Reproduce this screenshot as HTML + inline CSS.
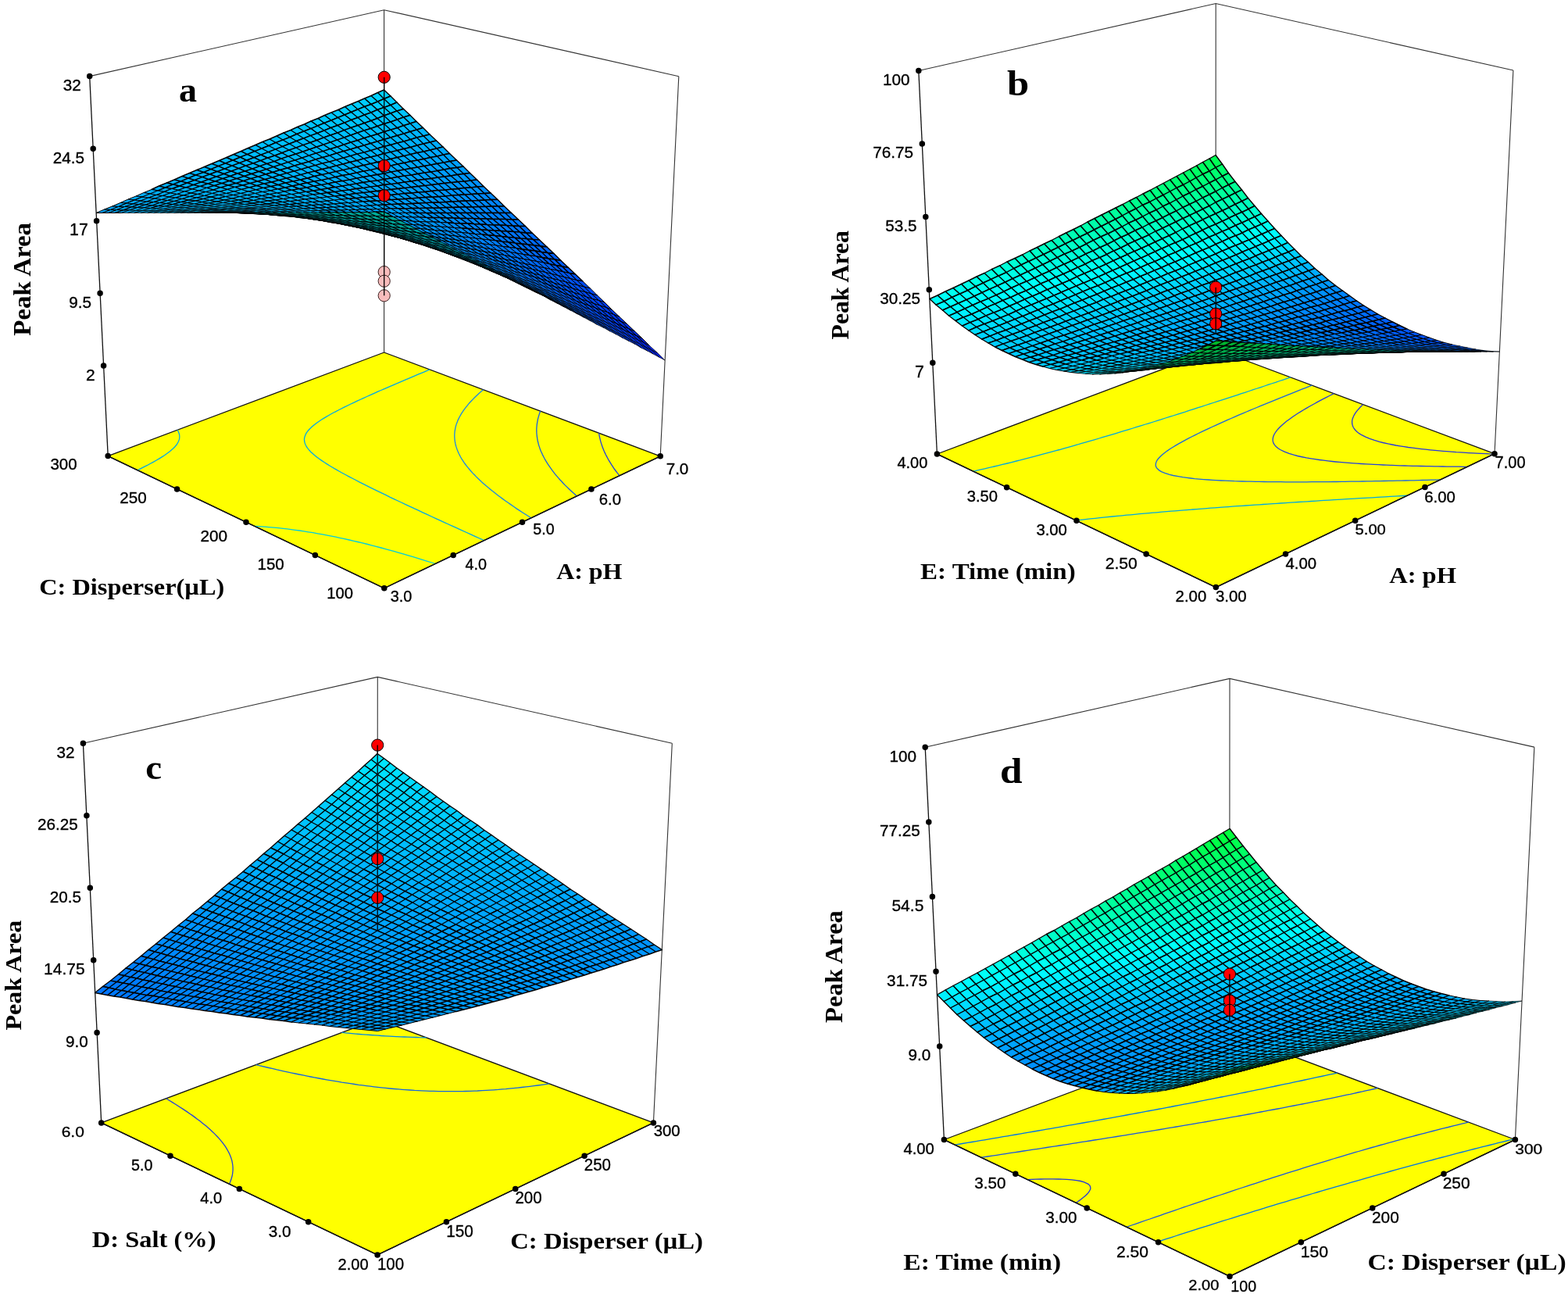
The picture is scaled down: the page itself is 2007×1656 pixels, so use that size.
<!DOCTYPE html><html><head><meta charset="utf-8"><style>
body{margin:0;background:#fff}
svg{display:block}
.bx{fill:none;stroke:#333;stroke-width:1.1}
.bx2{fill:none;stroke:#111;stroke-width:1.3}
.fl{fill:#ffff00;stroke:#111;stroke-width:1.3;stroke-linejoin:round}
.fe{fill:none;stroke:#111;stroke-width:1.4}
.ct{fill:none;stroke-width:1.3}
.sf path{stroke:#000;stroke-linejoin:round}.sf .a{stroke-width:2.8}.sf .b{stroke-width:2.0}.sf .c{stroke-width:1.3}
.dl{stroke:#000;stroke-width:1.3}
.dp{fill:#ff0000;stroke:#000;stroke-width:1}
.dq{fill:#f8bcbc;stroke:#3a2020;stroke-width:1}
.tk{stroke:#000;stroke-width:7.5;stroke-linecap:round}
.s{font-family:"Liberation Sans",Arial,sans-serif;fill:#000;stroke:#000;stroke-width:.35px}
.t{font-family:"Liberation Serif","Times New Roman",serif;font-weight:bold;fill:#000}
</style></head><body><svg xmlns="http://www.w3.org/2000/svg" width="2007" height="1656" viewBox="0 0 2007 1656"><path class="bx" d="M114.7 97.6L491.6 12.7L868.8 97.7M491.6 12.7L491.6 451M868.8 97.7L845.2 583.8"/>
<path class="bx2" d="M114.7 97.6L138.2 583.6"/>
<path class="fl" d="M491.8 752.8L845.2 583.8L491.6 451L138.2 583.6Z"/>
<path class="ct" stroke="#00a8e8" d="M227.1 550.2L228.3 552.4L229.1 554.5L229.6 556.2L229.8 558.3L229.7 561L229.4 562.4L228.4 565.1L227.3 567.2L226.1 569L224.3 571.2L222.2 573.5L219.8 575.6L217.3 577.7L213.9 580.3L210.5 582.7L207.5 584.6L203.9 586.9L199.8 589.3L196.6 591.1L191.6 593.8L188.1 595.7L183.1 598.2L177.9 600.9L176.1 601.7M619.7 691.6L613.8 689L607.9 686.3L602 683.7L596.2 681L590.3 678.4L584.5 675.7L578.8 673.1L573 670.5L568.8 668.6L563.5 666.2L557.9 663.6L552.3 661L546.7 658.4L541.1 655.8L535.5 653.2L530 650.7L524.6 648.1L519.1 645.6L513.7 643L508.3 640.5L504.8 638.8L499.4 636.3L494.2 633.7L488.9 631.2L483.7 628.7L478.5 626.1L473.4 623.6L470 621.9L465 619.4L460 616.9L455.1 614.3L450.7 612L447 610.1L442.2 607.5L437.5 605L434.4 603.2L429.8 600.6L425.3 598L422.4 596.3L418.1 593.6L415.3 591.8L411.3 589.1L408.7 587.3L404.9 584.4L402.5 582.5L400.3 580.6L397.7 578.2L395.4 575.6L393.5 573.3L392.1 571.2L391.1 569.3L390.3 567.4L389.7 565L389.5 562.6L389.6 560.9L390.2 558.4L391.1 556.2L392 554.4L393.4 552.4L395.1 550.3L397.1 548.2L399.4 546.1L402.5 543.5L405.1 541.5L407.6 539.7L411.2 537.3L414.3 535.4L417.2 533.6L421.3 531.3L424.8 529.3L428.5 527.3L433 525L435.9 523.5L440.5 521.2L445 519L448 517.5L452.6 515.3L457.2 513.1L461.9 511L465 509.6L469.6 507.5L474.3 505.4L478.9 503.3L483.6 501.2L487.6 499.5L491.4 497.8L496.1 495.8L500.7 493.8L505.4 491.8L510 489.8L514.7 487.8L519.3 485.9L522.4 484.6L527.1 482.6L531.7 480.7L536.3 478.7L540.9 476.8L545.5 474.9L550.1 473"/>
<path class="ct" stroke="#1a86e8" d="M679.8 662.9L676.6 660.8L672.2 658L668.6 655.7L665.4 653.6L660.8 650.6L657.8 648.5L653.3 645.4L650.3 643.3L647.3 641.2L643 638.1L640.2 636L637.4 633.9L633.7 631.1L630.5 628.6L627.9 626.4L625.3 624.3L622.3 621.8L619 618.9L616.5 616.7L614.2 614.5L611.8 612.3L609.6 610.1L607.4 607.8L605.2 605.6L603.1 603.3L601.1 601L599.2 598.7L597.3 596.3L595.5 594L593.8 591.6L592.2 589.2L590.7 586.8L589.5 584.7L588.5 582.8L587.3 580.5L586.2 578L585.3 575.8L584.7 574.1L583.8 571.4L583.2 569.3L582.8 567.4L582.3 564.7L582.1 563.2L581.9 560.4L581.8 558.9L581.8 556.2L581.9 554.4L582.1 552.2L582.5 549.8L582.8 548.2L583.3 545.9L584 543.4L584.6 541.7L585.3 539.9L586.2 537.6L587.3 535.4L588.4 533.2L589.6 531.1L590.7 529.2L591.9 527.3L593.2 525.4L594.7 523.4L596.2 521.4L597.9 519.3L599.6 517.2L601.5 515L603.4 513L605.2 511.1L607 509.3L608.8 507.5L610.7 505.7L613.3 503.3L615.6 501.3L617.6 499.6L618.6 498.7"/>
<path class="ct" stroke="#1a5ee0" d="M738.3 634.9L735.7 632.6L733.2 630.3L730.7 628L728.3 625.7L725.9 623.4L723.5 621.1L721.2 618.7L719 616.3L716.8 614L714.7 611.6L712.6 609.2L710.6 606.8L708.7 604.3L706.8 601.9L705.2 599.7L703.8 597.7L702.4 595.7L700.7 593.2L699.2 590.7L697.8 588.3L696.8 586.5L695.6 584.2L694.3 581.6L693.4 579.6L692.5 577.7L691.4 575L690.8 573.1L690 570.9L689.3 568.5L688.9 566.8L688.2 564L687.9 562.5L687.5 559.7L687.3 558.2L687 555.5L686.9 553.8L686.8 551.4L686.8 549.3L686.9 547.5L687.1 545L687.3 543.1L687.6 541.2L688 538.8L688.4 536.7L688.8 535.1L689.4 532.9L690.1 530.6L690.8 528.4L691.5 526.6L691.7 526.1"/>
<path class="ct" stroke="#2440dc" d="M792.9 608.8L791.3 606.7L789.7 604.7L788.1 602.5L786.2 600L784.5 597.4L783 595.2L781.9 593.4L780.4 590.9L778.8 588.3L777.7 586.3L776.7 584.4L775.3 581.7L774.3 579.6L773.4 577.7L772.3 575L771.6 573.2L770.7 570.8L770 568.6L769.3 566.6L768.6 564.1L768.2 562.4L767.6 559.8L767.2 558.1L766.8 555.6L766.6 554.2"/>
<path class="ct" stroke="#00cce0" d="M557.4 721.5L552.6 720L545.5 717.8L540.8 716.3L533.6 714.1L528.8 712.7L521.7 710.6L516.9 709.2L509.6 707.1L504.8 705.7L498 703.8L492.6 702.3L487.7 701L480.4 699.1L475.4 697.8L470.4 696.5L462.9 694.7L457.9 693.5L452.8 692.3L447.1 691L440 689.4L434.8 688.3L429.6 687.2L424.3 686.1L419 685.1L412.7 683.9L406.5 682.8L400.5 681.7L394.6 680.8L388.9 679.9L383.3 679L377.9 678.3L372.6 677.6L367.5 676.9L362.4 676.4L356.5 675.7L350.3 675.1L344 674.6L338.8 674.1L334.3 673.8L327.6 673.4L325.7 673.3"/>
<path class="fe" d="M138.2 583.6L491.8 752.8L845.2 583.8"/>
<g class="sf" transform="scale(.5)">
<path class="a" fill="#00d0ff" d="M983 253l17-7-17-16-16 7zM967 260l16-7-16-16-17 8zM950 267l17-7-17-15-17 7z"/>
<path class="a" fill="#00ccff" d="M1000 269l16-7-16-16-17 7zM983 275l17-6-17-16-16 7zM966 281l17-6-16-15-17 7zM933 273l17-6-17-15-16 7zM916 280l17-7-16-14-17 7zM899 287l17-7-16-14-17 7zM882 294l17-7-16-14-17 8z"/>
<path class="a" fill="#00c8ff" d="M1016 284l17-5-17-17-16 7zM1000 290l16-6-16-15-17 6zM983 296l17-6-17-15-17 6zM950 288l16-7-16-14-17 6zM933 294l17-6-17-15-17 7zM916 301l17-7-17-14-17 7zM899 307l17-6-17-14-17 7zM865 301l17-7-16-13-18 7zM848 308l17-7-17-13-17 7zM830 315l18-7-17-13-17 8zM813 322l17-7-16-12-18 7z"/>
<path class="a" fill="#00c4ff" d="M1033 300l17-5-17-16-17 5zM1017 306l16-6-17-16-16 6zM966 303l17-7-17-15-16 7zM950 309l16-6-16-15-17 6zM933 315l17-6-17-15-17 7zM916 321l17-6-17-14-17 6zM882 314l17-7-17-13-17 7zM898 327l18-6-17-14-17 7zM864 321l18-7-17-13-17 7zM847 327l17-6-16-13-18 7zM830 334l17-7-17-12-17 7zM796 329l17-7-17-12-17 8zM812 341l18-7-17-12-17 7zM778 336l18-7-17-11-18 7zM760 343l18-7-17-11-17 8zM742 351l18-8-16-10-18 7z"/>
<path class="a" fill="#00c0ff" d="M1050 316l16-5-16-16-17 5zM1000 312l17-6-17-16-17 6zM983 317l17-5-17-16-17 7zM966 323l17-6-17-14-16 6zM949 329l17-6-16-14-17 6zM932 334l17-5-16-14-17 6zM915 340l17-6-16-13-18 6zM881 333l17-6-16-13-18 7zM898 346l17-6-17-13-17 6zM864 340l17-7-17-12-17 6zM881 352l17-6-17-13-17 7zM846 346l18-6-17-13-17 7zM829 352l17-6-16-12-18 7zM795 347l17-6-16-12-18 7zM811 359l18-7-17-11-17 6zM777 354l18-7-17-11-18 7zM794 365l17-6-16-12-18 7zM759 361l18-7-17-11-18 8zM724 358l18-7-16-11-18 8zM741 368l18-7-17-10-18 7zM706 365l18-7-16-10-18 8zM723 375l18-7-17-10-18 7zM688 373l18-8-16-9-18 7zM670 380l18-7-16-10-18 8z"/>
<path class="a" fill="#00b8ff" d="M1067 332l16-5-17-16-16 5zM1050 337l17-5-17-16-17 5zM1034 342l16-5-17-16-16 6zM1017 347l17-5-17-15-17 5zM1000 352l17-5-17-15-17 5zM983 357l17-5-17-15-17 6zM966 362l17-5-17-14-17 5zM949 367l17-5-17-14-17 5zM932 372l17-5-17-14-17 6zM915 377l17-5-17-13-17 5zM897 382l18-5-17-13-18 6zM880 387l17-5-17-12-17 6zM862 392l18-5-17-11-18 5zM827 387l18-6-17-11-18 6zM844 398l18-6-17-11-18 6zM809 392l18-5-17-11-18 6zM826 403l18-5-17-11-18 5zM791 398l18-6-17-10-17 6zM808 408l18-5-17-11-18 6zM773 404l18-6-16-10-18 6zM790 414l18-6-17-10-18 6zM755 410l18-6-16-10-19 6zM720 406l18-6-16-9-19 7zM772 419l18-5-17-10-18 6zM737 415l18-5-17-10-18 6zM702 413l18-7-17-8-18 6zM667 411l18-7-17-8-18 7zM754 424l18-5-17-9-18 5zM719 421l18-6-17-9-18 7zM683 419l19-6-17-9-18 7zM577 418l19-8-16-7-19 8zM648 418l19-7-17-8-19 7zM613 417l18-7-16-8-19 8zM736 430l18-6-17-9-18 6zM700 427l19-6-17-8-19 6zM559 425l18-7-16-7-19 8zM665 425l18-6-16-8-19 7zM594 424l19-7-17-7-19 8zM629 424l19-6-17-8-18 7zM717 435l19-5-17-9-19 6zM540 433l19-8-17-6-19 8zM682 433l18-6-17-8-18 6zM575 432l19-8-17-6-18 7zM646 432l19-7-17-7-19 6zM611 431l18-7-16-7-19 7zM521 441l19-8-17-6-19 8zM698 441l19-6-17-8-18 6zM556 439l19-7-16-7-19 8zM663 439l19-6-17-8-19 7zM592 438l19-7-17-7-19 8zM627 438l19-6-17-8-18 7zM537 446l19-7-16-6-19 8zM680 446l18-5-16-8-19 6zM573 445l19-7-17-6-19 7zM644 445l19-6-17-7-19 6zM608 444l19-6-16-7-19 7zM589 451l19-7-16-6-19 7zM625 451l19-6-17-7-19 6z"/>
<path class="a" fill="#00bcff" d="M1033 321l17-5-17-16-16 6zM1017 327l16-6-16-15-17 6zM1000 332l17-5-17-15-17 5zM983 337l17-5-17-15-17 6zM966 343l17-6-17-14-17 6zM949 348l17-5-17-14-17 5zM932 353l17-5-17-14-17 6zM915 359l17-6-17-13-17 6zM898 364l17-5-17-13-17 6zM863 358l18-6-17-12-18 6zM880 370l18-6-17-12-18 6zM846 364l17-6-17-12-17 6zM863 376l17-6-17-12-17 6zM828 370l18-6-17-12-18 7zM845 381l18-5-17-12-18 6zM810 376l18-6-17-11-17 6zM776 371l18-6-17-11-18 7zM792 382l18-6-16-11-18 6zM758 378l18-7-17-10-18 7zM775 388l17-6-16-11-18 7zM740 384l18-6-17-10-18 7zM705 382l18-7-17-10-18 8zM757 394l18-6-17-10-18 6zM722 391l18-7-17-9-18 7zM687 389l18-7-17-9-18 7zM652 387l18-7-16-9-19 8zM738 400l19-6-17-10-18 7zM703 398l19-7-17-9-18 7zM668 396l19-7-17-9-18 7zM633 395l19-8-17-8-18 8zM685 404l18-6-16-9-19 7zM650 403l18-7-16-9-19 8zM615 402l18-7-16-8-19 8zM596 410l19-8-17-7-18 8zM631 410l19-7-17-8-18 7z"/>
<path class="a" fill="#00b4ff" d="M1084 348l16-4-17-17-16 5zM1067 352l17-4-17-16-17 5zM1051 357l16-5-17-15-16 5zM1034 362l17-5-17-15-17 5zM1017 366l17-4-17-15-17 5zM1000 371l17-5-17-14-17 5zM983 375l17-4-17-14-17 5zM966 380l17-5-17-13-17 5zM949 385l17-5-17-13-17 5zM966 398l17-5-17-13-17 5zM932 390l17-5-17-13-17 5zM949 402l17-4-17-13-17 5zM914 394l18-4-17-13-18 5zM931 406l18-4-17-12-18 4zM897 399l17-5-17-12-17 5zM914 411l17-5-17-12-17 5zM879 404l18-5-17-12-18 5zM896 415l18-4-17-12-18 5zM861 409l18-5-17-12-18 6zM878 420l18-5-17-11-18 5zM843 414l18-5-17-11-18 5zM861 424l17-4-17-11-18 5zM825 418l18-4-17-11-18 5zM843 429l18-5-18-10-18 4zM807 423l18-5-17-10-18 6zM825 433l18-4-18-11-18 5zM789 428l18-5-17-9-18 5zM806 438l19-5-18-10-18 5zM771 433l18-5-17-9-18 5zM788 442l18-4-17-10-18 5zM753 438l18-5-17-9-18 6zM805 451l19-4-18-9-18 4zM770 447l18-5-17-9-18 5zM734 443l19-5-17-8-19 5zM787 456l18-5-17-9-18 5zM751 452l19-5-17-9-19 5zM501 448l20-7-17-6-19 8zM716 448l18-5-17-8-19 6zM769 460l18-4-17-9-19 5zM482 456l19-8-16-5-19 8zM733 456l18-4-17-9-18 5zM518 453l19-7-16-5-20 7zM697 454l19-6-18-7-18 5zM554 452l19-7-17-6-19 7zM661 452l19-6-17-7-19 6zM463 464l19-8-16-5-20 9zM750 464l19-4-18-8-18 4zM498 461l20-8-17-5-19 8zM714 461l19-5-17-8-19 6zM534 459l20-7-17-6-19 7zM678 459l19-5-17-8-19 6zM570 457l19-6-16-6-19 7zM642 457l19-5-17-7-19 6zM606 457l19-6-17-7-19 7zM443 472l20-8-17-4-19 8zM767 472l19-4-17-8-19 4zM479 468l19-7-16-5-19 8zM731 468l19-4-17-8-19 5zM515 466l19-7-16-6-20 8zM695 466l19-5-17-7-19 5zM551 464l19-7-16-5-20 7zM659 464l19-5-17-7-19 5zM587 463l19-6-17-6-19 6zM623 463l19-6-17-6-19 6zM459 476l20-8-16-4-20 8zM748 476l19-4-17-8-19 4zM495 473l20-7-17-5-19 7zM712 473l19-5-17-7-19 5zM532 470l19-6-17-5-19 7zM676 470l19-4-17-7-19 5zM568 469l19-6-17-6-19 7zM640 469l19-5-17-7-19 6zM604 469l19-6-17-6-19 6zM476 480l19-7-16-5-20 8zM730 480l18-4-17-8-19 5zM512 477l20-7-17-4-20 7zM693 477l19-4-17-7-19 4zM548 475l20-6-17-5-19 6zM657 475l19-5-17-6-19 5zM584 474l20-5-17-6-19 6zM621 474l19-5-17-6-19 6zM456 487l20-7-17-4-19 7zM747 487l19-4-18-7-18 4zM492 484l20-7-17-4-19 7zM711 484l19-4-18-7-19 4zM529 481l19-6-16-5-20 7zM674 481l19-4-17-7-19 5zM565 480l19-6-16-5-20 6zM638 480l19-5-17-6-19 5zM601 479l20-5-17-5-20 5zM728 490l19-3-17-7-19 4zM692 488l19-4-18-7-19 4zM546 486l19-6-17-5-19 6zM655 486l19-5-17-6-19 5zM582 485l19-6-17-5-19 6zM618 485l20-5-17-6-20 5z"/>
<path class="a" fill="#00b0ff" d="M1101 364l16-4-17-16-16 4zM1084 368l17-4-17-16-17 4zM1068 372l16-4-17-16-16 5zM1051 377l17-5-17-15-17 5zM1034 381l17-4-17-15-17 4zM1017 385l17-4-17-15-17 5zM1000 389l17-4-17-14-17 4zM1017 403l17-4-17-14-17 4zM983 393l17-4-17-14-17 5zM1000 407l17-4-17-14-17 4zM983 411l17-4-17-14-17 5zM966 415l17-4-17-13-17 4zM949 419l17-4-17-13-18 4zM931 423l18-4-18-13-17 5zM913 427l18-4-17-12-18 4zM896 431l17-4-17-12-18 5zM913 442l18-4-18-11-17 4zM878 435l18-4-18-11-17 4zM895 446l18-4-17-11-18 4zM860 439l18-4-17-11-18 5zM877 449l18-3-17-11-18 4zM842 443l18-4-17-10-18 4zM859 453l18-4-17-10-18 4zM824 447l18-4-17-10-19 5zM841 457l18-4-17-10-18 4zM858 466l19-3-18-10-18 4zM823 461l18-4-17-10-19 4zM840 470l18-4-17-9-18 4zM804 464l19-3-18-10-18 5zM822 473l18-3-17-9-19 3zM786 468l18-4-17-8-18 4zM839 482l19-3-18-9-18 3zM803 476l19-3-18-9-18 4zM821 485l18-3-17-9-19 3zM423 480l20-8-16-4-20 8zM785 480l18-4-17-8-19 4zM838 493l19-2-18-9-18 3zM404 488l19-8-16-4-19 9zM802 488l19-3-18-9-18 4zM440 483l19-7-16-4-20 8zM766 483l19-3-18-8-19 4zM820 496l18-3-17-8-19 3zM420 491l20-8-17-3-19 8zM783 491l19-3-17-8-19 3zM838 504l18-2-18-9-18 3zM801 498l19-2-18-8-19 3zM765 494l18-3-17-8-19 4z"/>
<path class="a" fill="#00acff" d="M1118 380l16-4-17-16-16 4zM1101 384l17-4-17-16-17 4zM1085 388l16-4-17-16-16 4zM1068 391l17-3-17-16-17 5zM1051 395l17-4-17-14-17 4zM1034 399l17-4-17-14-17 4zM1052 413l17-3-18-15-17 4zM1035 417l17-4-18-14-17 4zM1018 420l17-3-18-14-17 4zM1001 424l17-4-18-13-17 4zM983 428l18-4-18-13-17 4zM966 431l17-3-17-13-17 4zM948 435l18-4-17-12-18 4zM966 447l17-3-17-13-18 4zM931 438l17-3-17-12-18 4zM948 450l18-3-18-12-17 3zM930 453l18-3-17-12-18 4zM913 456l17-3-17-11-18 4zM930 467l18-3-18-11-17 3zM895 460l18-4-18-10-18 3zM912 470l18-3-17-11-18 4zM877 463l18-3-18-11-18 4zM894 473l18-3-17-10-18 3zM912 483l18-2-18-11-18 3zM876 476l18-3-17-10-19 3zM894 486l18-3-18-10-18 3zM858 479l18-3-18-10-18 4zM875 488l19-2-18-10-18 3zM893 498l18-3-17-9-19 2zM857 491l18-3-17-9-19 3zM875 500l18-2-18-10-18 3zM893 509l18-2-18-9-18 2zM856 502l19-2-18-9-19 2zM874 510l19-1-18-9-19 2z"/>
<path class="a" fill="#00a8ff" d="M1135 396l16-3-17-17-16 4zM1119 400l16-4-17-16-17 4zM1102 403l17-3-18-16-16 4zM1085 407l17-4-17-15-17 3zM1069 410l16-3-17-16-17 4zM1069 428l17-3-17-15-17 3zM1052 431l17-3-17-15-17 4zM1035 434l17-3-17-14-17 3zM1018 437l17-3-17-14-17 4zM1001 440l17-3-17-13-18 4zM1018 453l17-3-17-13-17 3zM983 444l18-4-18-12-17 3zM1001 456l17-3-17-13-18 4zM983 459l18-3-18-12-17 3zM966 462l17-3-17-12-18 3zM983 473l18-2-18-12-17 3zM948 464l18-2-18-12-18 3zM966 476l17-3-17-11-18 2zM948 478l18-2-18-12-18 3zM965 489l18-2-17-11-18 2zM930 481l18-3-18-11-18 3zM948 491l17-2-17-11-18 3zM930 493l18-2-18-10-18 2zM947 504l18-2-17-11-18 2zM911 495l19-2-18-10-18 3zM929 505l18-1-17-11-19 2zM947 515l18-1-18-10-18 1zM911 507l18-2-18-10-18 3zM929 516l18-1-18-10-18 2zM947 526l18-1-18-10-18 1zM911 518l18-2-18-9-18 2z"/>
<path class="a" fill="#00a4ff" d="M1152 413l17-3-18-17-16 3zM1136 416l16-3-17-17-16 4zM1119 419l17-3-17-16-17 3zM1103 422l16-3-17-16-17 4zM1086 425l17-3-18-15-16 3zM1087 442l16-2-17-15-17 3zM1070 445l17-3-18-14-17 3zM1053 448l17-3-18-14-17 3zM1035 450l18-2-18-14-17 3zM1053 464l17-3-17-13-18 2zM1036 466l17-2-18-14-17 3zM1018 469l18-3-18-13-17 3zM1001 471l17-2-17-13-18 3zM1019 483l17-2-18-12-17 2zM1001 485l18-2-18-12-18 2zM983 487l18-2-18-12-17 3zM1001 499l18-2-18-12-18 2zM983 500l18-1-18-12-18 2zM965 502l18-2-18-11-17 2zM983 513l18-2-18-11-18 2zM965 514l18-1-18-11-18 2zM983 524l18-1-18-10-18 1zM965 525l18-1-18-10-18 1zM983 535l18-1-18-10-18 1z"/>
<path class="a" fill="#00a0ff" d="M1170 429l16-3-17-16-17 3zM1153 431l17-2-18-16-16 3zM1137 434l16-3-17-15-17 3zM1120 437l17-3-18-15-16 3zM1103 440l17-3-17-15-17 3zM1121 454l17-2-18-15-17 3zM1104 457l17-3-18-14-16 2zM1087 459l17-2-17-15-17 3zM1070 461l17-2-17-14-17 3zM1071 477l17-2-18-14-17 3zM1053 479l18-2-18-13-17 2zM1036 481l17-2-17-13-18 3zM1054 494l17-2-18-13-17 2zM1036 495l18-1-18-13-17 2zM1019 497l17-2-17-12-18 2zM1037 509l17-1-18-13-17 2zM1019 510l18-1-18-12-18 2zM1001 511l18-1-18-11-18 1zM1019 522l18 0-18-12-18 1zM1001 523l18-1-18-11-18 2zM1019 534l18 0-18-12-18 1zM1001 534l18 0-18-11-18 1z"/>
<path class="a" fill="#009cff" d="M1187 445l16-2-17-17-16 3zM1171 447l16-2-17-16-17 2zM1154 450l17-3-18-16-16 3zM1138 452l16-2-17-16-17 3zM1138 469l17-2-17-15-17 2zM1122 471l16-2-17-15-17 3zM1105 473l17-2-18-14-17 2zM1088 475l17-2-18-14-17 2zM1105 489l17-2-17-14-17 2zM1088 491l17-2-17-14-17 2zM1071 492l17-1-17-14-18 2zM1089 505l17-1-18-13-17 1zM1072 506l17-1-18-13-17 2zM1054 508l18-2-18-12-18 1zM1072 520l18-1-18-13-18 2zM1055 521l17-1-18-12-17 1zM1037 522l18-1-18-12-18 1zM1055 533l18 0-18-12-18 1zM1037 534l18-1-18-11-18 0zM1056 545l17 0-18-12-18 1zM1038 545l18 0-19-11-18 0z"/>
<path class="a" fill="#0094ff" d="M1205 462l16-2-18-17-16 2zM1206 480l16-2-17-16-17 2zM1189 481l17-1-18-16-16 1zM1173 483l16-2-17-16-17 2zM1174 499l16-1-17-15-17 1zM1157 500l17-1-18-15-17 2zM1140 502l17-2-18-14-17 1zM1158 516l17-1-18-15-17 2zM1141 517l17-1-18-14-17 1zM1124 518l17-1-18-14-17 1zM1142 531l17 0-18-14-17 1zM1125 532l17-1-18-13-17 0zM1126 545l17 0-18-13-17 0zM1108 545l18 0-18-13-18 0zM1127 557l17 1-18-13-18 0zM1109 557l18 0-19-12-17 0zM1127 569l18 1-18-13-18 0zM1110 568l17 1-18-12-17 0z"/>
<path class="a" fill="#0090ff" d="M1222 478l16-1-17-17-16 2zM1223 496l17-1-18-17-16 2zM1207 497l16-1-17-16-17 1zM1190 498l17-1-18-16-16 2zM1192 514l16 0-18-16-16 1zM1175 515l17-1-18-15-17 1zM1176 530l17 0-18-15-17 1zM1159 531l17-1-18-14-17 1zM1160 545l17 0-18-14-17 0zM1143 545l17 0-18-14-17 1zM1161 558l17 1-18-14-17 0zM1144 558l17 0-18-13-17 0zM1145 570l17 1-18-13-17-1z"/>
<path class="a" fill="#0098ff" d="M1188 464l17-2-18-17-16 2zM1172 465l16-1-17-17-17 3zM1155 467l17-2-18-15-16 2zM1156 484l17-1-18-16-17 2zM1139 486l17-2-18-15-16 2zM1122 487l17-1-17-15-17 2zM1123 503l17-1-18-15-17 2zM1106 504l17-1-18-14-17 2zM1107 518l17 0-18-14-17 1zM1090 519l17-1-18-13-17 1zM1108 532l17 0-18-14-17 1zM1090 532l18 0-18-13-18 1zM1073 533l17-1-18-12-17 1zM1091 545l17 0-18-13-17 1zM1073 545l18 0-18-12-18 0zM1092 557l17 0-18-12-18 0zM1074 556l18 1-19-12-17 0z"/>
<path class="a" fill="#008cff" d="M1240 495l16-1-18-17-16 1zM1225 513l16-1-18-16-16 1zM1208 514l17-1-18-16-17 1zM1209 530l17-1-18-15-16 0zM1193 530l16 0-17-16-17 1zM1194 545l17 0-18-15-17 0zM1177 545l17 0-18-15-17 1zM1178 559l17 0-18-14-17 0zM1179 572l18 0-19-13-17-1zM1162 571l17 1-18-14-17 0zM1181 584l17 1-19-13-17-1zM1163 583l18 1-19-13-17-1z"/>
<path class="a" fill="#0088ff" d="M1257 511l17 0-18-17-16 1zM1241 512l16-1-17-16-17 1zM1243 529l16-1-18-16-16 1zM1226 529l17 0-18-16-17 1zM1227 545l17 0-18-16-17 1zM1211 545l16 0-18-15-16 0zM1212 559l17 1-18-15-17 0zM1195 559l17 0-18-14-17 0zM1213 573l17 1-18-15-17 0zM1197 572l16 1-18-14-17 0zM1198 585l17 1-18-14-18 0zM1199 597l17 2-18-14-17-1z"/>
<path class="a" fill="#0084ff" d="M1275 528l16 0-17-17-17 0zM1259 528l16 0-18-17-16 1zM1260 545l17 0-18-17-16 1zM1244 545l16 0-17-16-17 0zM1246 560l16 1-18-16-17 0zM1229 560l17 0-19-15-16 0zM1230 574l17 1-18-15-17-1zM1232 588l17 1-19-15-17-1zM1215 586l17 2-19-15-16-1zM1233 600l17 2-18-14-17-2zM1216 599l17 1-18-14-17-1z"/>
<path class="a" fill="#0080ff" d="M1293 545l16 0-18-17-16 0zM1277 545l16 0-18-17-16 0zM1278 561l17 0-18-16-17 0zM1262 561l16 0-18-16-16 0zM1264 576l16 0-18-15-16-1zM1247 575l17 1-18-16-17 0zM1265 590l17 1-18-15-17-1zM1249 589l16 1-18-15-17-1zM1250 602l17 1-18-14-17-1zM1252 614l17 2-19-14-17-2z"/>
<path class="a" fill="#007cff" d="M1311 562l16 0-18-17-16 0zM1295 561l16 1-18-17-16 0zM1297 577l16 1-18-17-17 0zM1280 576l17 1-19-16-16 0zM1282 591l16 1-18-16-16 0zM1284 605l16 2-18-16-17-1zM1267 603l17 2-19-15-16-1zM1269 616l16 2-18-15-17-1z"/>
<path class="a" fill="#0078ff" d="M1329 579l16 0-18-17-16 0zM1313 578l16 1-18-17-16-1zM1315 593l16 1-18-16-16-1zM1298 592l17 1-18-16-17-1zM1300 607l17 1-19-16-16-1zM1302 620l17 2-19-15-16-2zM1285 618l17 2-18-15-17-2zM1304 633l17 2-19-15-17-2zM1287 631l17 2-19-15-16-2z"/>
<path class="a" fill="#0070ff" d="M1347 596l16 1-18-18-16 0zM1349 611l16 2-18-17-16-2zM1351 626l16 2-18-17-16-1zM1335 624l16 2-18-16-16-2zM1337 638l16 2-18-16-16-2zM1339 651l17 3-19-16-16-3z"/>
<path class="a" fill="#006cff" d="M1365 613l16 1-18-17-16-1zM1367 628l17 2-19-17-16-2zM1370 642l16 3-19-17-16-2zM1353 640l17 2-19-16-16-2zM1356 654l16 2-19-16-16-2z"/>
<path class="a" fill="#0074ff" d="M1331 594l16 2-18-17-16-1zM1333 610l16 1-18-17-16-1zM1317 608l16 2-18-17-17-1zM1319 622l16 2-18-16-17-1zM1321 635l16 3-18-16-17-2z"/>
<path class="a" fill="#0068ff" d="M1384 630l16 2-19-18-16-1zM1386 645l16 2-18-17-17-2zM1372 656l16 3-18-17-17-2z"/>
<path class="a" fill="#0064ff" d="M1402 647l16 2-18-17-16-2zM1404 662l16 2-18-17-16-2zM1388 659l16 3-18-17-16-3zM1391 672l16 4-19-17-16-3z"/>
<path class="a" fill="#0060ff" d="M1420 664l16 3-18-18-16-2zM1423 679l16 3-19-18-16-2zM1407 676l16 3-19-17-16-3z"/>
<path class="a" fill="#005cff" d="M1439 682l16 3-19-18-16-3zM1442 696l15 3-18-17-16-3zM1426 692l16 4-19-17-16-3z"/>
<path class="a" fill="#0058ff" d="M1457 699l16 3-18-17-16-3z"/>
<path class="a" fill="#0054ff" d="M1476 717l16 3-19-18-16-3z"/>
<path class="b" fill="#004cfc" d="M1495 734l16 4-19-18-16-3z"/>
<path class="b" fill="#0054ff" d="M1460 713l16 4-19-18-15-3z"/>
<path class="b" fill="#0048fc" d="M1514 752l15 4-18-18-16-4z"/>
<path class="b" fill="#0050fc" d="M1479 730l16 4-19-17-16-4z"/>
<path class="b" fill="#0044f8" d="M1533 769l15 5-19-18-15-4z"/>
<path class="b" fill="#0058fc" d="M1444 709l16 4-18-17-16-4z"/>
<path class="b" fill="#004cf8" d="M1498 747l16 5-19-18-16-4z"/>
<path class="b" fill="#0060ff" d="M1409 689l17 3-19-16-16-4z"/>
<path class="b" fill="#003cf4" d="M1552 787l15 6-19-19-15-5z"/>
<path class="b" fill="#0054fc" d="M1463 726l16 4-19-17-16-4z"/>
<path class="b" fill="#0068ff" d="M1374 669l17 3-19-16-16-2z"/>
<path class="b" fill="#0048f4" d="M1517 765l16 4-19-17-16-5zM1501 760l16 5-19-18-16-4z"/>
<path class="b" fill="#005cfc" d="M1428 705l16 4-18-17-17-3z"/>
<path class="b" fill="#0038f0" d="M1571 805l15 6-19-18-15-6z"/>
<path class="b" fill="#0050f8" d="M1482 743l16 4-19-17-16-4z"/>
<path class="b" fill="#0064fc" d="M1393 685l16 4-18-17-17-3z"/>
<path class="b" fill="#0040f4" d="M1536 782l16 5-19-18-16-4z"/>
<path class="b" fill="#0058f8" d="M1447 721l16 5-19-17-16-4z"/>
<path class="b" fill="#0034f0" d="M1590 823l15 6-19-18-15-6z"/>
<path class="b" fill="#006cff" d="M1358 666l16 3-18-15-17-3z"/>
<path class="b" fill="#0060f8" d="M1412 701l16 4-19-16-16-4zM1396 697l16 4-19-16-16-3z"/>
<path class="b" fill="#0074ff" d="M1323 648l16 3-18-16-17-2z"/>
<path class="b" fill="#003cf0" d="M1555 799l16 6-19-18-16-5z"/>
<path class="b" fill="#0054f4" d="M1466 738l16 5-19-17-16-5zM1450 733l16 5-19-17-16-4z"/>
<path class="b" fill="#0030ec" d="M1609 841l16 7-20-19-15-6z"/>
<path class="b" fill="#0068fc" d="M1377 682l16 3-19-16-16-3z"/>
<path class="b" fill="#0044f0" d="M1520 777l16 5-19-17-16-5z"/>
<path class="b" fill="#005cf8" d="M1431 717l16 4-19-16-16-4z"/>
<path class="b" fill="#0070fc" d="M1341 663l17 3-19-15-16-3zM1325 660l16 3-18-15-17-3z"/>
<path class="b" fill="#0038ec" d="M1574 817l16 6-19-18-16-6z"/>
<path class="b" fill="#002ce8" d="M1629 859l15 7-19-18-16-7z"/>
<path class="b" fill="#004cf4" d="M1485 754l16 6-19-17-16-5z"/>
<path class="b" fill="#0074fc" d="M1306 645l17 3-19-15-17-2z"/>
<path class="b" fill="#0040ec" d="M1539 794l16 5-19-17-16-5z"/>
<path class="b" fill="#007cff" d="M1270 628l17 3-18-15-17-2z"/>
<path class="b" fill="#0068f8" d="M1360 678l17 4-19-16-17-3z"/>
<path class="b" fill="#0034e8" d="M1594 835l15 6-19-18-16-6z"/>
<path class="b" fill="#0024e4" d="M1648 877l15 8-19-19-15-7z"/>
<path class="b" fill="#0048f0" d="M1504 771l16 6-19-17-16-6z"/>
<path class="b" fill="#0084ff" d="M1235 612l17 2-19-14-17-1zM1218 610l17 2-19-13-17-2z"/>
<path class="b" fill="#005cf4" d="M1415 713l16 4-19-16-16-4z"/>
<path class="b" fill="#003cec" d="M1559 811l15 6-19-18-16-5z"/>
<path class="b" fill="#0050f0" d="M1469 749l16 5-19-16-16-5z"/>
<path class="b" fill="#0078fc" d="M1289 642l17 3-19-14-17-3z"/>
<path class="b" fill="#0064f8" d="M1379 693l17 4-19-15-17-4z"/>
<path class="c" fill="#0020e0" d="M1668 896l15 7-20-18-15-8z"/>
<path class="b" fill="#0044ec" d="M1524 788l15 6-19-17-16-6z"/>
<path class="b" fill="#0080fc" d="M1254 626l16 2-18-14-17-2zM1236 624l18 2-19-14-17-2z"/>
<path class="b" fill="#0058f0" d="M1434 729l16 4-19-16-16-4z"/>
<path class="b" fill="#006cf8" d="M1344 675l16 3-19-15-16-3z"/>
<path class="b" fill="#0038e8" d="M1578 828l16 7-20-18-15-6z"/>
<path class="b" fill="#004cec" d="M1488 766l16 5-19-17-16-5z"/>
<path class="b" fill="#0028e4" d="M1633 870l15 7-19-18-16-7z"/>
<path class="b" fill="#0074f8" d="M1308 657l17 3-19-15-17-3zM1291 653l17 4-19-15-17-2z"/>
<path class="b" fill="#0060f4" d="M1398 709l17 4-19-16-17-4z"/>
<path class="c" fill="#001ce0" d="M1687 914l15 8-19-19-15-7z"/>
<path class="b" fill="#008cff" d="M1182 595l17 2-18-13-18-1z"/>
<path class="b" fill="#0040e8" d="M1543 805l16 6-20-17-15-6z"/>
<path class="b" fill="#0078f8" d="M1272 640l17 2-19-14-16-2z"/>
<path class="b" fill="#0054f0" d="M1453 744l16 5-19-16-16-4z"/>
<path class="b" fill="#0068f4" d="M1363 689l16 4-19-15-16-3zM1346 685l17 4-19-14-17-4z"/>
<path class="b" fill="#0090ff" d="M1146 581l17 2-18-13-18-1z"/>
<path class="c" fill="#0024e0" d="M1652 888l16 8-20-19-15-7z"/>
<path class="b" fill="#0048ec" d="M1508 782l16 6-20-17-16-5z"/>
<path class="b" fill="#005cf0" d="M1417 724l17 5-19-16-17-4z"/>
<path class="b" fill="#0070f4" d="M1327 671l17 4-19-15-17-3zM1310 667l17 4-19-14-17-4z"/>
<path class="b" fill="#003ce4" d="M1562 821l16 7-19-17-16-6z"/>
<path class="b" fill="#0088fc" d="M1201 608l17 2-19-13-17-2z"/>
<path class="b" fill="#0050ec" d="M1472 760l16 6-19-17-16-5z"/>
<path class="c" fill="#0030e0" d="M1617 863l16 7-20-18-15-7z"/>
<path class="b" fill="#0064f0" d="M1382 704l16 5-19-16-16-4zM1365 700l17 4-19-15-17-4z"/>
<path class="b" fill="#008cfc" d="M1164 594l18 1-19-12-17-2zM1147 592l17 2-18-13-18-1z"/>
<path class="c" fill="#0020dc" d="M1672 906l15 8-19-18-16-8z"/>
<path class="b" fill="#0044e8" d="M1527 798l16 7-19-17-16-6z"/>
<path class="b" fill="#007cf8" d="M1255 637l17 3-18-14-18-2z"/>
<path class="b" fill="#0058ec" d="M1437 739l16 5-19-15-17-5z"/>
<path class="b" fill="#0090fc" d="M1128 580l18 1-19-12-17-1z"/>
<path class="b" fill="#0038e4" d="M1582 838l16 7-20-17-16-7z"/>
<path class="b" fill="#0080f8" d="M1219 621l17 3-18-14-17-2z"/>
<path class="b" fill="#0098ff" d="M1092 568l18 0-18-11-18-1z"/>
<path class="b" fill="#0060ec" d="M1401 719l16 5-19-15-16-5zM1384 714l17 5-19-15-17-4z"/>
<path class="b" fill="#009cff" d="M1056 556l18 0-18-11-18 0z"/>
<path class="b" fill="#0088f8" d="M1183 606l18 2-19-13-18-1zM1166 604l17 2-19-12-17-2z"/>
<path class="b" fill="#0040e4" d="M1547 815l15 6-19-16-16-7z"/>
<path class="b" fill="#00b0ff" d="M384 496l20-8-16-3-20 8zM436 494l20-7-16-4-20 8zM819 506l19-2-18-8-19 2zM782 501l19-3-18-7-18 3z"/>
<path class="b" fill="#00a0ff" d="M1020 545l18 0-19-11-18 0z"/>
<path class="b" fill="#0078f4" d="M1274 650l17 3-19-13-17-3zM1257 647l17 3-19-13-17-3z"/>
<path class="b" fill="#0054e8" d="M1456 755l16 5-19-16-16-5z"/>
<path class="c" fill="#0034e0" d="M1602 855l15 8-19-18-16-7z"/>
<path class="b" fill="#007cf4" d="M1238 634l17 3-19-13-17-3z"/>
<path class="b" fill="#0048e4" d="M1511 792l16 6-19-16-16-6z"/>
<path class="c" fill="#0024dc" d="M1657 898l15 8-20-18-15-8z"/>
<path class="b" fill="#0094fc" d="M1111 579l17 1-18-12-18 0z"/>
<path class="b" fill="#006cf0" d="M1329 681l17 4-19-14-17-4z"/>
<path class="b" fill="#005cec" d="M1420 734l17 5-20-15-16-5z"/>
<path class="b" fill="#0098fc" d="M1074 567l18 1-18-12-18 0z"/>
<path class="c" fill="#003ce0" d="M1566 831l16 7-20-17-15-6z"/>
<path class="b" fill="#0084f8" d="M1202 619l17 2-18-13-18-2z"/>
<path class="b" fill="#00acfc" d="M364 504l20-8-16-3-20 9zM873 520l19-1-18-9-19 2zM837 514l18-2-17-8-19 2z"/>
<path class="b" fill="#0074f0" d="M1293 664l17 3-19-14-17-3zM1276 660l17 4-19-14-17-3z"/>
<path class="b" fill="#009cfc" d="M1038 555l18 1-18-11-18 0zM1020 555l18 0-18-10-18 0z"/>
<path class="b" fill="#00b0fc" d="M400 499l20-8-16-3-20 8zM416 501l20-7-16-3-20 8zM453 497l20-7-17-3-20 7zM800 508l19-2-18-8-19 3zM763 504l19-3-17-7-19 3zM726 500l20-3-18-7-19 4zM543 495l19-5-16-4-20 5z"/>
<path class="b" fill="#00a0fc" d="M1002 545l18 0-19-11-18 1z"/>
<path class="b" fill="#00b4ff" d="M473 490l19-6-16-4-20 7zM509 488l20-7-17-4-20 7zM746 497l19-3-18-7-19 3zM709 494l19-4-17-6-19 4zM672 491l20-3-18-7-19 5zM636 490l19-4-17-6-20 5zM599 490l19-5-17-6-19 6z"/>
<path class="b" fill="#0090f8" d="M1129 590l18 2-19-12-17-1z"/>
<path class="b" fill="#0068ec" d="M1348 695l17 5-19-15-17-4z"/>
<path class="b" fill="#00a4fc" d="M965 535l18 0-18-10-18 1zM947 536l18-1-18-9-18 1z"/>
<path class="b" fill="#00a8ff" d="M929 527l18-1-18-10-18 2z"/>
<path class="b" fill="#0080f4" d="M1221 631l17 3-19-13-17-2z"/>
<path class="b" fill="#0094f8" d="M1093 578l18 1-19-11-18-1zM1075 576l18 2-19-11-18-1z"/>
<path class="b" fill="#004ce4" d="M1495 786l16 6-19-16-17-6z"/>
<path class="b" fill="#00acff" d="M892 519l19-1-18-9-19 1zM855 512l19-2-18-8-18 2z"/>
<path class="b" fill="#0070ec" d="M1312 677l17 4-19-14-17-3zM1295 673l17 4-19-13-17-4z"/>
<path class="b" fill="#005ce8" d="M1404 729l16 5-19-15-17-5z"/>
<path class="b" fill="#00a8f8" d="M344 512l20-8-16-2-20 8zM360 514l20-8-16-2-20 8zM891 528l19 0-18-9-19 1zM855 522l18-2-18-8-18 2zM873 529l18-1-18-8-18 2zM836 523l19-1-18-8-19 2z"/>
<path class="b" fill="#0098f8" d="M1056 566l18 1-18-11-18-1zM1038 565l18 1-18-11-18 0z"/>
<path class="b" fill="#0084f4" d="M1184 616l18 3-19-13-17-2z"/>
<path class="b" fill="#00acf8" d="M380 506l20-7-16-3-20 8zM396 508l20-7-16-2-20 7zM433 504l20-7-17-3-20 7zM818 516l19-2-18-8-19 2zM781 510l19-2-18-7-19 3zM799 517l19-1-18-8-19 2zM762 513l19-3-18-6-19 2z"/>
<path class="c" fill="#0040e0" d="M1550 824l16 7-19-16-16-7z"/>
<path class="b" fill="#0050e4" d="M1459 764l16 6-19-15-16-6z"/>
<path class="b" fill="#0064e8" d="M1368 709l16 5-19-14-17-5z"/>
<path class="b" fill="#008cf4" d="M1148 602l18 2-19-12-18-2zM1130 600l18 2-19-12-17-1z"/>
<path class="b" fill="#00b4fc" d="M489 494l20-6-17-4-19 6zM526 491l20-5-17-5-20 7zM562 490l20-5-17-5-19 6zM690 497l19-3-17-6-20 3zM653 495l19-4-17-5-19 4zM579 495l20-5-17-5-20 5zM616 495l20-5-18-5-19 5z"/>
<path class="b" fill="#007cf0" d="M1240 644l17 3-19-13-17-3z"/>
<path class="b" fill="#0090f4" d="M1112 589l17 1-18-11-18-1zM1094 587l18 2-19-11-18-2z"/>
<path class="b" fill="#006cec" d="M1331 691l17 4-19-14-17-4z"/>
<path class="b" fill="#00a8fc" d="M910 528l19-1-18-9-19 1z"/>
<path class="b" fill="#00a4f4" d="M324 520l20-8-16-2-20 9zM340 522l20-8-16-2-20 8zM910 537l18-1-18-8-19 0zM891 537l19 0-19-9-18 1z"/>
<path class="b" fill="#0080f0" d="M1203 628l18 3-19-12-18-3z"/>
<path class="c" fill="#004ce0" d="M1479 779l16 7-20-16-16-6z"/>
<path class="b" fill="#0060e8" d="M1387 723l17 6-20-15-16-5z"/>
<path class="b" fill="#0088f0" d="M1167 614l17 2-18-12-18-2zM1149 611l18 3-19-12-18-2z"/>
<path class="b" fill="#00b0f8" d="M469 500l20-6-16-4-20 7zM506 497l20-6-17-3-20 6zM744 506l19-2-17-7-20 3zM486 503l20-6-17-3-20 6zM707 503l19-3-17-6-19 3zM523 501l20-6-17-4-20 6zM670 501l20-4-18-6-19 4zM560 499l19-4-17-5-19 5zM633 499l20-4-17-5-20 5zM597 499l19-4-17-5-20 5zM725 509l19-3-18-6-19 3zM688 506l19-3-17-6-20 4z"/>
<path class="c" fill="#0044dc" d="M1534 817l16 7-19-16-17-7z"/>
<path class="b" fill="#0078ec" d="M1259 656l17 4-19-13-17-3zM1241 653l18 3-19-12-18-4z"/>
<path class="c" fill="#0054e4" d="M1443 758l16 6-19-15-17-6z"/>
<path class="b" fill="#0068e8" d="M1351 704l17 5-20-14-17-4z"/>
<path class="b" fill="#00a4f8" d="M928 536l19 0-18-9-19 1z"/>
<path class="b" fill="#007cec" d="M1222 640l18 4-19-13-18-3z"/>
<path class="b" fill="#00a4f0" d="M303 529l21-9-16-1-21 9zM319 529l21-7-16-2-21 9zM356 523l20-7-16-2-20 8zM872 538l19-1-18-8-19 1zM835 531l19-1-18-7-19 1z"/>
<path class="c" fill="#0048dc" d="M1498 795l16 6-19-15-16-7z"/>
<path class="b" fill="#006ce8" d="M1314 686l17 5-19-14-17-4z"/>
<path class="b" fill="#005ce4" d="M1406 738l17 5-19-14-17-6z"/>
<path class="b" fill="#0094f4" d="M1057 575l18 1-19-10-18-1z"/>
<path class="b" fill="#0084f0" d="M1186 625l17 3-19-12-17-2z"/>
<path class="b" fill="#00a8f4" d="M376 516l20-8-16-2-20 8zM429 513l20-7-16-2-20 7zM854 530l19-1-18-7-19 1zM817 524l19-1-18-7-19 1z"/>
<path class="b" fill="#00acf4" d="M413 511l20-7-17-3-20 7zM449 506l20-6-16-3-20 7zM466 509l20-6-17-3-20 6zM503 506l20-5-17-4-20 6zM780 519l19-2-18-7-19 3zM742 515l20-2-18-7-19 3zM705 512l20-3-18-6-19 3zM668 509l20-3-18-5-19 3zM631 508l20-4-18-5-19 4zM594 508l20-5-17-4-20 4z"/>
<path class="b" fill="#0074e8" d="M1278 669l17 4-19-13-17-4zM1261 665l17 4-19-13-18-3z"/>
<path class="c" fill="#0050e0" d="M1462 773l17 6-20-15-16-6z"/>
<path class="b" fill="#0064e4" d="M1370 718l17 5-19-14-17-5z"/>
<path class="b" fill="#008cf0" d="M1112 598l18 2-18-11-18-2z"/>
<path class="b" fill="#0068e4" d="M1334 700l17 4-20-13-17-5z"/>
<path class="b" fill="#00a0f0" d="M283 537l20-8-16-1-20 8z"/>
<path class="b" fill="#0090f0" d="M1076 585l18 2-19-11-18-1z"/>
<path class="b" fill="#0080ec" d="M1205 637l17 3-19-12-17-3z"/>
<path class="b" fill="#0070e8" d="M1297 682l17 4-19-13-17-4z"/>
<path class="c" fill="#004cdc" d="M1482 788l16 7-19-16-17-6z"/>
<path class="b" fill="#00a8f0" d="M393 517l20-6-17-3-20 8zM409 519l20-6-16-2-20 6zM446 515l20-6-17-3-20 7zM798 525l19-1-18-7-19 2zM760 521l20-2-18-6-20 2z"/>
<path class="c" fill="#0060e0" d="M1390 732l16 6-19-15-17-5z"/>
<path class="b" fill="#0084ec" d="M1168 622l18 3-19-11-18-3z"/>
<path class="b" fill="#00b0f4" d="M540 504l20-5-17-4-20 6zM651 504l19-3-17-6-20 4zM577 503l20-4-18-4-19 4zM614 503l19-4-17-4-19 4z"/>
<path class="b" fill="#0088ec" d="M1131 609l18 2-19-11-18-2z"/>
<path class="b" fill="#009cec" d="M262 545l21-8-16-1-21 9z"/>
<path class="b" fill="#0090ec" d="M1094 596l18 2-18-11-18-2z"/>
<path class="b" fill="#007ce8" d="M1224 649l17 4-19-13-17-3z"/>
<path class="b" fill="#00a0ec" d="M299 537l20-8-16 0-20 8zM336 530l20-7-16-1-21 7zM352 531l20-7-16-1-20 7z"/>
<path class="b" fill="#006ce4" d="M1317 695l17 5-20-14-17-4z"/>
<path class="b" fill="#0080e8" d="M1187 634l18 3-19-12-18-3z"/>
<path class="b" fill="#00a4ec" d="M372 524l21-7-17-1-20 7zM389 526l20-7-16-2-21 7zM853 538l19 0-18-8-19 1zM816 532l19-1-18-7-19 1zM834 538l19 0-18-7-19 1zM796 533l20-1-18-7-20 2z"/>
<path class="b" fill="#0074e4" d="M1280 677l17 5-19-13-17-4z"/>
<path class="b" fill="#00acf0" d="M483 512l20-6-17-3-20 6zM520 509l20-5-17-3-20 5zM557 508l20-5-17-4-20 5zM723 517l19-2-17-6-20 3zM686 514l19-2-17-6-20 3zM537 513l20-5-17-4-20 5zM649 513l19-4-17-5-20 4zM574 512l20-4-17-5-20 5zM611 512l20-4-17-5-20 5z"/>
<path class="b" fill="#0088e8" d="M1150 619l18 3-19-11-18-2zM1132 616l18 3-19-10-18-3z"/>
<path class="c" fill="#0050d8" d="M1465 781l17 7-20-15-16-7z"/>
<path class="c" fill="#0064e0" d="M1373 726l17 6-20-14-17-5z"/>
<path class="b" fill="#0078e4" d="M1243 661l18 4-20-12-17-4z"/>
<path class="b" fill="#008cec" d="M1113 606l18 3-19-11-18-2z"/>
<path class="b" fill="#009ce8" d="M278 545l21-8-16 0-21 8z"/>
<path class="b" fill="#00a0e8" d="M315 538l21-8-17-1-20 8zM331 538l21-7-16-1-21 8zM368 532l21-6-17-2-20 7z"/>
<path class="b" fill="#007ce4" d="M1206 645l18 4-19-12-18-3z"/>
<path class="c" fill="#0070e0" d="M1299 690l18 5-20-13-17-5zM1282 684l17 6-19-13-18-4z"/>
<path class="c" fill="#004cd8" d="M1485 795l17 8-20-15-17-7z"/>
<path class="b" fill="#00a8ec" d="M426 521l20-6-17-2-20 6zM463 517l20-5-17-3-20 6zM500 514l20-5-17-3-20 6zM778 527l20-2-18-6-20 2zM741 523l19-2-18-6-19 2zM480 519l20-5-17-2-20 5zM704 519l19-2-18-5-19 2zM517 517l20-4-17-4-20 5zM554 516l20-4-17-4-20 5zM759 528l19-1-18-6-19 2z"/>
<path class="b" fill="#0084e8" d="M1169 630l18 4-19-12-18-3z"/>
<path class="c" fill="#0074e0" d="M1262 673l18 4-19-12-18-4z"/>
<path class="c" fill="#0044d4" d="M1542 833l16 8-20-16-16-7z"/>
<path class="c" fill="#0064dc" d="M1356 720l17 6-20-13-17-6z"/>
<path class="c" fill="#0078e4" d="M1226 656l17 5-19-12-18-4z"/>
<path class="b" fill="#009ce4" d="M294 545l21-7-16-1-21 8zM311 545l20-7-16 0-21 7z"/>
<path class="c" fill="#006cdc" d="M1319 702l17 5-19-12-18-5zM1301 697l18 5-20-12-17-6z"/>
<path class="b" fill="#0080e4" d="M1188 641l18 4-19-11-18-4z"/>
<path class="b" fill="#00a4e8" d="M405 527l21-6-17-2-20 7zM442 523l21-6-17-2-20 6zM459 525l21-6-17-2-21 6zM814 539l20-1-18-6-20 1zM777 534l19-1-18-6-19 1zM739 529l20-1-18-5-20 1z"/>
<path class="b" fill="#0084e4" d="M1151 627l18 3-19-11-18-3z"/>
<path class="b" fill="#00acec" d="M666 517l20-3-18-5-19 4zM629 516l20-3-18-5-20 4zM591 515l20-3-17-4-20 4z"/>
<path class="c" fill="#0060d8" d="M1375 733l17 7-19-14-17-6z"/>
<path class="c" fill="#0078e0" d="M1245 668l17 5-19-12-17-5z"/>
<path class="c" fill="#0068dc" d="M1338 715l18 5-20-13-17-5z"/>
<path class="c" fill="#007ce0" d="M1208 652l18 4-20-11-18-4z"/>
<path class="b" fill="#00a0e4" d="M348 539l20-7-16-1-21 7zM385 533l20-6-16-1-21 6zM401 534l21-6-17-1-20 6z"/>
<path class="b" fill="#00a4e4" d="M422 528l20-5-16-2-21 6zM439 530l20-5-17-2-20 5zM476 526l21-4-17-3-21 6zM514 524l20-4-17-3-20 5zM795 539l19 0-18-6-19 1zM757 535l20-1-18-6-20 1zM720 531l19-2-18-5-19 2zM682 528l20-2-18-4-20 2zM644 526l20-2-18-4-20 3zM606 525l20-2-17-4-20 3z"/>
<path class="c" fill="#005cd8" d="M1395 746l17 7-20-13-17-7z"/>
<path class="c" fill="#0080e0" d="M1171 637l17 4-19-11-18-3z"/>
<path class="b" fill="#00a8e8" d="M721 524l20-1-18-6-19 2zM497 522l20-5-17-3-20 5zM684 522l20-3-18-5-20 3zM534 520l20-4-17-3-20 4zM646 520l20-3-17-4-20 3zM571 519l20-4-17-3-20 4zM609 519l20-3-18-4-20 3zM702 526l19-2-17-5-20 3zM664 524l20-2-18-5-20 3zM626 523l20-3-17-4-20 3z"/>
<path class="c" fill="#0074dc" d="M1264 679l18 5-20-11-17-5z"/>
<path class="c" fill="#0064d8" d="M1358 727l17 6-19-13-18-5z"/>
<path class="c" fill="#0078dc" d="M1227 663l18 5-19-12-18-4z"/>
<path class="c" fill="#009ce0" d="M327 545l21-6-17-1-20 7z"/>
<path class="c" fill="#006cd8" d="M1321 709l17 6-19-13-18-5z"/>
<path class="c" fill="#00a0e0" d="M364 539l21-6-17-1-20 7zM381 540l20-6-16-1-21 6zM418 535l21-5-17-2-21 6zM775 540l20-1-18-5-20 1z"/>
<path class="c" fill="#007cdc" d="M1190 648l18 4-20-11-17-4zM1209 658l18 5-19-11-18-4z"/>
<path class="c" fill="#0070d8" d="M1284 691l17 6-19-13-18-5z"/>
<path class="b" fill="#00a8e4" d="M551 523l20-4-17-3-20 4zM589 522l20-3-18-4-20 4z"/>
<path class="c" fill="#0074d8" d="M1247 674l17 5-19-11-18-5zM1266 685l18 6-20-12-17-5z"/>
<path class="c" fill="#009cdc" d="M343 545l21-6-16 0-21 6zM360 545l21-5-17-1-21 6z"/>
<path class="c" fill="#006cd4" d="M1304 703l17 6-20-12-17-6z"/>
<path class="c" fill="#00a4e0" d="M456 531l20-5-17-1-20 5zM493 528l21-4-17-2-21 4zM531 526l20-3-17-3-20 4zM738 536l19-1-18-6-19 2zM700 532l20-1-18-5-20 2zM511 530l20-4-17-2-21 4zM662 530l20-2-18-4-20 2zM548 529l21-4-18-2-20 3zM624 529l20-3-18-3-20 2zM586 528l20-3-17-3-20 3z"/>
<path class="c" fill="#00a4e4" d="M569 525l20-3-18-3-20 4z"/>
<path class="c" fill="#0078d8" d="M1229 669l18 5-20-11-18-5z"/>
<path class="c" fill="#00a0dc" d="M397 540l21-5-17-1-20 6zM435 536l21-5-17-1-21 5zM473 532l20-4-17-2-20 5zM756 540l19 0-18-5-19 1zM452 537l21-5-17-1-21 5zM718 536l20 0-18-5-20 1zM490 534l21-4-18-2-20 4zM528 532l20-3-17-3-20 4zM736 541l20-1-18-4-20 0zM698 537l20-1-18-4-20 2z"/>
<path class="c" fill="#0060d0" d="M1381 745l17 7-20-12-17-7z"/>
<path class="c" fill="#0074d4" d="M1249 680l17 5-19-11-18-5z"/>
<path class="c" fill="#0068d0" d="M1343 726l18 7-20-12-17-7z"/>
<path class="c" fill="#009cd8" d="M377 545l20-5-16 0-21 5zM414 540l21-4-17-1-21 5zM393 545l21-5-17 0-20 5zM431 541l21-4-17-1-21 4z"/>
<path class="c" fill="#006cd0" d="M1306 708l18 6-20-11-18-6z"/>
<path class="c" fill="#00a4dc" d="M680 534l20-2-18-4-20 2zM642 532l20-2-18-4-20 3zM566 531l20-3-17-3-21 4zM604 531l20-2-18-4-20 3z"/>
<path class="c" fill="#0068cc" d="M1326 719l17 7-19-12-18-6z"/>
<path class="c" fill="#00a0d8" d="M469 538l21-4-17-2-21 5zM507 535l21-3-17-2-21 4zM660 535l20-1-18-4-20 2zM545 534l21-3-18-2-20 3zM622 534l20-2-18-3-20 2zM583 533l21-2-18-3-20 3zM716 541l20 0-18-5-20 1zM678 538l20-1-18-3-20 1zM639 536l21-1-18-3-20 2zM601 535l21-1-18-3-21 2z"/>
<path class="c" fill="#0070cc" d="M1288 701l18 7-20-11-18-6z"/>
<path class="c" fill="#009cd4" d="M410 545l21-4-17-1-21 5zM448 541l21-3-17-1-21 4z"/>
<path class="c" fill="#00a0d4" d="M525 537l20-3-17-2-21 3zM563 536l20-3-17-2-21 3zM657 539l21-1-18-3-21 1zM542 538l21-2-18-2-20 3zM619 538l20-2-17-2-21 1zM581 537l20-2-18-2-20 3z"/>
<path class="c" fill="#009cd0" d="M427 545l21-4-17 0-21 4zM466 542l21-4-18 0-21 3zM504 539l21-2-18-2-20 3zM675 542l21 0-18-4-21 1zM521 540l21-2-17-1-21 2zM637 540l20-1-18-3-20 2zM560 539l21-2-18-1-21 2zM598 539l21-1-18-3-20 2z"/>
<path class="c" fill="#009ccc" d="M445 545l21-3-18-1-21 4zM655 543l20-1-18-3-20 1zM539 541l21-2-18-1-21 2zM616 541l21-1-18-2-21 1zM578 541l20-2-17-2-21 2zM634 543l21 0-18-3-21 1z"/>
<path class="c" fill="#0098cc" d="M462 545l21-3-17 0-21 3z"/>
<path class="c" fill="#009cc8" d="M518 543l21-2-18-1-20 3zM557 542l21-1-18-2-21 2zM596 542l20-1-18-2-20 2zM575 543l21-1-18-1-21 1z"/>
<path class="b" fill="#0030e8" d="M1613 852l16 7-20-18-15-6z"/>
<path class="b" fill="#0034e4" d="M1598 845l15 7-19-17-16-7z"/>
<path class="b" fill="#004ce8" d="M1492 776l16 6-20-16-16-6z"/>
<path class="c" fill="#0028e0" d="M1637 880l15 8-19-18-16-7z"/>
<path class="b" fill="#0050e8" d="M1475 770l17 6-20-16-16-5z"/>
<path class="c" fill="#0030dc" d="M1621 873l16 7-20-17-15-8z"/>
<path class="c" fill="#0044e0" d="M1531 808l16 7-20-17-16-6z"/>
<path class="b" fill="#0054e8" d="M1440 749l16 6-19-16-17-5z"/>
<path class="c" fill="#0038dc" d="M1586 848l16 7-20-17-16-7z"/>
<path class="c" fill="#002cd8" d="M1641 890l16 8-20-18-16-7z"/>
<path class="b" fill="#00a0fc" d="M983 545l19 0-19-10-18 0z"/>
<path class="c" fill="#0034dc" d="M1606 865l15 8-19-18-16-7z"/>
<path class="c" fill="#0048e0" d="M1514 801l17 7-20-16-16-6z"/>
<path class="b" fill="#0058e4" d="M1423 743l17 6-20-15-16-5z"/>
<path class="c" fill="#003cdc" d="M1570 840l16 8-20-17-16-7z"/>
<path class="c" fill="#0030d8" d="M1626 881l15 9-20-17-15-8z"/>
<path class="b" fill="#009cf8" d="M1002 555l18 0-18-10-19 0z"/>
<path class="b" fill="#00a0f8" d="M965 545l18 0-18-10-18 1z"/>
<path class="c" fill="#0038d8" d="M1590 857l16 8-20-17-16-8z"/>
<path class="c" fill="#0040d8" d="M1554 833l16 7-20-16-16-7z"/>
<path class="b" fill="#0098f4" d="M1020 564l18 1-18-10-18 0z"/>
<path class="b" fill="#009cf4" d="M983 554l19 1-19-10-18 0z"/>
<path class="c" fill="#0034d4" d="M1610 873l16 8-20-16-16-8z"/>
<path class="b" fill="#00a0f4" d="M947 545l18 0-18-9-19 0z"/>
<path class="c" fill="#0044dc" d="M1518 810l16 7-20-16-16-6z"/>
<path class="c" fill="#0058e0" d="M1426 752l17 6-20-15-17-5z"/>
<path class="c" fill="#003cd8" d="M1574 849l16 8-20-17-16-7z"/>
<path class="b" fill="#0098f0" d="M1039 574l18 1-19-10-18-1z"/>
<path class="b" fill="#009cf0" d="M1002 563l18 1-18-9-19-1z"/>
<path class="c" fill="#0044d8" d="M1538 825l16 8-20-16-16-7z"/>
<path class="b" fill="#009cf4" d="M965 554l18 0-18-9-18 0z"/>
<path class="c" fill="#0064e4" d="M1353 713l17 5-19-14-17-4z"/>
<path class="c" fill="#0054dc" d="M1446 766l16 7-19-15-17-6z"/>
<path class="b" fill="#00a0f4" d="M928 545l19 0-19-9-18 1z"/>
<path class="c" fill="#0038d4" d="M1594 865l16 8-20-16-16-8z"/>
<path class="c" fill="#0048d8" d="M1502 803l16 7-20-15-16-7z"/>
<path class="c" fill="#005cdc" d="M1409 746l17 6-20-14-16-6z"/>
<path class="b" fill="#0094f0" d="M1057 584l19 1-19-10-18-1z"/>
<path class="b" fill="#0098f0" d="M1020 573l19 1-19-10-18-1z"/>
<path class="c" fill="#0040d4" d="M1558 841l16 8-20-16-16-8z"/>
<path class="b" fill="#009cf0" d="M983 562l19 1-19-9-18 0z"/>
<path class="b" fill="#00a0f0" d="M946 553l19 1-18-9-19 0z"/>
<path class="c" fill="#0044d4" d="M1522 818l16 7-20-15-16-7z"/>
<path class="b" fill="#00a0f0" d="M909 545l19 0-18-8-19 0z"/>
<path class="c" fill="#0068e0" d="M1336 707l17 6-19-13-17-5z"/>
<path class="c" fill="#0058dc" d="M1429 760l17 6-20-14-17-6z"/>
<path class="b" fill="#0090ec" d="M1076 594l18 2-18-11-19-1z"/>
<path class="c" fill="#003cd0" d="M1578 856l16 9-20-16-16-8z"/>
<path class="b" fill="#0094ec" d="M1039 582l18 2-18-10-19-1z"/>
<path class="c" fill="#0060dc" d="M1392 740l17 6-19-14-17-6z"/>
<path class="b" fill="#0098ec" d="M1002 571l18 2-18-10-19-1z"/>
<path class="b" fill="#009cec" d="M965 562l18 0-18-8-19-1z"/>
<path class="c" fill="#0054d8" d="M1449 774l16 7-19-15-17-6z"/>
<path class="b" fill="#00a0ec" d="M928 553l18 0-18-8-19 0z"/>
<path class="b" fill="#008ce8" d="M1095 603l18 3-19-10-18-2z"/>
<path class="b" fill="#00a0ec" d="M890 545l19 0-18-8-19 1z"/>
<path class="c" fill="#0048d4" d="M1505 810l17 8-20-15-17-8z"/>
<path class="b" fill="#0090e8" d="M1058 591l18 3-19-10-18-2z"/>
<path class="c" fill="#005cd8" d="M1412 753l17 7-20-14-17-6z"/>
<path class="b" fill="#0094e8" d="M1021 580l18 2-19-9-18-2z"/>
<path class="c" fill="#0040d0" d="M1562 848l16 8-20-15-16-8z"/>
<path class="c" fill="#0050d4" d="M1469 788l16 7-20-14-16-7z"/>
<path class="b" fill="#0098e8" d="M983 570l19 1-19-9-18 0z"/>
<path class="b" fill="#009ce8" d="M946 561l19 1-19-9-18 0z"/>
<path class="b" fill="#0088e4" d="M1114 613l18 3-19-10-18-3z"/>
<path class="b" fill="#00a0e8" d="M909 552l19 1-19-8-19 0z"/>
<path class="c" fill="#0048d0" d="M1525 824l17 9-20-15-17-8z"/>
<path class="c" fill="#0058d4" d="M1432 767l17 7-20-14-17-7z"/>
<path class="b" fill="#008ce4" d="M1077 601l18 2-19-9-18-3z"/>
<path class="b" fill="#00a0e8" d="M871 545l19 0-18-7-19 0z"/>
<path class="b" fill="#0090e4" d="M1040 589l18 2-19-9-18-2z"/>
<path class="c" fill="#004cd0" d="M1489 802l16 8-20-15-16-7z"/>
<path class="b" fill="#0094e4" d="M1002 579l19 1-19-9-19-1z"/>
<path class="b" fill="#0098e8" d="M965 569l18 1-18-8-19-1z"/>
<path class="c" fill="#0084e0" d="M1133 623l18 4-19-11-18-3z"/>
<path class="c" fill="#0044cc" d="M1546 839l16 9-20-15-17-9z"/>
<path class="c" fill="#0054d4" d="M1452 780l17 8-20-14-17-7z"/>
<path class="b" fill="#009ce8" d="M927 560l19 1-18-8-19-1z"/>
<path class="c" fill="#008ce0" d="M1096 610l18 3-19-10-18-2z"/>
<path class="b" fill="#00a0e8" d="M890 552l19 0-19-7-19 0zM852 545l19 0-18-7-19 0z"/>
<path class="c" fill="#0090e4" d="M1058 598l19 3-19-10-18-2z"/>
<path class="c" fill="#0048d0" d="M1509 816l16 8-20-14-16-8z"/>
<path class="c" fill="#005cd4" d="M1415 760l17 7-20-14-17-7z"/>
<path class="b" fill="#0094e4" d="M1021 587l19 2-19-9-19-1z"/>
<path class="c" fill="#0084e0" d="M1153 633l18 4-20-10-18-4z"/>
<path class="b" fill="#0094e4" d="M983 577l19 2-19-9-18-1z"/>
<path class="c" fill="#0060d4" d="M1378 740l17 6-20-13-17-6z"/>
<path class="c" fill="#0050d0" d="M1472 794l17 8-20-14-17-8z"/>
<path class="b" fill="#0098e4" d="M946 567l19 2-19-8-19-1z"/>
<path class="c" fill="#0088e0" d="M1115 620l18 3-19-10-18-3z"/>
<path class="b" fill="#009ce4" d="M908 559l19 1-18-8-19 0z"/>
<path class="c" fill="#0048cc" d="M1529 831l17 8-21-15-16-8z"/>
<path class="c" fill="#0068d4" d="M1341 721l17 6-20-12-17-6z"/>
<path class="c" fill="#0058d0" d="M1435 773l17 7-20-13-17-7z"/>
<path class="c" fill="#008ce0" d="M1078 607l18 3-19-9-19-3z"/>
<path class="b" fill="#00a0e4" d="M870 551l20 1-19-7-19 0zM833 545l19 0-18-7-20 1z"/>
<path class="c" fill="#0090e0" d="M1040 596l18 2-18-9-19-2z"/>
<path class="c" fill="#0080dc" d="M1172 643l18 5-19-11-18-4z"/>
<path class="c" fill="#004ccc" d="M1492 808l17 8-20-14-17-8z"/>
<path class="c" fill="#005cd0" d="M1398 752l17 8-20-14-17-6z"/>
<path class="c" fill="#0094e0" d="M1002 585l19 2-19-8-19-2z"/>
<path class="c" fill="#0098e0" d="M965 575l18 2-18-8-19-2z"/>
<path class="c" fill="#0084dc" d="M1134 629l19 4-20-10-18-3z"/>
<path class="c" fill="#0064d0" d="M1361 733l17 7-20-13-17-6z"/>
<path class="c" fill="#0098e0" d="M927 566l19 1-19-7-19-1z"/>
<path class="c" fill="#0054cc" d="M1455 786l17 8-20-14-17-7z"/>
<path class="c" fill="#0088dc" d="M1097 616l18 4-19-10-18-3z"/>
<path class="c" fill="#009ce0" d="M889 558l19 1-18-7-20-1zM851 551l19 0-18-6-19 0z"/>
<path class="c" fill="#008cdc" d="M1059 604l19 3-20-9-18-2z"/>
<path class="c" fill="#0068d4" d="M1324 714l17 7-20-12-17-6z"/>
<path class="c" fill="#004cc8" d="M1513 822l16 9-20-15-17-8z"/>
<path class="c" fill="#00a0e0" d="M813 545l20 0-19-6-19 0z"/>
<path class="c" fill="#005cd0" d="M1418 765l17 8-20-13-17-8z"/>
<path class="c" fill="#007cd8" d="M1191 654l18 4-19-10-18-5z"/>
<path class="c" fill="#0090dc" d="M1021 593l19 3-19-9-19-2z"/>
<path class="c" fill="#0070d4" d="M1286 697l18 6-20-12-18-6z"/>
<path class="c" fill="#0080d8" d="M1154 639l18 4-19-10-19-4z"/>
<path class="c" fill="#0094dc" d="M983 583l19 2-19-8-18-2z"/>
<path class="c" fill="#0050cc" d="M1475 800l17 8-20-14-17-8z"/>
<path class="c" fill="#0098dc" d="M946 573l19 2-19-8-19-1z"/>
<path class="c" fill="#0084d8" d="M1116 626l18 3-19-9-18-4z"/>
<path class="c" fill="#0098dc" d="M908 565l19 1-19-7-19-1z"/>
<path class="c" fill="#0088d8" d="M1078 613l19 3-19-9-19-3z"/>
<path class="c" fill="#009cdc" d="M870 557l19 1-19-7-19 0z"/>
<path class="c" fill="#0058cc" d="M1438 778l17 8-20-13-17-8z"/>
<path class="c" fill="#0078d4" d="M1211 664l18 5-20-11-18-4z"/>
<path class="c" fill="#009cdc" d="M832 551l19 0-18-6-20 0z"/>
<path class="c" fill="#008cd8" d="M1040 601l19 3-19-8-19-3z"/>
<path class="c" fill="#00a0dc" d="M794 545l19 0-18-6-20 1z"/>
<path class="c" fill="#0080d4" d="M1173 649l18 5-19-11-18-4z"/>
<path class="c" fill="#004cc8" d="M1496 813l17 9-21-14-17-8z"/>
<path class="c" fill="#005ccc" d="M1401 758l17 7-20-13-17-7z"/>
<path class="c" fill="#0090d8" d="M1002 590l19 3-19-8-19-2z"/>
<path class="c" fill="#0094dc" d="M964 580l19 3-18-8-19-2z"/>
<path class="c" fill="#0070d0" d="M1268 691l18 6-20-12-17-5z"/>
<path class="c" fill="#0084d4" d="M1135 635l19 4-20-10-18-3z"/>
<path class="c" fill="#0064cc" d="M1364 738l17 7-20-12-18-7z"/>
<path class="c" fill="#0098dc" d="M926 571l20 2-19-7-19-1z"/>
<path class="c" fill="#0054c8" d="M1459 791l16 9-20-14-17-8z"/>
<path class="c" fill="#0088d8" d="M1097 622l19 4-19-10-19-3z"/>
<path class="c" fill="#0098dc" d="M888 563l20 2-19-7-19-1z"/>
<path class="c" fill="#0078d0" d="M1231 674l18 6-20-11-18-5z"/>
<path class="c" fill="#009cdc" d="M850 556l20 1-19-6-19 0z"/>
<path class="c" fill="#008cd8" d="M1060 609l18 4-19-9-19-3z"/>
<path class="c" fill="#009cdc" d="M812 550l20 1-19-6-19 0z"/>
<path class="c" fill="#005cc8" d="M1421 770l17 8-20-13-17-7z"/>
<path class="c" fill="#007cd0" d="M1193 659l18 5-20-10-18-5z"/>
<path class="c" fill="#00a0dc" d="M774 545l20 0-19-5-19 0z"/>
<path class="c" fill="#0090d8" d="M1022 598l18 3-19-8-19-3z"/>
<path class="c" fill="#0080d4" d="M1155 644l18 5-19-10-19-4z"/>
<path class="c" fill="#0090d8" d="M983 588l19 2-19-7-19-3z"/>
<path class="c" fill="#0060c8" d="M1384 750l17 8-20-13-17-7z"/>
<path class="c" fill="#0050c4" d="M1479 804l17 9-21-13-16-9z"/>
<path class="c" fill="#0094d8" d="M945 578l19 2-18-7-20-2z"/>
<path class="c" fill="#0084d4" d="M1117 630l18 5-19-9-19-4z"/>
<path class="c" fill="#0074d0" d="M1250 684l18 7-19-11-18-6z"/>
<path class="c" fill="#0098d8" d="M907 570l19 1-18-6-20-2z"/>
<path class="c" fill="#0064cc" d="M1346 731l18 7-21-12-17-7z"/>
<path class="c" fill="#0098d8" d="M869 562l19 1-18-6-20-1z"/>
<path class="c" fill="#0088d4" d="M1079 618l18 4-19-9-18-4z"/>
<path class="c" fill="#0058c4" d="M1442 783l17 8-21-13-17-8z"/>
<path class="c" fill="#0078d0" d="M1213 668l18 6-20-10-18-5z"/>
<path class="c" fill="#009cd8" d="M831 555l19 1-18-5-20-1z"/>
<path class="c" fill="#008cd4" d="M1041 606l19 3-20-8-18-3z"/>
<path class="c" fill="#009cd8" d="M792 550l20 0-18-5-20 0z"/>
<path class="c" fill="#00a0d8" d="M754 545l20 0-18-5-20 1z"/>
<path class="c" fill="#006ccc" d="M1308 712l18 7-20-11-18-7z"/>
<path class="c" fill="#007cd0" d="M1175 653l18 6-20-10-18-5z"/>
<path class="c" fill="#00a0d4" d="M487 538l20-3-17-1-21 4z"/>
<path class="c" fill="#0090d4" d="M1003 595l19 3-20-8-19-2z"/>
<path class="c" fill="#005cc8" d="M1404 762l17 8-20-12-17-8z"/>
<path class="c" fill="#0094d4" d="M964 585l19 3-19-8-19-2z"/>
<path class="c" fill="#0080d0" d="M1136 639l19 5-20-9-18-5z"/>
<path class="c" fill="#0070cc" d="M1270 695l18 6-20-10-18-7z"/>
<path class="c" fill="#0094d4" d="M926 576l19 2-19-7-19-1z"/>
<path class="c" fill="#0064c8" d="M1366 742l18 8-20-12-18-7z"/>
<path class="c" fill="#0054c4" d="M1462 795l17 9-20-13-17-8z"/>
<path class="c" fill="#0084d0" d="M1098 626l19 4-20-8-18-4z"/>
<path class="c" fill="#0098d4" d="M888 568l19 2-19-7-19-1z"/>
<path class="c" fill="#0074cc" d="M1232 678l18 6-19-10-18-6z"/>
<path class="c" fill="#0098d4" d="M849 561l20 1-19-6-19-1z"/>
<path class="c" fill="#0088d0" d="M1060 613l19 5-19-9-19-3z"/>
<path class="c" fill="#0068c8" d="M1328 723l18 8-20-12-18-7z"/>
<path class="c" fill="#009cd4" d="M811 554l20 1-19-5-20 0z"/>
<path class="c" fill="#007ccc" d="M1194 663l19 5-20-9-18-6z"/>
<path class="c" fill="#005cc4" d="M1424 774l18 9-21-13-17-8z"/>
<path class="c" fill="#009cd4" d="M773 549l19 1-18-5-20 0z"/>
<path class="c" fill="#008cd0" d="M1022 602l19 4-19-8-19-3z"/>
<path class="c" fill="#009cd4" d="M734 545l20 0-18-4-20 0z"/>
<path class="c" fill="#00a0d4" d="M696 542l20-1-18-4-20 1z"/>
<path class="c" fill="#006cc8" d="M1290 705l18 7-20-11-18-6z"/>
<path class="c" fill="#0080cc" d="M1156 648l19 5-20-9-19-5z"/>
<path class="c" fill="#0090d0" d="M983 592l20 3-20-7-19-3z"/>
<path class="c" fill="#0060c4" d="M1387 754l17 8-20-12-18-8z"/>
<path class="c" fill="#0094d0" d="M945 582l19 3-19-7-19-2z"/>
<path class="c" fill="#0084cc" d="M1118 634l18 5-19-9-19-4z"/>
<path class="c" fill="#0074c8" d="M1252 688l18 7-20-11-18-6z"/>
<path class="c" fill="#0094d0" d="M907 574l19 2-19-6-19-2z"/>
<path class="c" fill="#0064c4" d="M1349 734l17 8-20-11-18-8z"/>
<path class="c" fill="#0098d0" d="M868 566l20 2-19-6-20-1z"/>
<path class="c" fill="#0088cc" d="M1080 621l18 5-19-8-19-5z"/>
<path class="c" fill="#0058c0" d="M1445 786l17 9-20-12-18-9z"/>
<path class="c" fill="#0078c8" d="M1214 672l18 6-19-10-19-5z"/>
<path class="c" fill="#0098d0" d="M830 559l19 2-18-6-20-1z"/>
<path class="c" fill="#009cd0" d="M791 553l20 1-19-4-19-1z"/>
<path class="c" fill="#008ccc" d="M1041 609l19 4-19-7-19-4z"/>
<path class="c" fill="#009cd0" d="M753 549l20 0-19-4-20 0z"/>
<path class="c" fill="#006cc4" d="M1311 716l17 7-20-11-18-7z"/>
<path class="c" fill="#009cd0" d="M714 545l20 0-18-4-20 1z"/>
<path class="c" fill="#007cc8" d="M1176 657l18 6-19-10-19-5z"/>
<path class="c" fill="#009cd0" d="M483 542l21-3-17-1-21 4z"/>
<path class="c" fill="#008cd0" d="M1003 598l19 4-19-7-20-3z"/>
<path class="c" fill="#005cc0" d="M1407 765l17 9-20-12-17-8z"/>
<path class="c" fill="#0090d0" d="M964 588l19 4-19-7-19-3z"/>
<path class="c" fill="#0080cc" d="M1138 643l18 5-20-9-18-5z"/>
<path class="c" fill="#0070c4" d="M1272 698l18 7-20-10-18-7z"/>
<path class="c" fill="#0094d0" d="M926 579l19 3-19-6-19-2z"/>
<path class="c" fill="#0064c0" d="M1369 745l18 9-21-12-17-8z"/>
<path class="c" fill="#0084cc" d="M1099 629l19 5-20-8-18-5z"/>
<path class="c" fill="#0094d0" d="M887 571l20 3-19-6-20-2z"/>
<path class="c" fill="#0074c8" d="M1234 682l18 6-20-10-18-6z"/>
<path class="c" fill="#0098d0" d="M848 564l20 2-19-5-19-2z"/>
<path class="c" fill="#0088cc" d="M1061 617l19 4-20-8-19-4z"/>
<path class="c" fill="#0098d0" d="M810 558l20 1-19-5-20-1z"/>
<path class="c" fill="#0068c4" d="M1331 726l18 8-21-11-17-7z"/>
<path class="c" fill="#0078c8" d="M1196 666l18 6-20-9-18-6z"/>
<path class="c" fill="#009cd0" d="M771 553l20 0-18-4-20 0z"/>
<path class="c" fill="#005cc0" d="M1428 777l17 9-21-12-17-9z"/>
<path class="c" fill="#008ccc" d="M1022 605l19 4-19-7-19-4z"/>
<path class="c" fill="#009cd0" d="M732 548l21 1-19-4-20 0z"/>
<path class="c" fill="#009ccc" d="M694 545l20 0-18-3-21 0zM501 543l20-3-17-1-21 3z"/>
<path class="c" fill="#006cc4" d="M1293 708l18 8-21-11-18-7z"/>
<path class="c" fill="#008ccc" d="M983 595l20 3-20-6-19-4z"/>
<path class="c" fill="#007cc8" d="M1157 651l19 6-20-9-18-5z"/>
<path class="c" fill="#0060c0" d="M1390 756l17 9-20-11-18-9z"/>
<path class="c" fill="#0090cc" d="M945 585l19 3-19-6-19-3z"/>
<path class="c" fill="#0080c8" d="M1119 637l19 6-20-9-19-5z"/>
<path class="c" fill="#0074c4" d="M1254 691l18 7-20-10-18-6z"/>
<path class="c" fill="#0094cc" d="M906 577l20 2-19-5-20-3zM867 569l20 2-19-5-20-2z"/>
<path class="c" fill="#0084c8" d="M1080 624l19 5-19-8-19-4z"/>
<path class="c" fill="#0064c0" d="M1351 737l18 8-20-11-18-8z"/>
<path class="c" fill="#0098cc" d="M829 562l19 2-18-5-20-1z"/>
<path class="c" fill="#0078c4" d="M1216 675l18 7-20-10-18-6z"/>
<path class="c" fill="#0098cc" d="M790 556l20 2-19-5-20 0z"/>
<path class="c" fill="#0088c8" d="M1042 612l19 5-20-8-19-4z"/>
<path class="c" fill="#0098cc" d="M751 552l20 1-18-4-21-1z"/>
<path class="c" fill="#006cc0" d="M1313 718l18 8-20-10-18-8z"/>
<path class="c" fill="#009ccc" d="M712 548l20 0-18-3-20 0z"/>
<path class="c" fill="#007cc4" d="M1177 660l19 6-20-9-19-6z"/>
<path class="c" fill="#0098c8" d="M479 545l22-2-18-1-21 3z"/>
<path class="c" fill="#009ccc" d="M673 545l21 0-19-3-20 1z"/>
<path class="c" fill="#008cc8" d="M1003 601l19 4-19-7-20-3z"/>
<path class="c" fill="#005cbc" d="M1410 768l18 9-21-12-17-9z"/>
<path class="c" fill="#0090c8" d="M964 591l19 4-19-7-19-3z"/>
<path class="c" fill="#0080c4" d="M1139 645l18 6-19-8-19-6z"/>
<path class="c" fill="#0070c0" d="M1275 701l18 7-21-10-18-7z"/>
<path class="c" fill="#0090c8" d="M925 582l20 3-19-6-20-2z"/>
<path class="c" fill="#0064bc" d="M1372 748l18 8-21-11-18-8z"/>
<path class="c" fill="#0084c4" d="M1100 632l19 5-20-8-19-5z"/>
<path class="c" fill="#0094c8" d="M886 574l20 3-19-6-20-2z"/>
<path class="c" fill="#0074c0" d="M1236 684l18 7-20-9-18-7z"/>
<path class="c" fill="#0094c8" d="M847 567l20 2-19-5-19-2z"/>
<path class="c" fill="#0088c4" d="M1061 619l19 5-19-7-19-5z"/>
<path class="c" fill="#0098c8" d="M809 560l20 2-19-4-20-2z"/>
<path class="c" fill="#0068bc" d="M1334 729l17 8-20-11-18-8z"/>
<path class="c" fill="#0098c8" d="M770 555l20 1-19-3-20-1z"/>
<path class="c" fill="#0078c0" d="M1197 668l19 7-20-9-19-6z"/>
<path class="c" fill="#0098c8" d="M731 551l20 1-19-4-20 0z"/>
<path class="c" fill="#0088c4" d="M1022 608l20 4-20-7-19-4z"/>
<path class="c" fill="#0098c8" d="M692 547l20 1-18-3-21 0z"/>
<path class="c" fill="#0098c4" d="M497 545l21-2-17 0-22 2z"/>
<path class="c" fill="#009cc8" d="M653 545l20 0-18-2-21 0z"/>
<path class="c" fill="#0098c8" d="M536 544l21-2-18-1-21 2z"/>
<path class="c" fill="#009cc8" d="M614 543l20 0-18-2-20 1z"/>
<path class="c" fill="#008cc4" d="M983 597l20 4-20-6-19-4z"/>
<path class="c" fill="#006cbc" d="M1295 710l18 8-20-10-18-7z"/>
<path class="c" fill="#007cc0" d="M1159 653l18 7-20-9-18-6z"/>
<path class="c" fill="#0060b8" d="M1393 758l17 10-20-12-18-8z"/>
<path class="c" fill="#0090c4" d="M945 587l19 4-19-6-20-3z"/>
<path class="c" fill="#0080c0" d="M1120 639l19 6-20-8-19-5z"/>
<path class="c" fill="#0070bc" d="M1256 693l19 8-21-10-18-7z"/>
<path class="c" fill="#0090c4" d="M906 579l19 3-19-5-20-3z"/>
<path class="c" fill="#0094c4" d="M866 571l20 3-19-5-20-2z"/>
<path class="c" fill="#0084c0" d="M1081 626l19 6-20-8-19-5z"/>
<path class="c" fill="#0064b8" d="M1354 739l18 9-21-11-17-8z"/>
<path class="c" fill="#0094c4" d="M827 564l20 3-18-5-20-2z"/>
<path class="c" fill="#0074bc" d="M1218 677l18 7-20-9-19-7z"/>
<path class="c" fill="#0098c4" d="M788 558l21 2-19-4-20-1z"/>
<path class="c" fill="#0088c0" d="M1042 614l19 5-19-7-20-4z"/>
<path class="c" fill="#0098c4" d="M749 554l21 1-19-3-20-1zM710 550l21 1-19-3-20-1z"/>
<path class="c" fill="#006cbc" d="M1316 720l18 9-21-11-18-8z"/>
<path class="c" fill="#007cc0" d="M1179 661l18 7-20-8-18-7z"/>
<path class="c" fill="#0098c4" d="M671 547l21 0-19-2-20 0z"/>
<path class="c" fill="#008cc4" d="M1003 603l19 5-19-7-20-4z"/>
<path class="c" fill="#0098c4" d="M515 545l21-1-18-1-21 2zM632 545l21 0-19-2-20 0zM554 544l21-1-18-1-21 2zM593 544l21-1-18-1-21 1z"/>
<path class="c" fill="#008cc4" d="M964 593l19 4-19-6-19-4z"/>
<path class="c" fill="#0080c0" d="M1140 647l19 6-20-8-19-6z"/>
<path class="c" fill="#0070bc" d="M1277 702l18 8-20-9-19-8z"/>
<path class="c" fill="#0090c4" d="M925 584l20 3-20-5-19-3z"/>
<path class="c" fill="#004c78" d="M1375 749l18 9-21-10-18-9z"/>
<path class="c" fill="#0080c0" d="M1101 633l19 6-20-7-19-6z"/>
<path class="c" fill="#0090c4" d="M886 575l20 4-20-5-20-3z"/>
<path class="c" fill="#0074bc" d="M1238 685l18 8-20-9-18-7z"/>
<path class="c" fill="#0094c4" d="M846 568l20 3-19-4-20-3z"/>
<path class="c" fill="#0084c0" d="M1062 621l19 5-20-7-19-5z"/>
<path class="c" fill="#0094c4" d="M807 562l20 2-18-4-21-2z"/>
<path class="c" fill="#005078" d="M1336 730l18 9-20-10-18-9z"/>
<path class="c" fill="#0098c0" d="M768 556l20 2-18-3-21-1z"/>
<path class="c" fill="#0078bc" d="M1199 669l19 8-21-9-18-7z"/>
<path class="c" fill="#0098c0" d="M729 552l20 2-18-3-21-1z"/>
<path class="c" fill="#0088c0" d="M1023 609l19 5-20-6-19-5z"/>
<path class="c" fill="#0098c0" d="M689 549l21 1-18-3-21 0zM650 546l21 1-18-2-21 0zM533 545l21-1-18 0-21 1zM611 545l21 0-18-2-21 1zM572 544l21 0-18-1-21 1z"/>
<path class="c" fill="#008cc0" d="M984 598l19 5-20-6-19-4z"/>
<path class="c" fill="#007cbc" d="M1160 654l19 7-20-8-19-6z"/>
<path class="c" fill="#006cb8" d="M1297 711l19 9-21-10-18-8z"/>
<path class="c" fill="#008cc0" d="M944 589l20 4-19-6-20-3z"/>
<path class="c" fill="#0080bc" d="M1121 640l19 7-20-8-19-6z"/>
<path class="c" fill="#0090c0" d="M905 580l20 4-19-5-20-4z"/>
<path class="c" fill="#0070b8" d="M1258 694l19 8-21-9-18-8z"/>
<path class="c" fill="#0090c0" d="M866 572l20 3-20-4-20-3z"/>
<path class="c" fill="#0084bc" d="M1082 627l19 6-20-7-19-5z"/>
<path class="c" fill="#005078" d="M1357 740l18 9-21-10-18-9z"/>
<path class="c" fill="#0094c0" d="M826 565l20 3-19-4-20-2z"/>
<path class="c" fill="#0074b8" d="M1219 677l19 8-20-8-19-8z"/>
<path class="c" fill="#0094c0" d="M787 559l20 3-19-4-20-2z"/>
<path class="c" fill="#0088bc" d="M1043 615l19 6-20-7-19-5z"/>
<path class="c" fill="#0094c0" d="M747 554l21 2-19-2-20-2z"/>
<path class="c" fill="#0098c0" d="M708 551l21 1-19-2-21-1z"/>
<path class="c" fill="#005478" d="M1318 721l18 9-20-10-19-9z"/>
<path class="c" fill="#0098c0" d="M669 548l20 1-18-2-21-1z"/>
<path class="c" fill="#0078b8" d="M1180 662l19 7-20-8-19-7z"/>
<path class="c" fill="#0088bc" d="M1003 604l20 5-20-6-19-5z"/>
<path class="c" fill="#0098bc" d="M629 546l21 0-18-1-21 0zM551 545l21-1-18 0-21 1zM590 545l21 0-18-1-21 0z"/>
<path class="c" fill="#008cbc" d="M964 594l20 4-20-5-20-4z"/>
<path class="c" fill="#007cb8" d="M1141 647l19 7-20-7-19-7z"/>
<path class="c" fill="#005478" d="M1279 703l18 8-20-9-19-8z"/>
<path class="c" fill="#008cbc" d="M924 584l20 5-19-5-20-4z"/>
<path class="c" fill="#0080b8" d="M1102 634l19 6-20-7-19-6z"/>
<path class="c" fill="#0090bc" d="M885 576l20 4-19-5-20-3z"/>
<path class="c" fill="#005878" d="M1240 686l18 8-20-9-19-8z"/>
<path class="c" fill="#0090bc" d="M845 569l21 3-20-4-20-3z"/>
<path class="c" fill="#0084b8" d="M1062 621l20 6-20-6-19-6z"/>
<path class="c" fill="#0094bc" d="M806 562l20 3-19-3-20-3zM766 557l21 2-19-3-21-2z"/>
<path class="c" fill="#005478" d="M1339 730l18 10-21-10-18-9z"/>
<path class="c" fill="#005c78" d="M1201 670l18 7-20-8-19-7z"/>
<path class="c" fill="#0094bc" d="M727 553l20 1-18-2-21-1z"/>
<path class="c" fill="#0088b8" d="M1023 609l20 6-20-6-20-5z"/>
<path class="c" fill="#0094bc" d="M687 549l21 2-19-2-20-1z"/>
<path class="c" fill="#0098bc" d="M648 547l21 1-19-2-21 0zM608 545l21 1-18-1-21 0zM569 545l21 0-18-1-21 1z"/>
<path class="c" fill="#0088b8" d="M984 599l19 5-19-6-20-4z"/>
<path class="c" fill="#006078" d="M1161 655l19 7-20-8-19-7z"/>
<path class="c" fill="#005878" d="M1300 712l18 9-21-10-18-8z"/>
<path class="c" fill="#008cb8" d="M944 589l20 5-20-5-20-5z"/>
<path class="c" fill="#006078" d="M1122 640l19 7-20-7-19-6z"/>
<path class="c" fill="#0090b8" d="M904 580l20 4-19-4-20-4z"/>
<path class="c" fill="#005c78" d="M1261 694l18 9-21-9-18-8z"/>
<path class="c" fill="#0090b8" d="M865 572l20 4-19-4-21-3z"/>
<path class="c" fill="#006478" d="M1083 627l19 7-20-7-20-6z"/>
<path class="c" fill="#0090b8" d="M825 565l20 4-19-4-20-3z"/>
<path class="c" fill="#005c78" d="M1221 677l19 9-21-9-18-7z"/>
<path class="c" fill="#0094b8" d="M785 559l21 3-19-3-21-2z"/>
<path class="c" fill="#006478" d="M1043 615l19 6-19-6-20-6z"/>
<path class="c" fill="#0094b8" d="M746 554l20 3-19-3-20-1zM706 551l21 2-19-2-21-2zM666 548l21 1-18-1-21-1z"/>
<path class="c" fill="#00587c" d="M1321 720l18 10-21-9-18-9z"/>
<path class="c" fill="#0094b8" d="M627 546l21 1-19-1-21-1z"/>
<path class="c" fill="#006078" d="M1182 662l19 8-21-8-19-7z"/>
<path class="c" fill="#006878" d="M1003 604l20 5-20-5-19-5z"/>
<path class="c" fill="#007078" d="M587 545l21 0-18 0-21 0z"/>
<path class="c" fill="#006878" d="M964 593l20 6-20-5-20-5z"/>
<path class="c" fill="#006478" d="M1142 647l19 8-20-8-19-7z"/>
<path class="c" fill="#005c7c" d="M1281 702l19 10-21-9-18-9z"/>
<path class="c" fill="#006c78" d="M924 584l20 5-20-5-20-4zM884 576l20 4-19-4-20-4z"/>
<path class="c" fill="#006478" d="M1103 633l19 7-20-6-19-7z"/>
<path class="c" fill="#00607c" d="M1242 685l19 9-21-8-19-9z"/>
<path class="c" fill="#007078" d="M844 568l21 4-20-3-20-4z"/>
<path class="c" fill="#006878" d="M1063 620l20 7-21-6-19-6z"/>
<path class="c" fill="#007078" d="M805 562l20 3-19-3-21-3zM765 556l20 3-19-2-20-3z"/>
<path class="c" fill="#00607c" d="M1202 669l19 8-20-7-19-8z"/>
<path class="c" fill="#007078" d="M725 552l21 2-19-1-21-2z"/>
<path class="c" fill="#006878" d="M1023 609l20 6-20-6-20-5z"/>
<path class="c" fill="#007478" d="M685 549l21 2-19-2-21-1zM645 546l21 2-18-1-21-1zM605 545l22 1-19-1-21 0z"/>
<path class="c" fill="#006c78" d="M984 598l19 6-19-5-20-6z"/>
<path class="c" fill="#00647c" d="M1163 654l19 8-21-7-19-8z"/>
<path class="c" fill="#005c7c" d="M1302 711l19 9-21-8-19-10z"/>
<path class="c" fill="#006c78" d="M944 588l20 5-20-4-20-5z"/>
<path class="c" fill="#00687c" d="M1123 639l19 8-20-7-19-7z"/>
<path class="c" fill="#007078" d="M904 579l20 5-20-4-20-4z"/>
<path class="c" fill="#00607c" d="M1263 693l18 9-20-8-19-9z"/>
<path class="c" fill="#007078" d="M864 571l20 5-19-4-21-4z"/>
<path class="c" fill="#00687c" d="M1083 626l20 7-20-6-20-7z"/>
<path class="c" fill="#007478" d="M824 564l20 4-19-3-20-3z"/>
<path class="c" fill="#00647c" d="M1223 676l19 9-21-8-19-8z"/>
<path class="c" fill="#007478" d="M784 558l21 4-20-3-20-3z"/>
<path class="c" fill="#006c7c" d="M1043 614l20 6-20-5-20-6z"/>
<path class="c" fill="#007478" d="M744 553l21 3-19-2-21-2zM704 550l21 2-19-1-21-2z"/>
<path class="c" fill="#007878" d="M664 547l21 2-19-1-21-2z"/>
<path class="c" fill="#00787c" d="M624 545l21 1-18 0-22-1z"/>
<path class="c" fill="#006c7c" d="M1004 602l19 7-20-5-19-6z"/>
<path class="c" fill="#00647c" d="M1183 660l19 9-20-7-19-8z"/>
<path class="c" fill="#00707c" d="M964 592l20 6-20-5-20-5z"/>
<path class="c" fill="#00687c" d="M1144 646l19 8-21-7-19-8z"/>
<path class="c" fill="#006080" d="M1284 701l18 10-21-9-18-9z"/>
<path class="c" fill="#00707c" d="M924 583l20 5-20-4-20-5z"/>
<path class="c" fill="#00747c" d="M883 574l21 5-20-3-20-5z"/>
<path class="c" fill="#006c7c" d="M1104 632l19 7-20-6-20-7z"/>
<path class="c" fill="#00747c" d="M843 567l21 4-20-3-20-4z"/>
<path class="c" fill="#006480" d="M1244 684l19 9-21-8-19-9z"/>
<path class="c" fill="#00747c" d="M803 560l21 4-19-2-21-4z"/>
<path class="c" fill="#006c7c" d="M1064 619l19 7-20-6-20-6z"/>
<path class="c" fill="#00787c" d="M763 555l21 3-19-2-21-3zM723 550l21 3-19-1-21-2z"/>
<path class="c" fill="#006880" d="M1204 667l19 9-21-7-19-9z"/>
<path class="c" fill="#00707c" d="M1024 607l19 7-20-5-19-7z"/>
<path class="c" fill="#00787c" d="M683 547l21 3-19-1-21-2zM643 545l21 2-19-1-21-1z"/>
<path class="c" fill="#00707c" d="M984 596l20 6-20-4-20-6z"/>
<path class="c" fill="#006880" d="M1164 652l19 8-20-6-19-8z"/>
<path class="c" fill="#00747c" d="M943 586l21 6-20-4-20-5z"/>
<path class="c" fill="#006c80" d="M1124 638l20 8-21-7-19-7z"/>
<path class="c" fill="#00747c" d="M903 577l21 6-20-4-21-5z"/>
<path class="c" fill="#006480" d="M1265 691l19 10-21-8-19-9z"/>
<path class="c" fill="#00787c" d="M863 569l20 5-19-3-21-4z"/>
<path class="c" fill="#007080" d="M1084 624l20 8-21-6-19-7z"/>
<path class="c" fill="#00787c" d="M823 562l20 5-19-3-21-4z"/>
<path class="c" fill="#006880" d="M1225 674l19 10-21-8-19-9z"/>
<path class="c" fill="#00787c" d="M782 556l21 4-19-2-21-3z"/>
<path class="c" fill="#007080" d="M1044 612l20 7-21-5-19-7z"/>
<path class="c" fill="#007c7c" d="M742 551l21 4-19-2-21-3zM702 547l21 3-19 0-21-3zM661 544l22 3-19 0-21-2z"/>
<path class="c" fill="#007480" d="M1004 600l20 7-20-5-20-6z"/>
<path class="c" fill="#006c80" d="M1185 658l19 9-21-7-19-8z"/>
<path class="c" fill="#007480" d="M963 590l21 6-20-4-21-6z"/>
<path class="c" fill="#007080" d="M1145 643l19 9-20-6-20-8z"/>
<path class="c" fill="#007880" d="M923 580l20 6-19-3-21-6zM883 572l20 5-20-3-20-5z"/>
<path class="c" fill="#007080" d="M1105 629l19 9-20-6-20-8z"/>
<path class="c" fill="#007c80" d="M842 564l21 5-20-2-20-5z"/>
<path class="c" fill="#006884" d="M1246 681l19 10-21-7-19-10z"/>
<path class="c" fill="#007c80" d="M802 558l21 4-20-2-21-4z"/>
<path class="c" fill="#007480" d="M1064 616l20 8-20-5-20-7z"/>
<path class="c" fill="#007c80" d="M761 552l21 4-19-1-21-4z"/>
<path class="c" fill="#008080" d="M721 548l21 3-19-1-21-3z"/>
<path class="c" fill="#006c84" d="M1206 665l19 9-21-7-19-9z"/>
<path class="c" fill="#007480" d="M1024 604l20 8-20-5-20-7z"/>
<path class="c" fill="#008080" d="M680 544l22 3-19 0-22-3z"/>
<path class="c" fill="#007880" d="M984 593l20 7-20-4-21-6z"/>
<path class="c" fill="#007084" d="M1166 649l19 9-21-6-19-9z"/>
<path class="c" fill="#007c80" d="M943 583l20 7-20-4-20-6z"/>
<path class="c" fill="#007484" d="M1125 635l20 8-21-5-19-9z"/>
<path class="c" fill="#007c80" d="M903 574l20 6-20-3-20-5zM862 566l21 6-20-3-21-5z"/>
<path class="c" fill="#007484" d="M1085 621l20 8-21-5-20-8z"/>
<path class="c" fill="#008080" d="M821 559l21 5-19-2-21-4zM781 553l21 5-20-2-21-4z"/>
<path class="c" fill="#007084" d="M1227 671l19 10-21-7-19-9z"/>
<path class="c" fill="#007884" d="M1044 608l20 8-20-4-20-8z"/>
<path class="c" fill="#008080" d="M740 548l21 4-19-1-21-3z"/>
<path class="c" fill="#008480" d="M699 544l22 4-19-1-22-3z"/>
<path class="c" fill="#007c84" d="M1004 597l20 7-20-4-20-7z"/>
<path class="c" fill="#007084" d="M1187 655l19 10-21-7-19-9z"/>
<path class="c" fill="#007c84" d="M963 586l21 7-21-3-20-7z"/>
<path class="c" fill="#007484" d="M1146 640l20 9-21-6-20-8z"/>
<path class="c" fill="#008084" d="M923 577l20 6-20-3-20-6zM882 568l21 6-20-2-21-6z"/>
<path class="c" fill="#007884" d="M1106 626l19 9-20-6-20-8z"/>
<path class="c" fill="#008084" d="M841 561l21 5-20-2-21-5z"/>
<path class="c" fill="#008484" d="M800 554l21 5-19-1-21-5z"/>
<path class="c" fill="#007c84" d="M1065 613l20 8-21-5-20-8z"/>
<path class="c" fill="#008484" d="M760 549l21 4-20-1-21-4zM719 544l21 4-19 0-22-4z"/>
<path class="c" fill="#007484" d="M1208 661l19 10-21-6-19-10z"/>
<path class="c" fill="#007c84" d="M1024 601l20 7-20-4-20-7z"/>
<path class="c" fill="#008084" d="M984 589l20 8-20-4-21-7z"/>
<path class="c" fill="#007884" d="M1167 645l20 10-21-6-20-9z"/>
<path class="c" fill="#008084" d="M943 579l20 7-20-3-20-6z"/>
<path class="c" fill="#007884" d="M1127 630l19 10-21-5-19-9z"/>
<path class="c" fill="#008484" d="M902 570l21 7-20-3-21-6zM861 562l21 6-20-2-21-5z"/>
<path class="c" fill="#007c84" d="M1086 617l20 9-21-5-20-8z"/>
<path class="c" fill="#008884" d="M820 555l21 6-20-2-21-5zM779 549l21 5-19-1-21-4z"/>
<path class="c" fill="#008084" d="M1045 604l20 9-21-5-20-7z"/>
<path class="c" fill="#008884" d="M738 544l22 5-20-1-21-4z"/>
<path class="c" fill="#008084" d="M1004 593l20 8-20-4-20-8z"/>
<path class="c" fill="#007888" d="M1188 650l20 11-21-6-20-10z"/>
<path class="c" fill="#008484" d="M963 582l21 7-21-3-20-7z"/>
<path class="c" fill="#007c88" d="M1148 635l19 10-21-5-19-10z"/>
<path class="c" fill="#008488" d="M922 572l21 7-20-2-21-7z"/>
<path class="c" fill="#008888" d="M881 564l21 6-20-2-21-6z"/>
<path class="c" fill="#008088" d="M1107 621l20 9-21-4-20-9z"/>
<path class="c" fill="#008888" d="M840 556l21 6-20-1-21-6z"/>
<path class="c" fill="#008c88" d="M799 550l21 5-20-1-21-5z"/>
<path class="c" fill="#008088" d="M1066 608l20 9-21-4-20-9z"/>
<path class="c" fill="#008c88" d="M758 544l21 5-19 0-22-5z"/>
<path class="c" fill="#008488" d="M1025 596l20 8-21-3-20-8zM984 585l20 8-20-4-21-7z"/>
<path class="c" fill="#007c88" d="M1169 640l19 10-21-5-19-10z"/>
<path class="c" fill="#008888" d="M942 574l21 8-20-3-21-7zM901 565l21 7-20-2-21-6z"/>
<path class="c" fill="#008088" d="M1128 625l20 10-21-5-20-9z"/>
<path class="c" fill="#008c88" d="M860 557l21 7-20-2-21-6z"/>
<path class="c" fill="#008488" d="M1087 612l20 9-21-4-20-9z"/>
<path class="c" fill="#008c88" d="M819 550l21 6-20-1-21-5z"/>
<path class="c" fill="#009088" d="M777 544l22 6-20-1-21-5z"/>
<path class="c" fill="#008488" d="M1045 599l21 9-21-4-20-8z"/>
<path class="c" fill="#008888" d="M1004 587l21 9-21-3-20-8z"/>
<path class="c" fill="#008c88" d="M963 576l21 9-21-3-21-8z"/>
<path class="c" fill="#00848c" d="M1149 630l20 10-21-5-20-10z"/>
<path class="c" fill="#008c88" d="M922 567l20 7-20-2-21-7z"/>
<path class="c" fill="#009088" d="M880 558l21 7-20-1-21-7z"/>
<path class="c" fill="#00848c" d="M1108 615l20 10-21-4-20-9z"/>
<path class="c" fill="#009088" d="M839 550l21 7-20-1-21-6z"/>
<path class="c" fill="#00908c" d="M797 544l22 6-20 0-22-6z"/>
<path class="c" fill="#00888c" d="M1066 602l21 10-21-4-21-9z"/>
<path class="c" fill="#008c8c" d="M1025 590l20 9-20-3-21-9zM984 578l20 9-20-2-21-9z"/>
<path class="c" fill="#00908c" d="M942 568l21 8-21-2-20-7zM901 559l21 8-21-2-21-7z"/>
<path class="c" fill="#00888c" d="M1129 619l20 11-21-5-20-10z"/>
<path class="c" fill="#00948c" d="M859 551l21 7-20-1-21-7z"/>
<path class="c" fill="#008c8c" d="M1088 605l20 10-21-3-21-10z"/>
<path class="c" fill="#00948c" d="M817 544l22 6-20 0-22-6z"/>
<path class="c" fill="#008c8c" d="M1046 592l20 10-21-3-20-9z"/>
<path class="b" fill="#00908c" d="M1004 581l21 9-21-3-20-9z"/>
<path class="b" fill="#00948c" d="M963 570l21 8-21-2-21-8zM921 560l21 8-20-1-21-8z"/>
<path class="b" fill="#00988c" d="M879 551l22 8-21-1-21-7z"/>
<path class="b" fill="#008c90" d="M1109 608l20 11-21-4-20-10z"/>
<path class="b" fill="#00988c" d="M838 543l21 8-20-1-22-6z"/>
<path class="b" fill="#009090" d="M1067 595l21 10-22-3-20-10z"/>
<path class="b" fill="#009490" d="M1025 583l21 9-21-2-21-9zM984 571l20 10-20-3-21-8z"/>
<path class="b" fill="#009890" d="M942 561l21 9-21-2-21-8zM900 552l21 8-20-1-22-8z"/>
<path class="b" fill="#009c90" d="M858 543l21 8-20 0-21-8z"/>
<path class="b" fill="#009490" d="M1088 598l21 10-21-3-21-10zM1047 585l20 10-21-3-21-9z"/>
<path class="b" fill="#009890" d="M1005 573l20 10-21-2-20-10z"/>
<path class="b" fill="#009c90" d="M963 562l21 9-21-1-21-9zM921 552l21 9-21-1-21-8z"/>
<path class="b" fill="#00a090" d="M878 543l22 9-21-1-21-8z"/>
<path class="b" fill="#009894" d="M1068 587l20 11-21-3-20-10z"/>
<path class="b" fill="#009c94" d="M1026 574l21 11-22-2-20-10zM984 563l21 10-21-2-21-9z"/>
<path class="b" fill="#00a094" d="M941 552l22 10-21-1-21-9zM899 543l22 9-21 0-22-9z"/>
<path class="b" fill="#009c94" d="M1047 576l21 11-21-2-21-11z"/>
<path class="b" fill="#00a094" d="M1005 564l21 10-21-1-21-10z"/>
<path class="b" fill="#00a494" d="M962 553l22 10-21-1-22-10zM920 543l21 9-20 0-22-9zM1026 565l21 11-21-2-21-10zM984 553l21 11-21-1-22-10z"/>
<path class="b" fill="#00a894" d="M941 543l21 10-21-1-21-9z"/>
<path class="b" fill="#00a898" d="M1005 554l21 11-21-1-21-11z"/>
<path class="b" fill="#00ac98" d="M962 542l22 11-22 0-21-10z"/>
<path class="a" fill="#00b098" d="M984 542l21 12-21-1-22-11z"/>
</g>
<circle class="dp" cx="491.7" cy="98.8" r="7.6"/>
<circle class="dp" cx="491.7" cy="212.2" r="7.6"/>
<circle class="dp" cx="491.7" cy="250.3" r="7.6"/>
<circle class="dq" cx="491.7" cy="348.1" r="7.6"/>
<circle class="dq" cx="491.7" cy="359.7" r="7.6"/>
<circle class="dq" cx="491.7" cy="378.3" r="7.6"/>
<path class="dl" d="M491.7 98.8V378.3"/>
<path class="tk" d="M491.8 752.8h0M491.8 752.8h0M580.2 710.6h0M403.4 710.5h0M668.5 668.3h0M315 668.2h0M756.9 626h0M226.6 625.9h0M845.2 583.8h0M138.2 583.6h0M132.6 467.9h0M128.1 375.3h0M123.6 282.7h0M119.2 190.2h0M114.7 97.6h0"/>
<path class="bx" d="M1175.8 90.5L1556.2 4.5L1936.9 90M1556.2 4.5L1556.1 447M1936.9 90L1913 580.7"/>
<path class="bx2" d="M1175.8 90.5L1199.4 581"/>
<path class="fl" d="M1556.3 751.6L1913 580.7L1556.1 447L1199.4 581Z"/>
<path class="ct" stroke="#00a8e0" d="M1801.4 634.2L1795.8 634.5L1789.2 634.9L1784.5 635.1L1779.4 635.4L1772.8 635.8L1767.6 636.1L1763 636.4L1756.5 636.8L1750.6 637.1L1746.3 637.3L1740.1 637.7L1733.6 638.1L1729.3 638.4L1723.8 638.7L1717.2 639.1L1712.1 639.4L1707.4 639.7L1700.9 640.1L1694.9 640.4L1690.6 640.7L1684.6 641.1L1678 641.5L1673.3 641.8L1668.2 642.1L1661.7 642.5L1656 642.9L1651.6 643.2L1645.4 643.6L1638.9 644L1634.1 644.3L1629.1 644.6L1622.6 645.1L1616.6 645.5L1612.2 645.8L1606.4 646.2L1599.9 646.6L1594.4 647L1590 647.3L1583.6 647.7L1577.2 648.2L1572.1 648.6L1567.5 648.9L1561 649.4L1554.5 649.9L1549.6 650.2L1544.8 650.6L1538.4 651.1L1532 651.6L1526.8 652L1522.2 652.3L1515.9 652.8L1509.5 653.3L1503.8 653.8L1499.1 654.2L1493.5 654.7L1487.1 655.2L1480.7 655.8L1475.7 656.2L1470.9 656.6L1464.8 657.1L1458.5 657.7L1452.1 658.3L1447 658.8L1442.1 659.2L1436.4 659.8L1430.1 660.4L1423.8 661L1417.5 661.7L1412.6 662.2L1407.5 662.7L1401.9 663.3L1395.7 663.9L1389.5 664.6L1383.4 665.3L1377.2 666M1651.9 482.9L1646.7 484.6L1643.2 485.8L1637.9 487.5L1632.7 489.3L1627.4 491L1623.8 492.2L1618.5 494L1613.1 495.8L1607.8 497.5L1604.2 498.7L1598.8 500.5L1593.4 502.3L1588.3 503.9L1584.3 505.3L1578.8 507.1L1573.3 508.9L1569.6 510.1L1564.1 511.9L1558.5 513.7L1552.9 515.5L1549.2 516.7L1543.5 518.5L1537.9 520.4L1533.6 521.7L1528.4 523.4L1522.7 525.2L1517 527.1L1513.1 528.3L1507.4 530.1L1501.6 532L1497.7 533.2L1491.8 535L1486 536.9L1482 538.1L1476.1 540L1470.2 541.8L1466.2 543L1460.2 544.9L1454.2 546.7L1450.1 548L1444 549.8L1437.9 551.7L1433.8 552.9L1427.7 554.8L1421.6 556.6L1417.3 557.9L1411.1 559.7L1406.9 561L1400.6 562.8L1394.2 564.7L1390 565.9L1383.6 567.7L1379.3 569L1372.8 570.8L1368.3 572.1L1361.9 573.8L1356.1 575.5L1350.9 576.9L1344.4 578.7L1339.8 579.9L1333.1 581.7L1328.6 582.9L1322 584.6L1317.2 585.9L1311.4 587.4L1305.7 588.9L1301 590L1294 591.8L1289.3 593L1282.1 594.7L1277.4 595.8L1272.4 597L1265.3 598.7L1260.4 599.8L1254.5 601.1L1248.1 602.6L1245.6 603.1"/>
<path class="ct" stroke="#1a66e0" d="M1843.6 613.9L1837.1 614.1L1832 614.2L1826.8 614.4L1820.5 614.5L1816.4 614.6L1809.4 614.8L1805.1 614.9L1799 615L1793.6 615.1L1788.5 615.2L1782.1 615.3L1778 615.4L1771 615.5L1766.8 615.6L1760.5 615.7L1755.4 615.8L1749.9 615.9L1744 616L1739.3 616.1L1732.6 616.2L1728.6 616.2L1721.5 616.3L1717.5 616.4L1710.8 616.5L1706.2 616.5L1700 616.6L1695 616.6L1689.2 616.7L1683.8 616.7L1678.4 616.7L1672.7 616.8L1667.4 616.8L1661.6 616.8L1656.4 616.8L1650.6 616.8L1645.4 616.8L1639.7 616.7L1634.2 616.7L1628.9 616.7L1622.9 616.6L1618.1 616.5L1611.5 616.4L1607.5 616.4L1600.5 616.2L1596.1 616.1L1590.1 616L1584.3 615.8L1579.8 615.7L1573.1 615.4L1568.2 615.2L1563.1 615L1556.5 614.6L1551.5 614.3L1546.9 614L1540.7 613.6L1534.5 613.1L1529.1 612.6L1524.2 612L1519.2 611.4L1513.8 610.7L1508 609.7L1501.6 608.5L1497 607.3L1490.8 605.4L1487.1 603.9L1484 602.1L1481.1 599.6L1479.7 597.4L1479.2 595.1L1479.5 592.6L1480.5 590.1L1481.8 588L1483.7 585.8L1486.2 583.3L1488.8 581L1491.3 579.1L1493.9 577.1L1498 574.3L1500.9 572.5L1505.2 569.9L1508.2 568.1L1512.7 565.6L1516.4 563.6L1520.5 561.4L1525.2 559L1530 556.6L1533.2 555L1538 552.7L1542.8 550.4L1547.7 548.1L1551.1 546.5L1555.9 544.3L1560.8 542.1L1565.8 539.9L1570.7 537.7L1575.7 535.5L1580.6 533.4L1585.6 531.2L1590.5 529.1L1595.5 527L1600.5 524.9L1603.8 523.5L1608.7 521.5L1613.7 519.4L1618.7 517.4L1623.6 515.4L1628.6 513.3L1633.5 511.3L1638.4 509.3L1643.4 507.3L1648.3 505.4L1651.6 504.1L1656.5 502.1L1661.4 500.2L1666.3 498.2L1671.1 496.3L1676 494.4L1679.3 493.1"/>
<path class="ct" stroke="#2440dc" d="M1878.3 597.3L1874 597.3L1867.7 597.2L1862.9 597.2L1857 597.1L1851.8 597.1L1846.5 597L1840.5 596.9L1836 596.8L1829.2 596.7L1825.4 596.6L1818.6 596.5L1813.9 596.4L1808.3 596.3L1802.3 596.1L1798.1 596L1791.3 595.8L1786.5 595.6L1781.3 595.4L1774.6 595.2L1770.5 595L1764.8 594.7L1758.2 594.4L1754 594.2L1748.6 593.9L1742.2 593.5L1737 593.2L1732.7 592.9L1726.6 592.4L1720.5 591.9L1714.6 591.4L1709.9 591L1705.1 590.5L1699.9 589.9L1694.2 589.2L1688.7 588.5L1683.2 587.7L1678 586.9L1672.2 585.9L1665.4 584.5L1660.8 583.5L1656 582.2L1650 580.4L1644.2 578.2L1639.2 575.8L1636.3 574L1633.3 571.5L1631.4 569.3L1630.2 567.4L1629.3 564.9L1629.1 562.7L1629.4 560.4L1629.8 558.7L1630.8 556.3L1632.1 554L1633.6 551.8L1635.3 549.7L1637.1 547.7L1639.1 545.7L1641.6 543.4L1644.5 541L1646.8 539.1L1649.1 537.4L1652.8 534.7L1655.2 533L1659 530.5L1661.6 528.8L1665.6 526.4L1668.2 524.7L1672.3 522.4L1675 520.8L1679.1 518.5L1683.2 516.2L1686 514.6L1690.2 512.4L1694.5 510.2L1697.5 508.6L1701.6 506.5L1705.9 504.3L1707.3 503.6"/>
<path class="ct" stroke="#2838dc" d="M1912 581.2L1906.6 580.9L1902.2 580.7L1895.7 580.4L1890.2 580.1L1886 579.9L1879.7 579.6L1873.4 579.2L1869.1 578.9L1864 578.6L1857.9 578.1L1851.7 577.7L1847 577.3L1842.4 576.9L1836.7 576.4L1830.8 575.8L1825 575.2L1819.3 574.6L1813.7 573.9L1808.1 573.2L1802.6 572.5L1797.3 571.7L1792.1 570.9L1786.9 570L1781.9 569L1776.4 567.9L1770.1 566.5L1765.6 565.3L1759.2 563.4L1753.2 561.4L1747.8 559.2L1742.9 556.7L1740 554.9L1737.1 552.7L1734.8 550.5L1733.2 548.5L1731.9 546.2L1731 543.6L1730.7 542.2L1730.6 539.5L1730.8 537.7L1731.3 535.8L1732.2 533.5L1733.2 531.3L1734.5 529.2L1735.9 527.1L1737.5 525.1L1739.2 523.2L1740.9 521.3L1742.9 519.3L1744.7 517.6"/>
<path class="fe" d="M1199.4 581L1556.3 751.6L1913 580.7"/>
<g class="sf" transform="scale(.5)">
<path class="a" fill="#00ff54" d="M3112 429l17-9-17-23-16 9z"/>
<path class="a" fill="#00ff6c" d="M3129 451l16-8-16-23-17 9zM3029 473l17-9-17-22-17 9z"/>
<path class="a" fill="#00ff5c" d="M3096 438l16-9-16-23-17 9z"/>
<path class="a" fill="#00ff80" d="M3145 473l17-8-17-22-16 8zM3045 494l17-9-16-21-17 9zM2960 508l18-9-17-21-17 9z"/>
<path class="a" fill="#00ff70" d="M3112 460l17-9-17-22-16 9zM3012 481l17-8-17-22-17 9z"/>
<path class="a" fill="#00ff94" d="M3162 494l17-8-17-21-17 8zM3062 515l17-9-17-21-17 9zM2977 528l17-8-16-21-18 9zM2873 552l17-9-16-20-18 9z"/>
<path class="a" fill="#00ff60" d="M3079 446l17-8-17-23-16 9z"/>
<path class="a" fill="#00ff84" d="M3129 481l16-8-16-22-17 9zM3028 502l17-8-16-21-17 8zM2943 517l17-9-16-21-18 9z"/>
<path class="a" fill="#00ff74" d="M3096 468l16-8-16-22-17 8z"/>
<path class="a" fill="#00ffa8" d="M3179 515l16-8-16-21-17 8zM3079 535l17-8-17-21-17 9zM2976 557l18-9-17-20-17 9zM2889 571l18-8-17-20-17 9zM2801 588l18-9-17-20-18 9z"/>
<path class="a" fill="#00ff64" d="M3062 455l17-9-16-22-17 9z"/>
<path class="a" fill="#00ff98" d="M3146 502l16-8-17-21-16 8zM3045 523l17-8-17-21-17 8zM2960 537l17-9-17-20-17 9z"/>
<path class="a" fill="#00ff88" d="M3112 490l17-9-17-21-16 8zM2925 525l18-8-17-21-17 9z"/>
<path class="a" fill="#00ffbc" d="M3196 535l16-8-17-20-16 8zM3096 554l16-7-16-20-17 8zM3079 562l17-8-17-19-17 8zM2993 576l17-8-16-20-18 9zM2976 584l17-8-17-19-17 8zM2888 599l18-9-17-19-17 9zM2799 615l19-9-17-18-18 9zM2709 633l18-9-16-19-19 10z"/>
<path class="a" fill="#00ff78" d="M3079 477l17-9-17-22-17 9zM2995 490l17-9-17-21-17 9z"/>
<path class="a" fill="#00ffac" d="M3162 523l17-8-17-21-16 8zM3062 543l17-8-17-20-17 8zM2959 565l17-8-16-20-18 8zM2872 580l17-9-16-19-18 9zM2783 597l18-9-17-20-18 10z"/>
<path class="a" fill="#00ff68" d="M3046 464l16-9-16-22-17 9z"/>
<path class="a" fill="#00ff9c" d="M3129 510l17-8-17-21-17 9zM3028 531l17-8-17-21-17 9zM2942 545l18-8-17-20-18 8zM2855 561l18-9-17-20-18 9z"/>
<path class="a" fill="#00ffd0" d="M3212 555l17-8-17-20-16 8zM3196 562l16-7-16-20-17 8zM3095 581l17-7-16-20-17 8zM3078 589l17-8-16-19-17 8zM2993 603l17-8-17-19-17 8zM2975 611l18-8-17-19-18 8zM2887 625l18-8-17-18-18 8zM2779 650l19-8-17-18-18 9zM2688 668l19-9-17-17-19 9zM2614 678l19-9-16-17-19 9z"/>
<path class="a" fill="#00ff8c" d="M3096 498l16-8-16-22-17 9zM3011 511l17-9-16-21-17 9zM2908 534l17-9-16-20-18 9z"/>
<path class="a" fill="#00ffc0" d="M3179 543l17-8-17-20-17 8zM3062 570l17-8-17-19-17 8zM2958 592l18-8-17-19-18 8zM2870 607l18-8-16-19-18 9zM2781 624l18-9-16-18-19 9zM2690 642l19-9-17-18-19 9z"/>
<path class="a" fill="#00ff7c" d="M3062 485l17-8-17-22-16 9zM2978 499l17-9-17-21-17 9z"/>
<path class="a" fill="#00ffb0" d="M3146 531l16-8-16-21-17 8zM3045 551l17-8-17-20-17 8zM2941 573l18-8-17-20-17 9zM2854 589l18-9-17-19-18 9zM2764 606l19-9-17-19-18 9z"/>
<path class="a" fill="#00ffe0" d="M3229 574l17-8-17-19-17 8zM3112 600l17-8-17-18-17 7zM3095 607l17-7-17-19-17 8zM2992 628l17-7-16-18-18 8zM2886 651l18-8-17-18-18 9zM2796 667l19-8-17-17-19 8zM2778 676l18-9-17-17-18 9zM2705 685l19-9-17-17-19 9zM2686 694l19-9-17-17-19 9zM2612 704l19-9-17-17-19 9zM2537 715l19-9-17-17-19 10zM2517 724l20-9-17-16-20 9z"/>
<path class="a" fill="#00ffa0" d="M3112 518l17-8-17-20-16 8zM3011 540l17-9-17-20-17 9zM2925 554l17-9-17-20-17 9zM2837 570l18-9-17-20-18 9z"/>
<path class="a" fill="#00ff90" d="M3079 506l17-8-17-21-17 8zM2994 520l17-9-16-21-17 9zM2890 543l18-9-17-20-17 9z"/>
<path class="a" fill="#00ffc4" d="M3163 550l16-7-17-20-16 8zM3146 558l17-8-17-19-17 8zM3044 578l18-8-17-19-17 8zM2941 601l17-9-17-19-17 9zM2852 616l18-9-16-18-18 9zM2763 633l18-9-17-18-18 9zM2671 651l19-9-17-18-18 9z"/>
<path class="a" fill="#00fff0" d="M3246 592l17-7-17-19-17 8zM3129 618l17-8-17-18-17 8zM3112 625l17-7-17-18-17 7zM3009 646l17-8-17-17-17 7zM2991 653l18-7-17-18-18 8zM2885 676l18-8-17-17-18 8zM2795 692l18-8-17-17-18 9zM2776 700l19-8-17-16-19 8zM2684 718l19-9-17-15-19 8zM2609 728l19-8-16-16-20 9zM2589 737l20-9-17-15-19 9zM2514 749l19-9-16-16-20 9zM2437 761l20-9-17-15-20 9z"/>
<path class="a" fill="#00ffb4" d="M3129 539l17-8-17-21-17 8zM3028 559l17-8-17-20-17 9zM2924 582l17-9-16-19-18 9zM2836 598l18-9-17-19-18 9zM2746 615l18-9-16-19-19 9z"/>
<path class="a" fill="#00ffe4" d="M3213 581l16-7-17-19-16 7zM3196 588l17-7-17-19-17 8zM3078 615l17-8-17-18-17 8zM2974 636l18-8-17-17-18 8zM2957 644l17-8-17-17-17 8zM2868 659l18-8-17-17-18 8zM2759 684l19-8-17-17-19 9zM2667 702l19-8-17-17-19 9zM2592 713l20-9-17-17-19 10zM2497 733l20-9-17-16-20 10z"/>
<path class="a" fill="#00ffa4" d="M3096 527l16-9-16-20-17 8zM2994 548l17-8-17-20-17 8zM2907 563l18-9-17-20-18 9zM2819 579l18-9-17-20-18 9z"/>
<path class="a" fill="#00ffd4" d="M3179 570l17-8-17-19-16 7zM3061 597l17-8-16-19-18 8zM2957 619l18-8-17-19-17 9zM2869 634l18-9-17-18-18 9zM2851 642l18-8-17-18-18 9zM2761 659l18-9-16-17-19 9zM2669 677l19-9-17-17-19 9zM2595 687l19-9-16-17-20 9z"/>
<path class="a" fill="#00fcff" d="M3263 610l17-7-17-18-17 7zM3247 617l16-7-17-18-16 7zM3112 650l17-8-17-17-17 8zM3095 657l17-7-17-17-17 7zM2991 677l17-7-17-17-17 8zM2973 685l18-8-17-16-18 8zM2865 707l19-8-17-15-19 8zM2847 715l18-8-17-15-18 8zM2755 732l19-8-17-16-19 9zM2736 740l19-8-17-15-19 8zM2662 750l19-9-17-15-19 9zM2643 758l19-8-17-15-19 9zM2567 769l20-8-17-15-20 9zM2490 781l20-9-16-14-20 9zM2470 790l20-9-16-14-21 9zM2413 794l20-9-16-14-21 9z"/>
<path class="a" fill="#00fff4" d="M3230 599l16-7-17-18-16 7zM3213 607l17-8-17-18-17 7zM3095 633l17-8-17-18-17 8zM3078 640l17-7-17-18-17 8zM2974 661l17-8-17-17-17 8zM2867 684l18-8-17-17-18 8zM2848 692l19-8-17-17-19 9zM2757 708l19-8-17-16-19 9zM2664 726l20-8-17-16-19 9zM2570 746l19-9-16-15-20 9zM2494 758l20-9-17-16-20 10zM2417 771l20-10-17-15-20 10z"/>
<path class="a" fill="#00ffb8" d="M3112 547l17-8-17-21-16 9zM3010 568l18-9-17-19-17 8zM2906 590l18-8-17-19-18 8zM2818 606l18-8-17-19-18 9zM2727 624l19-9-17-19-18 9z"/>
<path class="a" fill="#00ecff" d="M3281 628l16-7-17-18-17 7zM3264 635l17-7-18-18-16 7zM3248 641l16-6-17-18-16 7zM3112 673l18-7-18-16-17 7zM3095 680l17-7-17-16-17 7zM2972 708l18-8-17-15-18 7zM2954 715l18-7-17-16-18 8zM2936 722l18-7-17-15-18 7zM2846 737l18-7-17-15-18 8zM2827 745l19-8-17-14-19 8zM2808 753l19-8-17-14-19 7zM2715 770l19-8-17-14-19 8zM2696 778l19-8-17-14-19 8zM2620 788l20-8-17-14-20 9zM2601 796l19-8-17-13-19 8zM2524 808l20-8-17-14-20 9zM2504 817l20-9-17-13-20 9zM2446 821l20-9-16-13-21 9z"/>
<path class="a" fill="#00ffd8" d="M3163 577l16-7-16-20-17 8zM3146 585l17-8-17-19-17 8zM3044 605l17-8-17-19-17 8zM2940 627l17-8-16-18-18 8zM2833 651l18-9-17-17-18 8zM2742 668l19-9-17-17-19 8zM2650 686l19-9-17-17-19 9zM2576 697l19-10-17-17-19 10z"/>
<path class="a" fill="#00ffc8" d="M3129 566l17-8-17-19-17 8zM3027 586l17-8-16-19-18 9zM2923 609l18-8-17-19-18 8zM2834 625l18-9-16-18-18 8zM2744 642l19-9-17-18-19 9zM2652 660l19-9-16-18-19 9z"/>
<path class="a" fill="#00e0ff" d="M3298 645l16-7-17-17-16 7zM3147 682l17-7-17-16-17 7zM3130 689l17-7-17-16-18 7zM3112 696l18-7-18-16-17 7zM2971 729l18-7-17-14-18 7zM2953 736l18-7-17-14-18 7zM2935 744l18-8-17-14-18 7zM2825 766l19-7-17-14-19 8zM2807 774l18-8-17-13-19 7zM2788 781l19-7-18-14-19 8zM2694 798l19-7-17-13-20 7zM2674 806l20-8-18-13-19 8zM2598 817l20-8-17-13-20 9zM2578 825l20-8-17-12-20 8zM2558 833l20-8-17-12-20 8zM2500 837l20-8-16-12-21 8zM2480 846l20-9-17-12-20 9z"/>
<path class="a" fill="#00ffe8" d="M3180 596l16-8-17-18-16 7zM3061 623l17-8-17-18-17 8zM3044 630l17-7-17-18-17 8zM2939 652l18-8-17-17-18 8zM2850 667l18-8-17-17-18 9zM2831 676l19-9-17-16-18 8zM2740 693l19-9-17-16-18 8zM2648 711l19-9-17-16-19 9zM2573 722l19-9-16-16-20 9zM2553 731l20-9-17-16-19 9zM2477 743l20-10-17-15-19 9z"/>
<path class="a" fill="#00f8ff" d="M3231 624l16-7-17-18-17 8zM3214 631l17-7-18-17-16 7zM3078 664l17-7-17-17-17 7zM3061 671l17-7-17-17-18 8zM2955 692l18-7-17-16-18 7zM2937 700l18-8-17-16-18 8zM2829 723l18-8-17-15-18 8zM2810 731l19-8-17-15-19 8zM2717 748l19-8-17-15-19 8zM2623 766l20-8-17-14-20 8zM2547 778l20-9-17-14-20 9zM2527 786l20-8-17-14-20 8zM2450 799l20-9-17-14-20 9z"/>
<path class="a" fill="#00ffcc" d="M3112 574l17-8-17-19-16 7zM3010 595l17-9-17-18-17 8zM2905 617l18-8-17-19-18 9zM2816 633l18-8-16-19-19 9zM2798 642l18-9-17-18-18 9zM2725 650l19-8-17-18-18 9zM2707 659l18-9-16-17-19 9zM2633 669l19-9-16-18-19 10z"/>
<path class="a" fill="#00fff8" d="M3197 614l16-7-17-19-16 8zM3180 621l17-7-17-18-17 7zM3061 647l17-7-17-17-17 7zM2956 669l18-8-17-17-18 8zM2938 676l18-7-17-17-18 8zM2830 700l18-8-17-16-18 8zM2738 717l19-9-17-15-18 8zM2719 725l19-8-16-16-19 8zM2645 735l19-9-16-15-20 9zM2626 744l19-9-17-15-19 8zM2550 755l20-9-17-15-20 9zM2474 767l20-9-17-15-20 9zM2453 776l21-9-17-15-20 9zM2396 780l21-9-17-15-20 9z"/>
<path class="a" fill="#00d0ff" d="M3315 661l16-6-17-17-16 7zM3299 668l16-7-17-16-17 6zM3282 674l17-6-18-17-16 7zM3266 680l16-6-17-16-17 7zM3095 724l17-7-17-15-17 7zM3077 730l18-6-17-15-18 7zM3060 737l17-7-17-14-18 7zM3042 744l18-7-18-14-17 7zM3024 750l18-6-17-14-18 7zM3006 757l18-7-17-13-18 6zM2860 792l19-7-18-13-18 7zM2841 799l19-7-17-13-19 7zM2822 806l19-7-17-13-19 8zM2803 813l19-7-17-12-19 7zM2784 819l19-6-17-12-19 7zM2765 826l19-7-17-11-20 7zM2689 837l19-7-17-12-20 7zM2669 844l20-7-18-12-19 8zM2649 851l20-7-17-11-20 7zM2629 859l20-8-17-11-20 8zM2609 866l20-7-17-11-20 7zM2588 873l21-7-17-11-21 8zM2551 871l20-8-17-11-20 8zM2530 878l21-7-17-11-21 8z"/>
<path class="a" fill="#00dcff" d="M3281 651l17-6-17-17-17 7zM3265 658l16-7-17-16-16 6zM3248 665l17-7-17-17-17 7zM3095 702l17-6-17-16-17 7zM3078 709l17-7-17-15-18 7zM3060 716l18-7-18-15-17 7zM3042 723l18-7-17-15-18 7zM2917 751l18-7-17-15-18 8zM2899 758l18-7-17-14-19 7zM2880 765l19-7-18-14-18 7zM2769 788l19-7-18-13-19 7zM2749 796l20-8-18-13-19 8zM2730 803l19-7-17-13-19 8zM2654 814l20-8-17-13-20 8zM2635 821l19-7-17-13-19 8zM2615 829l20-8-17-12-20 8zM2537 841l21-8-17-12-21 8zM2517 849l20-8-17-12-20 8zM2496 857l21-8-17-12-20 9z"/>
<path class="a" fill="#00ffec" d="M3163 603l17-7-17-19-17 8zM3146 610l17-7-17-18-17 7zM3026 638l18-8-17-17-18 8zM2921 660l18-8-17-17-18 8zM2903 668l18-8-17-17-18 8zM2813 684l18-8-16-17-19 8zM2722 701l18-8-16-17-19 9zM2703 709l19-8-17-16-19 9zM2628 720l20-9-17-16-19 9zM2533 740l20-9-16-16-20 9zM2457 752l20-9-16-16-21 10z"/>
<path class="a" fill="#00ffdc" d="M3129 592l17-7-17-19-17 8zM3027 613l17-8-17-19-17 9zM3009 621l18-8-17-18-17 8zM2922 635l18-8-17-18-18 8zM2904 643l18-8-17-18-18 8zM2815 659l18-8-17-18-18 9zM2724 676l18-8-17-18-18 9zM2631 695l19-9-17-17-19 9zM2556 706l20-9-17-17-20 9z"/>
<path class="a" fill="#00c4ff" d="M3332 677l17-6-18-16-16 6zM3316 684l16-7-17-16-16 7zM3300 690l16-6-17-16-17 6zM3024 770l18-7-18-13-18 7zM3006 776l18-6-18-13-18 7zM2987 783l19-7-18-12-18 6zM2969 789l18-6-17-13-18 7zM2951 796l18-7-17-12-19 7zM2932 802l19-6-18-12-18 6zM2914 808l18-6-17-12-19 7zM2895 815l19-7-18-11-19 7zM2876 821l19-6-18-11-18 6zM2857 828l19-7-17-11-19 7zM2838 834l19-6-17-11-20 7zM2819 841l19-7-18-10-19 6zM2799 847l20-6-18-11-19 7zM2780 854l19-7-17-10-19 7zM2760 860l20-6-17-10-20 7zM2741 867l19-7-17-9-20 7zM2758 876l20-6-18-10-19 7zM2721 874l20-7-18-9-20 6zM2738 882l20-6-17-9-20 7zM2701 880l20-6-18-10-20 7zM2718 889l20-7-17-8-20 6zM2681 887l20-7-18-9-20 7zM2698 895l20-6-17-9-20 7zM2716 902l20-6-18-7-20 6zM2678 901l20-6-17-8-20 6zM2734 909l20-5-18-8-20 6zM2696 909l20-7-18-7-20 6zM2658 908l20-7-17-8-21 7zM2751 916l20-6-17-6-20 5zM2713 915l21-6-18-7-20 7zM2675 915l21-6-18-8-20 7zM2807 922l20-5-18-6-20 5zM2769 922l20-6-18-6-20 6zM2731 921l20-5-17-7-21 6zM2693 921l20-6-17-6-21 6zM2655 921l20-6-17-7-21 6zM2749 927l20-5-18-6-20 5z"/>
<path class="a" fill="#00e8ff" d="M3231 648l17-7-17-17-17 7zM3214 655l17-7-17-17-17 7zM3078 687l17-7-17-16-17 7zM3060 694l18-7-17-16-18 7zM3043 701l17-7-17-16-17 8zM2918 729l18-7-17-15-18 8zM2900 737l18-8-17-14-18 7zM2789 760l19-7-17-15-19 8zM2770 768l19-8-17-14-19 8zM2676 785l20-7-17-14-20 8zM2657 793l19-8-17-13-19 8zM2581 805l20-9-17-13-20 9zM2561 813l20-8-17-13-20 8zM2483 825l21-8-17-13-21 8zM2463 834l20-9-17-13-20 9z"/>
<path class="a" fill="#00b8ff" d="M3350 693l16-6-17-16-17 6zM3334 699l16-6-18-16-16 7zM3317 705l17-6-18-15-16 6zM3301 711l16-6-17-15-17 6zM3284 717l17-6-18-15-16 6zM3130 770l18-6-18-13-18 6zM3112 776l18-6-18-13-17 7zM3095 782l17-6-17-12-18 6zM3077 788l18-6-18-12-18 6zM3059 794l18-6-18-12-18 6zM3041 800l18-6-18-12-18 6zM3023 806l18-6-18-12-18 7zM3004 812l19-6-18-11-18 6zM2986 818l18-6-17-11-19 6zM2967 824l19-6-18-11-18 6zM2949 830l18-6-17-11-19 6zM2948 846l19-6-18-10-19 6zM2929 851l19-5-18-10-19 6zM2910 857l19-6-18-9-19 6zM2891 863l19-6-18-9-19 6zM2909 871l19-5-18-9-19 6zM2890 877l19-6-18-8-19 6zM2908 884l19-5-18-8-19 6zM2870 882l20-5-18-8-20 6zM2926 891l19-5-18-7-19 5zM2888 890l20-6-18-7-20 5zM2944 898l19-5-18-7-19 5zM2906 896l20-5-18-7-20 6zM2962 903l19-4-18-6-19 5zM2924 902l20-4-18-7-20 5z"/>
<path class="a" fill="#00f4ff" d="M3197 638l17-7-17-17-17 7zM3180 645l17-7-17-17-17 7zM3043 678l18-7-18-16-17 7zM3026 686l17-8-17-16-18 8zM2919 707l18-7-17-16-18 8zM2901 715l18-8-17-15-18 7zM2791 738l19-7-17-15-19 8zM2772 746l19-8-17-14-19 8zM2698 756l19-8-17-15-19 8zM2679 764l19-8-17-15-19 9zM2603 775l20-9-17-14-19 9zM2584 783l19-8-16-14-20 8zM2507 795l20-9-17-14-20 9zM2487 804l20-9-17-14-20 9zM2429 808l21-9-17-14-20 9z"/>
<path class="a" fill="#00fffc" d="M3163 628l17-7-17-18-17 7zM3146 635l17-7-17-18-17 8zM3043 655l18-8-17-17-18 8zM3026 662l17-7-17-17-17 8zM2920 684l18-8-17-16-18 8zM2902 692l18-8-17-16-18 8zM2812 708l18-8-17-16-18 8zM2793 716l19-8-17-16-19 8zM2700 733l19-8-16-16-19 9zM2606 752l20-8-17-16-20 9zM2530 764l20-9-17-15-19 9zM2510 772l20-8-16-15-20 9zM2433 785l20-9-16-15-20 10z"/>
<path class="a" fill="#00acff" d="M3367 708l17-6-18-15-16 6zM3351 714l16-6-17-15-16 6zM3335 719l16-5-17-15-17 6zM3318 725l17-6-18-14-16 6zM3302 731l16-6-17-14-17 6zM3285 736l17-5-18-14-17 5zM3268 742l17-6-18-14-16 6zM3251 748l17-6-17-14-17 6zM3234 754l17-6-17-14-17 6zM3217 759l17-5-17-14-17 6zM3200 765l17-6-17-13-18 6zM3183 771l17-6-18-13-17 6zM3112 810l18-5-18-11-17 5zM3095 816l17-6-17-11-18 6zM3076 821l19-5-18-11-18 6zM3058 827l18-6-17-10-19 6zM3058 842l18-5-18-10-18 5zM3040 847l18-5-18-10-18 6zM3021 852l19-5-18-9-19 6zM3039 861l19-5-18-9-19 5zM3021 866l18-5-18-9-19 6zM3039 873l18-4-18-8-18 5zM3057 880l19-4-19-7-18 4zM3020 878l19-5-18-7-19 5zM3075 887l19-5-18-6-19 4zM3038 885l19-5-18-7-19 5zM3057 891l18-4-18-7-19 5z"/>
<path class="a" fill="#00a0ff" d="M3385 722l16-5-17-15-17 6zM3369 728l16-6-18-14-16 6zM3352 733l17-5-18-14-16 5zM3336 739l16-6-17-14-17 6zM3319 744l17-5-18-14-16 6zM3236 789l17-5-18-12-17 5zM3218 794l18-5-18-12-18 6zM3201 800l17-6-18-11-17 5zM3184 805l17-5-18-12-17 6zM3166 825l18-5-18-10-18 5zM3148 830l18-5-18-10-18 6zM3149 844l18-4-19-10-17 6zM3131 849l18-5-18-8-19 5zM3149 857l18-4-18-9-18 5zM3131 862l18-5-18-8-19 5zM3149 869l18-4-18-8-18 5zM3168 876l18-4-19-7-18 4z"/>
<path class="a" fill="#00d8ff" d="M3232 671l16-6-17-17-17 7zM3215 678l17-7-18-16-16 7zM3198 684l17-6-17-16-17 6zM3181 691l17-7-17-16-17 7zM3025 730l17-7-17-15-18 7zM3007 737l18-7-18-15-18 7zM2989 743l18-6-18-15-18 7zM2971 750l18-7-18-14-18 7zM2861 772l19-7-17-14-19 8zM2843 779l18-7-17-13-19 7zM2824 786l19-7-18-13-18 8zM2805 794l19-8-17-12-19 7zM2711 811l19-8-17-12-19 7zM2691 818l20-7-17-13-20 8zM2671 825l20-7-17-12-20 8zM2652 833l19-8-17-11-19 7zM2595 837l20-8-17-12-20 8zM2575 845l20-8-17-12-20 8zM2554 852l21-7-17-12-21 8zM2534 860l20-8-17-11-20 8z"/>
<path class="a" fill="#00e4ff" d="M3198 662l16-7-17-17-17 7zM3181 668l17-6-18-17-16 7zM3164 675l17-7-17-16-17 7zM3025 708l18-7-17-15-18 7zM3007 715l18-7-17-15-18 7zM2989 722l18-7-17-15-18 8zM2881 744l19-7-17-15-19 8zM2863 751l18-7-17-14-18 7zM2844 759l19-8-17-14-19 8zM2751 775l19-7-17-14-19 8zM2732 783l19-8-17-13-19 8zM2713 791l19-8-17-13-19 8zM2637 801l20-8-17-13-20 8zM2618 809l19-8-17-13-19 8zM2541 821l20-8-17-13-20 8zM2520 829l21-8-17-13-20 9z"/>
<path class="a" fill="#00f0ff" d="M3164 652l16-7-17-17-17 7zM3147 659l17-7-18-17-17 7zM3130 666l17-7-18-17-17 8zM3008 693l18-7-18-16-17 7zM2990 700l18-7-17-16-18 8zM2883 722l18-7-17-16-19 8zM2864 730l19-8-18-15-18 8zM2753 754l19-8-17-14-19 8zM2734 762l19-8-17-14-19 8zM2659 772l20-8-17-14-19 8zM2640 780l19-8-16-14-20 8zM2564 792l20-9-17-14-20 9zM2544 800l20-8-17-14-20 8zM2466 812l21-8-17-14-20 9z"/>
<path class="a" fill="#00c0ff" d="M3283 696l17-6-18-16-16 6zM3267 702l16-6-17-16-17 7zM3250 708l17-6-18-15-17 6zM3233 714l17-6-18-15-17 6zM3216 720l17-6-18-15-16 7zM3199 727l17-7-17-14-17 6zM3182 733l17-6-17-15-18 7zM3165 739l17-6-18-14-17 6zM3147 745l18-6-18-14-17 6zM3130 751l17-6-17-14-18 7zM3112 757l18-6-18-13-17 6zM3095 764l17-7-17-13-18 7zM3077 770l18-6-18-13-18 6zM3059 776l18-6-18-13-17 6zM3023 788l18-6-17-12-18 6zM3005 795l18-7-17-12-19 7zM2987 801l18-6-18-12-18 6zM2968 807l19-6-18-12-18 7zM2950 813l18-6-17-11-19 6zM2931 819l19-6-18-11-18 6zM2912 826l19-7-17-11-19 7zM2894 832l18-6-17-11-19 6zM2875 838l19-6-18-11-19 7zM2856 845l19-7-18-10-19 6zM2836 851l20-6-18-11-19 7zM2817 857l19-6-17-10-20 6zM2798 863l19-6-18-10-19 7zM2815 872l20-6-18-9-19 6zM2778 870l20-7-18-9-20 6zM2796 878l19-6-17-9-20 7zM2776 884l20-6-18-8-20 6zM2794 892l19-6-17-8-20 6zM2756 890l20-6-18-8-20 6zM2811 899l20-5-18-8-19 6zM2774 898l20-6-18-8-20 6zM2736 896l20-6-18-8-20 7zM2829 906l20-6-18-6-20 5zM2791 905l20-6-17-7-20 6zM2754 904l20-6-18-8-20 6zM2847 911l20-5-18-6-20 6zM2809 911l20-5-18-7-20 6zM2771 910l20-5-17-7-20 6zM2827 917l20-6-18-5-20 5zM2789 916l20-5-18-6-20 5z"/>
<path class="a" fill="#00ffff" d="M3129 642l17-7-17-17-17 7zM3008 670l18-8-17-16-18 7zM2884 699l18-7-17-16-18 8zM2774 724l19-8-17-16-19 8zM2681 741l19-8-16-15-20 8zM2587 761l19-9-17-15-19 9z"/>
<path class="a" fill="#0098ff" d="M3403 736l16-5-18-14-16 5zM3387 741l16-5-18-14-16 6zM3370 747l17-6-18-13-17 5zM3354 752l16-5-18-14-16 6zM3337 757l17-5-18-13-17 5zM3321 763l16-6-18-13-16 6zM3271 795l17-5-18-12-17 6zM3254 800l17-5-18-11-17 5zM3236 805l18-5-18-11-18 5zM3237 820l17-4-18-11-17 5zM3220 825l17-5-18-10-17 5zM3202 830l18-5-18-10-18 5zM3220 839l18-4-18-10-18 5zM3203 844l17-5-18-9-18 5zM3203 856l18-4-18-8-18 4zM3222 864l17-4-18-8-18 4zM3240 871l18-4-19-7-17 4zM3204 868l18-4-19-8-18 5zM3222 875l18-4-18-7-18 4z"/>
<path class="a" fill="#00ccff" d="M3249 687l17-7-18-15-16 6zM3232 693l17-6-17-16-17 7zM3215 699l17-6-17-15-17 6zM3199 706l16-7-17-15-17 7zM3182 712l17-6-18-15-17 6zM2988 764l18-7-17-14-18 7zM2970 770l18-6-17-14-18 7zM2952 777l18-7-17-13-19 7zM2933 784l19-7-18-13-18 7zM2915 790l18-6-17-13-19 7zM2896 797l19-7-18-12-18 7zM2877 804l19-7-17-12-19 7zM2859 810l18-6-17-12-19 7zM2745 833l20-7-18-11-19 7zM2726 840l19-7-17-11-20 8zM2706 847l20-7-18-10-19 7zM2686 854l20-7-17-10-20 7zM2666 861l20-7-17-10-20 7zM2646 869l20-8-17-10-20 8zM2626 876l20-7-17-10-20 7zM2606 883l20-7-17-10-21 7zM2568 880l20-7-17-10-20 8zM2585 890l21-7-18-10-20 7zM2547 888l21-8-17-9-21 7zM2565 897l20-7-17-10-21 8z"/>
<path class="a" fill="#008cff" d="M3421 749l16-5-18-13-16 5zM3404 754l17-5-18-13-16 5zM3356 786l17-4-18-12-17 5zM3340 791l16-5-18-11-16 5zM3323 796l17-5-18-11-17 5zM3307 816l17-5-18-10-17 5zM3290 821l17-5-18-10-17 5zM3291 835l17-5-18-9-17 4zM3292 847l17-4-18-8-17 4zM3293 859l18-4-19-8-17 4zM3312 866l17-4-18-7-18 4z"/>
<path class="a" fill="#0084ff" d="M3439 762l16-5-18-13-16 5zM3422 767l17-5-18-13-17 5zM3391 793l17-5-18-11-17 5zM3375 798l16-5-18-11-17 4zM3359 817l17-4-18-11-17 5zM3342 821l17-4-18-10-17 4zM3344 835l17-4-19-10-17 5zM3345 847l17-4-18-8-17 4zM3347 859l17-4-19-8-17 4z"/>
<path class="a" fill="#007cff" d="M3457 774l16-4-18-13-16 5zM3440 779l17-5-18-12-17 5zM3426 799l16-4-18-11-16 4zM3409 804l17-5-18-11-17 5zM3394 822l17-4-18-10-17 5zM3396 836l17-4-19-10-16 5zM3379 840l17-4-18-9-17 4zM3398 848l17-4-19-8-17 4zM3400 859l17-4-19-7-17 3z"/>
<path class="a" fill="#00b4ff" d="M3267 722l17-5-17-15-17 6zM3251 728l16-6-17-14-17 6zM3234 734l17-6-18-14-17 6zM3217 740l17-6-18-14-17 7zM3200 746l17-6-18-13-17 6zM3182 752l18-6-18-13-17 6zM3165 758l17-6-17-13-18 6zM3148 764l17-6-18-13-17 6zM3040 817l19-6-18-11-18 6zM3022 822l18-5-17-11-19 6zM3004 828l18-6-18-10-18 6zM2985 834l19-6-18-10-19 6zM2967 840l18-6-18-10-18 6zM2966 855l18-6-17-9-19 6zM2947 860l19-5-18-9-19 5zM2965 868l19-5-18-8-19 5zM2928 866l19-6-18-9-19 6zM2946 874l19-6-18-8-19 6zM2964 881l19-5-18-8-19 6zM2927 879l19-5-18-8-19 5zM2982 888l19-5-18-7-19 5zM2945 886l19-5-18-7-19 5zM3000 894l19-4-18-7-19 5zM2963 893l19-5-18-7-19 5zM2981 899l19-5-18-6-19 5z"/>
<path class="a" fill="#0090ff" d="M3388 760l16-6-17-13-17 6zM3372 765l16-5-18-13-16 5zM3355 770l17-5-18-13-17 5zM3338 775l17-5-18-13-16 6zM3306 801l17-5-18-11-17 5zM3289 806l17-5-18-11-17 5zM3273 825l17-4-18-10-18 5zM3255 830l18-5-19-9-17 4zM3274 839l17-4-18-10-18 5zM3256 843l18-4-19-9-17 5zM3275 851l17-4-18-8-18 4zM3257 856l18-5-19-8-17 5zM3276 863l17-4-18-8-18 5zM3294 870l18-4-19-7-17 4z"/>
<path class="a" fill="#00d4ff" d="M3164 697l17-6-17-16-17 7zM3147 704l17-7-17-15-17 7zM3130 711l17-7-17-15-18 7zM3112 717l18-6-18-15-17 6zM2953 757l18-7-18-14-18 8zM2934 764l19-7-18-13-18 7zM2916 771l18-7-17-13-18 7zM2897 778l19-7-17-13-19 7zM2879 785l18-7-17-13-19 7zM2786 801l19-7-17-13-19 7zM2767 808l19-7-17-13-20 8zM2747 815l20-7-18-12-19 7zM2728 822l19-7-17-12-19 8zM2708 830l20-8-17-11-20 7zM2632 840l20-7-17-12-20 8zM2612 848l20-8-17-11-20 8zM2592 855l20-7-17-11-20 8zM2571 863l21-8-17-10-21 7zM2513 868l21-8-17-11-21 8z"/>
<path class="a" fill="#0074ff" d="M3475 786l16-4-18-12-16 4zM3461 806l16-4-18-11-17 4zM3444 810l17-4-19-11-16 4zM3446 824l17-4-19-10-16 4zM3430 828l16-4-18-10-17 4zM3432 840l16-3-18-9-17 4zM3450 848l17-3-19-8-16 3zM3434 852l16-4-18-8-17 4zM3452 859l17-3-19-8-16 4z"/>
<path class="a" fill="#0088ff" d="M3406 772l16-5-18-13-16 6zM3390 777l16-5-18-12-16 5zM3373 782l17-5-18-12-17 5zM3358 802l17-4-19-12-16 5zM3341 807l17-5-18-11-17 5zM3324 811l17-4-18-11-17 5zM3325 826l17-5-18-10-17 5zM3308 830l17-4-18-10-17 5zM3327 839l17-4-19-9-17 4zM3309 843l18-4-19-9-17 5zM3328 851l17-4-18-8-18 4zM3311 855l17-4-19-8-17 4zM3329 862l18-3-19-8-17 4z"/>
<path class="a" fill="#00a4ff" d="M3303 750l16-6-17-13-17 5zM3286 755l17-5-18-14-17 6zM3269 761l17-6-18-13-17 6zM3252 766l17-5-18-13-17 6zM3235 772l17-6-18-12-17 5zM3218 777l17-5-18-13-17 6zM3166 810l18-5-18-11-18 5zM3148 815l18-5-18-11-18 6zM3130 821l18-6-18-10-18 5zM3131 836l17-6-18-9-18 5zM3112 841l19-5-19-10-18 5zM3094 846l18-5-18-10-18 6zM3112 854l19-5-19-8-18 5zM3094 859l18-5-18-8-18 5zM3112 867l19-5-19-8-18 5zM3131 874l18-5-18-7-19 5z"/>
<path class="a" fill="#006cff" d="M3493 797l16-4-18-11-16 4zM3495 812l16-4-18-11-16 5zM3479 816l16-4-18-10-16 4zM3481 829l17-3-19-10-16 4zM3483 842l17-4-19-9-16 4zM3486 853l16-3-19-8-16 3z"/>
<path class="a" fill="#0078ff" d="M3459 791l16-5-18-12-17 5zM3442 795l17-4-19-12-16 5zM3428 814l16-4-18-11-17 5zM3411 818l17-4-19-10-16 4zM3413 832l17-4-19-10-17 4zM3415 844l17-4-19-8-17 4zM3417 855l17-3-19-8-17 4z"/>
<path class="a" fill="#0080ff" d="M3424 784l16-5-18-12-16 5zM3408 788l16-4-18-12-16 5zM3393 808l16-4-18-11-16 5zM3376 813l17-5-18-10-17 4zM3378 827l16-5-18-9-17 4zM3361 831l17-4-19-10-17 4zM3362 843l17-3-18-9-17 4zM3381 851l17-3-19-8-17 3zM3364 855l17-4-19-8-17 4zM3383 862l17-3-19-8-17 4z"/>
<path class="a" fill="#00c8ff" d="M3164 719l18-7-18-15-17 7zM3147 725l17-6-17-15-17 7zM3130 731l17-6-17-14-18 6zM3112 738l18-7-18-14-17 7zM3095 744l17-6-17-14-18 6zM3077 751l18-7-18-14-17 7zM3059 757l18-6-17-14-18 7zM3042 763l17-6-17-13-18 6zM2840 817l19-7-18-11-19 7zM2820 824l20-7-18-11-19 7zM2801 830l19-6-17-11-19 6zM2782 837l19-7-17-11-19 7zM2763 844l19-7-17-11-20 7zM2743 851l20-7-18-11-19 7zM2723 858l20-7-17-11-20 7zM2703 864l20-6-17-11-20 7zM2683 871l20-7-17-10-20 7zM2663 878l20-7-17-10-20 8zM2643 885l20-7-17-9-20 7zM2661 893l20-6-18-9-20 7zM2623 892l20-7-17-9-20 7zM2640 900l21-7-18-8-20 7zM2602 898l21-6-17-9-21 7zM2620 906l20-6-17-8-21 6zM2582 905l20-7-17-8-20 7zM2637 914l21-6-18-8-20 6zM2599 913l21-7-18-8-20 7zM2617 920l20-6-17-8-21 7zM2711 927l20-6-18-6-20 6zM2672 927l21-6-18-6-20 6zM2634 927l21-6-18-7-20 6zM2690 933l21-6-18-6-21 6zM2652 933l20-6-17-6-21 6zM2728 932l21-5-18-6-20 6zM2669 938l21-5-18-6-20 6z"/>
<path class="a" fill="#0068ff" d="M3511 808l16-4-18-11-16 4zM3498 826l16-4-19-10-16 4zM3500 838l16-3-18-9-17 3zM3502 850l17-4-19-8-17 4z"/>
<path class="a" fill="#0070ff" d="M3477 802l16-5-18-11-16 5zM3463 820l16-4-18-10-17 4zM3465 833l16-4-18-9-17 4zM3448 837l17-4-19-9-16 4zM3467 845l16-3-18-9-17 4zM3469 856l17-3-19-8-17 3z"/>
<path class="a" fill="#0064ff" d="M3530 818l16-4-19-10-16 4zM3514 822l16-4-19-10-16 4zM3516 835l16-4-18-9-16 4zM3519 846l16-3-19-8-16 3zM3538 854l16-3-19-8-16 3z"/>
<path class="a" fill="#009cff" d="M3304 768l17-5-18-13-17 5zM3287 773l17-5-18-13-17 6zM3270 778l17-5-18-12-17 5zM3253 784l17-6-18-12-17 6zM3219 810l17-5-18-11-17 6zM3202 815l17-5-18-10-17 5zM3184 820l18-5-18-10-18 5zM3184 835l18-5-18-10-18 5zM3167 840l17-5-18-10-18 5zM3185 848l18-4-19-9-17 5zM3167 853l18-5-18-8-18 4zM3185 861l18-5-18-8-18 5zM3167 865l18-4-18-8-18 4zM3186 872l18-4-19-7-18 4zM3204 878l18-3-18-7-18 4z"/>
<path class="a" fill="#0094ff" d="M3322 780l16-5-17-12-17 5zM3305 785l17-5-18-12-17 5zM3288 790l17-5-18-12-17 5zM3272 811l17-5-18-11-17 5zM3254 816l18-5-18-11-18 5zM3238 835l17-5-18-10-17 5zM3239 848l17-5-18-8-18 4zM3221 852l18-4-19-9-17 5zM3239 860l18-4-18-8-18 4zM3258 867l18-4-19-7-18 4z"/>
<path class="a" fill="#0060ff" d="M3548 828l17-4-19-10-16 4zM3532 831l16-3-18-10-16 4zM3551 840l16-3-19-9-16 3zM3535 843l16-3-19-9-16 4zM3554 851l16-3-19-8-16 3z"/>
<path class="a" fill="#005cff" d="M3567 837l16-4-18-9-17 4zM3570 848l16-3-19-8-16 3z"/>
<path class="a" fill="#0058ff" d="M3586 845l16-3-19-9-16 4z"/>
<path class="b" fill="#0054ff" d="M3605 853l16-3-19-8-16 3z"/>
<path class="a" fill="#00a8ff" d="M3200 783l18-6-18-12-17 6zM3183 788l17-5-17-12-18 5zM3166 794l17-6-18-12-17 6zM3148 799l18-5-18-12-18 6zM3130 805l18-6-18-11-18 6zM3112 826l18-5-18-11-17 6zM3094 831l18-5-17-10-19 5zM3076 837l18-6-18-10-18 6zM3076 851l18-5-18-9-18 5zM3058 856l18-5-18-9-18 5zM3076 864l18-5-18-8-18 5zM3094 871l18-4-18-8-18 5zM3057 869l19-5-18-8-19 5zM3076 876l18-5-18-7-19 5z"/>
<path class="a" fill="#00b0ff" d="M3165 776l18-5-18-13-17 6zM3148 782l17-6-17-12-18 6zM3130 788l18-6-18-12-18 6zM3112 794l18-6-18-12-17 6zM3095 799l17-5-17-12-18 6zM3077 805l18-6-18-11-18 6zM3059 811l18-6-18-11-18 6zM3040 832l18-5-18-10-18 5zM3022 838l18-6-18-10-18 6zM3003 844l19-6-18-10-19 6zM2984 849l19-5-18-10-18 6zM3002 858l19-6-18-8-19 5zM2984 863l18-5-18-9-18 6zM3002 871l19-5-19-8-18 5zM2983 876l19-5-18-8-19 5zM3001 883l19-5-18-7-19 5zM3019 890l19-5-18-7-19 5zM3038 895l19-4-19-6-19 5z"/>
<path class="b" fill="#0054fc" d="M3624 860l16-3-19-7-16 3z"/>
<path class="b" fill="#0058ff" d="M3589 856l16-3-19-8-16 3z"/>
<path class="b" fill="#0050f8" d="M3643 867l16-3-19-7-16 3z"/>
<path class="b" fill="#0058fc" d="M3608 863l16-3-19-7-16 3z"/>
<path class="b" fill="#005cff" d="M3573 858l16-2-19-8-16 3z"/>
<path class="b" fill="#0050f0" d="M3663 873l16-2-20-7-16 3z"/>
<path class="b" fill="#0054f4" d="M3627 869l16-2-19-7-16 3z"/>
<path class="b" fill="#005cf8" d="M3592 865l16-2-19-7-16 2z"/>
<path class="b" fill="#0060fc" d="M3557 861l16-3-19-7-16 3z"/>
<path class="b" fill="#0068ff" d="M3521 857l17-3-19-8-17 4z"/>
<path class="a" fill="#00bcff" d="M3041 782l18-6-17-13-18 7zM2930 836l19-6-18-11-19 7zM2911 842l19-6-18-10-18 6zM2892 848l19-6-17-10-19 6zM2873 854l19-6-17-10-19 7zM2854 860l19-6-17-9-20 6zM2872 869l19-6-18-9-19 6zM2835 866l19-6-18-9-19 6zM2852 875l20-6-18-9-19 6zM2833 880l19-5-17-9-20 6zM2851 888l19-6-18-7-19 5zM2813 886l20-6-18-8-19 6zM2869 895l19-5-18-8-19 6zM2831 894l20-6-18-8-20 6zM2887 901l19-5-18-6-19 5zM2849 900l20-5-18-7-20 6zM2905 907l19-5-18-6-19 5zM2867 906l20-5-18-6-20 5zM2885 912l20-5-18-6-20 5z"/>
<path class="b" fill="#004cec" d="M3682 878l16-1-19-6-16 2z"/>
<path class="b" fill="#0054f0" d="M3647 875l16-2-20-6-16 2z"/>
<path class="b" fill="#0058f4" d="M3611 871l16-2-19-6-16 2z"/>
<path class="b" fill="#0060f8" d="M3576 868l16-3-19-7-16 3z"/>
<path class="b" fill="#0064fc" d="M3540 864l17-3-19-7-17 3z"/>
<path class="b" fill="#006cff" d="M3505 860l16-3-19-7-16 3z"/>
<path class="b" fill="#004ce4" d="M3702 883l16-1-20-5-16 1z"/>
<path class="b" fill="#0050e8" d="M3666 880l16-2-19-5-16 2z"/>
<path class="b" fill="#0058ec" d="M3631 877l16-2-20-6-16 2z"/>
<path class="b" fill="#005cf0" d="M3595 874l16-3-19-6-16 3z"/>
<path class="b" fill="#0064f4" d="M3559 870l17-2-19-7-17 3z"/>
<path class="b" fill="#0068f8" d="M3524 867l16-3-19-7-16 3z"/>
<path class="b" fill="#0070fc" d="M3488 863l17-3-19-7-17 3z"/>
<path class="c" fill="#004ce0" d="M3722 888l16-2-20-4-16 1z"/>
<path class="c" fill="#0050e4" d="M3686 885l16-2-20-5-16 2z"/>
<path class="b" fill="#0054e8" d="M3650 882l16-2-19-5-16 2z"/>
<path class="b" fill="#005cec" d="M3614 879l17-2-20-6-16 3z"/>
<path class="b" fill="#0060f0" d="M3579 876l16-2-19-6-17 2z"/>
<path class="b" fill="#0068f4" d="M3543 873l16-3-19-6-16 3z"/>
<path class="b" fill="#006cf8" d="M3507 869l17-2-19-7-17 3z"/>
<path class="b" fill="#0074fc" d="M3471 866l17-3-19-7-17 3z"/>
<path class="b" fill="#0078ff" d="M3436 862l16-3-18-7-17 3z"/>
<path class="c" fill="#004cd8" d="M3742 891l15-1-19-4-16 2z"/>
<path class="c" fill="#0050dc" d="M3706 889l16-1-20-5-16 2z"/>
<path class="c" fill="#0054e0" d="M3670 886l16-1-20-5-16 2z"/>
<path class="b" fill="#005ce4" d="M3634 884l16-2-19-5-17 2z"/>
<path class="b" fill="#0060e8" d="M3598 881l16-2-19-5-16 2z"/>
<path class="b" fill="#0064ec" d="M3562 878l17-2-20-6-16 3z"/>
<path class="b" fill="#0068f0" d="M3526 875l17-2-19-6-17 2z"/>
<path class="b" fill="#0070f4" d="M3490 872l17-3-19-6-17 3z"/>
<path class="b" fill="#0074f8" d="M3455 869l16-3-19-7-16 3z"/>
<path class="b" fill="#007cff" d="M3419 866l17-4-19-7-17 4z"/>
<path class="c" fill="#004cd4" d="M3762 895l16-1-21-4-15 1z"/>
<path class="c" fill="#0050d8" d="M3726 893l16-2-20-3-16 1z"/>
<path class="c" fill="#0054dc" d="M3690 890l16-1-20-4-16 1z"/>
<path class="c" fill="#005ce0" d="M3654 888l16-2-20-4-16 2z"/>
<path class="c" fill="#0060e4" d="M3618 886l16-2-20-5-16 2z"/>
<path class="b" fill="#0064e8" d="M3582 883l16-2-19-5-17 2z"/>
<path class="b" fill="#0068ec" d="M3546 880l16-2-19-5-17 2z"/>
<path class="b" fill="#006cf0" d="M3510 878l16-3-19-6-17 3z"/>
<path class="b" fill="#0074f4" d="M3474 875l16-3-19-6-16 3z"/>
<path class="b" fill="#0078f8" d="M3438 872l17-3-19-7-17 4z"/>
<path class="b" fill="#0080fc" d="M3402 869l17-3-19-7-17 3zM3384 872l18-3-19-7-18 4z"/>
<path class="b" fill="#0084ff" d="M3365 866l18-4-19-7-17 4z"/>
<path class="c" fill="#0050cc" d="M3782 897l16 0-20-3-16 1z"/>
<path class="c" fill="#0054d0" d="M3746 895l16 0-20-4-16 2z"/>
<path class="c" fill="#0058d4" d="M3710 894l16-1-20-4-16 1z"/>
<path class="c" fill="#005cd8" d="M3674 892l16-2-20-4-16 2z"/>
<path class="c" fill="#0060dc" d="M3638 890l16-2-20-4-16 2z"/>
<path class="c" fill="#0064e0" d="M3601 887l17-1-20-5-16 2z"/>
<path class="b" fill="#0068e4" d="M3565 885l17-2-20-5-16 2z"/>
<path class="b" fill="#006ce8" d="M3529 883l17-3-20-5-16 3z"/>
<path class="b" fill="#0070ec" d="M3493 880l17-2-20-6-16 3z"/>
<path class="b" fill="#0078f0" d="M3457 878l17-3-19-6-17 3zM3440 880l17-2-19-6-17 3z"/>
<path class="b" fill="#007cf8" d="M3421 875l17-3-19-6-17 3z"/>
<path class="b" fill="#0088ff" d="M3348 869l17-3-18-7-18 3z"/>
<path class="c" fill="#0050c8" d="M3803 899l15 0-20-2-16 0z"/>
<path class="c" fill="#0058d0" d="M3730 896l16-1-20-2-16 1z"/>
<path class="c" fill="#005cd4" d="M3694 895l16-1-20-4-16 2z"/>
<path class="c" fill="#0060d8" d="M3657 893l17-1-20-4-16 2z"/>
<path class="c" fill="#0064dc" d="M3621 891l17-1-20-4-17 1z"/>
<path class="c" fill="#0068e0" d="M3585 889l16-2-19-4-17 2z"/>
<path class="c" fill="#006ce4" d="M3549 887l16-2-19-5-17 3z"/>
<path class="b" fill="#0070e8" d="M3512 885l17-2-19-5-17 2z"/>
<path class="b" fill="#0074ec" d="M3476 883l17-3-19-5-17 3z"/>
<path class="b" fill="#0080f4" d="M3403 878l18-3-19-6-18 3z"/>
<path class="b" fill="#0084f8" d="M3367 875l17-3-19-6-17 3z"/>
<path class="b" fill="#008cfc" d="M3331 872l17-3-19-7-17 4zM3313 876l18-4-19-6-18 4z"/>
<path class="c" fill="#0054c0" d="M3823 900l16 0-21-1-15 0z"/>
<path class="c" fill="#0058c8" d="M3750 898l16 0-20-3-16 1z"/>
<path class="c" fill="#005ccc" d="M3714 897l16-1-20-2-16 1z"/>
<path class="c" fill="#0064d4" d="M3641 894l16-1-19-3-17 1z"/>
<path class="c" fill="#0068d8" d="M3605 892l16-1-20-4-16 2z"/>
<path class="c" fill="#006cdc" d="M3568 891l17-2-20-4-16 2z"/>
<path class="c" fill="#0070e0" d="M3532 889l17-2-20-4-17 2z"/>
<path class="b" fill="#0074e4" d="M3495 887l17-2-19-5-17 3z"/>
<path class="b" fill="#0078e8" d="M3459 885l17-2-19-5-17 2z"/>
<path class="b" fill="#007cf0" d="M3423 883l17-3-19-5-18 3z"/>
<path class="b" fill="#0084f4" d="M3386 881l17-3-19-6-17 3z"/>
<path class="b" fill="#0088f8" d="M3350 878l17-3-19-6-17 3z"/>
<path class="b" fill="#0094ff" d="M3277 873l17-3-18-7-18 4z"/>
<path class="c" fill="#0060cc" d="M3698 898l16-1-20-2-16 1z"/>
<path class="c" fill="#0064d0" d="M3661 897l17-1-21-3-16 1z"/>
<path class="c" fill="#0068d4" d="M3625 895l16-1-20-3-16 1z"/>
<path class="c" fill="#006cd8" d="M3588 894l17-2-20-3-17 2z"/>
<path class="c" fill="#0070dc" d="M3552 892l16-1-19-4-17 2z"/>
<path class="c" fill="#0074e0" d="M3515 891l17-2-20-4-17 2z"/>
<path class="b" fill="#0078e4" d="M3478 889l17-2-19-4-17 2z"/>
<path class="b" fill="#007ce8" d="M3442 887l17-2-19-5-17 3z"/>
<path class="b" fill="#0080ec" d="M3405 886l18-3-20-5-17 3z"/>
<path class="b" fill="#0084f0" d="M3369 884l17-3-19-6-17 3z"/>
<path class="b" fill="#008cf4" d="M3332 881l18-3-19-6-18 4zM3315 885l17-4-19-5-17 3z"/>
<path class="b" fill="#0090f8" d="M3296 879l17-3-19-6-17 3z"/>
<path class="b" fill="#0094fc" d="M3259 877l18-4-19-6-18 4z"/>
<path class="c" fill="#0064c4" d="M3718 899l16 0-20-2-16 1z"/>
<path class="c" fill="#0068cc" d="M3645 897l16 0-20-3-16 1z"/>
<path class="c" fill="#006cd0" d="M3608 896l17-1-20-3-17 2z"/>
<path class="c" fill="#0070d4" d="M3571 895l17-1-20-3-16 1z"/>
<path class="c" fill="#0074d8" d="M3535 894l17-2-20-3-17 2z"/>
<path class="c" fill="#0078dc" d="M3498 893l17-2-20-4-17 2z"/>
<path class="c" fill="#007ce0" d="M3461 891l17-2-19-4-17 2z"/>
<path class="b" fill="#0080e4" d="M3425 890l17-3-19-4-18 3z"/>
<path class="b" fill="#0084ec" d="M3388 888l17-2-19-5-17 3z"/>
<path class="b" fill="#0088f0" d="M3351 886l18-2-19-6-18 3z"/>
<path class="b" fill="#0094f8" d="M3278 883l18-4-19-6-18 4z"/>
<path class="b" fill="#0098fc" d="M3241 881l18-4-19-6-18 4z"/>
<path class="c" fill="#006cc8" d="M3665 899l16-1-20-1-16 0z"/>
<path class="c" fill="#0074d4" d="M3555 897l16-2-19-3-17 2z"/>
<path class="b" fill="#00b0fc" d="M3019 900l19-5-19-5-19 4z"/>
<path class="b" fill="#00b0f4" d="M3037 905l19-4-18-6-19 5zM3018 909l19-4-18-5-19 4z"/>
<path class="b" fill="#00b4fc" d="M3000 904l19-4-19-6-19 5z"/>
<path class="b" fill="#00b4f8" d="M2980 908l20-4-19-5-19 4z"/>
<path class="b" fill="#00b8fc" d="M2943 908l19-5-18-5-20 4z"/>
<path class="b" fill="#00b4f0" d="M2999 913l19-4-18-5-20 4zM2979 917l20-4-19-5-19 5z"/>
<path class="b" fill="#00b8f8" d="M2961 913l19-5-18-5-19 5z"/>
<path class="b" fill="#00bcfc" d="M2923 912l20-4-19-6-19 5z"/>
<path class="b" fill="#00b8f4" d="M2941 917l20-4-18-5-20 4z"/>
<path class="b" fill="#00bcf8" d="M2903 917l20-5-18-5-20 5zM2884 921l19-4-18-5-20 5z"/>
<path class="b" fill="#00c0fc" d="M2865 917l20-5-18-6-20 5zM2846 922l19-5-18-6-20 6z"/>
<path class="b" fill="#00b8f0" d="M2922 921l19-4-18-5-20 5z"/>
<path class="b" fill="#00b4ec" d="M2960 921l19-4-18-4-20 4z"/>
<path class="b" fill="#00b4e8" d="M2998 920l20-4-19-3-20 4zM2979 924l19-4-19-3-19 4z"/>
<path class="a" fill="#00c4fc" d="M2787 927l20-5-18-6-20 6z"/>
<path class="b" fill="#00c0f8" d="M2825 926l21-4-19-5-20 5zM2805 931l20-5-18-4-20 5z"/>
<path class="b" fill="#00bcf4" d="M2864 926l20-5-19-4-19 5z"/>
<path class="b" fill="#00bcf0" d="M2902 925l20-4-19-4-19 4z"/>
<path class="b" fill="#00b8ec" d="M2940 925l20-4-19-4-19 4z"/>
<path class="b" fill="#00c4fc" d="M2767 932l20-5-18-5-20 5z"/>
<path class="b" fill="#00c0f4" d="M2844 930l20-4-18-4-21 4z"/>
<path class="b" fill="#00bcec" d="M2882 930l20-5-18-4-20 5zM2862 934l20-4-18-4-20 4z"/>
<path class="b" fill="#00b8e8" d="M2920 929l20-4-18-4-20 4z"/>
<path class="b" fill="#00b8e4" d="M2959 928l20-4-19-3-20 4zM2939 932l20-4-19-3-20 4z"/>
<path class="a" fill="#00c8fc" d="M2708 938l20-6-17-5-21 6z"/>
<path class="b" fill="#00c4f8" d="M2746 937l21-5-18-5-21 5zM2726 942l20-5-18-5-20 6z"/>
<path class="b" fill="#00c4f4" d="M2785 936l20-5-18-4-20 5zM2765 941l20-5-18-4-21 5z"/>
<path class="b" fill="#00c0f0" d="M2823 935l21-5-19-4-20 5z"/>
<path class="b" fill="#00bce8" d="M2901 933l19-4-18-4-20 5z"/>
<path class="c" fill="#00b4e0" d="M2978 930l19-3-18-3-20 4z"/>
<path class="b" fill="#00c8fc" d="M2687 943l21-5-18-5-21 5z"/>
<path class="b" fill="#00c0ec" d="M2803 940l20-5-18-4-20 5zM2783 944l20-4-18-4-20 5z"/>
<path class="b" fill="#00c0e8" d="M2842 938l20-4-18-4-21 5zM2821 943l21-5-19-3-20 5z"/>
<path class="b" fill="#00bce4" d="M2880 937l21-4-19-3-20 4zM2860 941l20-4-18-3-20 4z"/>
<path class="b" fill="#00b8e0" d="M2919 935l20-3-19-3-19 4z"/>
<path class="c" fill="#00b8dc" d="M2958 934l20-4-19-2-20 4zM2938 937l20-3-19-2-20 3z"/>
<path class="b" fill="#00c8f4" d="M2705 947l21-5-18-4-21 5z"/>
<path class="b" fill="#00c4f0" d="M2744 946l21-5-19-4-20 5z"/>
<path class="c" fill="#00bce0" d="M2899 939l20-4-18-2-21 4z"/>
<path class="b" fill="#00c4ec" d="M2723 950l21-4-18-4-21 5z"/>
<path class="b" fill="#00c4e8" d="M2762 949l21-5-18-3-21 5zM2741 953l21-4-18-3-21 4z"/>
<path class="b" fill="#00c0e4" d="M2801 947l20-4-18-3-20 4zM2780 951l21-4-18-3-21 5z"/>
<path class="b" fill="#00c0e0" d="M2840 945l20-4-18-3-21 5z"/>
<path class="c" fill="#00bcdc" d="M2879 943l20-4-19-2-20 4z"/>
<path class="c" fill="#00c0e0" d="M2819 949l21-4-19-2-20 4z"/>
<path class="c" fill="#00c0dc" d="M2858 946l21-3-19-2-20 4zM2799 953l20-4-18-2-21 4z"/>
<path class="c" fill="#00bcd8" d="M2898 944l20-3-19-2-20 4z"/>
<path class="c" fill="#00bcd4" d="M2937 941l20-3-19-1-20 4z"/>
<path class="b" fill="#00c4e0" d="M2760 955l20-4-18-2-21 4z"/>
<path class="c" fill="#00c0d8" d="M2838 950l20-4-18-1-21 4zM2817 954l21-4-19-1-20 4z"/>
<path class="c" fill="#00c0d4" d="M2877 947l21-3-19-1-21 3z"/>
<path class="c" fill="#00c4dc" d="M2778 957l21-4-19-2-20 4z"/>
<path class="c" fill="#00c0d0" d="M2857 951l20-4-19-1-20 4zM2836 954l21-3-19-1-21 4z"/>
<path class="c" fill="#00c4d4" d="M2796 958l21-4-18-1-21 4z"/>
<path class="c" fill="#00c4cc" d="M2815 958l21-4-19 0-21 4z"/>
<path class="c" fill="#00c0c8" d="M2855 954l20-3-18 0-21 3z"/>
<path class="c" fill="#00c4c8" d="M2834 957l21-3-19 0-21 4z"/>
<path class="c" fill="#0054cc" d="M3766 898l16-1-20-2-16 0z"/>
<path class="c" fill="#0054c4" d="M3787 899l16 0-21-2-16 1z"/>
<path class="c" fill="#0060d0" d="M3678 896l16-1-20-3-17 1z"/>
<path class="c" fill="#0058c0" d="M3807 900l16 0-20-1-16 0z"/>
<path class="c" fill="#005cc4" d="M3771 900l16-1-21-1-16 0z"/>
<path class="c" fill="#005cc8" d="M3734 899l16-1-20-2-16 1z"/>
<path class="c" fill="#005cbc" d="M3792 900l15 0-20-1-16 1z"/>
<path class="c" fill="#0060c0" d="M3755 900l16 0-21-2-16 1z"/>
<path class="c" fill="#0064c8" d="M3681 898l17 0-20-2-17 1z"/>
<path class="c" fill="#0064bc" d="M3776 900l16 0-21 0-16 0z"/>
<path class="c" fill="#0064c0" d="M3739 900l16 0-21-1-16 0z"/>
<path class="c" fill="#0068c4" d="M3702 900l16-1-20-1-17 0z"/>
<path class="c" fill="#006ccc" d="M3628 898l17-1-20-2-17 1z"/>
<path class="c" fill="#0070d0" d="M3591 898l17-2-20-2-17 1z"/>
<path class="c" fill="#0078d8" d="M3518 896l17-2-20-3-17 2z"/>
<path class="c" fill="#007cdc" d="M3481 895l17-2-20-4-17 2z"/>
<path class="c" fill="#0080e0" d="M3444 893l17-2-19-4-17 3z"/>
<path class="b" fill="#0084e4" d="M3407 892l18-2-20-4-17 2z"/>
<path class="b" fill="#0088e8" d="M3371 891l17-3-19-4-18 2z"/>
<path class="b" fill="#008cec" d="M3334 889l17-3-19-5-17 4z"/>
<path class="b" fill="#0090f0" d="M3297 888l18-3-19-6-18 4z"/>
<path class="b" fill="#0094f4" d="M3260 886l18-3-19-6-18 4z"/>
<path class="b" fill="#009cf8" d="M3223 884l18-3-19-6-18 3z"/>
<path class="b" fill="#00a0fc" d="M3186 882l18-4-18-6-18 4z"/>
<path class="a" fill="#00a4ff" d="M3149 880l19-4-19-7-18 5zM3112 878l19-4-19-7-18 4z"/>
<path class="c" fill="#0068b8" d="M3759 900l17 0-21 0-16 0z"/>
<path class="c" fill="#0068bc" d="M3723 900l16 0-21-1-16 1z"/>
<path class="c" fill="#006cc0" d="M3686 900l16 0-21-2-16 1z"/>
<path class="c" fill="#0070c4" d="M3649 900l16-1-20-2-17 1z"/>
<path class="c" fill="#0070c8" d="M3612 899l16-1-20-2-17 2z"/>
<path class="c" fill="#0074cc" d="M3575 899l16-1-20-3-16 2z"/>
<path class="c" fill="#0078d0" d="M3538 898l17-1-20-3-17 2z"/>
<path class="c" fill="#007cd4" d="M3501 897l17-1-20-3-17 2z"/>
<path class="c" fill="#0080d8" d="M3464 897l17-2-20-4-17 2z"/>
<path class="c" fill="#0084dc" d="M3427 896l17-3-19-3-18 2z"/>
<path class="c" fill="#0088e4" d="M3390 895l17-3-19-4-17 3z"/>
<path class="b" fill="#008ce8" d="M3353 893l18-2-20-5-17 3z"/>
<path class="b" fill="#0090ec" d="M3316 892l18-3-19-4-18 3z"/>
<path class="b" fill="#0094f0" d="M3279 891l18-3-19-5-18 3z"/>
<path class="b" fill="#0098f4" d="M3242 889l18-3-19-5-18 3z"/>
<path class="b" fill="#009cf8" d="M3205 888l18-4-19-6-18 4z"/>
<path class="b" fill="#00a0fc" d="M3168 886l18-4-18-6-19 4z"/>
<path class="a" fill="#00a4ff" d="M3131 884l18-4-18-6-19 4z"/>
<path class="a" fill="#00a8ff" d="M3094 882l18-4-18-7-18 5z"/>
<path class="c" fill="#006cb8" d="M3743 900l16 0-20 0-16 0z"/>
<path class="c" fill="#0070bc" d="M3706 900l17 0-21 0-16 0z"/>
<path class="c" fill="#0070c0" d="M3669 900l17 0-21-1-16 1z"/>
<path class="c" fill="#0074c4" d="M3632 900l17 0-21-2-16 1z"/>
<path class="c" fill="#0074c8" d="M3595 900l17-1-21-1-16 1z"/>
<path class="c" fill="#0078cc" d="M3558 900l17-1-20-2-17 1z"/>
<path class="c" fill="#007cd0" d="M3521 899l17-1-20-2-17 1z"/>
<path class="c" fill="#0080d4" d="M3484 899l17-2-20-2-17 2z"/>
<path class="c" fill="#0084d8" d="M3446 898l18-1-20-4-17 3z"/>
<path class="c" fill="#0084dc" d="M3409 898l18-2-20-4-17 3z"/>
<path class="c" fill="#0088e0" d="M3372 897l18-2-19-4-18 2z"/>
<path class="b" fill="#008ce4" d="M3335 896l18-3-19-4-18 3z"/>
<path class="b" fill="#0090e8" d="M3298 895l18-3-19-4-18 3z"/>
<path class="b" fill="#0094ec" d="M3261 894l18-3-19-5-18 3z"/>
<path class="b" fill="#009cf0" d="M3224 893l18-4-19-5-18 4z"/>
<path class="b" fill="#00a0f4" d="M3187 891l18-3-19-6-18 4z"/>
<path class="b" fill="#00a4f8" d="M3150 890l18-4-19-6-18 4z"/>
<path class="b" fill="#00a8ff" d="M3113 888l18-4-19-6-18 4z"/>
<path class="c" fill="#0074bc" d="M3652 901l17-1-20 0-17 0z"/>
<path class="c" fill="#0074b8" d="M3690 900l16 0-20 0-17 0z"/>
<path class="c" fill="#0078c0" d="M3615 901l17-1-20-1-17 1z"/>
<path class="c" fill="#005878" d="M3727 900l16 0-20 0-17 0z"/>
<path class="c" fill="#007cc4" d="M3578 901l17-1-20-1-17 1z"/>
<path class="c" fill="#007cc8" d="M3541 901l17-1-20-2-17 1z"/>
<path class="c" fill="#0080cc" d="M3503 901l18-2-20-2-17 2z"/>
<path class="c" fill="#0084d0" d="M3466 901l18-2-20-2-18 1z"/>
<path class="c" fill="#0088d4" d="M3429 900l17-2-19-2-18 2z"/>
<path class="c" fill="#0088d8" d="M3392 900l17-2-19-3-18 2z"/>
<path class="c" fill="#008ce0" d="M3355 899l17-2-19-4-18 3z"/>
<path class="c" fill="#0090e4" d="M3317 899l18-3-19-4-18 3z"/>
<path class="b" fill="#0094e8" d="M3280 898l18-3-19-4-18 3z"/>
<path class="b" fill="#0098ec" d="M3243 897l18-3-19-5-18 4z"/>
<path class="b" fill="#009cf0" d="M3206 896l18-3-19-5-18 3z"/>
<path class="b" fill="#00a0f4" d="M3168 895l19-4-19-5-18 4z"/>
<path class="b" fill="#00a4f8" d="M3131 894l19-4-19-6-18 4z"/>
<path class="b" fill="#00acfc" d="M3094 892l19-4-19-6-19 5z"/>
<path class="c" fill="#0080c4" d="M3561 902l17-1-20-1-17 1z"/>
<path class="c" fill="#0080c8" d="M3524 902l17-1-20-2-18 2z"/>
<path class="c" fill="#007cc0" d="M3598 901l17 0-20-1-17 1z"/>
<path class="c" fill="#0084cc" d="M3486 902l17-1-19-2-18 2z"/>
<path class="c" fill="#0078bc" d="M3636 901l16 0-20-1-17 1z"/>
<path class="c" fill="#0088d0" d="M3449 902l17-1-20-3-17 2z"/>
<path class="c" fill="#0078b8" d="M3673 900l17 0-21 0-17 1z"/>
<path class="c" fill="#0088d4" d="M3411 902l18-2-20-2-17 2z"/>
<path class="c" fill="#005c78" d="M3711 900l16 0-21 0-16 0z"/>
<path class="c" fill="#008cd8" d="M3374 902l18-2-20-3-17 2z"/>
<path class="c" fill="#0090dc" d="M3337 902l18-3-20-3-18 3z"/>
<path class="c" fill="#0094e0" d="M3299 901l18-2-19-4-18 3z"/>
<path class="b" fill="#0098e4" d="M3262 901l18-3-19-4-18 3z"/>
<path class="b" fill="#009ce8" d="M3225 900l18-3-19-4-18 3z"/>
<path class="b" fill="#00a0ec" d="M3187 899l19-3-19-5-19 4z"/>
<path class="b" fill="#00a4f0" d="M3150 898l18-3-18-5-19 4z"/>
<path class="b" fill="#00a8f4" d="M3113 898l18-4-18-6-19 4z"/>
<path class="b" fill="#00acfc" d="M3075 896l19-4-19-5-18 4z"/>
<path class="c" fill="#008ccc" d="M3431 904l18-2-20-2-18 2z"/>
<path class="c" fill="#0088c8" d="M3469 903l17-1-20-1-17 1z"/>
<path class="c" fill="#008cd0" d="M3394 904l17-2-19-2-18 2z"/>
<path class="c" fill="#0084c4" d="M3506 903l18-1-21-1-17 1z"/>
<path class="c" fill="#0090d8" d="M3356 904l18-2-19-3-18 3z"/>
<path class="c" fill="#0084c0" d="M3544 902l17 0-20-1-17 1z"/>
<path class="c" fill="#0094dc" d="M3319 904l18-2-20-3-18 2z"/>
<path class="c" fill="#0080bc" d="M3581 902l17-1-20 0-17 1z"/>
<path class="c" fill="#0098e0" d="M3281 904l18-3-19-3-18 3z"/>
<path class="c" fill="#007cb8" d="M3619 901l17 0-21 0-17 0z"/>
<path class="b" fill="#0098e4" d="M3244 903l18-2-19-4-18 3z"/>
<path class="c" fill="#006078" d="M3656 900l17 0-21 1-16 0z"/>
<path class="b" fill="#009ce8" d="M3206 903l19-3-19-4-19 3z"/>
<path class="c" fill="#006078" d="M3694 899l17 1-21 0-17 0z"/>
<path class="b" fill="#00a0ec" d="M3169 903l18-4-19-4-18 3z"/>
<path class="b" fill="#00a4f0" d="M3131 902l19-4-19-4-18 4z"/>
<path class="b" fill="#00a8f4" d="M3094 901l19-3-19-6-19 4z"/>
<path class="b" fill="#00acf8" d="M3056 901l19-5-18-5-19 4z"/>
<path class="c" fill="#0094d4" d="M3338 906l18-2-19-2-18 2z"/>
<path class="c" fill="#0098d8" d="M3301 906l18-2-20-3-18 3z"/>
<path class="c" fill="#0090d0" d="M3376 906l18-2-20-2-18 2z"/>
<path class="c" fill="#0098dc" d="M3263 906l18-2-19-3-18 2z"/>
<path class="c" fill="#008ccc" d="M3414 905l17-1-20-2-17 2z"/>
<path class="c" fill="#009ce0" d="M3225 906l19-3-19-3-19 3z"/>
<path class="c" fill="#008cc8" d="M3451 905l18-2-20-1-18 2z"/>
<path class="b" fill="#00a0e4" d="M3188 906l18-3-19-4-18 4z"/>
<path class="c" fill="#0088c4" d="M3489 904l17-1-20-1-17 1z"/>
<path class="b" fill="#00a4e8" d="M3150 906l19-3-19-5-19 4z"/>
<path class="c" fill="#0088c0" d="M3527 903l17-1-20 0-18 1z"/>
<path class="b" fill="#00a8ec" d="M3113 906l18-4-18-4-19 3z"/>
<path class="c" fill="#0084bc" d="M3564 902l17 0-20 0-17 0z"/>
<path class="b" fill="#00acf0" d="M3075 905l19-4-19-5-19 5z"/>
<path class="c" fill="#0080b8" d="M3602 901l17 0-21 0-17 1z"/>
<path class="c" fill="#006478" d="M3640 900l16 0-20 1-17 0z"/>
<path class="c" fill="#00687c" d="M3677 899l17 0-21 1-17 0z"/>
<path class="c" fill="#009cdc" d="M3245 909l18-3-19-3-19 3z"/>
<path class="c" fill="#00a0e0" d="M3207 909l18-3-19-3-18 3z"/>
<path class="c" fill="#0098d8" d="M3282 908l19-2-20-2-18 2z"/>
<path class="b" fill="#00a4e4" d="M3169 909l19-3-19-3-19 3z"/>
<path class="c" fill="#0098d4" d="M3320 908l18-2-19-2-18 2z"/>
<path class="b" fill="#00a8e8" d="M3131 909l19-3-19-4-18 4z"/>
<path class="c" fill="#0094cc" d="M3358 907l18-1-20-2-18 2z"/>
<path class="b" fill="#00a8ec" d="M3094 909l19-3-19-5-19 4z"/>
<path class="c" fill="#0090c8" d="M3396 907l18-2-20-1-18 2z"/>
<path class="b" fill="#00acf0" d="M3056 909l19-4-19-4-19 4z"/>
<path class="c" fill="#0090c4" d="M3434 906l17-1-20-1-17 1z"/>
<path class="c" fill="#008cc0" d="M3471 905l18-1-20-1-18 2z"/>
<path class="c" fill="#008cbc" d="M3509 904l18-1-21 0-17 1z"/>
<path class="c" fill="#0088bc" d="M3547 903l17-1-20 0-17 1z"/>
<path class="c" fill="#006878" d="M3585 902l17-1-21 1-17 0zM3623 900l17 0-21 1-17 0z"/>
<path class="c" fill="#006c7c" d="M3660 899l17 0-21 1-16 0z"/>
<path class="b" fill="#00a8e4" d="M3113 912l18-3-18-3-19 3z"/>
<path class="c" fill="#00a4e0" d="M3150 912l19-3-19-3-19 3z"/>
<path class="b" fill="#00ace8" d="M3075 913l19-4-19-4-19 4z"/>
<path class="c" fill="#00a4dc" d="M3188 912l19-3-19-3-19 3z"/>
<path class="b" fill="#00b0ec" d="M3037 913l19-4-19-4-19 4z"/>
<path class="c" fill="#00a0d8" d="M3226 911l19-2-20-3-18 3z"/>
<path class="c" fill="#009cd4" d="M3264 911l18-3-19-2-18 3z"/>
<path class="c" fill="#0098d0" d="M3302 910l18-2-19-2-19 2z"/>
<path class="c" fill="#0098cc" d="M3340 909l18-2-20-1-18 2z"/>
<path class="c" fill="#0094c8" d="M3378 908l18-1-20-1-18 1z"/>
<path class="c" fill="#0094c4" d="M3416 907l18-1-20-1-18 2z"/>
<path class="c" fill="#0090c0" d="M3454 906l17-1-20 0-17 1z"/>
<path class="c" fill="#008cbc" d="M3492 905l17-1-20 0-18 1z"/>
<path class="c" fill="#008cb8" d="M3530 903l17 0-20 0-18 1z"/>
<path class="c" fill="#006c78" d="M3568 902l17 0-21 0-17 1z"/>
<path class="c" fill="#00707c" d="M3606 900l17 0-21 1-17 1zM3644 898l16 1-20 1-17 0z"/>
<path class="b" fill="#00b0ec" d="M3018 916l19-3-19-4-19 4z"/>
<path class="b" fill="#00ace8" d="M3056 916l19-3-19-4-19 4z"/>
<path class="b" fill="#00ace4" d="M3094 916l19-4-19-3-19 4z"/>
<path class="c" fill="#00a8e0" d="M3132 915l18-3-19-3-18 3z"/>
<path class="c" fill="#00a4dc" d="M3170 914l18-2-19-3-19 3z"/>
<path class="c" fill="#00a0d8" d="M3208 914l18-3-19-2-19 3z"/>
<path class="c" fill="#00a0d4" d="M3246 913l18-2-19-2-19 2z"/>
<path class="c" fill="#009cd0" d="M3284 912l18-2-20-2-18 3z"/>
<path class="c" fill="#009cc8" d="M3322 911l18-2-20-1-18 2z"/>
<path class="c" fill="#0098c4" d="M3360 910l18-2-20-1-18 2z"/>
<path class="c" fill="#0094c0" d="M3398 908l18-1-20 0-18 1zM3436 907l18-1-20 0-18 1z"/>
<path class="c" fill="#0090bc" d="M3474 905l18 0-21 0-17 1z"/>
<path class="c" fill="#006c78" d="M3512 904l18-1-21 1-17 1z"/>
<path class="c" fill="#007078" d="M3550 902l18 0-21 1-17 0z"/>
<path class="c" fill="#00747c" d="M3588 900l18 0-21 2-17 0z"/>
<path class="c" fill="#007880" d="M3627 898l17 0-21 2-17 0z"/>
<path class="b" fill="#00b0e4" d="M3036 920l20-4-19-3-19 3z"/>
<path class="c" fill="#00ace0" d="M3074 919l20-3-19-3-19 3z"/>
<path class="c" fill="#00a8dc" d="M3113 918l19-3-19-3-19 4z"/>
<path class="c" fill="#00a8d8" d="M3151 917l19-3-20-2-18 3z"/>
<path class="c" fill="#00a4d4" d="M3189 916l19-2-20-2-18 2z"/>
<path class="c" fill="#00a4d0" d="M3227 915l19-2-20-2-18 3z"/>
<path class="c" fill="#00a0cc" d="M3265 914l19-2-20-1-18 2z"/>
<path class="c" fill="#009cc8" d="M3303 912l19-1-20-1-18 2z"/>
<path class="c" fill="#009cc4" d="M3342 911l18-1-20-1-18 2z"/>
<path class="c" fill="#0098c0" d="M3380 909l18-1-20 0-18 2z"/>
<path class="c" fill="#0098bc" d="M3418 908l18-1-20 0-18 1z"/>
<path class="c" fill="#0094b8" d="M3456 906l18-1-20 1-18 1z"/>
<path class="c" fill="#007478" d="M3495 904l17 0-20 1-18 0z"/>
<path class="c" fill="#00787c" d="M3533 902l17 0-20 1-18 1z"/>
<path class="c" fill="#007c7c" d="M3571 900l17 0-20 2-18 0z"/>
<path class="c" fill="#007c80" d="M3609 898l18 0-21 2-18 0z"/>
<path class="b" fill="#00b0e4" d="M3017 923l19-3-18-4-20 4z"/>
<path class="c" fill="#00b0e0" d="M3055 922l19-3-18-3-20 4z"/>
<path class="c" fill="#00acdc" d="M3093 921l20-3-19-2-20 3z"/>
<path class="c" fill="#00a8d8" d="M3132 920l19-3-19-2-19 3z"/>
<path class="c" fill="#00a8d4" d="M3170 919l19-3-19-2-19 3z"/>
<path class="c" fill="#00a4d0" d="M3208 917l19-2-19-1-19 2z"/>
<path class="c" fill="#00a4cc" d="M3247 916l18-2-19-1-19 2z"/>
<path class="c" fill="#00a0c4" d="M3285 914l18-2-19 0-19 2z"/>
<path class="c" fill="#00a0c0" d="M3323 912l19-1-20 0-19 1z"/>
<path class="c" fill="#009cc0" d="M3362 910l18-1-20 1-18 1z"/>
<path class="c" fill="#009cbc" d="M3400 909l18-1-20 0-18 1z"/>
<path class="c" fill="#007478" d="M3438 906l18 0-20 1-18 1z"/>
<path class="c" fill="#007878" d="M3477 904l18 0-21 1-18 1z"/>
<path class="c" fill="#007c7c" d="M3515 902l18 0-21 2-17 0z"/>
<path class="c" fill="#008080" d="M3554 900l17 0-21 2-17 0z"/>
<path class="c" fill="#008480" d="M3592 897l17 1-21 2-17 0z"/>
<path class="c" fill="#00b4e0" d="M2997 927l20-4-19-3-19 4z"/>
<path class="c" fill="#00b0dc" d="M3036 925l19-3-19-2-19 3z"/>
<path class="c" fill="#00b0d8" d="M3074 924l19-3-19-2-19 3z"/>
<path class="c" fill="#00acd4" d="M3113 923l19-3-19-2-20 3z"/>
<path class="c" fill="#00a8d0" d="M3151 921l19-2-19-2-19 3z"/>
<path class="c" fill="#00a8cc" d="M3189 919l19-2-19-1-19 3z"/>
<path class="c" fill="#00a4c8" d="M3228 918l19-2-20-1-19 2z"/>
<path class="c" fill="#00a4c4" d="M3266 916l19-2-20 0-18 2z"/>
<path class="c" fill="#00a0c0" d="M3305 914l18-2-20 0-18 2z"/>
<path class="c" fill="#00a0bc" d="M3343 912l19-2-20 1-19 1z"/>
<path class="c" fill="#00a0b8" d="M3382 909l18 0-20 0-18 1z"/>
<path class="c" fill="#007c78" d="M3420 907l18-1-20 2-18 1z"/>
<path class="c" fill="#007c7c" d="M3459 905l18-1-21 2-18 0z"/>
<path class="c" fill="#00807c" d="M3497 902l18 0-20 2-18 0z"/>
<path class="c" fill="#008480" d="M3536 899l18 1-21 2-18 0z"/>
<path class="c" fill="#008880" d="M3575 897l17 0-21 3-17 0z"/>
<path class="c" fill="#00b4dc" d="M3016 929l20-4-19-2-20 4z"/>
<path class="c" fill="#00b0d8" d="M3055 927l19-3-19-2-19 3z"/>
<path class="c" fill="#00b0d4" d="M3093 925l20-2-20-2-19 3z"/>
<path class="c" fill="#00acd0" d="M3132 923l19-2-19-1-19 3z"/>
<path class="c" fill="#00accc" d="M3170 922l19-3-19 0-19 2z"/>
<path class="c" fill="#00a8c4" d="M3209 919l19-1-20-1-19 2z"/>
<path class="c" fill="#00a8c0" d="M3248 917l18-1-19 0-19 2z"/>
<path class="c" fill="#00a4c0" d="M3286 915l19-1-20 0-19 2z"/>
<path class="c" fill="#00a4bc" d="M3325 913l18-1-20 0-18 2z"/>
<path class="c" fill="#007c78" d="M3364 910l18-1-20 1-19 2z"/>
<path class="c" fill="#008078" d="M3402 908l18-1-20 2-18 0z"/>
<path class="c" fill="#00847c" d="M3441 905l18 0-21 1-18 1z"/>
<path class="c" fill="#008880" d="M3480 902l17 0-20 2-18 1z"/>
<path class="c" fill="#008c80" d="M3518 899l18 0-21 3-18 0z"/>
<path class="c" fill="#009084" d="M3557 896l18 1-21 3-18-1z"/>
<path class="c" fill="#00b4d8" d="M2996 932l20-3-19-2-19 3z"/>
<path class="c" fill="#00b4d4" d="M3035 930l20-3-19-2-20 4z"/>
<path class="c" fill="#00b0d0" d="M3074 928l19-3-19-1-19 3z"/>
<path class="c" fill="#00b0cc" d="M3113 926l19-3-19 0-20 2z"/>
<path class="c" fill="#00acc8" d="M3151 924l19-2-19-1-19 2z"/>
<path class="c" fill="#00acc4" d="M3190 921l19-2-20 0-19 3z"/>
<path class="c" fill="#00a8c0" d="M3229 919l19-2-20 1-19 1z"/>
<path class="c" fill="#00a8bc" d="M3268 916l18-1-20 1-18 1z"/>
<path class="c" fill="#00a8b8" d="M3306 914l19-1-20 1-19 1z"/>
<path class="c" fill="#008078" d="M3345 911l19-1-21 2-18 1z"/>
<path class="c" fill="#00847c" d="M3384 908l18 0-20 1-18 1z"/>
<path class="c" fill="#00887c" d="M3423 905l18 0-21 2-18 1z"/>
<path class="c" fill="#008c80" d="M3462 902l18 0-21 3-18 0z"/>
<path class="c" fill="#009080" d="M3500 899l18 0-21 3-17 0z"/>
<path class="c" fill="#009884" d="M3539 895l18 1-21 3-18 0z"/>
<path class="c" fill="#00b8d8" d="M2977 935l19-3-18-2-20 4z"/>
<path class="c" fill="#00b4d4" d="M3015 933l20-3-19-1-20 3z"/>
<path class="c" fill="#00b4d0" d="M3054 931l20-3-19-1-20 3z"/>
<path class="c" fill="#00b0c8" d="M3093 928l20-2-20-1-19 3z"/>
<path class="c" fill="#00b0c4" d="M3132 926l19-2-19-1-19 3z"/>
<path class="c" fill="#00acc0" d="M3171 923l19-2-20 1-19 2z"/>
<path class="c" fill="#00acbc" d="M3210 920l19-1-20 0-19 2zM3249 918l19-2-20 1-19 2z"/>
<path class="c" fill="#008078" d="M3288 915l18-1-20 1-18 1z"/>
<path class="c" fill="#008478" d="M3327 912l18-1-20 2-19 1z"/>
<path class="c" fill="#008c7c" d="M3366 909l18-1-20 2-19 1z"/>
<path class="c" fill="#009080" d="M3404 905l19 0-21 3-18 0z"/>
<path class="c" fill="#009480" d="M3443 902l19 0-21 3-18 0z"/>
<path class="c" fill="#009884" d="M3483 898l17 1-20 3-18 0z"/>
<path class="c" fill="#009c84" d="M3522 895l17 0-21 4-18 0z"/>
<path class="c" fill="#00bcd8" d="M2918 941l20-4-19-2-20 4z"/>
<path class="c" fill="#00b8d4" d="M2957 938l20-3-19-1-20 3z"/>
<path class="c" fill="#00b8d0" d="M2996 936l19-3-19-1-19 3z"/>
<path class="c" fill="#00b4cc" d="M3035 933l19-2-19-1-20 3z"/>
<path class="c" fill="#00b4c8" d="M3074 931l19-3-19 0-20 3z"/>
<path class="c" fill="#00b4c4" d="M3113 928l19-2-19 0-20 2z"/>
<path class="c" fill="#00b0c0" d="M3152 925l19-2-20 1-19 2z"/>
<path class="c" fill="#00b0bc" d="M3191 922l19-2-20 1-19 2z"/>
<path class="c" fill="#00acb8" d="M3230 919l19-1-20 1-19 1z"/>
<path class="c" fill="#008878" d="M3269 916l19-1-20 1-19 2z"/>
<path class="c" fill="#008c7c" d="M3308 912l19 0-21 2-18 1z"/>
<path class="c" fill="#00907c" d="M3347 909l19 0-21 2-18 1z"/>
<path class="c" fill="#009480" d="M3386 905l18 0-20 3-18 1z"/>
<path class="c" fill="#009880" d="M3425 902l18 0-20 3-19 0z"/>
<path class="c" fill="#009c80" d="M3464 898l19 0-21 4-19 0zM3504 894l18 1-22 4-17-1z"/>
<path class="c" fill="#00b8cc" d="M2976 939l20-3-19-1-20 3z"/>
<path class="c" fill="#00b8c8" d="M3015 936l20-3-20 0-19 3z"/>
<path class="c" fill="#00b8c4" d="M3054 933l20-2-20 0-19 2z"/>
<path class="c" fill="#00b4c0" d="M3093 930l20-2-20 0-19 3z"/>
<path class="c" fill="#00b4bc" d="M3132 927l20-2-20 1-19 2z"/>
<path class="c" fill="#00b0b8" d="M3171 924l20-2-20 1-19 2z"/>
<path class="c" fill="#008878" d="M3211 920l19-1-20 1-19 2z"/>
<path class="c" fill="#008c78" d="M3250 917l19-1-20 2-19 1z"/>
<path class="c" fill="#00907c" d="M3289 913l19-1-20 3-19 1z"/>
<path class="c" fill="#00947c" d="M3328 909l19 0-20 3-19 0z"/>
<path class="c" fill="#00987c" d="M3368 906l18-1-20 4-19 0zM3407 902l18 0-21 3-18 0z"/>
<path class="c" fill="#009c7c" d="M3446 898l18 0-21 4-18 0z"/>
<path class="c" fill="#00a07c" d="M3485 893l19 1-21 4-19 0z"/>
<path class="c" fill="#00bcd0" d="M2916 945l21-4-19 0-20 3z"/>
<path class="c" fill="#00bccc" d="M2956 942l20-3-19-1-20 3z"/>
<path class="c" fill="#00b8c8" d="M2995 939l20-3-19 0-20 3z"/>
<path class="c" fill="#00b8c4" d="M3034 935l20-2-19 0-20 3z"/>
<path class="c" fill="#00b8c0" d="M3073 932l20-2-19 1-20 2z"/>
<path class="c" fill="#00b4bc" d="M3113 929l19-2-19 1-20 2z"/>
<path class="c" fill="#00b4b8" d="M3152 925l19-1-19 1-20 2z"/>
<path class="c" fill="#008c78" d="M3191 921l20-1-20 2-20 2z"/>
<path class="c" fill="#009078" d="M3231 918l19-1-20 2-19 1z"/>
<path class="c" fill="#00947c" d="M3270 914l19-1-20 3-19 1zM3309 910l19-1-20 3-19 1z"/>
<path class="c" fill="#00987c" d="M3349 906l19 0-21 3-19 0z"/>
<path class="c" fill="#009c7c" d="M3388 901l19 1-21 3-18 1zM3428 897l18 1-21 4-18 0z"/>
<path class="c" fill="#00a07c" d="M3467 893l18 0-21 5-18 0z"/>
<path class="c" fill="#00c0cc" d="M2896 948l20-3-18-1-21 3z"/>
<path class="c" fill="#00bcc8" d="M2935 944l21-2-19-1-21 4z"/>
<path class="c" fill="#00bcc4" d="M2975 941l20-2-19 0-20 3z"/>
<path class="c" fill="#00bcc0" d="M3014 938l20-3-19 1-20 3z"/>
<path class="c" fill="#00b8bc" d="M3053 934l20-2-19 1-20 2z"/>
<path class="c" fill="#00b8b8" d="M3093 930l20-1-20 1-20 2z"/>
<path class="c" fill="#008c78" d="M3132 927l20-2-20 2-19 2z"/>
<path class="c" fill="#009078" d="M3172 923l19-2-20 3-19 1zM3211 919l20-1-20 2-20 1z"/>
<path class="c" fill="#009478" d="M3251 914l19 0-20 3-19 1z"/>
<path class="c" fill="#009878" d="M3290 910l19 0-20 3-19 1zM3330 906l19 0-21 3-19 1z"/>
<path class="c" fill="#009c78" d="M3370 901l18 0-20 5-19 0z"/>
<path class="c" fill="#00a078" d="M3409 897l19 0-21 5-19-1zM3449 892l18 1-21 5-18-1z"/>
<path class="c" fill="#00c0cc" d="M2875 951l21-3-19-1-20 4z"/>
<path class="c" fill="#00c0c8" d="M2915 947l20-3-19 1-20 3z"/>
<path class="c" fill="#00bcc4" d="M2954 944l21-3-19 1-21 2z"/>
<path class="c" fill="#00bcc0" d="M2994 940l20-2-19 1-20 2z"/>
<path class="c" fill="#00bcbc" d="M3033 936l20-2-19 1-20 3z"/>
<path class="c" fill="#00b8b4" d="M3073 932l20-2-20 2-20 2z"/>
<path class="c" fill="#008c74" d="M3113 928l19-1-19 2-20 1z"/>
<path class="c" fill="#009074" d="M3152 924l20-1-20 2-20 2z"/>
<path class="c" fill="#009474" d="M3192 919l19 0-20 2-19 2zM3232 915l19-1-20 4-20 1z"/>
<path class="c" fill="#009874" d="M3271 910l19 0-20 4-19 0z"/>
<path class="c" fill="#009c74" d="M3311 906l19 0-21 4-19 0zM3351 901l19 0-21 5-19 0z"/>
<path class="c" fill="#00a074" d="M3391 896l18 1-21 4-18 0z"/>
<path class="c" fill="#00a474" d="M3430 891l19 1-21 5-19 0z"/>
<path class="c" fill="#00c0c4" d="M2894 950l21-3-19 1-21 3z"/>
<path class="c" fill="#00c0c0" d="M2934 946l20-2-19 0-20 3z"/>
<path class="c" fill="#00bcbc" d="M2974 942l20-2-19 1-21 3z"/>
<path class="c" fill="#00b8b4" d="M3013 938l20-2-19 2-20 2z"/>
<path class="c" fill="#008c74" d="M3053 934l20-2-20 2-20 2z"/>
<path class="c" fill="#009074" d="M3093 929l20-1-20 2-20 2zM3133 925l19-1-20 3-19 1z"/>
<path class="c" fill="#009474" d="M3172 920l20-1-20 4-20 1z"/>
<path class="c" fill="#009874" d="M3212 916l20-1-21 4-19 0zM3252 911l19-1-20 4-19 1z"/>
<path class="c" fill="#009c70" d="M3292 906l19 0-21 4-19 0z"/>
<path class="c" fill="#00a070" d="M3332 901l19 0-21 5-19 0zM3372 895l19 1-21 5-19 0z"/>
<path class="c" fill="#00c4c4" d="M2874 953l20-3-19 1-20 3z"/>
<path class="c" fill="#00a470" d="M3412 890l18 1-21 6-18-1z"/>
<path class="c" fill="#00c0bc" d="M2913 949l21-3-19 1-21 3z"/>
<path class="c" fill="#00bcb8" d="M2953 944l21-2-20 2-20 2z"/>
<path class="c" fill="#00b8b0" d="M2993 940l20-2-19 2-20 2z"/>
<path class="c" fill="#008c70" d="M3033 935l20-1-20 2-20 2z"/>
<path class="c" fill="#009070" d="M3073 931l20-2-20 3-20 2z"/>
<path class="c" fill="#009470" d="M3113 926l20-1-20 3-20 1zM3153 921l19-1-20 4-19 1z"/>
<path class="c" fill="#009870" d="M3193 916l19 0-20 3-20 1z"/>
<path class="c" fill="#009c70" d="M3233 911l19 0-20 4-20 1zM3273 906l19 0-21 4-19 1z"/>
<path class="c" fill="#00a06c" d="M3313 900l19 1-21 5-19 0z"/>
<path class="c" fill="#00a46c" d="M3353 895l19 0-21 6-19 0z"/>
<path class="c" fill="#00c0c0" d="M2853 956l21-3-19 1-21 3z"/>
<path class="c" fill="#00bcb8" d="M2893 951l20-2-19 1-20 3z"/>
<path class="b" fill="#00a46c" d="M3393 889l19 1-21 6-19-1z"/>
<path class="c" fill="#00b8b0" d="M2933 947l20-3-19 2-21 3z"/>
<path class="c" fill="#008c70" d="M2973 942l20-2-19 2-21 2z"/>
<path class="c" fill="#009070" d="M3013 937l20-2-20 3-20 2zM3053 932l20-1-20 3-20 1z"/>
<path class="c" fill="#009470" d="M3093 927l20-1-20 3-20 2z"/>
<path class="c" fill="#009870" d="M3133 922l20-1-20 4-20 1z"/>
<path class="c" fill="#00986c" d="M3173 917l20-1-21 4-19 1z"/>
<path class="c" fill="#009c6c" d="M3213 911l20 0-21 5-19 0z"/>
<path class="c" fill="#00a06c" d="M3253 906l20 0-21 5-19 0zM3293 900l20 0-21 6-19 0z"/>
<path class="c" fill="#00a468" d="M3334 894l19 1-21 6-19-1z"/>
<path class="c" fill="#00bcb0" d="M2872 954l21-3-19 2-21 3z"/>
<path class="b" fill="#00a868" d="M3374 888l19 1-21 6-19 0z"/>
<path class="c" fill="#008c6c" d="M2912 949l21-2-20 2-20 2zM2952 944l21-2-20 2-20 3z"/>
<path class="c" fill="#00906c" d="M2992 939l21-2-20 3-20 2z"/>
<path class="c" fill="#00946c" d="M3032 934l21-2-20 3-20 2zM3072 928l21-1-20 4-20 1z"/>
<path class="c" fill="#00986c" d="M3113 923l20-1-20 4-20 1z"/>
<path class="c" fill="#009c6c" d="M3153 917l20 0-20 4-20 1z"/>
<path class="c" fill="#00a068" d="M3193 911l20 0-20 5-20 1zM3234 905l19 1-20 5-20 0z"/>
<path class="c" fill="#00a468" d="M3274 899l19 1-20 6-20 0z"/>
<path class="b" fill="#00a464" d="M3314 893l20 1-21 6-20 0z"/>
<path class="c" fill="#008c6c" d="M2891 951l21-2-19 2-21 3z"/>
<path class="b" fill="#00a864" d="M3355 887l19 1-21 7-19-1z"/>
<path class="c" fill="#00906c" d="M2931 946l21-2-19 3-21 2zM2971 940l21-1-19 3-21 2z"/>
<path class="c" fill="#00946c" d="M3012 935l20-1-19 3-21 2z"/>
<path class="c" fill="#00986c" d="M3052 929l20-1-19 4-21 2z"/>
<path class="c" fill="#009c68" d="M3092 923l21 0-20 4-21 1zM3133 917l20 0-20 5-20 1z"/>
<path class="c" fill="#00a068" d="M3173 911l20 0-20 6-20 0z"/>
<path class="c" fill="#00a064" d="M3214 905l20 0-21 6-20 0z"/>
<path class="c" fill="#00a464" d="M3254 899l20 0-21 7-19-1z"/>
<path class="b" fill="#00a860" d="M3295 893l19 0-21 7-19-1zM3335 886l20 1-21 7-20-1z"/>
<path class="c" fill="#00906c" d="M2910 948l21-2-19 3-21 2z"/>
<path class="c" fill="#009468" d="M2951 942l20-2-19 4-21 2z"/>
<path class="c" fill="#009868" d="M2991 936l21-1-20 4-21 1zM3032 930l20-1-20 5-20 1z"/>
<path class="c" fill="#009c68" d="M3072 924l20-1-20 5-20 1z"/>
<path class="c" fill="#00a064" d="M3113 918l20-1-20 6-21 0zM3153 912l20-1-20 6-20 0z"/>
<path class="c" fill="#00a460" d="M3194 905l20 0-21 6-20 0z"/>
<path class="b" fill="#00a460" d="M3235 899l19 0-20 6-20 0z"/>
<path class="b" fill="#00a85c" d="M3275 892l20 1-21 6-20 0z"/>
<path class="b" fill="#00ac5c" d="M3316 885l19 1-21 7-19 0z"/>
<path class="c" fill="#009468" d="M2930 944l21-2-20 4-21 2z"/>
<path class="c" fill="#009868" d="M2970 937l21-1-20 4-20 2z"/>
<path class="c" fill="#009c64" d="M3011 931l21-1-20 5-21 1zM3052 925l20-1-20 5-20 1z"/>
<path class="c" fill="#00a060" d="M3092 918l21 0-21 5-20 1z"/>
<path class="c" fill="#00a460" d="M3133 912l20 0-20 5-20 1z"/>
<path class="c" fill="#00a45c" d="M3174 905l20 0-21 6-20 1z"/>
<path class="b" fill="#00a85c" d="M3215 898l20 1-21 6-20 0z"/>
<path class="b" fill="#00a858" d="M3256 891l19 1-21 7-19 0z"/>
<path class="b" fill="#00ac54" d="M3296 884l20 1-21 8-20-1z"/>
<path class="c" fill="#009864" d="M2949 939l21-2-19 5-21 2z"/>
<path class="c" fill="#009c64" d="M2990 932l21-1-20 5-21 1z"/>
<path class="c" fill="#00a060" d="M3031 925l21 0-20 5-21 1zM3072 919l20-1-20 6-20 1z"/>
<path class="c" fill="#00a45c" d="M3113 912l20 0-20 6-21 0z"/>
<path class="b" fill="#00a858" d="M3154 905l20 0-21 7-20 0zM3195 897l20 1-21 7-20 0z"/>
<path class="b" fill="#00ac54" d="M3236 890l20 1-21 8-20-1z"/>
<path class="b" fill="#00ac50" d="M3277 883l19 1-21 8-19-1z"/>
<path class="c" fill="#009c60" d="M2969 933l21-1-20 5-21 2z"/>
<path class="c" fill="#00a05c" d="M3010 926l21-1-20 6-21 1z"/>
<path class="c" fill="#00a45c" d="M3051 919l21 0-20 6-21 0z"/>
<path class="b" fill="#00a458" d="M3092 912l21 0-21 6-20 1z"/>
<path class="b" fill="#00a858" d="M3133 904l21 1-21 7-20 0z"/>
<path class="b" fill="#00a854" d="M3174 897l21 0-21 8-20 0z"/>
<path class="b" fill="#00ac50" d="M3216 889l20 1-21 8-20-1z"/>
<path class="b" fill="#00b04c" d="M3257 881l20 2-21 8-20-1z"/>
<path class="c" fill="#00a05c" d="M2989 927l21-1-20 6-21 1z"/>
<path class="c" fill="#00a458" d="M3030 919l21 0-20 6-21 1z"/>
<path class="b" fill="#00a854" d="M3071 912l21 0-20 7-21 0zM3113 904l20 0-20 8-21 0z"/>
<path class="b" fill="#00ac50" d="M3154 896l20 1-20 8-21-1z"/>
<path class="b" fill="#00ac4c" d="M3195 888l21 1-21 8-21 0z"/>
<path class="b" fill="#00b048" d="M3237 880l20 1-21 9-20-1z"/>
<path class="b" fill="#00a454" d="M3009 919l21 0-20 7-21 1z"/>
<path class="b" fill="#00a850" d="M3051 912l20 0-20 7-21 0z"/>
<path class="b" fill="#00ac50" d="M3092 904l21 0-21 8-21 0z"/>
<path class="b" fill="#00ac4c" d="M3133 895l21 1-21 8-20 0z"/>
<path class="b" fill="#00b048" d="M3175 887l20 1-21 9-20-1z"/>
<path class="b" fill="#00b044" d="M3217 879l20 1-21 9-21-1z"/>
<path class="b" fill="#00a84c" d="M3030 911l21 1-21 7-21 0z"/>
<path class="b" fill="#00ac48" d="M3071 903l21 1-21 8-20 0zM3113 895l20 0-20 9-21 0z"/>
<path class="b" fill="#00b044" d="M3154 886l21 1-21 9-21-1z"/>
<path class="b" fill="#00b440" d="M3196 878l21 1-22 9-20-1z"/>
<path class="b" fill="#00ac44" d="M3050 903l21 0-20 9-21-1z"/>
<path class="b" fill="#00b040" d="M3092 894l21 1-21 9-21-1z"/>
<path class="b" fill="#00b03c" d="M3134 885l20 1-21 9-20 0z"/>
<path class="a" fill="#00b438" d="M3176 876l20 2-21 9-21-1z"/>
<path class="b" fill="#00b03c" d="M3071 893l21 1-21 9-21 0z"/>
<path class="a" fill="#00b438" d="M3113 884l21 1-21 10-21-1z"/>
<path class="a" fill="#00b434" d="M3155 875l21 1-22 10-20-1zM3092 883l21 1-21 10-21-1z"/>
<path class="a" fill="#00b830" d="M3134 873l21 2-21 10-21-1z"/>
<path class="a" fill="#00b828" d="M3113 872l21 1-21 11-21-1z"/>
</g>
<circle class="dp" cx="1556.2" cy="367.7" r="7.6"/>
<circle class="dp" cx="1556.2" cy="401.6" r="7.6"/>
<circle class="dp" cx="1556.2" cy="414.3" r="7.6"/>
<path class="dl" d="M1556.2 367.7V427.7"/>
<path class="tk" d="M1556.3 751.6h0M1556.3 751.6h0M1645.5 708.9h0M1467.1 709h0M1734.7 666.2h0M1377.9 666.3h0M1823.9 623.4h0M1288.6 623.7h0M1913 580.7h0M1199.4 581h0M1193.8 464.3h0M1189.3 370.8h0M1184.8 277.4h0M1180.3 183.9h0M1175.8 90.5h0"/>
<path class="bx" d="M106.4 951.3L483.3 866.4L860.3 951.2M483.3 866.4L483 1304.4M860.3 951.2L836.4 1436.9"/>
<path class="bx2" d="M106.4 951.3L129.7 1436.9"/>
<path class="fl" d="M483.1 1606L836.4 1436.9L483 1304.4L129.7 1436.9Z"/>
<path class="ct" stroke="#2440dc" d="M212.6 1405.8L216.6 1408.2L220.5 1410.6L223.1 1412.2L227.1 1414.7L230.9 1417.2L233.5 1418.9L237.3 1421.4L239.9 1423.1L243.6 1425.7L246.1 1427.4L249.8 1430.1L252.2 1431.9L255.8 1434.6L258.1 1436.4L261.2 1438.9L263.9 1441.1L266.1 1443L269.2 1445.8L271.5 1447.9L273.6 1449.9L275.8 1452.1L278.6 1455L280.5 1457.1L282.4 1459.3L284.1 1461.4L285.8 1463.7L287.5 1465.9L289 1468.2L290.5 1470.6L291.8 1473L293.1 1475.4L294.3 1477.9L295.3 1480.5L296.2 1483.1L296.8 1485.2L297.2 1487.2L297.7 1490L298 1492.7L298.1 1494.5L298.1 1497.5L297.9 1499.6L297.6 1502.4L297.2 1504.6L296.4 1507.5L295.9 1509.3L294.8 1512.3L293.7 1515L293.5 1515.3"/>
<path class="ct" stroke="#1466e0" d="M703.2 1386.9L698.3 1387.6L693.4 1388.3L688.4 1389L683.3 1389.7L678.2 1390.3L673.1 1390.9L667.8 1391.5L662.5 1392.1L657.1 1392.7L651.7 1393.2L647.4 1393.6L643.1 1393.9L637.7 1394.4L632 1394.8L626.7 1395.1L622.7 1395.4L617.2 1395.7L611.1 1396L607.3 1396.1L601.7 1396.3L596.2 1396.5L592.1 1396.6L585.5 1396.7L582 1396.7L575.4 1396.7L571.8 1396.7L565.1 1396.6L561.4 1396.6L555.3 1396.4L550.4 1396.3L545.8 1396.1L539.6 1395.8L535.1 1395.6L530.5 1395.4L524.6 1395L518.9 1394.6L514.7 1394.3L510.1 1393.9L504.5 1393.5L498.9 1393L493.5 1392.4L488.2 1391.9L483.5 1391.4L478.8 1390.8L473.9 1390.2L469 1389.6L464 1388.9L458.9 1388.3L453.7 1387.5L448.4 1386.7L443 1385.9L437.5 1385.1L432.4 1384.2L427.6 1383.4L422.9 1382.6L418.3 1381.8L413.6 1381L408.3 1380L402.2 1378.9L397.7 1378L393.2 1377.1L388.8 1376.2L382.7 1375L377.9 1374L373.5 1373.1L369 1372.1L362.9 1370.8L358.6 1369.8L354.4 1368.9L348.2 1367.4L344 1366.5L339.7 1365.5L333.8 1364.1L329.8 1363.1L327.7 1362.6"/>
<path class="ct" stroke="#0088e6" d="M545.8 1327.9L542.3 1327.8L536.7 1327.7L531.9 1327.5L527.7 1327.4L521.9 1327.2L517.7 1327L513.1 1326.8L507.4 1326.6L503 1326.3L498.9 1326.1L493.3 1325.8L487.8 1325.5L484 1325.2L479.5 1324.9L474.1 1324.5L468.7 1324.1L464.2 1323.8L460.1 1323.5L455.5 1323.1L450.3 1322.6L445.1 1322.2L440 1321.7L437.4 1321.4"/>
<path class="fe" d="M129.7 1436.9L483.1 1606L836.4 1436.9"/>
<g class="sf" transform="scale(.5)">
<path class="a" fill="#00e4ff" d="M966 1956l17-15-17-12-16 15zM950 1971l16-15-16-12-17 15zM983 1968l16-15-16-12-17 15z"/>
<path class="a" fill="#00e0ff" d="M933 1985l17-14-17-12-16 15zM966 1982l17-14-17-12-16 15zM1000 1980l16-14-17-13-16 15zM983 1994l17-14-17-12-17 14zM1016 1992l17-14-17-12-16 14z"/>
<path class="a" fill="#00dcff" d="M916 2000l17-15-16-11-17 15zM950 1997l16-15-16-11-17 14zM933 2011l17-14-17-12-17 15zM966 2008l17-14-17-12-16 15zM1000 2006l16-14-16-12-17 14zM1033 2004l17-14-17-12-17 14zM1050 2015l17-13-17-12-17 14z"/>
<path class="a" fill="#00d8ff" d="M900 2015l16-15-16-11-17 15zM916 2026l17-15-17-11-16 15zM950 2022l16-14-16-11-17 14zM983 2020l17-14-17-12-17 14zM1017 2017l16-13-17-12-16 14zM966 2034l17-14-17-12-16 14zM1000 2031l17-14-17-11-17 14zM1034 2029l16-14-17-11-16 13zM1067 2027l17-13-17-12-17 13z"/>
<path class="a" fill="#00d4ff" d="M883 2030l17-15-17-11-17 15zM866 2044l17-14-17-11-17 15zM899 2040l17-14-16-11-17 15zM933 2037l17-15-17-11-17 15zM916 2051l17-14-17-11-17 14zM950 2048l16-14-16-12-17 15zM983 2045l17-14-17-11-17 14zM1017 2043l17-14-17-12-17 14zM1051 2041l16-14-17-12-16 14zM1084 2039l17-13-17-12-17 13zM1000 2056l17-13-17-12-17 14zM1034 2054l17-13-17-12-17 14zM1068 2052l16-13-17-12-16 14zM1101 2051l17-12-17-13-17 13z"/>
<path class="a" fill="#00d0ff" d="M849 2059l17-15-17-10-17 15zM882 2055l17-15-16-10-17 14zM865 2069l17-14-16-11-17 15zM899 2065l17-14-17-11-17 15zM933 2062l17-14-17-11-17 14zM966 2059l17-14-17-11-16 14zM949 2073l17-14-16-11-17 14zM983 2070l17-14-17-11-17 14zM1017 2067l17-13-17-11-17 13zM1051 2066l17-14-17-11-17 13zM1085 2064l16-13-17-12-16 13zM1119 2063l16-12-17-12-17 12zM1034 2079l17-13-17-12-17 13zM1068 2077l17-13-17-12-17 14zM1102 2076l17-13-18-12-16 13zM1136 2075l16-12-17-12-16 12z"/>
<path class="a" fill="#00ccff" d="M832 2074l17-15-17-10-17 15zM848 2084l17-15-16-10-17 15zM882 2080l17-15-17-10-17 14zM916 2076l17-14-17-11-17 14zM899 2090l17-14-17-11-17 15zM932 2086l17-13-16-11-17 14zM966 2083l17-13-17-11-17 14zM1000 2081l17-14-17-11-17 14zM949 2097l17-14-17-10-17 13zM983 2094l17-13-17-11-17 13zM1017 2092l17-13-17-12-17 14zM1051 2090l17-13-17-11-17 13zM1085 2089l17-13-17-12-17 13zM1119 2088l17-13-17-12-17 13zM1153 2087l17-12-18-12-16 12zM1069 2101l16-12-17-12-17 13zM1103 2100l16-12-17-12-17 13zM1137 2100l16-13-17-12-17 13zM1171 2100l16-12-17-13-17 12z"/>
<path class="a" fill="#00c8ff" d="M814 2089l18-15-17-10-17 15zM797 2104l17-15-16-10-17 15zM831 2099l17-15-16-10-18 15zM865 2094l17-14-17-11-17 15zM848 2108l17-14-17-10-17 15zM881 2104l18-14-17-10-17 14zM915 2100l17-14-16-10-17 14zM898 2114l17-14-16-10-18 14zM932 2111l17-14-17-11-17 14zM966 2108l17-14-17-11-17 14zM1000 2105l17-13-17-11-17 13zM1034 2103l17-13-17-11-17 13zM983 2118l17-13-17-11-17 14zM1018 2116l16-13-17-11-17 13zM1052 2114l17-13-18-11-17 13zM1086 2113l17-13-18-11-16 12zM1120 2112l17-12-18-12-16 12zM1188 2112l17-12-18-12-16 12zM1154 2112l17-12-18-13-16 13zM1103 2124l17-12-17-12-17 13zM1206 2124l17-12-18-12-17 12zM1138 2123l16-11-17-12-17 12zM1172 2123l16-11-17-12-17 12z"/>
<path class="a" fill="#00c4ff" d="M780 2118l17-14-16-10-18 15zM814 2113l17-14-17-10-17 15zM796 2128l18-15-17-9-17 14zM830 2123l18-15-17-9-17 14zM864 2118l17-14-16-10-17 14zM847 2132l17-14-16-10-18 15zM881 2128l17-14-17-10-17 14zM915 2124l17-13-17-11-17 14zM949 2121l17-13-17-11-17 14zM898 2138l17-14-17-10-17 14zM932 2134l17-13-17-10-17 13zM966 2131l17-13-17-10-17 13zM1001 2129l17-13-18-11-17 13zM1035 2127l17-13-18-11-16 13zM1069 2125l17-12-17-12-17 13zM984 2142l17-13-18-11-17 13zM1018 2139l17-12-17-11-17 13zM1052 2138l17-13-17-11-17 13zM1087 2136l16-12-17-11-17 12zM1224 2136l16-11-17-13-17 12zM1121 2135l17-12-18-11-17 12zM1190 2135l16-11-18-12-16 11zM1155 2135l17-12-18-11-16 11zM1242 2148l16-11-18-12-16 11zM1104 2147l17-12-18-11-16 12zM1207 2147l17-11-18-12-16 11zM1138 2147l17-12-17-12-17 12zM1173 2147l17-12-18-12-17 12z"/>
<path class="a" fill="#00c0ff" d="M762 2133l18-15-17-9-17 15zM779 2142l17-14-16-10-18 15zM813 2137l17-14-16-10-18 15zM795 2152l18-15-17-9-17 14zM830 2147l17-15-17-9-17 14zM864 2142l17-14-17-10-17 14zM846 2156l18-14-17-10-17 15zM881 2152l17-14-17-10-17 14zM915 2148l17-14-17-10-17 14zM949 2144l17-13-17-10-17 13zM898 2161l17-13-17-10-17 14zM932 2158l17-14-17-10-17 14zM966 2155l18-13-18-11-17 13zM1001 2152l17-13-17-10-17 13zM1035 2150l17-12-17-11-17 12zM1070 2148l17-12-18-11-17 13zM984 2165l17-13-17-10-18 13zM1018 2163l17-13-17-11-17 13zM1053 2161l17-13-18-10-17 12zM1260 2160l16-10-18-13-16 11zM1087 2159l17-12-17-11-17 12zM1225 2159l17-11-18-12-17 11zM1122 2159l16-12-17-12-17 12zM1191 2158l16-11-17-12-17 12zM1156 2158l17-11-18-12-17 12zM1070 2171l17-12-17-11-17 13zM1243 2171l17-11-18-12-17 11zM1105 2170l17-11-18-12-17 12zM1209 2170l16-11-18-12-16 11zM1139 2170l17-12-18-11-16 12zM1174 2170l17-12-18-11-17 11z"/>
<path class="a" fill="#00bcff" d="M745 2148l17-15-16-9-18 15zM727 2163l18-15-17-9-17 15zM761 2157l18-15-17-9-17 15zM778 2166l17-14-16-10-18 15zM812 2161l18-14-17-10-18 15zM795 2175l17-14-17-9-17 14zM829 2170l17-14-16-9-18 14zM863 2165l18-13-17-10-18 14zM846 2179l17-14-17-9-17 14zM880 2175l18-14-17-9-18 13zM915 2171l17-13-17-10-17 13zM949 2168l17-13-17-11-17 14zM897 2184l18-13-17-10-18 14zM932 2181l17-13-17-10-17 13zM966 2178l18-13-18-10-17 13zM1001 2175l17-12-17-11-17 13zM1036 2173l17-12-18-11-17 13zM1278 2173l16-11-18-12-16 10zM949 2190l17-12-17-10-17 13zM984 2188l17-13-17-10-18 13zM1018 2185l18-12-18-10-17 12zM1296 2185l16-10-18-13-16 11zM1053 2183l17-12-17-10-17 12zM1261 2183l17-10-18-13-17 11zM1088 2182l17-12-18-11-17 12zM1226 2182l17-11-18-12-16 11zM1122 2181l17-11-17-11-17 11zM1192 2181l17-11-18-12-17 12zM1157 2181l17-11-18-12-17 12zM1036 2195l17-12-17-10-18 12zM1279 2195l17-10-18-12-17 10zM1071 2194l17-12-18-11-17 12zM1245 2194l16-11-18-12-17 11zM1105 2193l17-12-17-11-17 12zM1210 2193l16-11-17-12-17 11zM1140 2192l17-11-18-11-17 11zM1175 2192l17-11-18-11-17 11z"/>
<path class="a" fill="#00b8ff" d="M710 2178l17-15-16-9-18 16zM744 2172l17-15-16-9-18 15zM726 2186l18-14-17-9-17 15zM760 2180l18-14-17-9-17 15zM777 2189l18-14-17-9-18 14zM811 2184l18-14-17-9-17 14zM794 2198l17-14-16-9-18 14zM828 2193l18-14-17-9-18 14zM863 2188l17-13-17-10-17 14zM845 2202l18-14-17-9-18 14zM880 2197l17-13-17-9-17 13zM914 2194l18-13-17-10-18 13zM897 2207l17-13-17-10-17 13zM932 2203l17-13-17-9-18 13zM966 2200l18-12-18-10-17 12zM1001 2197l17-12-17-10-17 13zM1314 2197l16-10-18-12-16 10zM949 2213l17-13-17-10-17 13zM984 2210l17-13-17-9-18 12zM1332 2209l17-9-19-13-16 10zM1019 2207l17-12-18-10-17 12zM1298 2207l16-10-18-12-17 10zM1053 2206l18-12-18-11-17 12zM1263 2206l16-11-18-12-16 11zM1088 2204l17-11-17-11-17 12zM1228 2204l17-10-19-12-16 11zM1123 2204l17-12-18-11-17 12zM1193 2204l17-11-18-12-17 11zM1158 2203l17-11-18-11-17 11zM1316 2219l16-10-18-12-16 10zM1036 2217l17-11-17-11-17 12zM1281 2217l17-10-19-12-16 11zM1071 2216l17-12-17-10-18 12zM1246 2216l17-10-18-12-17 10zM1106 2215l17-11-18-11-17 11zM1211 2215l17-11-18-11-17 11zM1141 2214l17-11-18-11-17 12zM1176 2214l17-10-18-12-17 11z"/>
<path class="a" fill="#00b4ff" d="M692 2193l18-15-17-8-18 15zM708 2201l18-15-16-8-18 15zM743 2195l17-15-16-8-18 14zM725 2209l18-14-17-9-18 15zM759 2203l18-14-17-9-17 15zM776 2212l18-14-17-9-18 14zM810 2207l18-14-17-9-17 14zM793 2220l17-13-16-9-18 14zM827 2215l18-13-17-9-18 14zM862 2211l18-14-17-9-18 14zM844 2224l18-13-17-9-18 13zM879 2220l18-13-17-10-18 14zM914 2216l18-13-18-9-17 13zM862 2233l17-13-17-9-18 13zM896 2229l18-13-17-9-18 13zM931 2225l18-12-17-10-18 13zM966 2222l18-12-18-10-17 13zM1351 2222l16-10-18-12-17 9zM1001 2220l18-13-18-10-17 13zM914 2238l17-13-17-9-18 13zM949 2234l17-12-17-9-18 12zM1369 2234l17-9-19-13-16 10zM984 2232l17-12-17-10-18 12zM1334 2231l17-9-19-13-16 10zM1019 2229l17-12-17-10-18 13zM1299 2229l17-10-18-12-17 10zM1054 2228l17-12-18-10-17 11zM1264 2227l17-10-18-11-17 10zM1089 2226l17-11-18-11-17 12zM1229 2226l17-10-18-12-17 11zM1124 2225l17-11-18-10-17 11zM1194 2225l17-10-18-11-17 10zM1159 2225l17-11-18-11-17 11zM966 2244l18-12-18-10-17 12zM1353 2244l16-10-18-12-17 9zM1001 2241l18-12-18-9-17 12zM1318 2241l16-10-18-12-17 10zM1037 2239l17-11-18-11-17 12zM1283 2239l16-10-18-12-17 10zM1072 2238l17-12-18-10-17 12zM1247 2238l17-11-18-11-17 10zM1107 2237l17-12-18-10-17 11zM1212 2237l17-11-18-11-17 10zM1142 2236l17-11-18-11-17 11zM1177 2236l17-11-18-11-17 11zM1054 2249l18-11-18-10-17 11zM1266 2249l17-10-19-12-17 11zM1090 2248l17-11-18-11-17 12zM1231 2248l16-10-18-12-17 11zM1125 2247l17-11-18-11-17 12zM1195 2247l17-10-18-12-17 11zM1160 2247l17-11-18-11-17 11z"/>
<path class="a" fill="#00b0ff" d="M674 2208l18-15-17-8-17 15zM656 2223l18-15-16-8-18 15zM690 2216l18-15-16-8-18 15zM672 2231l18-15-16-8-18 15zM707 2224l18-15-17-8-18 15zM741 2218l18-15-16-8-18 14zM724 2232l17-14-16-9-18 15zM758 2226l18-14-17-9-18 15zM740 2240l18-14-17-8-17 14zM775 2234l18-14-17-8-18 14zM810 2229l17-14-17-8-17 13zM792 2242l18-13-17-9-18 14zM827 2237l17-13-17-9-17 14zM809 2251l18-14-17-8-18 13zM844 2246l18-13-18-9-17 13zM879 2242l17-13-17-9-17 13zM861 2254l18-12-17-9-18 13zM896 2250l18-12-18-9-17 13zM931 2247l18-13-18-9-17 13zM1388 2247l16-10-18-12-17 9zM914 2259l17-12-17-9-18 12zM1406 2259l17-9-19-13-16 10zM949 2256l17-12-17-10-18 13zM1371 2256l17-9-19-13-16 10zM984 2253l17-12-17-9-18 12zM1336 2253l17-9-19-13-16 10zM1019 2251l18-12-18-10-18 12zM1301 2251l17-10-19-12-16 10zM931 2268l18-12-18-9-17 12zM1390 2268l16-9-18-12-17 9zM966 2265l18-12-18-9-17 12zM1355 2265l16-9-18-12-17 9zM1002 2262l17-11-18-10-17 12zM1320 2262l16-9-18-12-17 10zM1037 2260l17-11-17-10-18 12zM1284 2260l17-9-18-12-17 10zM1072 2259l18-11-18-10-18 11zM1249 2259l17-10-19-11-16 10zM1108 2258l17-11-18-10-17 11zM1214 2258l17-10-19-11-17 10zM1143 2257l17-10-18-11-17 11zM1178 2257l17-10-18-11-17 11zM1019 2272l18-12-18-9-17 11zM1303 2272l17-10-19-11-17 9zM1055 2270l17-11-18-10-17 11zM1267 2270l17-10-18-11-17 10zM1090 2269l18-11-18-10-18 11zM1232 2269l17-10-18-11-17 10zM1126 2268l17-11-18-10-17 11zM1197 2268l17-10-19-11-17 10zM1161 2268l17-11-18-10-17 10zM1108 2278l18-10-18-10-18 11zM1215 2278l17-9-18-11-17 10zM1144 2278l17-10-18-11-17 11zM1179 2278l18-10-19-11-17 11z"/>
<path class="a" fill="#00acff" d="M638 2238l18-15-16-8-18 16zM654 2246l18-15-16-8-18 15zM689 2239l18-15-17-8-18 15zM671 2253l18-14-17-8-18 15zM706 2246l18-14-17-8-18 15zM722 2254l18-14-16-8-18 14zM757 2248l18-14-17-8-18 14zM739 2262l18-14-17-8-18 14zM774 2256l18-14-17-8-18 14zM756 2270l18-14-17-8-18 14zM791 2264l18-13-17-9-18 14zM826 2259l18-13-17-9-18 14zM808 2272l18-13-17-8-18 13zM843 2267l18-13-17-8-18 13zM878 2263l18-13-17-8-18 12zM825 2280l18-13-17-8-18 13zM860 2276l18-13-17-9-18 13zM896 2271l18-12-18-9-18 13zM1425 2271l17-8-19-13-17 9zM878 2284l18-13-18-8-18 13zM1444 2284l16-8-18-13-17 8zM913 2280l18-12-17-9-18 12zM1409 2280l16-9-19-12-16 9zM949 2277l17-12-17-9-18 12zM1374 2277l16-9-19-12-16 9zM984 2274l18-12-18-9-18 12zM1338 2274l17-9-19-12-16 9zM895 2292l18-12-17-9-18 13zM1428 2292l16-8-19-13-16 9zM931 2289l18-12-18-9-18 12zM1392 2289l17-9-19-12-16 9zM966 2286l18-12-18-9-17 12zM1357 2286l17-9-19-12-17 9zM1002 2283l17-11-17-10-18 12zM1321 2283l17-9-18-12-17 10zM1037 2281l18-11-18-10-18 12zM1286 2281l17-9-19-12-17 10zM1073 2279l17-10-18-10-17 11zM1251 2280l16-10-18-11-17 10zM949 2297l17-11-17-9-18 12zM1376 2297l16-8-18-12-17 9zM984 2294l18-11-18-9-18 12zM1340 2295l17-9-19-12-17 9zM1020 2292l17-11-18-9-17 11zM1305 2292l16-9-18-11-17 9zM1055 2290l18-11-18-9-18 11zM1269 2290l17-9-19-11-16 10zM1091 2289l17-11-18-9-17 10zM1234 2289l17-9-19-11-17 9zM1127 2288l17-10-18-10-18 10zM1198 2288l17-10-18-10-18 10zM1162 2288l17-10-18-10-17 10zM1002 2303l18-11-18-9-18 11zM1323 2304l17-9-19-12-16 9zM1038 2301l17-11-18-9-17 11zM1288 2301l17-9-19-11-17 9zM1073 2300l18-11-18-10-18 11zM1252 2300l17-10-18-10-17 9zM1109 2299l18-11-19-10-17 11zM1216 2299l18-10-19-11-17 10zM1145 2298l17-10-18-10-17 10zM1181 2298l17-10-19-10-17 10zM1092 2309l17-10-18-10-18 11zM1235 2309l17-9-18-11-18 10zM1128 2308l17-10-18-10-18 11zM1199 2308l17-9-18-11-17 10zM1163 2308l18-10-19-10-17 10z"/>
<path class="a" fill="#00a8ff" d="M620 2253l18-15-16-7-18 15zM602 2268l18-15-16-7-19 15zM636 2260l18-14-16-8-18 15zM653 2268l18-15-17-7-18 14zM687 2261l19-15-17-7-18 14zM669 2275l18-14-16-8-18 15zM704 2268l18-14-16-8-19 15zM686 2282l18-14-17-7-18 14zM721 2276l18-14-17-8-18 14zM703 2290l18-14-17-8-18 14zM738 2283l18-13-17-8-18 14zM773 2277l18-13-17-8-18 14zM755 2291l18-14-17-7-18 13zM790 2285l18-13-17-8-18 13zM772 2298l18-13-17-8-18 14zM807 2293l18-13-17-8-18 13zM842 2288l18-12-17-9-18 13zM789 2306l18-13-17-8-18 13zM824 2301l18-13-17-8-18 13zM860 2296l18-12-18-8-18 12zM1463 2296l16-8-19-12-16 8zM842 2309l18-13-18-8-18 13zM1482 2309l16-8-19-13-16 8zM877 2304l18-12-17-8-18 12zM1447 2305l16-9-19-12-16 8zM913 2301l18-12-18-9-18 12zM1411 2301l17-9-19-12-17 9zM859 2317l18-13-17-8-18 13zM1466 2317l16-8-19-13-16 9zM895 2312l18-11-18-9-18 12zM1430 2313l17-8-19-13-17 9zM931 2309l18-12-18-8-18 12zM1395 2309l16-8-19-12-16 8zM966 2306l18-12-18-8-17 11zM1359 2306l17-9-19-11-17 9zM913 2321l18-12-18-8-18 11zM1414 2321l16-8-19-12-16 8zM948 2317l18-11-17-9-18 12zM1378 2318l17-9-19-12-17 9zM984 2314l18-11-18-9-18 12zM1342 2315l17-9-19-11-17 9zM1020 2312l18-11-18-9-18 11zM1307 2312l16-8-18-12-17 9zM1056 2310l17-10-18-10-17 11zM1271 2311l17-10-19-11-17 10zM930 2329l18-12-17-8-18 12zM1397 2329l17-8-19-12-17 9zM966 2326l18-12-18-8-18 11zM1361 2326l17-8-19-12-17 9zM1002 2323l18-11-18-9-18 11zM1325 2323l17-8-19-11-16 8zM1038 2321l18-11-18-9-18 11zM1290 2321l17-9-19-11-17 10zM1074 2320l18-11-19-9-17 10zM1254 2320l17-9-19-11-17 9zM1110 2319l18-11-19-9-17 10zM1218 2319l17-10-19-10-17 9zM1146 2318l17-10-18-10-17 10zM1182 2318l17-10-18-10-18 10zM984 2334l18-11-18-9-18 12zM1344 2334l17-8-19-11-17 8zM1020 2332l18-11-18-9-18 11zM1308 2332l17-9-18-11-17 9zM1056 2330l18-10-18-10-18 11zM1273 2330l17-9-19-10-17 9zM1092 2329l18-10-18-10-18 11zM1237 2329l17-9-19-11-17 10zM1128 2328l18-10-18-10-18 11zM1200 2328l18-9-19-11-17 10zM1164 2328l18-10-19-10-17 10zM1039 2340l17-10-18-9-18 11zM1291 2341l17-9-18-11-17 9zM1075 2339l17-10-18-9-18 10zM1255 2339l18-9-19-10-17 9zM1111 2338l17-10-18-9-18 10zM1219 2338l18-9-19-10-18 9zM1147 2337l17-9-18-10-18 10zM1183 2337l17-9-18-10-18 10z"/>
<path class="a" fill="#00a4ff" d="M584 2283l18-15-17-7-18 15zM618 2275l18-15-16-7-18 15zM600 2290l18-15-16-7-18 15zM635 2282l18-14-17-8-18 15zM616 2297l19-15-17-7-18 15zM651 2289l18-14-16-7-18 14zM633 2304l18-15-16-7-19 15zM668 2296l18-14-17-7-18 14zM685 2304l18-14-17-8-18 14zM720 2297l18-14-17-7-18 14zM701 2311l19-14-17-7-18 14zM737 2304l18-13-17-8-18 14zM718 2318l19-14-17-7-19 14zM754 2312l18-14-17-7-18 13zM735 2325l19-13-17-8-19 14zM771 2319l18-13-17-8-18 14zM806 2314l18-13-17-8-18 13zM752 2332l19-13-17-7-19 13zM788 2326l18-12-17-8-18 13zM824 2321l18-12-18-8-18 13zM1501 2322l17-8-20-13-16 8zM805 2334l19-13-18-7-18 12zM1521 2334l16-7-19-13-17 8zM841 2329l18-12-17-8-18 12zM1485 2329l16-7-19-13-16 8zM877 2324l18-12-18-8-18 13zM1449 2325l17-8-19-12-17 8zM823 2341l18-12-17-8-19 13zM1504 2342l17-8-20-12-16 7zM859 2336l18-12-18-7-18 12zM1469 2337l16-8-19-12-17 8zM895 2332l18-11-18-9-18 12zM1433 2333l16-8-19-12-16 8zM840 2348l19-12-18-7-18 12zM1488 2349l16-7-19-13-16 8zM876 2344l19-12-18-8-18 12zM1452 2345l17-8-20-12-16 8zM912 2340l18-11-17-8-18 11zM1416 2341l17-8-19-12-17 8zM948 2337l18-11-18-9-18 12zM1380 2337l17-8-19-11-17 8zM894 2352l18-12-17-8-19 12zM1436 2352l16-7-19-12-17 8zM930 2348l18-11-18-8-18 11zM1400 2349l16-8-19-12-17 8zM966 2345l18-11-18-8-18 11zM1364 2346l16-9-19-11-17 8zM1002 2342l18-10-18-9-18 11zM1327 2343l17-9-19-11-17 9zM912 2359l18-11-18-8-18 12zM1419 2360l17-8-20-11-16 8zM948 2356l18-11-18-8-18 11zM1383 2357l17-8-20-12-16 9zM984 2353l18-11-18-8-18 11zM1347 2354l17-8-20-12-17 9zM1021 2351l18-11-19-8-18 10zM1310 2351l17-8-19-11-17 9zM1057 2349l18-10-19-9-17 10zM1274 2349l17-8-18-11-18 9zM1093 2348l18-10-19-9-17 10zM1238 2348l17-9-18-10-18 9zM1129 2347l18-10-19-9-17 10zM1202 2347l17-9-19-10-17 9zM1166 2347l17-10-19-9-17 9zM966 2364l18-11-18-8-18 11zM1366 2365l17-8-19-11-17 8zM1003 2361l18-10-19-9-18 11zM1330 2362l17-8-20-11-17 8zM1039 2359l18-10-18-9-18 11zM1293 2360l17-9-19-10-17 8zM1075 2358l18-10-18-9-18 10zM1257 2358l17-9-19-10-17 9zM1112 2357l17-10-18-9-18 10zM1221 2357l17-9-19-10-17 9zM1148 2356l18-9-19-10-18 10zM1184 2356l18-9-19-10-17 10zM1349 2372l17-7-19-11-17 8zM985 2372l18-11-19-8-18 11zM1312 2370l18-8-20-11-17 9zM1021 2369l18-10-18-8-18 10zM1276 2368l17-8-19-11-17 9zM1057 2368l18-10-18-9-18 10zM1240 2367l17-9-19-10-17 9zM1094 2366l18-9-19-9-18 10zM1203 2366l18-9-19-10-18 9zM1130 2366l18-10-19-9-17 10zM1167 2366l17-10-18-9-18 9zM1295 2378l17-8-19-10-17 8zM1039 2378l18-10-18-9-18 10zM1259 2377l17-9-19-10-17 9zM1076 2376l18-10-19-8-18 10zM1222 2375l18-8-19-10-18 9zM1113 2375l17-9-18-9-18 9zM1186 2375l17-9-19-10-17 10zM1149 2375l18-9-19-10-18 10zM1205 2384l17-9-19-9-17 9zM1131 2384l18-9-19-9-17 9zM1168 2384l18-9-19-9-18 9z"/>
<path class="a" fill="#00a0ff" d="M565 2298l19-15-17-7-18 16zM581 2305l19-15-16-7-19 15zM598 2312l18-15-16-7-19 15zM614 2318l19-14-17-7-18 15zM649 2311l19-15-17-7-18 15zM631 2325l18-14-16-7-19 14zM666 2317l19-13-17-8-19 15zM648 2331l18-14-17-6-18 14zM683 2324l18-13-16-7-19 13zM665 2338l18-14-17-7-18 14zM700 2331l18-13-17-7-18 13zM681 2345l19-14-17-7-18 14zM717 2338l18-13-17-7-18 13zM698 2351l19-13-17-7-19 14zM734 2345l18-13-17-7-18 13zM770 2339l18-13-17-7-19 13zM751 2352l19-13-18-7-18 13zM787 2346l18-12-17-8-18 13zM1540 2347l16-7-19-13-16 7zM769 2359l18-13-17-7-19 13zM1560 2359l16-6-20-13-16 7zM804 2353l19-12-18-7-18 12zM1524 2354l16-7-19-13-17 8zM786 2365l18-12-17-7-18 13zM1543 2366l17-7-20-12-16 7zM822 2360l18-12-17-7-19 12zM1507 2361l17-7-20-12-16 7zM858 2356l18-12-17-8-19 12zM1471 2357l17-8-19-12-17 8zM804 2372l18-12-18-7-18 12zM1527 2373l16-7-19-12-17 7zM840 2367l18-11-18-8-18 12zM1491 2368l16-7-19-12-17 8zM876 2363l18-11-18-8-18 12zM1455 2364l16-7-19-12-16 7zM821 2379l19-12-18-7-18 12zM1511 2380l16-7-20-12-16 7zM857 2375l19-12-18-7-18 11zM1474 2376l17-8-20-11-16 7zM894 2370l18-11-18-7-18 11zM1438 2371l17-7-19-12-17 8zM930 2367l18-11-18-8-18 11zM1402 2368l17-8-19-11-17 8zM839 2386l18-11-17-8-19 12zM1458 2383l16-7-19-12-17 7zM875 2382l19-12-18-7-19 12zM1421 2379l17-8-19-11-17 8zM912 2378l18-11-18-8-18 11zM1385 2375l17-7-19-11-17 8zM948 2375l18-11-18-8-18 11zM1441 2390l17-7-20-12-17 8zM893 2389l19-11-18-8-19 12zM1405 2386l16-7-19-11-17 7zM930 2385l18-10-18-8-18 11zM1368 2383l17-8-19-10-17 7zM966 2382l19-10-19-8-18 11zM1332 2380l17-8-19-10-18 8zM1003 2380l18-11-18-8-18 11zM1424 2397l17-7-20-11-16 7zM911 2396l19-11-18-7-19 11zM1388 2394l17-8-20-11-17 8zM948 2393l18-11-18-7-18 10zM1351 2391l17-8-19-11-17 8zM985 2390l18-10-18-8-19 10zM1314 2388l18-8-20-10-17 8zM1021 2388l18-10-18-9-18 11zM1278 2386l17-8-19-10-17 9zM1058 2386l18-10-19-8-18 10zM1241 2385l18-8-19-10-18 8zM1095 2385l18-10-19-9-18 10zM1407 2404l17-7-19-11-17 8zM930 2403l18-10-18-8-19 11zM1371 2401l17-7-20-11-17 8zM966 2400l19-10-19-8-18 11zM1334 2398l17-7-19-11-18 8zM1003 2398l18-10-18-8-18 10zM1297 2396l17-8-19-10-17 8zM1040 2396l18-10-19-8-18 10zM1260 2395l18-9-19-9-18 8zM1077 2394l18-9-19-9-18 10zM1224 2393l17-8-19-10-17 9zM1113 2393l18-9-18-9-18 10zM1187 2393l18-9-19-9-18 9zM1150 2393l18-9-19-9-18 9zM948 2410l18-10-18-7-18 10zM1353 2409l18-8-20-10-17 7zM985 2408l18-10-18-8-19 10zM1317 2406l17-8-20-10-17 8zM1022 2405l18-9-19-8-18 10zM1280 2404l17-8-19-10-18 9zM1059 2404l18-10-19-8-18 10zM1243 2403l17-8-19-10-17 8zM1095 2402l18-9-18-8-18 9zM1206 2402l18-9-19-9-18 9zM1132 2402l18-9-19-9-18 9zM1169 2401l18-8-19-9-18 9zM1336 2416l17-7-19-11-17 8zM1003 2415l19-10-19-7-18 10zM1299 2414l18-8-20-10-17 8zM1040 2413l19-9-19-8-18 9zM1262 2412l18-8-20-9-17 8zM1077 2412l18-10-18-8-18 10zM1225 2411l18-8-19-10-18 9zM1114 2411l18-9-19-9-18 9zM1188 2410l18-8-19-9-18 8zM1151 2410l18-9-19-8-18 9zM1022 2422l18-9-18-8-19 10zM1282 2421l17-7-19-10-18 8zM1059 2421l18-9-18-8-19 9zM1245 2420l17-8-19-9-18 8zM1096 2420l18-9-19-9-18 10zM1207 2419l18-8-19-9-18 8zM1133 2419l18-9-19-8-18 9zM1170 2419l18-9-19-9-18 9zM1264 2429l18-8-20-9-17 8zM1078 2428l18-8-19-8-18 9zM1227 2428l18-8-20-9-18 8zM1115 2428l18-9-19-8-18 9zM1190 2427l17-8-19-9-18 9zM1152 2427l18-8-19-9-18 9zM1134 2436l18-9-19-8-18 9zM1172 2435l18-8-20-8-18 8z"/>
<path class="a" fill="#009cff" d="M547 2314l18-16-16-6-18 15zM528 2329l19-15-16-7-19 16zM563 2320l18-15-16-7-18 16zM544 2335l19-15-16-6-19 15zM579 2326l19-14-17-7-18 15zM561 2341l18-15-16-6-19 15zM596 2333l18-15-16-6-19 14zM577 2347l19-14-17-7-18 15zM612 2339l19-14-17-7-18 15zM594 2353l18-14-16-6-19 14zM629 2345l19-14-17-6-19 14zM611 2359l18-14-17-6-18 14zM646 2352l19-14-17-7-19 14zM663 2358l18-13-16-7-19 14zM680 2364l18-13-17-6-18 13zM716 2358l18-13-17-7-19 13zM697 2371l19-13-18-7-18 13zM733 2364l18-12-17-7-18 13zM714 2377l19-13-17-6-19 13zM750 2371l19-12-18-7-18 12zM1579 2372l16-7-19-12-16 6zM731 2384l19-13-17-7-19 13zM1599 2385l16-7-20-13-16 7zM767 2378l19-13-17-6-19 12zM1563 2379l16-7-19-13-17 7zM749 2390l18-12-17-7-19 13zM1583 2391l16-6-20-13-16 7zM785 2384l19-12-18-7-19 13zM1547 2386l16-7-20-13-16 7zM1566 2398l17-7-20-12-16 7zM766 2396l19-12-18-6-18 12zM1530 2392l17-6-20-13-16 7zM803 2391l18-12-17-7-19 12zM1494 2387l17-7-20-12-17 8zM1550 2404l16-6-19-12-17 6zM784 2403l19-12-18-7-19 12zM1514 2399l16-7-19-12-17 7zM820 2398l19-12-18-7-18 12zM1477 2394l17-7-20-11-16 7zM857 2393l18-11-18-7-18 11zM1533 2411l17-7-20-12-16 7zM802 2409l18-11-17-7-19 12zM1497 2406l17-7-20-12-17 7zM838 2404l19-11-18-7-19 12zM1461 2401l16-7-19-11-17 7zM875 2400l18-11-18-7-18 11zM1517 2417l16-6-19-12-17 7zM820 2416l18-12-18-6-18 11zM1480 2412l17-6-20-12-16 7zM856 2411l19-11-18-7-19 11zM1444 2408l17-7-20-11-17 7zM893 2407l18-11-18-7-18 11zM1500 2424l17-7-20-11-17 6zM837 2422l19-11-18-7-18 12zM1464 2419l16-7-19-11-17 7zM874 2418l19-11-18-7-19 11zM1427 2415l17-7-20-11-17 7zM911 2414l19-11-19-7-18 11zM1390 2412l17-8-19-10-17 7zM1483 2430l17-6-20-12-16 7zM856 2428l18-10-18-7-19 11zM1447 2426l17-7-20-11-17 7zM892 2424l19-10-18-7-19 11zM1410 2422l17-7-20-11-17 8zM929 2421l19-11-18-7-19 11zM1373 2419l17-7-19-11-18 8zM966 2418l19-10-19-8-18 10zM1467 2436l16-6-19-11-17 7zM874 2435l18-11-18-6-18 10zM1430 2432l17-6-20-11-17 7zM911 2431l18-10-18-7-19 10zM1393 2429l17-7-20-10-17 7zM948 2428l18-10-18-8-19 11zM1356 2426l17-7-20-10-17 7zM985 2425l18-10-18-7-19 10zM1319 2423l17-7-19-10-18 8zM1450 2443l17-7-20-10-17 6zM892 2441l19-10-19-7-18 11zM1413 2439l17-7-20-10-17 7zM929 2438l19-10-19-7-18 10zM1375 2436l18-7-20-10-17 7zM966 2435l19-10-19-7-18 10zM1338 2433l18-7-20-10-17 7zM1004 2432l18-10-19-7-18 10zM1301 2431l18-8-20-9-17 7zM1041 2430l18-9-19-8-18 9zM1432 2449l18-6-20-11-17 7zM910 2448l19-10-18-7-19 10zM1395 2446l18-7-20-10-18 7zM948 2444l18-9-18-7-19 10zM1358 2443l17-7-19-10-18 7zM985 2441l19-9-19-7-19 10zM1321 2440l17-7-19-10-18 8zM1022 2439l19-9-19-8-18 10zM1284 2438l17-7-19-10-18 8zM1060 2437l18-9-19-7-18 9zM1246 2437l18-8-19-9-18 8zM1097 2436l18-8-19-8-18 8zM1209 2436l18-8-20-9-17 8zM1415 2456l17-7-19-10-18 7zM929 2454l19-10-19-6-19 10zM1378 2452l17-6-20-10-17 7zM966 2451l19-10-19-6-18 9zM1341 2450l17-7-20-10-17 7zM1004 2448l18-9-18-7-19 9zM1303 2447l18-7-20-9-17 7zM1041 2446l19-9-19-7-19 9zM1266 2446l18-8-20-9-18 8zM1079 2445l18-9-19-8-18 9zM1228 2444l18-7-19-9-18 8zM1116 2444l18-8-19-8-18 8zM1191 2444l18-8-19-9-18 8zM1154 2444l18-9-20-8-18 9zM1398 2462l17-6-20-10-17 6zM948 2460l18-9-18-7-19 10zM1361 2459l17-7-20-9-17 7zM985 2458l19-10-19-7-19 10zM1323 2456l18-6-20-10-18 7zM1023 2455l18-9-19-7-18 9zM1286 2454l17-7-19-9-18 8zM1060 2454l19-9-19-8-19 9zM1248 2453l18-7-20-9-18 7zM1098 2452l18-8-19-8-18 9zM1210 2452l18-8-19-8-18 8zM1135 2452l19-8-20-8-18 8zM1173 2452l18-8-19-9-18 9zM1381 2468l17-6-20-10-17 7zM966 2467l19-9-19-7-18 9zM1343 2466l18-7-20-9-18 6zM1004 2464l19-9-19-7-19 10zM1305 2463l18-7-20-9-17 7zM1042 2462l18-8-19-8-18 9zM1268 2462l18-8-20-8-18 7zM1079 2461l19-9-19-7-19 9zM1230 2460l18-7-20-9-18 8zM1117 2460l18-8-19-8-18 8zM1192 2460l18-8-19-8-18 8zM1155 2460l18-8-19-8-19 8zM1363 2475l18-7-20-9-18 7zM985 2473l19-9-19-6-19 9zM1325 2472l18-6-20-10-18 7zM1023 2471l19-9-19-7-19 9zM1288 2470l17-7-19-9-18 8zM1061 2469l18-8-19-7-18 8zM1250 2469l18-7-20-9-18 7zM1099 2468l18-8-19-8-19 9zM1212 2468l18-8-20-8-18 8zM1136 2467l19-7-20-8-18 8zM1174 2467l18-7-19-8-18 8zM1345 2481l18-6-20-9-18 6zM1004 2480l19-9-19-7-19 9zM1308 2479l17-7-20-9-17 7zM1042 2478l19-9-19-7-19 9zM1270 2477l18-7-20-8-18 7zM1080 2476l19-8-20-7-18 8zM1232 2476l18-7-20-9-18 8zM1118 2475l18-8-19-7-18 8zM1194 2475l18-7-20-8-18 7zM1156 2475l18-8-19-7-19 7zM985 2488l19-8-19-7-19 9zM1328 2487l17-6-20-9-17 7zM1023 2486l19-8-19-7-19 9zM1290 2485l18-6-20-9-18 7zM1061 2484l19-8-19-7-19 9zM1252 2484l18-7-20-8-18 7zM1099 2483l19-8-19-7-19 8zM1214 2483l18-7-20-8-18 7zM1138 2483l18-8-20-8-18 8zM1176 2482l18-7-20-8-18 8zM1005 2495l18-9-19-6-19 8zM1310 2494l18-7-20-8-18 6zM1043 2493l18-9-19-6-19 8zM1272 2492l18-7-20-8-18 7zM1081 2491l18-8-19-7-19 8zM1233 2491l19-7-20-8-18 7zM1119 2490l19-7-20-8-19 8zM1195 2490l19-7-20-8-18 7zM1157 2490l19-8-20-7-18 8zM1024 2501l19-8-20-7-18 9zM1292 2500l18-6-20-9-18 7zM1062 2499l19-8-20-7-18 9zM1253 2499l19-7-20-8-19 7zM1100 2498l19-8-20-7-18 8zM1215 2498l18-7-19-8-19 7zM1139 2497l18-7-19-7-19 7zM1177 2497l18-7-19-8-19 8zM1312 2508l18-6-20-8-18 6zM1043 2507l19-8-19-6-19 8zM1274 2506l18-6-20-8-19 7zM1082 2506l18-8-19-7-19 8zM1235 2505l18-6-20-8-18 7zM1120 2505l19-8-20-7-19 8zM1197 2504l18-6-20-8-18 7zM1158 2504l19-7-20-7-18 7zM1024 2515l19-8-19-6-19 8zM1294 2514l18-6-20-8-18 6zM1063 2513l19-7-20-7-19 8zM1255 2513l19-7-21-7-18 6zM1101 2512l19-7-20-7-18 8zM1217 2512l18-7-20-7-18 6zM1140 2511l18-7-19-7-19 8zM1178 2511l19-7-20-7-19 7zM1044 2521l19-8-20-6-19 8zM1276 2520l18-6-20-8-19 7zM1082 2519l19-7-19-6-19 7zM1237 2519l18-6-20-8-18 7zM1121 2518l19-7-20-6-19 7zM1198 2518l19-6-20-8-19 7zM1160 2518l18-7-20-7-18 7zM1025 2528l19-7-20-6-19 8zM1296 2528l18-6-20-8-18 6zM1063 2527l19-8-19-6-19 8zM1257 2526l19-6-21-7-18 6zM1102 2526l19-8-20-6-19 7zM1219 2525l18-6-20-7-19 6zM1141 2525l19-7-20-7-19 7zM1180 2525l18-7-20-7-18 7zM1317 2536l18-6-21-8-18 6zM1044 2534l19-7-19-6-19 7zM1278 2534l18-6-20-8-19 6zM1083 2533l19-7-20-7-19 8zM1239 2532l18-6-20-7-18 6zM1122 2532l19-7-20-7-19 8zM1200 2532l19-7-21-7-18 7zM1161 2531l19-6-20-7-19 7zM1025 2541l19-7-19-6-20 8zM1298 2541l19-5-21-8-18 6zM1064 2540l19-7-20-6-19 7zM1259 2539l19-5-21-8-18 6zM1103 2539l19-7-20-6-19 7zM1220 2538l19-6-20-7-19 7zM1142 2538l19-7-20-6-19 7zM1181 2538l19-6-20-7-19 6zM1006 2549l19-8-20-5-19 8zM1319 2548l18-5-20-7-19 5zM1045 2547l19-7-20-6-19 7zM1280 2546l18-5-20-7-19 5zM1084 2545l19-6-20-6-19 7zM1241 2545l18-6-20-7-19 6zM1123 2544l19-6-20-6-19 7zM1202 2544l18-6-20-6-19 6zM1162 2544l19-6-20-7-19 7zM986 2556l20-7-20-5-20 7zM1025 2554l20-7-20-6-19 8zM1301 2554l18-6-21-7-18 5zM1065 2552l19-7-20-5-19 7zM1261 2552l19-6-21-7-18 6zM1104 2551l19-7-20-5-19 6zM1222 2551l19-6-21-7-18 6zM1143 2550l19-6-20-6-19 6zM1183 2550l19-6-21-6-19 6zM1006 2561l19-7-19-5-20 7zM1045 2559l20-7-20-5-20 7zM1282 2559l19-5-21-8-19 6zM1085 2558l19-7-20-6-19 7zM1243 2557l18-5-20-7-19 6zM1124 2557l19-7-20-6-19 7zM1203 2557l19-6-20-7-19 6zM1164 2556l19-6-21-6-19 6zM986 2568l20-7-20-5-20 8zM1026 2566l19-7-20-5-19 7zM1065 2564l20-6-20-6-20 7zM1263 2564l19-5-21-7-18 5zM1105 2563l19-6-20-6-19 7zM1224 2563l19-6-21-6-19 6zM1145 2562l19-6-21-6-19 7zM1184 2562l19-5-20-7-19 6zM966 2575l20-7-20-4-19 7zM1006 2573l20-7-20-5-20 7zM1046 2571l19-7-20-5-19 7zM1086 2569l19-6-20-5-20 6zM1245 2569l18-5-20-7-19 6zM1125 2568l20-6-21-5-19 6zM1205 2568l19-5-21-6-19 5zM1165 2568l19-6-20-6-19 6zM946 2582l20-7-19-4-20 7zM986 2579l20-6-20-5-20 7zM1026 2577l20-6-20-5-20 7zM1066 2575l20-6-21-5-19 7zM1106 2574l19-6-20-5-19 6zM1226 2574l19-5-21-6-19 5zM1146 2574l19-6-20-6-20 6zM1186 2574l19-6-21-6-19 6z"/>
<path class="a" fill="#0098ff" d="M510 2344l18-15-16-6-19 15zM526 2350l18-15-16-6-18 15zM542 2356l19-15-17-6-18 15zM559 2362l18-15-16-6-19 15zM575 2368l19-15-17-6-18 15zM592 2373l19-14-17-6-19 15zM627 2365l19-13-17-7-18 14zM609 2379l18-14-16-6-19 14zM644 2372l19-14-17-6-19 13zM625 2385l19-13-17-7-18 14zM661 2378l19-14-17-6-19 14zM642 2391l19-13-17-6-19 13zM678 2384l19-13-17-7-19 14zM659 2397l19-13-17-6-19 13zM695 2390l19-13-17-6-19 13zM677 2403l18-13-17-6-19 13zM713 2396l18-12-17-7-19 13zM1619 2398l16-7-20-13-16 7zM1639 2410l16-6-20-13-16 7zM694 2409l19-13-18-6-18 13zM1602 2404l17-6-20-13-16 6zM730 2402l19-12-18-6-18 12zM1622 2416l17-6-20-12-17 6zM711 2415l19-13-17-6-19 13zM1586 2410l16-6-19-13-17 7zM748 2408l18-12-17-6-19 12zM1606 2422l16-6-20-12-16 6zM729 2421l19-13-18-6-19 13zM1570 2416l16-6-20-12-16 6zM765 2415l19-12-18-7-18 12zM710 2433l19-12-18-6-19 12zM1590 2428l16-6-20-12-16 6zM746 2426l19-11-17-7-19 13zM1553 2423l17-7-20-12-17 7zM783 2421l19-12-18-6-19 12zM727 2438l19-12-17-5-19 12zM1573 2434l17-6-20-12-17 7zM764 2432l19-11-18-6-19 11zM1537 2429l16-6-20-12-16 6zM801 2427l19-11-18-7-19 12zM745 2444l19-12-18-6-19 12zM1557 2440l16-6-20-11-16 6zM782 2438l19-11-18-6-19 11zM1520 2435l17-6-20-12-17 7zM819 2433l18-11-17-6-19 11zM763 2450l19-12-18-6-19 12zM1540 2446l17-6-20-11-17 6zM800 2444l19-11-18-6-19 11zM1503 2441l17-6-20-11-17 6zM837 2439l19-11-19-6-18 11zM1561 2457l16-5-20-12-17 6zM781 2455l19-11-18-6-19 12zM1524 2452l16-6-20-11-17 6zM818 2450l19-11-18-6-19 11zM1487 2447l16-6-20-11-16 6zM855 2445l19-10-18-7-19 11zM1544 2463l17-6-21-11-16 6zM799 2461l19-11-18-6-19 11zM1507 2458l17-6-21-11-16 6zM836 2456l19-11-18-6-19 11zM1470 2453l17-6-20-11-17 7zM873 2451l19-10-18-6-19 10zM1527 2469l17-6-20-11-17 6zM817 2466l19-10-18-6-19 11zM1490 2464l17-6-20-11-17 6zM854 2462l19-11-18-6-19 11zM1453 2459l17-6-20-10-18 6zM892 2458l18-10-18-7-19 10zM798 2477l19-11-18-5-20 11zM1510 2474l17-5-20-11-17 6zM835 2472l19-10-18-6-19 10zM1473 2470l17-6-20-11-17 6zM873 2468l19-10-19-7-19 11zM1435 2466l18-7-21-10-17 7zM910 2464l19-10-19-6-18 10zM816 2482l19-10-18-6-19 11zM1493 2480l17-6-20-10-17 6zM853 2478l20-10-19-6-19 10zM1456 2476l17-6-20-11-18 7zM891 2474l19-10-18-6-19 10zM1418 2472l17-6-20-10-17 6zM929 2470l19-10-19-6-19 10zM834 2488l19-10-18-6-19 10zM1476 2486l17-6-20-10-17 6zM872 2483l19-9-18-6-20 10zM1438 2481l18-5-21-10-17 6zM910 2479l19-9-19-6-19 10zM1401 2478l17-6-20-10-17 6zM947 2476l19-9-18-7-19 10zM1496 2496l18-6-21-10-17 6zM853 2493l19-10-19-5-19 10zM1459 2491l17-5-20-10-18 5zM891 2489l19-10-19-5-19 9zM1421 2487l17-6-20-9-17 6zM928 2485l19-9-18-6-19 9zM1383 2484l18-6-20-10-18 7zM966 2482l19-9-19-6-19 9zM833 2503l20-10-19-5-19 10zM1479 2501l17-5-20-10-17 5zM871 2499l20-10-19-6-19 10zM1441 2497l18-6-21-10-17 6zM909 2495l19-10-18-6-19 10zM1403 2493l18-6-20-9-18 6zM947 2491l19-9-19-6-19 9zM1366 2490l17-6-20-9-18 6zM852 2508l19-9-18-6-20 10zM1462 2506l17-5-20-10-18 6zM890 2504l19-9-18-6-20 10zM1424 2502l17-5-20-10-18 6zM928 2500l19-9-19-6-19 10zM1386 2499l17-6-20-9-17 6zM966 2497l19-9-19-6-19 9zM1348 2496l18-6-21-9-17 6zM871 2513l19-9-19-5-19 9zM1444 2512l18-6-21-9-17 5zM909 2509l19-9-19-5-19 9zM1406 2508l18-6-21-9-17 6zM947 2506l19-9-19-6-19 9zM1368 2505l18-6-20-9-18 6zM986 2503l19-8-20-7-19 9zM1330 2502l18-6-20-9-18 7zM851 2522l20-9-19-5-19 10zM890 2518l19-9-19-5-19 9zM1427 2517l17-5-20-10-18 6zM928 2515l19-9-19-6-19 9zM1389 2513l17-5-20-9-18 6zM966 2512l20-9-20-6-19 9zM1350 2511l18-6-20-9-18 6zM1005 2509l19-8-19-6-19 8zM870 2527l20-9-19-5-20 9zM909 2523l19-8-19-6-19 9zM1409 2522l18-5-21-9-17 5zM947 2520l19-8-19-6-19 9zM1371 2519l18-6-21-8-18 6zM986 2517l19-8-19-6-20 9zM1332 2516l18-5-20-9-18 6zM851 2536l19-9-19-5-19 10zM889 2532l20-9-19-5-20 9zM928 2528l19-8-19-5-19 8zM1391 2527l18-5-20-9-18 6zM966 2525l20-8-20-5-19 8zM1353 2525l18-6-21-8-18 5zM1005 2523l19-8-19-6-19 8zM1314 2522l18-6-20-8-18 6zM870 2541l19-9-19-5-19 9zM908 2537l20-9-19-5-20 9zM947 2534l19-9-19-5-19 8zM1373 2533l18-6-20-8-18 6zM986 2531l19-8-19-6-20 8zM1335 2530l18-5-21-9-18 6zM850 2550l20-9-19-5-20 9zM889 2545l19-8-19-5-19 9zM927 2542l20-8-19-6-20 9zM966 2539l20-8-20-6-19 9zM1355 2538l18-5-20-8-18 5zM1005 2536l20-8-20-5-19 8zM869 2554l20-9-19-4-20 9zM908 2550l19-8-19-5-19 8zM947 2547l19-8-19-5-20 8zM986 2544l19-8-19-5-20 8zM1337 2543l18-5-20-8-18 6zM849 2562l20-8-19-4-20 8zM888 2558l20-8-19-5-20 9zM927 2554l20-7-20-5-19 8zM966 2551l20-7-20-5-19 8zM829 2571l20-9-19-4-20 9zM868 2566l20-8-19-4-20 8zM907 2562l20-8-19-4-20 8zM947 2559l19-8-19-4-20 7zM848 2575l20-9-19-4-20 9zM888 2570l19-8-19-4-20 8zM927 2567l20-8-20-5-20 8zM966 2564l20-8-20-5-19 8zM828 2583l20-8-19-4-20 8zM868 2578l20-8-20-4-20 9zM907 2574l20-7-20-5-19 8zM947 2571l19-7-19-5-20 8zM808 2591l20-8-19-4-20 9zM847 2586l21-8-20-3-20 8zM887 2582l20-8-19-4-20 8zM927 2578l20-7-20-4-20 7zM827 2594l20-8-19-3-20 8zM867 2590l20-8-19-4-21 8zM907 2586l20-8-20-4-20 8z"/>
<path class="a" fill="#0094ff" d="M491 2359l19-15-17-6-18 16zM472 2374l19-15-16-5-19 15zM507 2365l19-15-16-6-19 15zM488 2380l19-15-16-6-19 15zM523 2370l19-14-16-6-19 15zM505 2385l18-15-16-5-19 15zM540 2376l19-14-17-6-19 14zM521 2391l19-15-17-6-18 15zM556 2382l19-14-16-6-19 14zM537 2396l19-14-16-6-19 15zM573 2387l19-14-17-5-19 14zM554 2402l19-15-17-5-19 14zM590 2393l19-14-17-6-19 14zM571 2407l19-14-17-6-19 15zM607 2399l18-14-16-6-19 14zM588 2412l19-13-17-6-19 14zM623 2404l19-13-17-6-18 14zM604 2418l19-14-16-5-19 13zM640 2410l19-13-17-6-19 13zM621 2423l19-13-17-6-19 14zM658 2416l19-13-18-6-19 13zM639 2429l19-13-18-6-19 13zM1659 2423l16-5-20-14-16 6zM675 2421l19-12-17-6-19 13zM1679 2436l16-5-20-13-16 5zM656 2434l19-13-17-5-19 13zM1642 2429l17-6-20-13-17 6zM692 2427l19-12-17-6-19 12zM637 2447l19-13-17-5-20 12zM1663 2442l16-6-20-13-17 6zM673 2439l19-12-17-6-19 13zM1626 2435l16-6-20-13-16 6zM654 2452l19-13-17-5-19 13zM1646 2447l17-5-21-13-16 6zM691 2445l19-12-18-6-19 12zM1610 2440l16-5-20-13-16 6zM671 2457l20-12-18-6-19 13zM1630 2453l16-6-20-12-16 5zM708 2450l19-12-17-5-19 12zM1594 2446l16-6-20-12-17 6zM689 2462l19-12-17-5-20 12zM1614 2458l16-5-20-13-16 6zM726 2455l19-11-18-6-19 12zM1577 2452l17-6-21-12-16 6zM707 2467l19-12-18-5-19 12zM1597 2463l17-5-20-12-17 6zM744 2461l19-11-18-6-19 11zM724 2472l20-11-18-6-19 12zM1581 2469l16-6-20-11-16 5zM761 2466l20-11-18-5-19 11zM705 2484l19-12-17-5-20 12zM742 2477l19-11-17-5-20 11zM1564 2474l17-5-20-12-17 6zM779 2472l20-11-18-6-20 11zM723 2488l19-11-18-5-19 12zM760 2482l19-10-18-6-19 11zM1547 2480l17-6-20-11-17 6zM741 2493l19-11-18-5-19 11zM778 2488l20-11-19-5-19 10zM1531 2485l16-5-20-11-17 5zM721 2504l20-11-18-5-20 12zM759 2498l19-10-18-6-19 11zM797 2493l19-11-18-5-20 11zM1514 2490l17-5-21-11-17 6zM739 2509l20-11-18-5-20 11zM777 2503l20-10-19-5-19 10zM815 2498l19-10-18-6-19 11zM758 2513l19-10-18-5-20 11zM795 2508l20-10-18-5-20 10zM738 2524l20-11-19-4-19 10zM776 2518l19-10-18-5-19 10zM814 2513l19-10-18-5-20 10zM756 2528l20-10-18-5-20 11zM794 2523l20-10-19-5-19 10zM833 2518l19-10-19-5-19 10zM775 2532l19-9-18-5-20 10zM813 2527l20-9-19-5-20 10zM755 2542l20-10-19-4-20 10zM793 2537l20-10-19-4-19 9zM832 2532l19-10-18-4-20 9zM773 2546l20-9-18-5-20 10zM812 2541l20-9-19-5-20 10zM753 2556l20-10-18-4-20 10zM792 2550l20-9-19-4-20 9zM831 2545l20-9-19-4-20 9zM772 2560l20-10-19-4-20 10zM811 2554l20-9-19-4-20 9zM752 2569l20-9-19-4-20 9zM791 2563l20-9-19-4-20 10zM830 2558l20-8-19-5-20 9zM732 2578l20-9-19-4-20 10zM771 2572l20-9-19-3-20 9zM810 2567l20-9-19-4-20 9zM751 2581l20-9-19-3-20 9zM790 2576l20-9-19-4-20 9zM730 2590l21-9-19-3-21 10zM769 2585l21-9-19-4-20 9zM809 2579l20-8-19-4-20 9zM710 2600l20-10-19-2-20 9zM749 2593l20-8-18-4-21 9zM789 2588l20-9-19-3-21 9zM729 2602l20-9-19-3-20 10zM768 2596l21-8-20-3-20 8zM787 2599l21-8-19-3-21 8z"/>
<path class="a" fill="#0090ff" d="M453 2390l19-16-16-5-19 16zM469 2395l19-15-16-6-19 16zM486 2400l19-15-17-5-19 15zM502 2405l19-14-16-6-19 15zM518 2410l19-14-16-5-19 14zM535 2416l19-14-17-6-19 14zM516 2430l19-14-17-6-19 15zM552 2421l19-14-17-5-19 14zM533 2435l19-14-17-5-19 14zM568 2426l20-14-17-5-19 14zM549 2440l19-14-16-5-19 14zM585 2431l19-13-16-6-20 14zM566 2444l19-13-17-5-19 14zM602 2436l19-13-17-5-19 13zM583 2449l19-13-17-5-19 13zM619 2441l20-12-18-6-19 13zM600 2454l19-13-17-5-19 13zM581 2467l19-13-17-5-19 14zM617 2459l20-12-18-6-19 13zM598 2472l19-13-17-5-19 13zM635 2464l19-12-17-5-20 12zM615 2476l20-12-18-5-19 13zM652 2469l19-12-17-5-19 12zM633 2481l19-12-17-5-20 12zM670 2474l19-12-18-5-19 12zM650 2486l20-12-18-5-19 12zM687 2479l20-12-18-5-19 12zM631 2498l19-12-17-5-20 12zM668 2490l19-11-17-5-20 12zM648 2502l20-12-18-4-19 12zM685 2495l20-11-18-5-19 11zM666 2506l19-11-17-5-20 12zM703 2500l20-12-18-4-20 11zM646 2518l20-12-18-4-19 12zM684 2511l19-11-18-5-19 11zM664 2522l20-11-18-5-20 12zM702 2515l19-11-18-4-19 11zM682 2526l20-11-18-4-20 11zM720 2519l19-10-18-5-19 11zM662 2537l20-11-18-4-20 11zM700 2530l20-11-18-4-20 11zM680 2541l20-11-18-4-20 11zM718 2534l20-10-18-5-20 11zM660 2551l20-10-18-4-20 11zM698 2545l20-11-18-4-20 11zM736 2538l20-10-18-4-20 10zM678 2555l20-10-18-4-20 10zM717 2548l19-10-18-4-20 11zM658 2565l20-10-18-4-20 11zM696 2558l21-10-19-3-20 10zM735 2552l20-10-19-4-19 10zM676 2569l20-11-18-3-20 10zM715 2562l20-10-18-4-21 10zM656 2579l20-10-18-4-20 11zM695 2572l20-10-19-4-20 11zM733 2565l20-9-18-4-20 10zM674 2582l21-10-19-3-20 10zM713 2575l20-10-18-3-20 10zM654 2592l20-10-18-3-20 10zM693 2585l20-10-18-3-21 10zM672 2594l21-9-19-3-20 10zM711 2588l21-10-19-3-20 10zM652 2604l20-10-18-2-21 10zM691 2597l20-9-18-3-21 9zM670 2606l21-9-19-3-20 10zM689 2609l21-9-19-3-21 9z"/>
<path class="a" fill="#008cff" d="M434 2405l19-15-16-5-19 15zM415 2420l19-15-16-5-19 16zM450 2410l19-15-16-5-19 15zM431 2425l19-15-16-5-19 15zM467 2415l19-15-17-5-19 15zM447 2430l20-15-17-5-19 15zM483 2420l19-15-16-5-19 15zM464 2434l19-14-16-5-20 15zM499 2425l19-15-16-5-19 15zM480 2439l19-14-16-5-19 14zM497 2444l19-14-17-5-19 14zM513 2449l20-14-17-5-19 14zM494 2462l19-13-16-5-20 14zM530 2453l19-13-16-5-20 14zM511 2467l19-14-17-4-19 13zM547 2458l19-14-17-4-19 13zM527 2471l20-13-17-5-19 14zM564 2463l19-14-17-5-19 14zM544 2476l20-13-17-5-20 13zM561 2480l20-13-17-4-20 13zM542 2493l19-13-17-4-19 13zM579 2485l19-13-17-5-20 13zM559 2497l20-12-18-5-19 13zM596 2489l19-13-17-4-19 13zM576 2501l20-12-17-4-20 12zM613 2493l20-12-18-5-19 13zM593 2506l20-13-17-4-20 12zM574 2518l19-12-17-5-20 13zM611 2510l20-12-18-5-20 13zM591 2522l20-12-18-4-19 12zM629 2514l19-12-17-4-20 12zM609 2525l20-11-18-4-20 12zM589 2537l20-12-18-3-20 12zM626 2529l20-11-17-4-20 11zM606 2541l20-12-17-4-20 12zM644 2533l20-11-18-4-20 11zM586 2552l20-11-17-4-20 12zM624 2544l20-11-18-4-20 12zM604 2556l20-12-18-3-20 11zM642 2548l20-11-18-4-20 11zM584 2567l20-11-18-4-20 12zM622 2559l20-11-18-4-20 12zM602 2570l20-11-18-3-20 11zM640 2562l20-11-18-3-20 11zM581 2581l21-11-18-3-20 11zM620 2573l20-11-18-3-20 11zM599 2584l21-11-18-3-21 11zM638 2576l20-11-18-3-20 11zM579 2594l20-10-18-3-20 11zM617 2586l21-10-18-3-21 11zM597 2597l20-11-18-2-20 10zM636 2589l20-10-18-3-21 10zM615 2599l21-10-19-3-20 11zM633 2602l21-10-18-3-21 10z"/>
<path class="a" fill="#0088ff" d="M396 2436l19-16-16-4-19 15zM412 2440l19-15-16-5-19 16zM428 2445l19-15-16-5-19 15zM445 2449l19-15-17-4-19 15zM425 2464l20-15-17-4-19 15zM461 2454l19-15-16-5-19 15zM442 2468l19-14-16-5-20 15zM477 2458l20-14-17-5-19 15zM458 2472l19-14-16-4-19 14zM475 2476l19-14-17-4-19 14zM491 2481l20-14-17-5-19 14zM472 2494l19-13-16-5-20 14zM508 2485l19-14-16-4-20 14zM488 2498l20-13-17-4-19 13zM525 2489l19-13-17-5-19 14zM505 2502l20-13-17-4-20 13zM522 2506l20-13-17-4-20 13zM502 2519l20-13-17-4-20 13zM539 2510l20-13-17-4-20 13zM519 2523l20-13-17-4-20 13zM556 2514l20-13-17-4-20 13zM537 2526l19-12-17-4-20 13zM517 2539l20-13-18-3-19 12zM554 2530l20-12-18-4-19 12zM534 2542l20-12-17-4-20 13zM571 2534l20-12-17-4-20 12zM514 2554l20-12-17-3-20 12zM551 2546l20-12-17-4-20 12zM531 2558l20-12-17-4-20 12zM569 2549l20-12-18-3-20 12zM549 2561l20-12-18-3-20 12zM528 2572l21-11-18-3-20 12zM566 2564l20-12-17-3-20 12zM546 2575l20-11-17-3-21 11zM525 2587l21-12-18-3-20 12zM564 2578l20-11-18-3-20 11zM543 2589l21-11-18-3-21 12zM561 2592l20-11-17-3-21 11z"/>
<path class="a" fill="#0084ff" d="M377 2451l19-15-16-5-19 16zM393 2455l19-15-16-4-19 15zM373 2471l20-16-16-4-20 16zM409 2460l19-15-16-5-19 15zM389 2475l20-15-16-5-20 16zM406 2478l19-14-16-4-20 15zM422 2482l20-14-17-4-19 14zM402 2497l20-15-16-4-20 15zM438 2486l20-14-16-4-20 14zM419 2501l19-15-16-4-20 15zM455 2490l20-14-17-4-20 14zM435 2504l20-14-17-4-19 15zM452 2508l20-14-17-4-20 14zM432 2522l20-14-17-4-19 14zM469 2512l19-14-16-4-20 14zM449 2525l20-13-17-4-20 14zM485 2515l20-13-17-4-19 14zM466 2529l19-14-16-3-20 13zM446 2542l20-13-17-4-20 14zM482 2532l20-13-17-4-19 14zM462 2545l20-13-16-3-20 13zM500 2535l19-12-17-4-20 13zM479 2548l21-13-18-3-20 13zM459 2561l20-13-17-3-20 13zM497 2551l20-12-17-4-21 13zM476 2564l21-13-18-3-20 13zM494 2567l20-13-17-3-21 13zM473 2579l21-12-18-3-20 13zM511 2570l20-12-17-4-20 13zM491 2582l20-12-17-3-21 12zM508 2584l20-12-17-2-20 12z"/>
<path class="a" fill="#0080ff" d="M357 2467l20-16-16-4-20 16zM338 2482l19-15-16-4-19 15zM354 2486l19-15-16-4-19 15zM370 2489l19-14-16-4-19 15zM350 2504l20-15-16-3-20 15zM386 2493l20-15-17-3-19 14zM366 2508l20-15-16-4-20 15zM383 2511l19-14-16-4-20 15zM399 2515l20-14-17-4-19 14zM379 2529l20-14-16-4-20 15zM416 2518l19-14-16-3-20 14zM396 2532l20-14-17-3-20 14zM412 2536l20-14-16-4-20 14zM392 2549l20-13-16-4-20 15zM429 2539l20-14-17-3-20 14zM409 2552l20-13-17-3-20 13zM426 2555l20-13-17-3-20 13zM405 2569l21-14-17-3-20 14zM442 2558l20-13-16-3-20 13zM422 2571l20-13-16-3-21 14zM439 2574l20-13-17-3-20 13zM456 2577l20-13-17-3-20 13z"/>
<path class="a" fill="#007cff" d="M318 2497l20-15-16-4-19 16zM334 2501l20-15-16-4-20 15zM315 2516l19-15-16-4-19 16zM331 2519l19-15-16-3-19 15zM347 2523l19-15-16-4-19 15zM327 2538l20-15-16-4-20 16zM363 2526l20-15-17-3-19 15zM343 2541l20-15-16-3-20 15zM359 2544l20-15-16-3-20 15zM376 2547l20-15-17-3-20 15zM356 2561l20-14-17-3-20 14zM372 2563l20-14-16-2-20 14zM389 2566l20-14-17-3-20 14z"/>
<path class="a" fill="#0078ff" d="M299 2513l19-16-15-3-20 16zM279 2528l20-15-16-3-20 15zM295 2532l20-16-16-3-20 15zM311 2535l20-16-16-3-20 16zM291 2550l20-15-16-3-20 15zM307 2552l20-14-16-3-20 15zM323 2555l20-14-16-3-20 14zM339 2558l20-14-16-3-20 14z"/>
<path class="a" fill="#0074ff" d="M259 2544l20-16-16-3-20 16zM275 2547l20-15-16-4-20 16z"/>
<path class="a" fill="#0094fc" d="M708 2611l21-9-19-2-21 9zM748 2605l20-9-19-3-20 9zM727 2613l21-8-19-3-21 9zM767 2607l20-8-19-3-20 9zM807 2602l20-8-19-3-21 8zM826 2605l21-8-20-3-20 8z"/>
<path class="a" fill="#0098fc" d="M847 2597l20-7-20-4-20 8zM886 2593l21-7-20-4-20 8zM926 2589l20-7-19-4-20 8zM866 2600l20-7-19-3-20 7zM906 2596l20-7-19-3-21 7zM946 2593l20-7-20-4-20 7z"/>
<path class="a" fill="#009cfc" d="M966 2586l20-7-20-4-20 7zM1006 2584l20-7-20-4-20 6zM1046 2582l20-7-20-4-20 6zM1086 2580l20-6-20-5-20 6zM1126 2579l20-5-21-6-19 6zM1207 2579l19-5-21-6-19 6zM1167 2579l19-5-21-6-19 6zM987 2590l19-6-20-5-20 7zM1027 2588l19-6-20-5-20 7zM1067 2586l19-6-20-5-20 7zM1107 2585l19-6-20-5-20 6zM1147 2584l20-5-21-5-20 5zM1187 2584l20-5-21-5-19 5z"/>
<path class="a" fill="#0094f8" d="M746 2616l21-9-19-2-21 8zM786 2610l21-8-20-3-20 8z"/>
<path class="b" fill="#0094f8" d="M765 2618l21-8-19-3-21 9zM805 2612l21-7-19-3-21 8zM846 2608l20-8-19-3-21 8zM865 2610l21-7-20-3-20 8z"/>
<path class="b" fill="#0098f8" d="M886 2603l20-7-20-3-20 7zM926 2600l20-7-20-4-20 7zM966 2596l21-6-21-4-20 7zM1007 2594l20-6-21-4-19 6zM906 2606l20-6-20-4-20 7zM946 2603l20-7-20-3-20 7zM987 2600l20-6-20-4-21 6zM1027 2598l20-6-20-4-20 6zM1068 2596l19-6-20-4-20 6zM1108 2595l20-5-21-5-20 5z"/>
<path class="a" fill="#009cf8" d="M1047 2592l20-6-21-4-19 6zM1087 2590l20-5-21-5-19 6zM1128 2590l19-6-21-5-19 6zM1168 2589l19-5-20-5-20 5z"/>
<path class="b" fill="#0094f4" d="M785 2620l20-8-19-2-21 8zM825 2615l21-7-20-3-21 7zM804 2622l21-7-20-3-20 8zM845 2617l20-7-19-2-21 7zM885 2613l21-7-20-3-21 7zM905 2616l21-7-20-3-21 7z"/>
<path class="b" fill="#009cf8" d="M1148 2594l20-5-21-5-19 6z"/>
<path class="b" fill="#0098f4" d="M926 2609l20-6-20-3-20 6zM966 2606l21-6-21-4-20 7zM1007 2604l20-6-20-4-20 6zM1048 2602l20-6-21-4-20 6zM1088 2600l20-5-21-5-19 6zM1129 2599l19-5-20-4-20 5zM946 2612l20-6-20-3-20 6zM987 2610l20-6-20-4-21 6zM1028 2607l20-5-21-4-20 6zM1068 2606l20-6-20-4-20 6zM1109 2604l20-5-21-4-20 5z"/>
<path class="b" fill="#0094f0" d="M824 2624l21-7-20-2-21 7zM865 2620l20-7-20-3-20 7zM844 2627l21-7-20-3-21 7zM885 2622l20-6-20-3-20 7zM926 2619l20-7-20-3-21 7z"/>
<path class="b" fill="#0098f0" d="M966 2615l21-5-21-4-20 6zM1007 2613l21-6-21-3-20 6zM1048 2611l20-5-20-4-20 5zM1089 2609l20-5-21-4-20 6zM1028 2616l20-5-20-4-21 6zM1069 2614l20-5-21-3-20 5z"/>
<path class="b" fill="#0094ec" d="M864 2629l21-7-20-2-21 7zM905 2625l21-6-21-3-20 6zM946 2621l20-6-20-3-20 7zM987 2618l20-5-20-3-21 5zM884 2631l21-6-20-3-21 7zM925 2627l21-6-20-2-21 6zM966 2624l21-6-21-3-20 6zM1008 2621l20-5-21-3-20 5z"/>
<path class="b" fill="#0098ec" d="M1049 2619l20-5-21-3-20 5z"/>
<path class="b" fill="#0094e8" d="M904 2633l21-6-20-2-21 6zM946 2629l20-5-20-3-21 6zM987 2627l21-6-21-3-21 6zM1029 2624l20-5-21-3-20 5zM925 2635l21-6-21-2-21 6zM966 2632l21-5-21-3-20 5zM1008 2629l21-5-21-3-21 6z"/>
<path class="b" fill="#0094e4" d="M946 2637l20-5-20-3-21 6zM987 2634l21-5-21-2-21 5zM967 2639l20-5-21-2-20 5z"/>
</g>
<circle class="dp" cx="483.2" cy="953.6" r="7.6"/>
<circle class="dp" cx="483.2" cy="1099.1" r="7.6"/>
<circle class="dp" cx="483.2" cy="1148.9" r="7.6"/>
<path class="dl" d="M483.2 953.6V1191.3"/>
<path class="tk" d="M483.1 1606h0M483.1 1606h0M571.4 1563.7h0M394.7 1563.7h0M659.7 1521.4h0M306.4 1521.4h0M748.1 1479.2h0M218 1479.2h0M836.4 1436.9h0M129.7 1436.9h0M124.1 1321.4h0M119.7 1228.8h0M115.3 1136.3h0M110.9 1043.8h0M106.4 951.3h0"/>
<path class="bx" d="M1184.2 956.2L1574 868.4L1963.9 956.1M1574 868.4L1573.8 1321.4M1963.9 956.1L1939.4 1458.5"/>
<path class="bx2" d="M1184.2 956.2L1208.4 1458.5"/>
<path class="fl" d="M1574 1633.4L1939.4 1458.5L1573.8 1321.4L1208.4 1458.5Z"/>
<path class="ct" stroke="#0074e6" d="M1937.4 1457.8L1933 1458.9L1928.6 1460L1922 1461.6L1917.5 1462.7L1913.1 1463.8L1906.5 1465.5L1902 1466.6L1897.6 1467.7L1891 1469.4L1886.5 1470.5L1882.1 1471.7L1875.4 1473.4L1871 1474.5L1866.4 1475.7L1859.9 1477.4L1855.4 1478.6L1849.8 1480.1L1844.3 1481.5L1839.9 1482.7L1833.2 1484.5L1828.7 1485.6L1824 1486.9L1817.6 1488.6L1813.1 1489.8L1806.4 1491.7L1802 1492.9L1797.3 1494.2L1790.8 1495.9L1786.3 1497.2L1779.6 1499L1775.1 1500.3L1769.5 1501.9L1763.9 1503.4L1759.4 1504.7L1752.6 1506.6L1748.1 1507.8L1741.4 1509.8L1736.9 1511.1L1730.5 1512.9L1725.6 1514.3L1720.5 1515.8L1714.3 1517.6L1709.7 1518.9L1702.9 1520.8L1698.4 1522.2L1691.6 1524.2L1687 1525.5L1680.2 1527.5L1675.6 1528.9L1668.8 1530.9L1664.2 1532.3L1657.3 1534.3L1652.7 1535.7L1645.8 1537.8L1641.2 1539.1L1634.3 1541.2L1629.7 1542.6L1622.8 1544.7L1618.2 1546.2L1611.2 1548.3L1606.6 1549.7L1599.7 1551.8L1595 1553.3L1588 1555.4L1583.4 1556.9L1576.4 1559.1L1571.7 1560.5L1564.6 1562.7L1560 1564.2L1552.9 1566.4L1547.7 1568.1L1541.1 1570.1L1534.5 1572.2L1529.3 1573.9L1522.2 1576.1L1517.4 1577.7L1510.3 1579.9L1505.5 1581.5L1498.4 1583.8L1493.3 1585.4L1486.4 1587.6L1481.6 1589.2M1711.5 1373.1L1705.9 1374.3L1700.7 1375.4L1696.4 1376.4L1691.3 1377.5L1685.5 1378.7L1681.1 1379.7L1676.7 1380.6L1670.1 1382L1665.7 1383L1661.3 1383.9L1655.2 1385.2L1650.2 1386.3L1645.7 1387.2L1640.9 1388.2L1634.5 1389.5L1630 1390.5L1625.4 1391.4L1619.7 1392.6L1614.1 1393.8L1609.5 1394.7L1604.9 1395.6L1598.7 1396.9L1593.4 1398L1588.8 1398.9L1584.1 1399.8L1577.8 1401.1L1572.5 1402.1L1567.8 1403.1L1563.1 1404L1557.2 1405.2L1551.3 1406.3L1546.6 1407.2L1541.8 1408.2L1536.6 1409.2L1529.9 1410.5L1525.1 1411.4L1520.3 1412.3L1515.5 1413.2L1509.4 1414.4L1503.4 1415.5L1498.6 1416.5L1493.7 1417.4L1488.8 1418.3L1482.4 1419.5L1476.6 1420.6L1471.6 1421.5L1466.7 1422.4L1461.8 1423.3L1455.6 1424.5L1449.4 1425.6L1444.4 1426.5L1439.4 1427.5L1434.4 1428.4L1428.9 1429.4L1422.3 1430.6L1416.7 1431.6L1411.7 1432.5L1406.6 1433.4L1401.5 1434.3L1395.8 1435.3L1389.2 1436.5L1383.7 1437.5L1378.5 1438.4L1373.4 1439.3L1368.2 1440.2L1362.8 1441.2L1356.2 1442.3L1350.1 1443.4L1344.9 1444.3L1339.7 1445.2L1334.4 1446.1L1329.2 1447L1323.3 1448L1316.8 1449.1L1310.8 1450.2L1305.5 1451.1L1300.2 1452L1294.9 1452.9L1289.6 1453.8L1284 1454.7L1277.5 1455.8L1271 1456.9L1265.5 1457.9L1260.1 1458.8L1254.7 1459.7L1249.3 1460.6L1243.9 1461.5L1238.3 1462.4L1231.8 1463.5L1225.2 1464.6L1222.2 1465.1"/>
<path class="ct" stroke="#1a56e0" d="M1879.8 1436.2L1875.4 1437.2L1869.3 1438.7L1864.4 1439.9L1860 1440.9L1853.8 1442.5L1849.1 1443.6L1844.8 1444.7L1838.2 1446.4L1833.9 1447.5L1829.5 1448.6L1823 1450.3L1818.7 1451.4L1812.6 1453L1807.8 1454.3L1803.5 1455.4L1797 1457.2L1792.7 1458.3L1786.2 1460.1L1781.9 1461.3L1776.3 1462.8L1771.1 1464.3L1766.7 1465.5L1760.4 1467.3L1756.1 1468.5L1749.6 1470.4L1745.3 1471.6L1738.9 1473.5L1734.6 1474.7L1728.1 1476.6L1723.8 1477.9L1717.4 1479.8L1713.1 1481.1L1706.6 1483L1702.3 1484.3L1695.9 1486.3L1691.6 1487.6L1685.1 1489.6L1680 1491.2L1674.4 1492.9L1667.9 1494.9L1663.6 1496.3L1657.1 1498.3L1652.8 1499.6L1646.3 1501.7L1641.9 1503.1L1635.5 1505.2L1629 1507.2L1624.7 1508.6L1618.1 1510.7L1613.8 1512.2L1607.3 1514.3L1600.7 1516.4L1596.4 1517.8L1589.8 1520L1585.2 1521.5L1578.8 1523.6L1572.3 1525.8L1567.9 1527.3L1561.3 1529.5L1554.6 1531.7L1550.2 1533.2L1543.6 1535.4L1537.8 1537.3L1532.5 1539.2L1525.8 1541.4L1521 1543L1514.6 1545.2L1507.9 1547.5L1503.4 1549.1L1496.6 1551.4L1489.9 1553.7L1485.4 1555.3L1478.6 1557.6L1471.8 1560L1467.2 1561.5L1460.4 1563.9L1453.5 1566.3L1448.5 1568L1442 1570.3M1763.4 1392.5L1759 1393.5L1753.1 1394.8L1748.1 1395.9L1743.8 1396.9L1738.5 1398L1732.7 1399.3L1728.3 1400.3L1723.8 1401.2L1717.2 1402.6L1712.5 1403.6L1708 1404.6L1703.3 1405.6L1696.6 1406.9L1692 1407.9L1687.4 1408.8L1682.8 1409.7L1676.1 1411.1L1671.1 1412.1L1666.5 1413L1661.8 1413.9L1656.1 1415L1649.9 1416.2L1645.2 1417.1L1640.4 1418.1L1635.6 1419L1629.9 1420L1623.5 1421.2L1618.7 1422.1L1613.8 1423L1608.9 1423.9L1604 1424.8L1597.8 1426L1591.7 1427.1L1586.8 1428L1581.8 1428.9L1576.9 1429.7L1571.9 1430.6L1566.3 1431.6L1560 1432.7L1554.3 1433.7L1549.2 1434.6L1544.2 1435.5L1539.1 1436.3L1534 1437.2L1528.9 1438.1L1522.8 1439.1L1516.6 1440.2L1510.9 1441.1L1505.7 1442L1500.6 1442.9L1495.4 1443.7L1490.2 1444.6L1484.9 1445.5L1479.7 1446.3L1473.7 1447.3L1467.6 1448.3L1461.5 1449.3L1456 1450.2L1450.7 1451.1L1445.4 1451.9L1440.1 1452.8L1434.8 1453.6L1429.5 1454.5L1424.1 1455.3L1418.7 1456.2L1412.9 1457.1L1406.9 1458.1L1400.8 1459L1394.8 1460L1389.1 1460.9L1383.6 1461.7L1378.2 1462.6L1372.7 1463.4L1367.3 1464.3L1361.8 1465.1L1356.3 1466L1350.8 1466.8L1345.3 1467.7L1339.8 1468.5L1334.3 1469.4L1328.3 1470.3L1322.2 1471.2L1316.2 1472.1L1310.1 1473L1304.1 1474L1298.1 1474.9L1292.5 1475.7L1286.9 1476.6L1281.3 1477.4L1275.7 1478.3L1270 1479.1L1264.4 1480L1258.7 1480.8L1255.9 1481.2"/>
<path class="ct" stroke="#2438dc" d="M1315.2 1509.6L1319.8 1509.4L1325.8 1509.2L1332.2 1509L1336.6 1508.9L1344 1508.9L1347.8 1508.9L1355.1 1509L1359.8 1509.1L1365.5 1509.4L1371.9 1509.9L1377.8 1510.6L1383.1 1511.5L1387.7 1512.8L1393 1515.3L1395.2 1517.6L1395.9 1520.5L1395.5 1522.3L1393.9 1525.2L1391.8 1527.8L1389.3 1530.3L1386.5 1532.6L1382.2 1535.9L1378.8 1538.2L1377.2 1539.2"/>
<path class="fe" d="M1208.4 1458.5L1574 1633.4L1939.4 1458.5"/>
<g class="sf" transform="scale(.5)">
<path class="a" fill="#00ff3c" d="M3148 2153l17-10-17-22-17 10z"/>
<path class="a" fill="#00ff50" d="M3165 2175l17-10-17-22-17 10z"/>
<path class="a" fill="#00ff40" d="M3131 2163l17-10-17-22-17 10z"/>
<path class="a" fill="#00ff64" d="M3182 2196l17-10-17-21-17 10zM3027 2224l18-10-17-22-18 10z"/>
<path class="a" fill="#00ff54" d="M3148 2185l17-10-17-22-17 10zM3079 2193l18-10-17-22-18 11z"/>
<path class="a" fill="#00ff48" d="M3114 2173l17-10-17-22-17 10z"/>
<path class="a" fill="#00ff74" d="M3199 2217l17-10-17-21-17 10zM3131 2225l17-9-17-21-17 10zM2974 2254l18-10-17-21-18 10z"/>
<path class="a" fill="#00ff68" d="M3165 2206l17-10-17-21-17 10zM3096 2215l18-10-17-22-18 10z"/>
<path class="a" fill="#00ff5c" d="M3131 2195l17-10-17-22-17 10z"/>
<path class="a" fill="#00ff88" d="M3216 2237l17-10-17-20-17 10zM3061 2265l18-10-17-20-18 10zM2991 2275l18-10-17-21-18 10zM2920 2285l18-10-17-21-18 10z"/>
<path class="a" fill="#00ff4c" d="M3097 2183l17-10-17-22-17 10z"/>
<path class="a" fill="#00ff7c" d="M3182 2226l17-9-17-21-17 10zM3027 2255l17-10-17-21-17 10zM2956 2264l18-10-17-21-18 11z"/>
<path class="a" fill="#00ff6c" d="M3148 2216l17-10-17-21-17 10zM3079 2225l17-10-17-22-17 10zM3010 2234l17-10-17-22-17 11z"/>
<path class="a" fill="#00ff98" d="M3233 2256l17-9-17-20-17 10zM3165 2265l17-9-17-20-17 10zM3008 2295l18-10-17-20-18 10zM2937 2305l18-10-17-20-18 10zM2866 2316l18-10-17-21-18 11z"/>
<path class="a" fill="#00ff60" d="M3114 2205l17-10-17-22-17 10zM3045 2214l17-11-17-21-17 10z"/>
<path class="a" fill="#00ff8c" d="M3199 2246l17-9-17-20-17 9zM3131 2255l17-9-17-21-18 10zM2973 2285l18-10-17-21-18 10zM2902 2295l18-10-17-21-18 11z"/>
<path class="a" fill="#00ff80" d="M3165 2236l17-10-17-20-17 10zM3096 2245l17-10-17-20-17 10zM2938 2275l18-11-17-20-18 10z"/>
<path class="a" fill="#00ffa8" d="M3250 2275l17-9-17-19-17 9zM3182 2284l17-9-17-19-17 9zM3026 2314l17-10-17-19-18 10zM2955 2325l18-10-18-20-18 10zM2883 2336l18-10-17-20-18 10zM2810 2347l19-10-17-20-19 10z"/>
<path class="a" fill="#00ff9c" d="M3216 2266l17-10-17-19-17 9zM3148 2275l17-10-17-19-17 9zM3078 2285l18-10-17-20-18 10zM2919 2315l18-10-17-20-18 10zM2847 2326l19-10-17-20-19 10z"/>
<path class="a" fill="#00ff90" d="M3182 2256l17-10-17-20-17 10zM3113 2265l18-10-18-20-17 10zM3044 2275l17-10-17-20-17 10z"/>
<path class="a" fill="#00ff58" d="M3062 2203l17-10-17-21-17 10z"/>
<path class="a" fill="#00ff84" d="M3148 2246l17-10-17-20-17 9zM3079 2255l17-10-17-20-17 10zM3009 2265l18-10-17-21-18 10z"/>
<path class="a" fill="#00ffb8" d="M3268 2293l17-9-18-18-17 9zM3200 2303l17-9-18-19-17 9zM3043 2333l18-10-18-19-17 10zM2972 2344l18-10-17-19-18 10zM2900 2355l18-10-17-19-18 10zM2827 2367l19-11-17-19-19 10zM2754 2379l19-11-17-19-19 10z"/>
<path class="a" fill="#00ffac" d="M3234 2284l16-9-17-19-17 10zM3165 2294l17-10-17-19-17 10zM3096 2304l17-10-17-19-18 10zM2864 2346l19-10-17-20-19 10zM2791 2358l19-11-17-20-19 11z"/>
<path class="a" fill="#00ff78" d="M3113 2235l18-10-17-20-18 10zM3044 2245l18-10-17-21-18 10z"/>
<path class="a" fill="#00ffa4" d="M3199 2275l17-9-17-20-17 10zM3113 2294l18-10-18-19-17 10zM3043 2304l18-10-17-19-18 10zM2973 2315l18-10-18-20-18 10zM2901 2326l18-11-17-20-18 11zM2829 2337l18-11-17-20-18 11z"/>
<path class="a" fill="#00ffc8" d="M3285 2311l17-9-17-18-17 9zM3217 2321l17-9-17-18-17 9zM3130 2340l18-9-18-18-17 9zM3060 2351l18-9-17-19-18 10zM2989 2362l18-10-17-18-18 10zM2917 2374l18-10-17-19-18 10zM2844 2386l19-11-17-19-19 11zM2771 2398l19-10-17-20-19 11zM2696 2411l20-11-17-19-20 10z"/>
<path class="a" fill="#00ffbc" d="M3251 2302l17-9-18-18-16 9zM3182 2312l18-9-18-19-17 10zM3113 2322l17-9-17-19-17 10zM2954 2354l18-10-17-19-19 10zM2882 2365l18-10-17-19-19 10zM2809 2377l18-10-17-20-19 11zM2735 2390l19-11-17-20-19 11z"/>
<path class="a" fill="#00ffb4" d="M3217 2294l17-10-18-18-17 9zM3130 2313l18-10-17-19-18 10zM3061 2323l17-10-17-19-18 10zM2990 2334l18-10-17-19-18 10zM2918 2345l18-10-17-20-18 11zM2846 2356l18-10-17-20-18 11zM2773 2368l18-10-17-20-18 11z"/>
<path class="a" fill="#00ff70" d="M3062 2235l17-10-17-22-17 11zM2992 2244l18-10-17-21-18 10z"/>
<path class="a" fill="#00ffd4" d="M3303 2328l17-9-18-17-17 9zM3234 2338l17-9-17-17-17 9zM3165 2349l18-10-18-17-17 9zM3095 2359l18-9-18-18-17 10zM2733 2419l19-11-17-18-19 10zM2658 2432l19-11-17-19-19 11z"/>
<path class="a" fill="#00ffcc" d="M3268 2320l17-9-17-18-17 9zM3200 2330l17-9-17-18-18 9zM3113 2350l17-10-17-18-18 10zM3042 2361l18-10-17-18-18 10zM2971 2372l18-10-17-18-18 10zM2899 2384l18-10-17-19-18 10zM2826 2396l18-10-17-19-18 10zM2752 2408l19-10-17-19-19 11zM2677 2421l19-10-17-20-19 11z"/>
<path class="a" fill="#00ffc0" d="M3234 2312l17-10-17-18-17 10zM3165 2322l17-10-17-18-17 9zM3095 2332l18-10-17-18-18 9zM3025 2343l18-10-17-19-18 10z"/>
<path class="a" fill="#00ffe4" d="M3320 2345l17-9-17-17-17 9zM3235 2364l17-9-18-17-17 9zM3165 2375l18-9-18-17-17 9zM3095 2386l18-9-18-18-17 10zM3024 2397l18-9-18-18-18 10zM2952 2409l18-9-17-18-19 10zM2879 2422l19-10-18-18-18 10zM2805 2434l19-10-17-18-19 11zM2731 2448l19-11-17-18-19 11zM2599 2464l19-10-17-19-19 11z"/>
<path class="a" fill="#00ffd8" d="M3286 2337l17-9-18-17-17 9zM3217 2347l17-9-17-17-17 9zM3148 2358l17-9-17-18-18 9zM3078 2369l17-10-17-17-18 9zM3006 2380l18-10-17-18-18 10zM2934 2392l19-10-18-18-18 10zM2862 2404l18-10-17-19-19 11zM2788 2417l19-11-17-18-19 10zM2714 2430l19-11-17-19-20 11zM2638 2443l20-11-17-19-20 11z"/>
<path class="a" fill="#00ffa0" d="M3131 2284l17-9-17-20-18 10zM3061 2294l17-9-17-20-17 10zM2991 2305l17-10-17-20-18 10z"/>
<path class="a" fill="#00ffd0" d="M3251 2329l17-9-17-18-17 10zM3183 2339l17-9-18-18-17 10zM3024 2370l18-9-17-18-18 9zM2953 2382l18-10-17-18-19 10zM2880 2394l19-10-17-19-19 10zM2807 2406l19-10-17-19-19 11z"/>
<path class="a" fill="#00ff94" d="M3096 2275l17-10-17-20-17 10zM3026 2285l18-10-17-20-18 10zM2955 2295l18-10-17-21-18 11zM2884 2306l18-11-17-20-18 10z"/>
<path class="a" fill="#00fff0" d="M3338 2361l17-9-18-16-17 9zM3270 2371l17-9-18-16-17 9zM3183 2391l17-9-17-16-18 9zM3112 2402l18-9-17-16-18 9zM3041 2414l18-9-17-17-18 9zM2969 2426l19-9-18-17-18 9zM2896 2439l19-10-17-17-19 10zM2823 2452l18-10-17-18-19 10zM2692 2469l19-11-17-18-19 11zM2616 2483l20-11-18-18-19 10zM2539 2497l20-11-17-18-20 11z"/>
<path class="a" fill="#00ffe8" d="M3304 2354l16-9-17-17-17 9zM3218 2373l17-9-18-17-17 9zM3148 2384l17-9-17-17-18 9zM3077 2395l18-9-17-17-18 9zM3006 2407l18-10-18-17-18 10zM2933 2419l19-10-18-17-18 10zM2860 2432l19-10-17-18-19 10zM2786 2445l19-11-17-17-19 10zM2655 2461l20-10-17-19-20 11zM2579 2475l20-11-17-18-20 11z"/>
<path class="a" fill="#00ffb0" d="M3148 2303l17-9-17-19-17 9zM3078 2313l18-9-18-19-17 9zM3008 2324l18-10-18-19-17 10zM2936 2335l19-10-18-20-18 10z"/>
<path class="a" fill="#00ffe0" d="M3269 2346l17-9-18-17-17 9zM3252 2355l17-9-18-17-17 9zM3183 2366l17-10-17-17-18 10zM3113 2377l17-10-17-17-18 9zM3042 2388l18-10-18-17-18 9zM2970 2400l18-10-17-18-18 10zM2898 2412l18-10-17-18-19 10zM2824 2424l19-10-17-18-19 10zM2750 2437l19-10-17-19-19 11zM2675 2451l19-11-17-19-19 11z"/>
<path class="a" fill="#00fffc" d="M3356 2376l17-8-18-16-17 9zM3287 2387l17-9-17-16-17 9zM3201 2407l17-9-18-16-17 9zM3130 2418l18-9-18-16-18 9zM3059 2430l18-9-18-16-18 9zM2987 2443l18-10-17-16-19 9zM2914 2455l18-9-17-17-19 10zM2840 2469l19-10-18-17-18 10zM2784 2472l20-10-18-17-19 10zM2709 2486l20-10-18-18-19 11zM2633 2500l20-10-17-18-20 11zM2576 2504l20-11-17-18-20 11zM2498 2519l21-11-17-18-21 11z"/>
<path class="a" fill="#00fff4" d="M3321 2370l17-9-18-16-16 9zM3252 2380l18-9-18-16-17 9zM3165 2400l18-9-18-16-17 9zM3095 2412l17-10-17-16-18 9zM3023 2424l18-10-17-17-18 10zM2951 2436l18-10-17-17-19 10zM2878 2449l18-10-17-17-19 10zM2748 2465l19-10-17-18-19 11zM2672 2479l20-10-17-18-20 10zM2596 2493l20-10-17-19-20 11z"/>
<path class="a" fill="#00ffec" d="M3287 2362l17-8-18-17-17 9zM3200 2382l18-9-18-17-17 10zM3130 2393l18-9-18-17-17 10zM3059 2405l18-10-17-17-18 10zM2988 2417l18-10-18-17-18 10zM2915 2429l18-10-17-17-18 10zM2841 2442l19-10-17-18-19 10zM2767 2455l19-10-17-18-19 10zM2711 2458l20-10-17-18-20 10zM2636 2472l19-11-17-18-20 11zM2559 2486l20-11-17-18-20 11z"/>
<path class="a" fill="#00f8ff" d="M3374 2391l16-8-17-15-17 8zM3305 2402l17-9-18-15-17 9zM3236 2413l17-9-18-15-17 9zM3165 2425l18-9-18-16-17 9zM3094 2437l18-10-17-15-18 9zM3023 2449l18-9-18-16-18 9zM2950 2462l18-10-17-16-19 10zM2876 2475l19-10-17-16-19 10zM2802 2489l19-10-17-17-20 10zM2726 2503l20-11-17-16-20 10zM2670 2507l20-11-18-17-19 11zM2593 2521l20-10-17-18-20 11zM2457 2541l21-11-17-18-21 11z"/>
<path class="a" fill="#00ffff" d="M3339 2385l17-9-18-15-17 9zM3270 2396l17-9-17-16-18 9zM2765 2482l19-10-17-17-19 10zM2556 2515l20-11-17-18-20 11z"/>
<path class="a" fill="#00ffc4" d="M3148 2331l17-9-17-19-18 10zM3078 2342l17-10-17-19-17 10zM3007 2352l18-9-17-19-18 10zM2935 2364l19-10-18-19-18 10zM2863 2375l19-10-18-19-18 10zM2790 2388l19-11-18-19-18 10zM2716 2400l19-10-17-20-19 11z"/>
<path class="a" fill="#00fff8" d="M3304 2378l17-8-17-16-17 8zM3235 2389l17-9-17-16-17 9zM3218 2398l17-9-17-16-18 9zM3148 2409l17-9-17-16-18 9zM3077 2421l18-9-18-17-18 10zM3005 2433l18-9-17-17-18 10zM2932 2446l19-10-18-17-18 10zM2859 2459l19-10-18-17-19 10zM2804 2462l19-10-18-18-19 11zM2729 2476l19-11-17-17-20 10zM2653 2490l19-11-17-18-19 11zM2519 2508l20-11-17-18-20 11z"/>
<path class="a" fill="#00ffdc" d="M3200 2356l17-9-17-17-17 9zM3130 2367l18-9-18-18-17 10zM3060 2378l18-9-18-18-18 10zM2988 2390l18-10-17-18-18 10zM2916 2402l18-10-17-18-18 10zM2843 2414l19-10-18-18-18 10zM2769 2427l19-10-17-19-19 10zM2694 2440l20-10-18-19-19 10zM2618 2454l20-11-17-19-20 11z"/>
<path class="a" fill="#00ecff" d="M3392 2406l16-9-18-14-16 8zM3323 2417l17-9-18-15-17 9zM3306 2425l17-8-18-15-17 9zM3236 2437l18-9-18-15-18 9zM3166 2448l17-8-18-15-17 9zM3094 2461l18-9-18-15-18 9zM3022 2474l18-10-17-15-19 9zM2949 2487l18-10-17-15-19 9zM2894 2491l19-10-18-16-19 10zM2819 2504l19-9-17-16-19 10zM2744 2519l19-10-17-17-20 11zM2687 2523l20-10-17-17-20 11zM2610 2538l20-11-17-16-20 10zM2474 2558l21-11-17-17-21 11z"/>
<path class="a" fill="#00f4ff" d="M3357 2400l17-9-18-15-17 9zM3288 2411l17-9-18-15-17 9zM3218 2422l18-9-18-15-17 9zM3148 2434l17-9-17-16-18 9zM3130 2443l18-9-18-16-18 9zM3076 2446l18-9-17-16-18 9zM3058 2455l18-9-17-16-18 10zM3004 2458l19-9-18-16-18 10zM2931 2471l19-9-18-16-18 9zM2857 2485l19-10-17-16-19 10zM2783 2499l19-10-18-17-19 10zM2650 2517l20-10-17-17-20 10zM2573 2532l20-11-17-17-20 11zM2515 2536l21-10-17-18-21 11zM2437 2552l20-11-17-18-20 11z"/>
<path class="a" fill="#00fcff" d="M3322 2393l17-8-18-15-17 8zM3253 2404l17-8-18-16-17 9zM3183 2416l18-9-18-16-18 9zM3112 2427l18-9-18-16-17 10zM3041 2440l18-10-18-16-18 10zM2968 2452l19-9-18-17-18 10zM2895 2465l19-10-18-16-18 10zM2821 2479l19-10-17-17-19 10zM2746 2492l19-10-17-17-19 11zM2690 2496l19-10-17-17-20 10zM2613 2511l20-11-17-17-20 10zM2536 2526l20-11-17-18-20 11zM2478 2530l20-11-17-18-20 11z"/>
<path class="a" fill="#00e4ff" d="M3410 2419l16-8-18-14-16 9zM3341 2430l17-8-18-14-17 9zM3271 2442l18-9-18-14-17 9zM3201 2454l18-9-18-14-18 9zM3130 2466l18-9-18-14-18 9zM3058 2479l18-9-18-15-18 9zM2985 2492l19-9-18-15-19 9zM2911 2506l19-10-17-15-19 10zM2856 2510l19-10-18-15-19 10zM2781 2524l19-10-17-15-20 10zM2705 2539l19-10-17-16-20 10zM2648 2544l19-11-17-16-20 10zM2570 2559l20-11-17-16-20 11zM2512 2564l20-11-17-17-20 11zM2433 2580l21-11-17-17-21 11z"/>
<path class="a" fill="#00e8ff" d="M3375 2414l17-8-18-15-17 9zM3358 2422l17-8-18-14-17 8zM3289 2433l17-8-18-14-17 8zM3219 2445l17-8-18-15-17 9zM3148 2457l18-9-18-14-18 9zM3076 2470l18-9-18-15-18 9zM3004 2483l18-9-18-16-18 10zM2930 2496l19-9-18-16-18 10zM2875 2500l19-9-18-16-19 10zM2800 2514l19-10-17-15-19 10zM2724 2529l20-10-18-16-19 10zM2667 2533l20-10-17-16-20 10zM2590 2548l20-10-17-17-20 11zM2532 2553l21-10-17-17-21 10zM2454 2569l20-11-17-17-20 11z"/>
<path class="a" fill="#00f0ff" d="M3340 2408l17-8-18-15-17 8zM3271 2419l17-8-18-15-17 8zM3254 2428l17-9-18-15-17 9zM3201 2431l17-9-17-15-18 9zM3183 2440l18-9-18-15-18 9zM3112 2452l18-9-18-16-18 10zM3040 2464l18-9-17-15-18 9zM2986 2468l18-10-17-15-19 9zM2967 2477l19-9-18-16-18 10zM2913 2481l18-10-17-16-19 10zM2838 2495l19-10-17-16-19 10zM2763 2509l20-10-18-17-19 10zM2707 2513l19-10-17-17-19 10zM2630 2527l20-10-17-17-20 11zM2553 2543l20-11-17-17-20 11zM2495 2547l20-11-17-17-20 11zM2416 2563l21-11-17-18-21 12z"/>
<path class="a" fill="#00d8ff" d="M3428 2432l16-8-18-13-16 8zM3411 2440l17-8-18-13-17 8zM3342 2452l17-8-18-14-17 9zM3272 2464l17-8-18-14-17 9zM3201 2476l18-8-18-14-18 9zM3130 2489l18-9-18-14-18 9zM3057 2502l19-9-18-14-18 9zM2984 2516l19-10-18-14-19 9zM2929 2520l19-9-18-15-19 10zM2910 2530l19-10-18-14-19 9zM2854 2534l19-9-17-15-19 10zM2779 2549l19-10-17-15-20 10zM2722 2554l20-10-18-15-19 10zM2645 2570l20-11-17-15-20 10zM2587 2575l20-11-17-16-20 11zM2509 2591l20-11-17-16-21 11zM2450 2597l21-11-17-17-21 11z"/>
<path class="a" fill="#00e0ff" d="M3393 2427l17-8-18-13-17 8zM3324 2439l17-9-18-13-17 8zM3254 2451l17-9-17-14-18 9zM3237 2459l17-8-18-14-17 8zM3183 2463l18-9-18-14-17 8zM3166 2471l17-8-17-15-18 9zM3112 2475l18-9-18-14-18 9zM3094 2484l18-9-18-14-18 9zM3040 2488l18-9-18-15-18 10zM2966 2501l19-9-18-15-18 10zM2892 2515l19-9-17-15-19 9zM2837 2520l19-10-18-15-19 9zM2817 2529l20-9-18-16-19 10zM2761 2534l20-10-18-15-19 10zM2685 2549l20-10-18-16-20 10zM2628 2554l20-10-18-17-20 11zM2550 2570l20-11-17-16-21 10zM2491 2575l21-11-17-17-21 11z"/>
<path class="a" fill="#00d0ff" d="M3446 2445l17-8-19-13-16 8zM3429 2453l17-8-18-13-17 8zM3360 2465l17-8-18-13-17 8zM3290 2477l18-9-19-12-17 8zM3219 2489l18-8-18-13-18 8zM3148 2502l18-9-18-13-18 9zM3075 2515l19-8-18-14-19 9zM3021 2520l18-9-18-14-18 9zM3002 2529l19-9-18-14-19 10zM2947 2534l18-9-17-14-19 9zM2872 2549l19-10-18-14-19 9zM2816 2554l19-10-18-15-19 10zM2739 2569l20-10-17-15-20 10zM2682 2574l20-10-17-15-20 10zM2605 2590l20-10-18-16-20 11zM2546 2596l21-11-17-15-21 10zM2488 2602l21-11-18-16-20 11z"/>
<path class="a" fill="#00dcff" d="M3376 2436l17-9-18-13-17 8zM3359 2444l17-8-18-14-17 8zM3307 2447l17-8-18-14-17 8zM3289 2456l18-9-18-14-18 9zM3219 2468l18-9-18-14-18 9zM3148 2480l18-9-18-14-18 9zM3076 2493l18-9-18-14-18 9zM3021 2497l19-9-18-14-18 9zM3003 2506l18-9-17-14-19 9zM2948 2511l18-10-17-14-19 9zM2873 2525l19-10-17-15-19 10zM2798 2539l19-10-17-15-19 10zM2742 2544l19-10-17-15-20 10zM2665 2559l20-10-18-16-19 11zM2607 2564l21-10-18-16-20 10zM2529 2580l21-10-18-17-20 11zM2471 2586l20-11-17-17-20 11z"/>
<path class="a" fill="#00c8ff" d="M3464 2457l17-8-18-12-17 8zM3448 2465l16-8-18-12-17 8zM3378 2477l17-8-18-12-17 8zM3361 2485l17-8-18-12-17 8zM3308 2489l18-8-18-13-18 9zM3291 2497l17-8-18-12-17 8zM3238 2502l17-9-18-12-18 8zM3220 2510l18-8-19-13-17 9zM3166 2515l18-9-18-13-18 9zM3093 2528l19-8-18-13-19 8zM3038 2533l19-9-18-13-18 9zM3020 2542l18-9-17-13-19 9zM2964 2547l19-9-18-13-18 9zM2890 2562l19-9-18-14-19 10zM2833 2568l20-10-18-14-19 10zM2757 2583l20-10-18-14-20 10zM2700 2589l20-10-18-15-20 10zM2642 2595l20-11-17-14-20 10zM2564 2611l20-11-17-15-21 11zM2505 2617l21-11-17-15-21 11z"/>
<path class="a" fill="#00d4ff" d="M3394 2449l17-9-18-13-17 9zM3377 2457l17-8-18-13-17 8zM3325 2460l17-8-18-13-17 8zM3308 2468l17-8-18-13-18 9zM3255 2472l17-8-18-13-17 8zM3237 2481l18-9-18-13-18 9zM3184 2485l17-9-18-13-17 8zM3166 2493l18-8-18-14-18 9zM3112 2498l18-9-18-14-18 9zM3094 2507l18-9-18-14-18 9zM3039 2511l18-9-17-14-19 9zM2965 2525l19-9-18-15-18 10zM2891 2539l19-9-18-15-19 10zM2835 2544l19-10-17-14-20 9zM2759 2559l20-10-18-15-19 10zM2702 2564l20-10-17-15-20 10zM2625 2580l20-10-17-16-21 10zM2567 2585l20-10-17-16-20 11z"/>
<path class="a" fill="#00c4ff" d="M3483 2468l16-7-18-12-17 8zM3431 2473l17-8-19-12-17 8zM3414 2480l17-7-19-12-17 8zM3344 2493l17-8-18-12-17 8zM3327 2501l17-8-18-12-18 8zM3273 2505l18-8-18-12-18 8zM3256 2513l17-8-18-12-17 9zM3202 2518l18-8-18-12-18 8zM3148 2523l18-8-18-13-18 9zM3130 2532l18-9-18-12-18 9zM3075 2537l18-9-18-13-18 9zM3056 2546l19-9-18-13-19 9zM3001 2551l19-9-18-13-19 9zM2946 2557l18-10-17-13-19 9zM2927 2566l19-9-18-14-19 10zM2870 2571l20-9-18-13-19 9zM2814 2577l19-9-17-14-20 9zM2794 2587l20-10-18-14-19 10zM2737 2593l20-10-18-14-19 10zM2680 2599l20-10-18-15-20 10zM2622 2605l20-10-17-15-20 10zM2602 2615l20-10-17-15-21 10zM2543 2621l21-10-18-15-20 10zM2484 2627l21-10-17-15-21 10z"/>
<path class="a" fill="#00ccff" d="M3412 2461l17-8-18-13-17 9zM3395 2469l17-8-18-12-17 8zM3343 2473l17-8-18-13-17 8zM3326 2481l17-8-18-13-17 8zM3273 2485l17-8-18-13-17 8zM3255 2493l18-8-18-13-18 9zM3202 2498l17-9-18-13-17 9zM3184 2506l18-8-18-13-18 8zM3130 2511l18-9-18-13-18 9zM3112 2520l18-9-18-13-18 9zM3057 2524l18-9-18-13-18 9zM2983 2538l19-9-18-13-19 9zM2928 2543l19-9-18-14-19 10zM2909 2553l19-10-18-13-19 9zM2853 2558l19-9-18-15-19 10zM2796 2563l20-9-18-15-19 10zM2777 2573l19-10-17-14-20 10zM2720 2579l19-10-17-15-20 10zM2662 2584l20-10-17-15-20 11zM2584 2600l21-10-18-15-20 10zM2526 2606l20-10-17-16-20 11zM2467 2612l21-10-17-16-21 11z"/>
<path class="a" fill="#00bcff" d="M3501 2479l17-7-19-11-16 7zM3485 2487l16-8-18-11-17 8zM3468 2494l17-7-19-11-17 8zM3432 2491l17-7-18-11-17 7zM3415 2499l17-8-18-11-17 8zM3398 2507l17-8-18-11-17 8zM3345 2512l17-8-18-11-17 8zM3328 2519l17-7-18-11-18 8zM3274 2525l18-8-19-12-17 8zM3256 2533l18-8-18-12-18 9zM3220 2530l18-8-18-12-18 8zM3202 2538l18-8-18-12-18 9zM3148 2544l18-9-18-12-18 9zM3130 2552l18-8-18-12-19 8zM3075 2558l18-9-18-12-19 9zM3019 2563l19-8-18-13-19 9zM3000 2572l19-9-18-12-19 9zM2944 2578l19-9-17-12-19 9zM2888 2584l19-9-17-13-20 9zM2832 2590l19-9-18-13-19 9zM2812 2600l20-10-18-13-20 10zM2755 2606l20-10-18-13-20 10zM2697 2612l20-10-17-13-20 10zM2639 2619l21-10-18-14-20 10zM2619 2629l20-10-17-14-20 10zM2560 2635l21-10-17-14-21 10zM2502 2642l20-10-17-15-21 10z"/>
<path class="a" fill="#00c0ff" d="M3466 2476l17-8-19-11-16 8zM3449 2484l17-8-18-11-17 8zM3397 2488l17-8-19-11-17 8zM3380 2496l17-8-19-11-17 8zM3362 2504l18-8-19-11-17 8zM3309 2509l18-8-19-12-17 8zM3292 2517l17-8-18-12-18 8zM3238 2522l18-9-18-11-18 8zM3184 2527l18-9-18-12-18 9zM3166 2535l18-8-18-12-18 8zM3111 2540l19-8-18-12-19 8zM3093 2549l18-9-18-12-18 9zM3038 2555l18-9-18-13-18 9zM2982 2560l19-9-18-13-19 9zM2963 2569l19-9-18-13-18 10zM2907 2575l20-9-18-13-19 9zM2851 2581l19-10-17-13-20 10zM2775 2596l19-9-17-14-20 10zM2717 2602l20-9-17-14-20 10zM2660 2609l20-10-18-15-20 11zM2581 2625l21-10-18-15-20 11zM2522 2632l21-11-17-15-21 11z"/>
<path class="a" fill="#00b8ff" d="M3520 2489l17-7-19-10-17 7zM3503 2497l17-8-19-10-16 8zM3451 2502l17-8-19-10-17 7zM3434 2509l17-7-19-11-17 8zM3381 2514l17-7-18-11-18 8zM3364 2522l17-8-19-10-17 8zM3310 2527l18-8-19-10-17 8zM3293 2535l17-8-18-10-18 8zM3239 2541l17-8-18-11-18 8zM3221 2549l18-8-19-11-18 8zM3184 2546l18-8-18-11-18 8zM3166 2555l18-9-18-11-18 9zM3111 2560l19-8-19-12-18 9zM3093 2569l18-9-18-11-18 9zM3056 2566l19-8-19-12-18 9zM3037 2575l19-9-18-11-19 8zM2981 2581l19-9-18-12-19 9zM2925 2587l19-9-17-12-20 9zM2906 2596l19-9-18-12-19 9zM2869 2593l19-9-18-13-19 10zM2849 2603l20-10-18-12-19 9zM2792 2609l20-9-18-13-19 9zM2735 2616l20-10-18-13-20 9zM2677 2622l20-10-17-13-20 10zM2657 2632l20-10-17-13-21 10zM2598 2639l21-10-17-14-21 10zM2540 2646l20-11-17-14-21 11z"/>
<path class="a" fill="#00b4ff" d="M3539 2499l16-7-18-10-17 7zM3522 2506l17-7-19-10-17 8zM3487 2504l16-7-18-10-17 7zM3470 2511l17-7-19-10-17 8zM3453 2519l17-8-19-9-17 7zM3417 2517l17-8-19-10-17 8zM3400 2524l17-7-19-10-17 7zM3382 2532l18-8-19-10-17 8zM3346 2530l18-8-19-10-17 7zM3329 2537l17-7-18-11-18 8zM3311 2545l18-8-19-10-17 8zM3275 2543l18-8-19-10-18 8zM3257 2551l18-8-19-10-17 8zM3203 2557l18-8-19-11-18 8zM3184 2565l19-8-19-11-18 9zM3148 2563l18-8-18-11-18 8zM3129 2571l19-8-18-11-19 8zM3074 2577l19-8-18-11-19 8zM3018 2584l19-9-18-12-19 9zM3000 2592l18-8-18-12-19 9zM2962 2590l19-9-18-12-19 9zM2943 2599l19-9-18-12-19 9zM2887 2605l19-9-18-12-19 9zM2830 2612l19-9-17-13-20 10zM2772 2619l20-10-17-13-20 10zM2753 2628l19-9-17-13-20 10zM2715 2625l20-9-18-14-20 10zM2695 2635l20-10-18-13-20 10zM2636 2642l21-10-18-13-20 10zM2578 2649l20-10-17-14-21 10zM2519 2656l21-10-18-14-20 10z"/>
<path class="a" fill="#00b0ff" d="M3558 2508l16-7-19-9-16 7zM3541 2515l17-7-19-9-17 7zM3505 2513l17-7-19-9-16 7zM3524 2522l17-7-19-9-17 7zM3488 2521l17-8-18-9-17 7zM3472 2528l16-7-18-10-17 8zM3436 2526l17-7-19-10-17 8zM3454 2535l18-7-19-9-17 7zM3418 2534l18-8-19-9-17 7zM3401 2541l17-7-18-10-18 8zM3365 2539l17-7-18-10-18 8zM3347 2547l18-8-19-9-17 7zM3330 2555l17-8-18-10-18 8zM3293 2553l18-8-18-10-18 8zM3276 2561l17-8-18-10-18 8zM3239 2559l18-8-18-10-18 8zM3221 2567l18-8-18-10-18 8zM3203 2575l18-8-18-10-19 8zM3166 2573l18-8-18-10-18 8zM3148 2581l18-8-18-10-19 8zM3111 2580l18-9-18-11-18 9zM3092 2588l19-8-18-11-19 8zM3055 2586l19-9-18-11-19 9zM3037 2595l18-9-18-11-19 9zM3538 2598l18-6-20-4-17 6zM2981 2601l19-9-19-11-19 9zM2961 2610l20-9-19-11-19 9zM2924 2608l19-9-18-12-19 9zM2905 2617l19-9-18-12-19 9zM2867 2615l20-10-18-12-20 10zM2848 2624l19-9-18-12-19 9zM2810 2621l20-9-18-12-20 9zM2790 2631l20-10-18-12-20 10zM2733 2638l20-10-18-12-20 9zM2674 2645l21-10-18-13-20 10zM2616 2652l20-10-17-13-21 10zM2557 2659l21-10-18-14-20 11z"/>
<path class="a" fill="#00acff" d="M3577 2516l16-6-19-9-16 7zM3596 2524l17-6-20-8-16 6zM3560 2523l17-7-19-8-17 7zM3579 2531l17-7-19-8-17 7zM3543 2530l17-7-19-8-17 7zM3507 2529l17-7-19-9-17 8zM3563 2538l16-7-19-8-17 7zM3527 2537l16-7-19-8-17 7zM3490 2536l17-7-19-8-16 7zM3510 2544l17-7-20-8-17 7zM3473 2543l17-7-18-8-18 7zM3437 2542l17-7-18-9-18 8zM3674 2549l16-6-19-5-17 6zM3456 2550l17-7-19-8-17 7zM3420 2550l17-8-19-8-17 7zM3384 2548l17-7-19-9-17 7zM3439 2558l17-8-19-8-17 8zM3657 2555l17-6-20-5-16 6zM3403 2557l17-7-19-9-17 7zM3694 2554l16-6-20-5-16 6zM3366 2556l18-8-19-9-18 8zM3385 2564l18-7-19-9-18 8zM3641 2561l16-6-19-5-17 6zM3349 2563l17-7-19-9-17 8zM3677 2560l17-6-20-5-17 6zM3312 2562l18-7-19-10-18 8zM3587 2569l17-6-19-6-17 7zM3331 2571l18-8-19-8-18 7zM3624 2568l17-7-20-5-17 7zM3294 2570l18-8-19-9-17 8zM3661 2566l16-6-20-5-16 6zM3258 2569l18-8-19-10-18 8zM3276 2578l18-8-18-9-18 8zM3570 2575l17-6-19-5-17 6zM3240 2576l18-7-19-10-18 8zM3607 2574l17-6-20-5-17 6zM3644 2572l17-6-20-5-17 7zM3222 2584l18-8-19-9-18 8zM3553 2582l17-7-19-5-18 7zM3185 2583l18-8-19-10-18 8zM3590 2580l17-6-20-5-17 6zM3166 2591l19-8-19-10-18 8zM3536 2588l17-6-20-5-17 6zM3129 2590l19-9-19-10-18 9zM3573 2586l17-6-20-5-17 7zM3111 2598l18-8-18-10-19 8zM3519 2594l17-6-20-5-17 7zM3074 2596l18-8-18-11-19 9zM3556 2592l17-6-20-4-17 6zM3055 2605l19-9-19-10-18 9zM3501 2601l18-7-20-4-18 6zM3018 2603l19-8-19-11-18 8zM3446 2609l18-6-20-5-17 6zM2999 2612l19-9-18-11-19 9zM3484 2607l17-6-20-5-17 7zM3428 2616l18-7-19-5-18 7zM2942 2619l19-9-18-11-19 9zM3466 2613l18-6-20-4-18 6zM3411 2622l17-6-19-5-18 7zM2885 2626l20-9-18-12-20 10zM3448 2620l18-7-20-4-18 7zM3393 2629l18-7-20-4-18 7zM2828 2633l20-9-18-12-20 9zM3430 2626l18-6-20-4-17 6zM2770 2640l20-9-18-12-19 9zM3374 2636l19-7-20-4-18 6zM2712 2647l21-9-18-13-20 10zM3356 2642l18-6-19-5-18 7zM2654 2655l20-10-17-13-21 10zM3338 2649l18-7-19-4-19 7zM2595 2662l21-10-18-13-20 10zM2536 2669l21-10-17-13-21 10zM3244 2672l19-7-20-3-19 7z"/>
<path class="a" fill="#00a8ff" d="M3615 2531l17-6-19-7-17 6zM3635 2538l16-6-19-7-17 6zM3599 2538l16-7-19-7-17 7zM3618 2544l17-6-20-7-16 7zM3582 2545l17-7-20-7-16 7zM3654 2544l17-6-20-6-16 6zM3546 2544l17-6-20-8-16 7zM3565 2551l17-6-19-7-17 6zM3601 2551l17-7-19-6-17 7zM3529 2551l17-7-19-7-17 7zM3638 2550l16-6-19-6-17 6zM3493 2551l17-7-20-8-17 7zM3548 2558l17-7-19-7-17 7zM3512 2558l17-7-19-7-17 7zM3585 2557l16-6-19-6-17 6zM3475 2558l18-7-20-8-17 7zM3621 2556l17-6-20-6-17 7zM3495 2565l17-7-19-7-18 7zM3531 2564l17-6-19-7-17 7zM3458 2565l17-7-19-8-17 8zM3568 2564l17-7-20-6-17 7zM3422 2565l17-7-19-8-17 7zM3604 2563l17-7-20-5-16 6zM3477 2572l18-7-20-7-17 7zM3441 2572l17-7-19-7-17 7zM3514 2571l17-7-19-6-17 7zM3404 2572l18-7-19-8-18 7zM3551 2570l17-6-20-6-17 6zM3367 2571l18-7-19-8-17 7zM3423 2579l18-7-19-7-18 7zM3387 2579l17-7-19-8-18 7zM3460 2578l17-6-19-7-17 7zM3350 2579l17-8-18-8-18 8zM3497 2578l17-7-19-6-18 7zM3313 2578l18-7-19-9-18 8zM3533 2577l18-7-20-6-17 7zM3369 2586l18-7-20-8-17 8zM3406 2586l17-7-19-7-17 7zM3332 2586l18-7-19-8-18 7zM3442 2585l18-7-19-6-18 7zM3295 2586l18-8-19-8-18 8zM3479 2584l18-6-20-6-17 6zM3258 2585l18-7-18-9-18 7zM3516 2583l17-6-19-6-17 7zM3351 2593l18-7-19-7-18 7zM3314 2594l18-8-19-8-18 8zM3388 2593l18-7-19-7-18 7zM3277 2593l18-7-19-8-18 7zM3425 2592l17-7-19-6-17 7zM3240 2593l18-8-18-9-18 8zM3462 2591l17-7-19-6-18 7zM3203 2592l19-8-19-9-18 8zM3499 2590l17-7-19-5-18 6zM3296 2601l18-7-19-8-18 7zM3333 2601l18-8-19-7-18 8zM3259 2601l18-8-19-8-18 8zM3370 2600l18-7-19-7-18 7zM3222 2601l18-8-18-9-19 8zM3407 2599l18-7-19-6-18 7zM3185 2600l18-8-18-9-19 8zM3444 2598l18-7-20-6-17 7zM3148 2599l18-8-18-10-19 9zM3481 2596l18-6-20-6-17 7zM3204 2608l18-7-19-9-18 8zM3352 2607l18-7-19-7-18 8zM3166 2608l19-8-19-9-18 8zM3389 2606l18-7-19-6-18 7zM3129 2607l19-8-19-9-18 8zM3427 2604l17-6-19-6-18 7zM3092 2606l19-8-19-10-18 8zM3464 2603l17-7-19-5-18 7zM3111 2615l18-8-18-9-19 8zM3372 2613l17-7-19-6-18 7zM3073 2614l19-8-18-10-19 9zM3409 2611l18-7-20-5-18 7zM3036 2613l19-8-18-10-19 8zM3054 2623l19-9-18-9-19 8zM3354 2620l18-7-20-6-18 7zM3017 2622l19-9-18-10-19 9zM3391 2618l18-7-20-5-17 7zM2980 2620l19-8-18-11-20 9zM3335 2627l19-7-20-6-18 7zM2960 2629l20-9-19-10-19 9zM3373 2625l18-7-19-5-18 7zM2923 2628l19-9-18-11-19 9zM3317 2634l18-7-19-6-18 7zM2903 2636l20-8-18-11-20 9zM3355 2631l18-6-19-5-19 7zM2866 2635l19-9-18-11-19 9zM2846 2644l20-9-18-11-20 9zM3299 2641l18-7-19-6-18 7zM2808 2642l20-9-18-12-20 10zM3337 2638l18-7-20-4-18 7zM2788 2651l20-9-18-11-20 9zM3280 2648l19-7-19-6-19 8zM2750 2650l20-10-17-12-20 10zM3318 2645l19-7-20-4-18 7zM2730 2659l20-9-17-12-21 9zM3262 2655l18-7-19-5-18 7zM2692 2657l20-10-17-12-21 10zM3300 2652l18-7-19-4-19 7zM2672 2667l20-10-18-12-20 10zM3243 2662l19-7-19-5-19 7zM2633 2664l21-9-18-13-20 10zM3281 2659l19-7-20-4-18 7zM2613 2674l20-10-17-12-21 10zM3224 2669l19-7-19-5-19 7zM2575 2672l20-10-17-13-21 10zM3263 2665l18-6-19-4-19 7zM2554 2682l21-10-18-13-21 10zM3205 2676l19-7-19-5-19 7zM3186 2683l19-7-19-5-19 7zM3225 2679l19-7-20-3-19 7zM3167 2690l19-7-19-5-19 8zM3148 2697l19-7-19-4-19 7zM3128 2704l20-7-19-4-20 7z"/>
<path class="b" fill="#00acfc" d="M3714 2558l16-6-20-4-16 6zM3697 2564l17-6-20-4-17 6zM3681 2569l16-5-20-4-16 6zM3664 2575l17-6-20-3-17 6zM3610 2584l17-6-20-4-17 6zM3593 2590l17-6-20-4-17 6zM3576 2596l17-6-20-4-17 6zM3521 2605l17-7-19-4-18 7zM3503 2611l18-6-20-4-17 6zM3486 2617l17-6-19-4-18 6zM3412 2633l18-7-19-4-18 7zM3394 2639l18-6-19-4-19 7zM3376 2646l18-7-20-3-18 6zM3301 2662l18-7-19-3-19 7zM3282 2669l19-7-20-3-18 6z"/>
<path class="b" fill="#00acf8" d="M3734 2561l16-5-20-4-16 6zM3717 2567l17-6-20-3-17 6zM3647 2581l17-6-20-3-17 6zM3630 2587l17-6-20-3-17 6zM3613 2593l17-6-20-3-17 6zM3558 2602l18-6-20-4-18 6zM3541 2608l17-6-20-4-17 7zM3523 2614l18-6-20-3-18 6zM3468 2623l18-6-20-4-18 7zM3450 2629l18-6-20-3-18 6zM3432 2636l18-7-20-3-18 7zM3358 2652l18-6-20-4-18 7zM3339 2658l19-6-20-3-19 6zM3321 2665l18-7-20-3-18 7zM3263 2675l19-6-19-4-19 7zM3244 2682l19-7-19-3-19 7z"/>
<path class="b" fill="#00acf4" d="M3754 2564l17-5-21-3-16 5zM3701 2573l16-6-20-3-16 5zM3684 2578l17-5-20-4-17 6zM3667 2584l17-6-20-3-17 6zM3596 2599l17-6-20-3-17 6zM3578 2604l18-5-20-3-18 6zM3561 2610l17-6-20-2-17 6zM3506 2620l17-6-20-3-17 6zM3488 2626l18-6-20-3-18 6zM3470 2632l18-6-20-3-18 6zM3414 2642l18-6-20-3-18 6zM3396 2648l18-6-20-3-18 7zM3378 2654l18-6-20-2-18 6zM3302 2671l19-6-20-3-19 7zM3283 2678l19-7-20-2-19 6zM3264 2684l19-6-20-3-19 7z"/>
<path class="b" fill="#00b0ff" d="M3627 2578l17-6-20-4-17 6z"/>
<path class="b" fill="#00acf0" d="M3738 2569l16-5-20-3-17 6zM3721 2575l17-6-21-2-16 6zM3704 2580l17-5-20-2-17 5zM3650 2589l17-5-20-3-17 6zM3633 2595l17-6-20-2-17 6zM3616 2601l17-6-20-2-17 6zM3544 2616l17-6-20-2-18 6zM3526 2622l18-6-21-2-17 6zM3508 2628l18-6-20-2-18 6zM3452 2638l18-6-20-3-18 7zM3434 2644l18-6-20-2-18 6zM3416 2650l18-6-20-2-18 6zM3359 2661l19-7-20-2-19 6zM3340 2667l19-6-20-3-18 7zM3322 2673l18-6-19-2-19 6zM3245 2691l19-7-20-2-19 7zM3226 2698l19-7-20-2-19 7zM3207 2704l19-6-20-2-19 6z"/>
<path class="b" fill="#00acec" d="M3775 2566l16-5-20-2-17 5zM3758 2571l17-5-21-2-16 5zM3742 2577l16-6-20-2-17 6zM3688 2586l16-6-20-2-17 6zM3671 2591l17-5-21-2-17 5zM3398 2656l18-6-20-2-18 6zM3379 2662l19-6-20-2-19 7zM3361 2668l18-6-20-1-19 6zM3303 2680l19-7-20-2-19 7zM3284 2686l19-6-20-2-19 6zM3265 2692l19-6-20-2-19 7zM3187 2711l20-7-20-2-20 7z"/>
<path class="b" fill="#00ace8" d="M3795 2568l17-6-21-1-16 5zM3342 2675l19-7-21-1-18 6zM3323 2681l19-6-20-2-19 7zM3304 2687l19-6-20-1-19 6zM3246 2699l19-7-20-1-19 7zM3227 2705l19-6-20-1-19 6zM3207 2712l20-7-20-1-20 7z"/>
<path class="b" fill="#00b0e4" d="M3779 2573l16-5-20-2-17 5zM3762 2578l17-5-21-2-16 6zM3746 2583l16-5-20-1-17 5zM3674 2598l17-6-20-1-17 6zM3657 2603l17-5-20-1-18 5zM3640 2608l17-5-21-1-17 6zM3584 2619l18-6-21-1-17 6zM3567 2624l17-5-20-1-18 5zM3549 2630l18-6-21-1-18 6zM3493 2641l18-6-21-1-18 6zM3475 2646l18-5-21-1-18 5zM3456 2652l19-6-21-1-18 6zM3381 2669l18-6-20-1-18 6zM3362 2675l19-6-20-1-19 7zM3343 2681l19-6-20 0-19 6z"/>
<path class="c" fill="#00b0e0" d="M3816 2568l17-5-21-1-17 6zM3800 2573l16-5-21 0-16 5zM3783 2578l17-5-21 0-17 5zM3712 2593l17-5-21-1-17 5zM3695 2598l17-5-21-1-17 6zM3678 2603l17-5-21 0-17 5zM3622 2614l18-6-21 0-17 5zM3605 2619l17-5-20-1-18 6zM3587 2624l18-5-21 0-17 5zM3513 2641l18-6-20 0-18 6zM3495 2646l18-5-20 0-18 5zM3420 2664l18-6-20-1-19 6zM3401 2669l19-5-21-1-18 6zM3305 2693l19-6-20 0-19 6zM3208 2718l19-6-20 0-20 6zM3188 2724l20-6-21 0-19 6z"/>
<path class="a" fill="#00a4ff" d="M3278 2608l18-7-19-8-18 8zM3241 2609l18-8-19-8-18 8zM3315 2608l18-7-19-7-18 7zM3222 2616l19-7-19-8-18 7zM3260 2616l18-8-19-7-18 8zM3185 2616l19-8-19-8-19 8zM3297 2615l18-7-19-7-18 7zM3148 2616l18-8-18-9-19 8zM3334 2614l18-7-19-6-18 7zM3204 2624l18-8-18-8-19 8zM3167 2624l18-8-19-8-18 8zM3241 2623l19-7-19-7-19 7zM3129 2624l19-8-19-9-18 8zM3279 2622l18-7-19-7-18 8zM3092 2623l19-8-19-9-19 8zM3316 2621l18-7-19-6-18 7zM3148 2632l19-8-19-8-19 8zM3185 2631l19-7-19-8-18 8zM3110 2632l19-8-18-9-19 8zM3223 2631l18-8-19-7-18 8zM3073 2632l19-9-19-9-19 9zM3260 2630l19-8-19-6-19 7zM3035 2631l19-8-18-10-19 9zM3298 2628l18-7-19-6-18 7zM2998 2630l19-8-18-10-19 8zM3167 2639l18-8-18-7-19 8zM3054 2640l19-8-19-9-19 8zM3204 2638l19-7-19-7-19 7zM3016 2639l19-8-18-9-19 8zM3242 2637l18-7-19-7-18 8zM2979 2639l19-9-18-10-20 9zM3280 2635l18-7-19-6-19 8zM2941 2638l19-9-18-10-19 9zM2959 2647l20-8-19-10-19 9zM3186 2646l18-8-19-7-18 8zM2921 2646l20-8-18-10-20 8zM3223 2644l19-7-19-6-19 7zM2884 2645l19-9-18-10-19 9zM3261 2643l19-8-20-5-18 7zM2864 2654l20-9-18-10-20 9zM3205 2652l18-8-19-6-18 8zM2826 2653l20-9-18-11-20 9zM3243 2650l18-7-19-6-19 7zM2806 2662l20-9-18-11-20 9zM3186 2659l19-7-19-6-19 7zM2768 2661l20-10-18-11-20 10zM3224 2657l19-7-20-6-18 8zM2748 2670l20-9-18-11-20 9zM3167 2666l19-7-19-6-19 8zM2710 2668l20-9-18-12-20 10zM3205 2664l19-7-19-5-19 7zM2651 2676l21-9-18-12-21 9zM3186 2671l19-7-19-5-19 7zM2592 2684l21-10-18-12-20 10zM3167 2678l19-7-19-5-19 8zM3148 2686l19-8-19-4-19 7zM3129 2693l19-7-19-5-20 8zM3109 2700l20-7-20-4-19 7zM3090 2708l19-8-19-4-20 7zM3070 2715l20-7-20-5-19 8zM3050 2722l20-7-19-4-20 7zM3030 2730l20-8-19-4-20 8z"/>
<path class="b" fill="#00b0e8" d="M3725 2582l17-5-21-2-17 5zM3708 2587l17-5-21-2-16 6zM3691 2592l17-5-20-1-17 5zM3636 2602l18-5-21-2-17 6zM3619 2608l17-6-20-1-17 5zM3602 2613l17-5-20-2-18 6zM3546 2623l18-5-20-2-18 6zM3528 2629l18-6-20-1-18 6zM3511 2635l17-6-20-1-18 6zM3436 2651l18-6-20-1-18 6zM3418 2657l18-6-20-1-18 6zM3399 2663l19-6-20-1-19 6z"/>
<path class="c" fill="#00b0dc" d="M3837 2568l17-4-21-1-17 5zM3821 2573l16-5-21 0-16 5zM3767 2583l16-5-21 0-16 5zM3750 2588l17-5-21 0-17 5zM3382 2675l19-6-20 0-19 6zM3364 2681l18-6-20 0-19 6zM3345 2687l19-6-21 0-19 6zM3286 2699l19-6-20 0-19 6zM3267 2705l19-6-20 0-19 7zM3247 2711l20-6-20 1-20 6zM3168 2731l20-7-20 0-20 7zM3148 2737l20-6-20 0-20 6z"/>
<path class="c" fill="#00b4d8" d="M3858 2568l17-5-21 1-17 4zM3804 2578l17-5-21 0-17 5zM3788 2582l16-4-21 0-16 5zM3771 2587l17-5-21 1-17 5zM3716 2598l17-5-21 0-17 5zM3699 2603l17-5-21 0-17 5zM3608 2624l18-5-21 0-18 5zM3590 2629l18-5-21 0-17 6zM3573 2634l17-5-20 1-18 5zM3516 2646l18-6-21 1-18 5zM3498 2651l18-5-21 0-18 6zM3479 2656l19-5-21 1-18 5zM3422 2669l18-6-20 1-19 5zM3403 2674l19-5-21 0-19 6zM3384 2680l19-6-21 1-18 6zM3326 2692l19-5-21 0-19 6zM3306 2698l20-6-21 1-19 6zM3287 2704l19-6-20 1-19 6z"/>
<path class="b" fill="#00b0ec" d="M3654 2597l17-6-21-2-17 6zM3599 2606l17-5-20-2-18 5zM3581 2612l18-6-21-2-17 6zM3564 2618l17-6-20-2-17 6zM3490 2634l18-6-20-2-18 6zM3472 2640l18-6-20-2-18 6zM3454 2645l18-5-20-2-18 6z"/>
<path class="c" fill="#00b0e4" d="M3729 2588l17-5-21-1-17 5z"/>
<path class="c" fill="#00b4d4" d="M3842 2572l16-4-21 0-16 5zM3825 2577l17-5-21 1-17 5zM3809 2581l16-4-21 1-16 4zM3754 2592l17-5-21 1-17 5zM3737 2597l17-5-21 1-17 5zM3664 2613l17-5-21 0-17 5zM3555 2639l18-5-21 1-18 5zM3461 2662l18-6-20 1-19 6zM3442 2667l19-5-21 1-18 6zM3365 2685l19-5-20 1-19 6zM3346 2691l19-6-20 2-19 5zM3268 2710l19-6-20 1-20 6zM3248 2716l20-6-21 1-19 6z"/>
<path class="a" fill="#00a0ff" d="M3129 2640l19-8-19-8-19 8zM3091 2640l19-8-18-9-19 9zM3072 2648l19-8-18-8-19 8zM3035 2648l19-8-19-9-19 8zM3110 2647l19-7-19-8-19 8zM2997 2648l19-9-18-9-19 9zM3148 2647l19-8-19-7-19 8zM3015 2656l20-8-19-9-19 9zM3053 2656l19-8-18-8-19 8zM2978 2656l19-8-18-9-20 8zM3091 2655l19-8-19-7-19 8zM2940 2656l19-9-18-9-20 8zM3129 2654l19-7-19-7-19 7zM2902 2655l19-9-18-10-19 9zM3167 2653l19-7-19-7-19 8zM2996 2664l19-8-18-8-19 8zM2958 2665l20-9-19-9-19 9zM3034 2664l19-8-18-8-20 8zM2920 2664l20-8-19-10-19 9zM3072 2663l19-8-19-7-19 8zM2882 2664l20-9-18-10-20 9zM3110 2662l19-8-19-7-19 8zM2844 2663l20-9-18-10-20 9zM3148 2661l19-8-19-6-19 7zM2862 2673l20-9-18-10-20 9zM3053 2671l19-8-19-7-19 8zM2824 2672l20-9-18-10-20 9zM3091 2670l19-8-19-7-19 8zM2786 2671l20-9-18-11-20 10zM3129 2668l19-7-19-7-19 8zM2766 2680l20-9-18-10-20 9zM3071 2678l20-8-19-7-19 8zM2728 2679l20-9-18-11-20 9zM3110 2676l19-8-19-6-19 8zM2689 2678l21-10-18-11-20 10zM3148 2674l19-8-19-5-19 7zM2669 2688l20-10-17-11-21 9zM3090 2683l20-7-19-6-20 8zM2630 2686l21-10-18-12-20 10zM3129 2681l19-7-19-6-19 8zM2610 2696l20-10-17-12-21 10zM3071 2691l19-8-19-5-19 7zM2571 2694l21-10-17-12-21 10zM3109 2689l20-8-19-5-20 7zM3051 2699l20-8-19-6-19 8zM3090 2696l19-7-19-6-19 8zM3032 2706l19-7-18-6-20 8zM3070 2703l20-7-19-5-20 8zM3012 2714l20-8-19-5-20 8zM3051 2711l19-8-19-4-19 7zM3031 2718l20-7-19-5-20 8zM3011 2726l20-8-19-4-20 8zM2991 2734l20-8-19-4-20 7zM2971 2741l20-7-19-5-20 8zM2951 2749l20-8-19-4-20 8zM2930 2756l21-7-19-4-21 8zM2910 2764l20-8-19-3-20 7z"/>
<path class="c" fill="#00b4dc" d="M3733 2593l17-5-21 0-17 5zM3660 2608l18-5-21 0-17 5zM3643 2613l17-5-20 0-18 6zM3570 2630l17-6-20 0-18 6zM3552 2635l18-5-21 0-18 5zM3534 2640l18-5-21 0-18 6zM3477 2652l18-6-20 0-19 6zM3459 2657l18-5-21 0-18 6zM3440 2663l19-6-21 1-18 6z"/>
<path class="c" fill="#00b8d0" d="M3847 2575l16-4-21 1-17 5zM3792 2586l17-5-21 1-17 5zM3775 2590l17-4-21 1-17 5zM3703 2606l17-5-21 2-18 5zM3668 2616l17-5-21 2-17 4zM3482 2660l18-5-21 1-18 6zM3463 2665l19-5-21 2-19 5zM3405 2678l19-5-21 1-19 6zM3367 2689l19-6-21 2-19 6zM3288 2708l20-6-21 2-19 6z"/>
<path class="c" fill="#00b8cc" d="M3830 2579l17-4-22 2-16 4zM3813 2584l17-5-21 2-17 5zM3797 2588l16-4-21 2-17 4zM3724 2604l17-5-21 2-17 5zM3558 2642l18-5-21 2-18 5zM3444 2670l19-5-21 2-18 6zM3348 2694l19-5-21 2-19 6z"/>
<path class="a" fill="#009cff" d="M2938 2673l20-8-18-9-20 8zM2977 2673l19-9-18-8-20 9zM2900 2673l20-9-18-9-20 9zM3015 2672l19-8-19-8-19 8zM2919 2682l19-9-18-9-20 9zM2880 2682l20-9-18-9-20 9zM2957 2681l20-8-19-8-20 8zM2842 2682l20-9-18-10-20 9zM2995 2680l20-8-19-8-19 9zM2804 2681l20-9-18-10-20 9zM3033 2679l20-8-19-7-19 8zM2861 2690l19-8-18-9-20 9zM2899 2690l20-8-19-9-20 9zM2822 2690l20-8-18-10-20 9zM2937 2689l20-8-19-8-19 9zM2784 2690l20-9-18-10-20 9zM2975 2688l20-8-18-7-20 8zM2746 2690l20-10-18-10-20 9zM3014 2687l19-8-18-7-20 8zM2707 2689l21-10-18-11-21 10zM3052 2685l19-7-18-7-20 8zM2956 2696l19-8-18-7-20 8zM2687 2698l20-9-18-11-20 10zM2994 2695l20-8-19-7-20 8zM2648 2697l21-9-18-12-21 10zM3033 2693l19-8-19-6-19 8zM2627 2707l21-10-18-11-20 10zM2974 2703l20-8-19-7-19 8zM2589 2706l21-10-18-12-21 10zM3013 2701l20-8-19-6-20 8zM2954 2711l20-8-18-7-20 9zM2993 2709l20-8-19-6-20 8zM2973 2717l20-8-19-6-20 8zM2953 2725l20-8-19-6-20 8zM2992 2722l20-8-19-5-20 8zM2933 2732l20-7-19-6-20 8zM2972 2729l20-7-19-5-20 8zM2913 2740l20-8-19-5-20 8zM2952 2737l20-8-19-4-20 7zM2932 2745l20-8-19-5-20 8zM2911 2753l21-8-19-5-21 8zM2891 2760l20-7-19-5-20 8zM2870 2768l21-8-19-4-21 8zM2849 2776l21-8-19-4-21 8zM2828 2784l21-8-19-4-21 8zM2807 2792l21-8-19-4-21 8z"/>
<path class="c" fill="#00b8d4" d="M3720 2601l17-4-21 1-17 5zM3537 2644l18-5-21 1-18 6z"/>
<path class="a" fill="#00acfc" d="M3319 2655l19-6-20-4-18 7z"/>
<path class="c" fill="#00bcc8" d="M3780 2592l17-4-22 2-17 5zM3763 2597l17-5-22 3-17 4zM3689 2613l18-4-22 2-17 5zM3654 2622l18-4-22 2-17 5zM3484 2662l19-5-21 3-19 5z"/>
<path class="b" fill="#00b0e0" d="M3531 2635l18-5-21-1-17 6zM3438 2658l18-6-20-1-18 6zM3324 2687l19-6-20 0-19 6z"/>
<path class="a" fill="#0098ff" d="M2840 2699l21-9-19-8-20 8zM2802 2699l20-9-18-9-20 9zM2879 2699l20-9-19-8-19 8zM2764 2699l20-9-18-10-20 10zM2917 2698l20-9-18-7-20 8zM2725 2699l21-9-18-11-21 10zM2782 2708l20-9-18-9-20 9zM2820 2708l20-9-18-9-20 9zM2743 2708l21-9-18-9-21 9zM2859 2707l20-8-18-9-21 9zM2705 2708l20-9-18-10-20 9zM2897 2706l20-8-18-8-20 9zM2666 2708l21-10-18-10-21 9zM2936 2705l20-9-19-7-20 9zM2645 2717l21-9-18-11-21 10zM2838 2716l21-9-19-8-20 9zM2606 2716l21-9-17-11-21 10zM2877 2714l20-8-18-7-20 8zM2916 2713l20-8-19-7-20 8zM2857 2723l20-9-18-7-21 9zM2896 2721l20-8-19-7-20 8zM2934 2719l20-8-18-6-20 8zM2875 2729l21-8-19-7-20 9zM2914 2727l20-8-18-6-20 8zM2894 2735l20-8-18-6-21 8zM2874 2743l20-8-19-6-20 9zM2853 2751l21-8-19-5-21 8zM2892 2748l21-8-19-5-20 8zM2832 2760l21-9-19-5-20 8zM2872 2756l20-8-18-5-21 8zM2851 2764l21-8-19-5-21 9zM2830 2772l21-8-19-4-20 8zM2809 2780l21-8-18-4-21 8zM2788 2788l21-8-18-4-21 8z"/>
<path class="a" fill="#00a8fc" d="M3206 2686l19-7-20-3-19 7zM3109 2711l19-7-19-4-19 8zM3089 2718l20-7-19-3-20 7z"/>
<path class="a" fill="#0094ff" d="M2723 2717l20-9-18-9-20 9zM2761 2717l21-9-18-9-21 9zM2684 2717l21-9-18-10-21 10zM2800 2717l20-9-18-9-20 9zM2702 2727l21-10-18-9-21 9zM2663 2727l21-10-18-9-21 9zM2741 2726l20-9-18-9-20 9zM2624 2726l21-9-18-10-21 9zM2779 2725l21-8-18-9-21 9zM2818 2724l20-8-18-8-20 9zM2759 2734l20-9-18-8-20 9zM2798 2733l20-9-18-7-21 8zM2837 2731l20-8-19-7-20 8zM2777 2741l21-8-19-8-20 9zM2816 2740l21-9-19-7-20 9zM2855 2738l20-9-18-6-20 8zM2795 2748l21-8-18-7-21 8zM2834 2746l21-8-18-7-21 9zM2814 2754l20-8-18-6-21 8zM2793 2763l21-9-19-6-20 9zM2772 2771l21-8-18-6-21 8zM2812 2768l20-8-18-6-21 9zM2751 2779l21-8-18-6-21 9zM2791 2776l21-8-19-5-21 8zM2770 2784l21-8-19-5-21 8z"/>
<path class="b" fill="#00a8fc" d="M3187 2693l19-7-20-3-19 7zM3167 2700l20-7-20-3-19 7z"/>
<path class="b" fill="#00a8f8" d="M3225 2689l19-7-19-3-19 7zM3148 2707l19-7-19-3-20 7zM3128 2714l20-7-20-3-19 7z"/>
<path class="c" fill="#00bccc" d="M3633 2625l17-5-21 2-18 5zM3539 2647l19-5-21 2-19 6z"/>
<path class="b" fill="#00a8f4" d="M3206 2696l19-7-19-3-19 7zM3187 2702l19-6-19-3-20 7zM3167 2709l20-7-20-2-19 7zM3109 2721l19-7-19-3-20 7zM3089 2728l20-7-20-3-20 7zM3069 2735l20-7-20-3-19 8z"/>
<path class="a" fill="#0090ff" d="M2642 2736l21-9-18-10-21 9zM2681 2736l21-9-18-10-21 10zM2720 2735l21-9-18-9-21 10zM2660 2745l21-9-18-9-21 9zM2699 2744l21-9-18-8-21 9zM2738 2743l21-9-18-8-21 9zM2678 2753l21-9-18-8-21 9zM2717 2752l21-9-18-8-21 9zM2756 2750l21-9-18-7-21 9zM2696 2761l21-9-18-8-21 9zM2735 2759l21-9-18-7-21 9zM2775 2757l20-9-18-7-21 9zM2714 2768l21-9-18-7-21 9zM2754 2765l21-8-19-7-21 9zM2733 2774l21-9-19-6-21 9z"/>
<path class="b" fill="#00ace4" d="M3285 2693l19-6-20-1-19 6zM3266 2699l19-6-20-1-19 7zM3247 2706l19-7-20 0-19 6zM3187 2718l20-6-20-1-19 6zM3168 2724l19-6-19-1-20 7zM3148 2731l20-7-20 0-20 7z"/>
<path class="b" fill="#00a4fc" d="M3069 2725l20-7-19-3-20 7z"/>
<path class="b" fill="#00a8f0" d="M3148 2716l19-7-19-2-20 7zM3128 2723l20-7-20-2-19 7zM3108 2730l20-7-19-2-20 7z"/>
<path class="a" fill="#00a4fc" d="M3010 2737l20-7-19-4-20 8zM2990 2744l20-7-19-3-20 7zM2970 2752l20-8-19-3-20 8z"/>
<path class="b" fill="#00a4f8" d="M3050 2733l19-8-19-3-20 8zM3029 2740l21-7-20-3-20 7zM3009 2747l20-7-19-3-20 7z"/>
<path class="b" fill="#00a8ec" d="M3168 2717l19-6-20-2-19 7zM3088 2736l20-6-19-2-20 7zM3068 2743l20-7-19-1-20 7zM3048 2750l20-7-19-1-20 7z"/>
<path class="b" fill="#00a8e8" d="M3148 2724l20-7-20-1-20 7zM3128 2731l20-7-20-1-20 7zM3108 2737l20-6-20-1-20 6zM3028 2757l20-7-19-1-21 7zM3007 2764l21-7-20-1-20 7z"/>
<path class="b" fill="#00ace0" d="M3227 2712l20-6-20-1-20 7zM3128 2737l20-6-20 0-20 6zM3108 2744l20-7-20 0-20 7z"/>
<path class="b" fill="#00a4f0" d="M3049 2742l20-7-19-2-21 7zM3029 2749l20-7-20-2-20 7zM3008 2756l21-7-20-2-20 7zM2948 2769l20-7-19-3-20 8zM2927 2776l21-7-19-2-21 7z"/>
<path class="b" fill="#00a0f8" d="M2949 2759l21-7-19-3-21 7zM2929 2767l20-8-19-3-20 8zM2908 2774l21-7-19-3-21 8z"/>
<path class="b" fill="#00a4f4" d="M2989 2754l20-7-19-3-20 8zM2968 2762l21-8-19-2-21 7z"/>
<path class="c" fill="#00b0d8" d="M3228 2717l19-6-20 1-19 6zM3208 2723l20-6-20 1-20 6zM3188 2729l20-6-20 1-20 7zM3128 2743l20-6-20 0-20 7zM3108 2749l20-6-20 1-20 6z"/>
<path class="a" fill="#00a0fc" d="M2889 2772l21-8-19-4-21 8zM2868 2779l21-7-19-4-21 8z"/>
<path class="c" fill="#00b4d0" d="M3308 2702l19-5-21 1-19 6zM3087 2760l20-6-20 2-20 6zM3066 2766l21-6-20 2-21 6z"/>
<path class="b" fill="#00a8e4" d="M3088 2744l20-7-20-1-20 7zM3068 2751l20-7-20-1-20 7zM3047 2757l21-6-20-1-20 7zM2987 2771l20-7-19-1-21 7zM2966 2778l21-7-20-1-21 7zM2945 2785l21-7-20-1-20 7z"/>
<path class="b" fill="#00a4ec" d="M2988 2763l20-7-19-2-21 8zM2967 2770l21-7-20-1-20 7zM2946 2777l21-7-19-1-21 7z"/>
<path class="a" fill="#009cf8" d="M2847 2787l21-8-19-3-21 8z"/>
<path class="b" fill="#00a0f4" d="M2887 2782l21-8-19-2-21 7zM2866 2789l21-7-19-3-21 8zM2845 2797l21-8-19-2-21 8z"/>
<path class="c" fill="#00ace0" d="M3088 2750l20-6-20 0-20 7z"/>
<path class="b" fill="#009cf8" d="M2826 2795l21-8-19-3-21 8z"/>
<path class="b" fill="#00a0f0" d="M2906 2783l21-7-19-2-21 8z"/>
<path class="b" fill="#00a8e0" d="M3027 2764l20-7-19 0-21 7zM3006 2771l21-7-20 0-20 7z"/>
<path class="c" fill="#00acdc" d="M3067 2757l21-7-20 1-21 6zM3047 2763l20-6-20 0-20 7z"/>
<path class="b" fill="#00a0ec" d="M2885 2791l21-8-19-1-21 7zM2864 2798l21-7-19-2-21 8z"/>
<path class="b" fill="#00a4e8" d="M2926 2784l20-7-19-1-21 7zM2904 2792l22-8-20-1-21 8z"/>
<path class="c" fill="#00a8e0" d="M2986 2778l20-7-19 0-21 7z"/>
<path class="c" fill="#00acd8" d="M3026 2770l21-7-20 1-21 7zM3005 2777l21-7-20 1-20 7zM2984 2783l21-6-19 1-21 6z"/>
<path class="c" fill="#00b0d4" d="M3067 2762l20-6-20 1-20 6zM3046 2768l21-6-20 1-21 7z"/>
<path class="b" fill="#00a4e4" d="M2883 2799l21-7-19-1-21 7z"/>
<path class="c" fill="#00a8dc" d="M2965 2784l21-6-20 0-21 7zM2922 2798l21-7-19 1-21 7z"/>
<path class="b" fill="#00a4e0" d="M2903 2799l21-7-20 0-21 7z"/>
<path class="c" fill="#00acd4" d="M2963 2790l21-7-19 1-22 7zM2942 2796l21-6-20 1-21 7z"/>
<path class="c" fill="#00b0d0" d="M3004 2781l21-6-20 2-21 6zM2962 2794l21-6-20 2-21 6z"/>
<path class="c" fill="#00b4d0" d="M3880 2566l16-4-21 1-17 5zM3863 2571l17-5-22 2-16 4z"/>
<path class="c" fill="#00b4d8" d="M3681 2608l18-5-21 0-18 5z"/>
<path class="c" fill="#00b8d0" d="M3758 2595l17-5-21 2-17 5z"/>
<path class="c" fill="#00b4dc" d="M3626 2619l17-6-21 1-17 5z"/>
<path class="c" fill="#00b8cc" d="M3741 2599l17-4-21 2-17 4z"/>
<path class="c" fill="#00b4d4" d="M3647 2617l17-4-21 0-17 6z"/>
<path class="c" fill="#00b8d0" d="M3685 2611l18-5-22 2-17 5z"/>
<path class="c" fill="#00b8d4" d="M3629 2622l18-5-21 2-18 5z"/>
<path class="c" fill="#00bccc" d="M3707 2609l17-5-21 2-18 5z"/>
<path class="c" fill="#00bcc8" d="M3745 2601l18-4-22 2-17 5z"/>
<path class="c" fill="#00b8d0" d="M3611 2627l18-5-21 2-18 5z"/>
<path class="c" fill="#00b8cc" d="M3650 2620l18-4-21 1-18 5z"/>
<path class="c" fill="#00bcc4" d="M3728 2606l17-5-21 3-17 5z"/>
<path class="c" fill="#00b8d0" d="M3594 2632l17-5-21 2-17 5z"/>
<path class="c" fill="#00bcc8" d="M3672 2618l17-5-21 3-18 4z"/>
<path class="c" fill="#00c0c4" d="M3711 2610l17-4-21 3-18 4z"/>
<path class="c" fill="#00b8d0" d="M3576 2637l18-5-21 2-18 5z"/>
<path class="c" fill="#00bccc" d="M3615 2630l18-5-22 2-17 5z"/>
<path class="c" fill="#00c0c4" d="M3693 2614l18-4-22 3-17 5z"/>
<path class="c" fill="#00b8d4" d="M3518 2650l19-6-21 2-18 5z"/>
<path class="c" fill="#00bcc8" d="M3597 2635l18-5-21 2-18 5z"/>
<path class="c" fill="#00c0c4" d="M3636 2627l18-5-21 3-18 5z"/>
<path class="c" fill="#00c0c0" d="M3675 2619l18-5-21 4-18 4z"/>
<path class="c" fill="#00b8d0" d="M3500 2655l18-5-20 1-19 5z"/>
<path class="c" fill="#00bcc8" d="M3579 2639l18-4-21 2-18 5z"/>
<path class="c" fill="#00c0c4" d="M3618 2631l18-4-21 3-18 5z"/>
<path class="c" fill="#00c0c0" d="M3658 2623l17-4-21 3-18 5z"/>
<path class="c" fill="#00bccc" d="M3521 2652l18-5-21 3-18 5z"/>
<path class="c" fill="#00bcc8" d="M3561 2644l18-5-21 3-19 5z"/>
<path class="c" fill="#00c0c4" d="M3600 2636l18-5-21 4-18 4z"/>
<path class="c" fill="#00c0bc" d="M3640 2627l18-4-22 4-18 4z"/>
<path class="c" fill="#00b8d4" d="M3424 2673l18-6-20 2-19 5z"/>
<path class="c" fill="#00bcc8" d="M3503 2657l18-5-21 3-18 5z"/>
<path class="c" fill="#00c0c4" d="M3542 2649l19-5-22 3-18 5z"/>
<path class="c" fill="#00c0c0" d="M3582 2641l18-5-21 3-18 5z"/>
<path class="c" fill="#00bcb8" d="M3622 2632l18-5-22 4-18 5z"/>
<path class="c" fill="#00c0c4" d="M3524 2654l18-5-21 3-18 5z"/>
<path class="c" fill="#00c0c0" d="M3564 2645l18-4-21 3-19 5z"/>
<path class="c" fill="#00bcb4" d="M3604 2636l18-4-22 4-18 5z"/>
<path class="c" fill="#00b8d0" d="M3386 2683l19-5-21 2-19 5z"/>
<path class="c" fill="#00bccc" d="M3426 2675l18-5-20 3-19 5z"/>
<path class="c" fill="#00bcc8" d="M3465 2667l19-5-21 3-19 5z"/>
<path class="c" fill="#00c0c4" d="M3505 2659l19-5-21 3-19 5z"/>
<path class="c" fill="#00c0bc" d="M3545 2650l19-5-22 4-18 5z"/>
<path class="c" fill="#00bcb0" d="M3585 2640l19-4-22 5-18 4z"/>
<path class="c" fill="#00b4d4" d="M3327 2697l19-6-20 1-20 6z"/>
<path class="c" fill="#00bccc" d="M3407 2681l19-6-21 3-19 5z"/>
<path class="c" fill="#00bcc4" d="M3447 2672l18-5-21 3-18 5z"/>
<path class="c" fill="#00c0c0" d="M3487 2663l18-4-21 3-19 5z"/>
<path class="c" fill="#00bcb8" d="M3527 2654l18-4-21 4-19 5z"/>
<path class="c" fill="#00b8ac" d="M3567 2645l18-5-21 5-19 5z"/>
<path class="c" fill="#00bcc8" d="M3388 2686l19-5-21 2-19 6z"/>
<path class="c" fill="#00c0c4" d="M3428 2677l19-5-21 3-19 6z"/>
<path class="c" fill="#00c0c0" d="M3468 2668l19-5-22 4-18 5z"/>
<path class="c" fill="#00bcb4" d="M3508 2659l19-5-22 5-18 4z"/>
<path class="c" fill="#00b8ac" d="M3548 2649l19-4-22 5-18 4z"/>
<path class="c" fill="#00b8cc" d="M3328 2700l20-6-21 3-19 5z"/>
<path class="c" fill="#00bcc8" d="M3368 2691l20-5-21 3-19 5z"/>
<path class="c" fill="#00c0c4" d="M3409 2682l19-5-21 4-19 5z"/>
<path class="c" fill="#00c0bc" d="M3449 2673l19-5-21 4-19 5z"/>
<path class="c" fill="#00bcb0" d="M3489 2663l19-4-21 4-19 5z"/>
<path class="c" fill="#00b4d4" d="M3228 2722l20-6-20 1-20 6z"/>
<path class="c" fill="#008c6c" d="M3530 2654l18-5-21 5-19 5z"/>
<path class="c" fill="#00b8d0" d="M3268 2714l20-6-20 2-20 6z"/>
<path class="c" fill="#00b8cc" d="M3309 2705l19-5-20 2-20 6z"/>
<path class="c" fill="#00bcc4" d="M3349 2696l19-5-20 3-20 6z"/>
<path class="c" fill="#00c0c0" d="M3389 2687l20-5-21 4-20 5z"/>
<path class="c" fill="#00bcb8" d="M3430 2678l19-5-21 4-19 5z"/>
<path class="c" fill="#00b0d4" d="M3168 2735l20-6-20 2-20 6z"/>
<path class="c" fill="#00b8b0" d="M3470 2668l19-5-21 5-19 5z"/>
<path class="c" fill="#00b4d0" d="M3208 2728l20-6-20 1-20 6z"/>
<path class="c" fill="#00b8cc" d="M3249 2719l19-5-20 2-20 6z"/>
<path class="c" fill="#008c6c" d="M3511 2658l19-4-22 5-19 4z"/>
<path class="c" fill="#00bcc8" d="M3289 2711l20-6-21 3-20 6z"/>
<path class="c" fill="#00bcc4" d="M3330 2702l19-6-21 4-19 5z"/>
<path class="c" fill="#00c0c0" d="M3370 2692l19-5-21 4-19 5z"/>
<path class="c" fill="#00bcb4" d="M3411 2683l19-5-21 4-20 5z"/>
<path class="c" fill="#00b0d4" d="M3148 2742l20-7-20 2-20 6z"/>
<path class="c" fill="#00b4d0" d="M3188 2733l20-5-20 1-20 6z"/>
<path class="c" fill="#00b8ac" d="M3451 2673l19-5-21 5-19 5z"/>
<path class="c" fill="#00b8cc" d="M3229 2725l20-6-21 3-20 6z"/>
<path class="c" fill="#008c6c" d="M3492 2662l19-4-22 5-19 5z"/>
<path class="c" fill="#00bcc8" d="M3269 2716l20-5-21 3-19 5z"/>
<path class="c" fill="#00bcc4" d="M3310 2707l20-5-21 3-20 6z"/>
<path class="c" fill="#00c0bc" d="M3351 2697l19-5-21 4-19 6z"/>
<path class="c" fill="#00b0d8" d="M3087 2756l21-7-20 1-21 7z"/>
<path class="c" fill="#00bcb4" d="M3391 2687l20-4-22 4-19 5z"/>
<path class="c" fill="#00b0d4" d="M3128 2748l20-6-20 1-20 6z"/>
<path class="c" fill="#00b4d0" d="M3168 2739l20-6-20 2-20 7z"/>
<path class="c" fill="#008c6c" d="M3432 2677l19-4-21 5-19 5z"/>
<path class="c" fill="#00b8cc" d="M3209 2731l20-6-21 3-20 5z"/>
<path class="c" fill="#008c68" d="M3473 2667l19-5-22 6-19 5z"/>
<path class="c" fill="#00bcc4" d="M3250 2722l19-6-20 3-20 6z"/>
<path class="c" fill="#00c0c0" d="M3290 2712l20-5-21 4-20 5z"/>
<path class="c" fill="#00bcbc" d="M3331 2702l20-5-21 5-20 5z"/>
<path class="c" fill="#00b4d0" d="M3107 2754l21-6-20 1-21 7z"/>
<path class="c" fill="#00b8b0" d="M3372 2692l19-5-21 5-19 5z"/>
<path class="c" fill="#00b4cc" d="M3148 2745l20-6-20 3-20 6z"/>
<path class="c" fill="#008c6c" d="M3413 2682l19-5-21 6-20 4z"/>
<path class="c" fill="#00b8c8" d="M3189 2736l20-5-21 2-20 6z"/>
<path class="c" fill="#009068" d="M3454 2671l19-4-22 6-19 4z"/>
<path class="b" fill="#00a8e0" d="M2924 2792l21-7-19-1-22 8z"/>
<path class="c" fill="#00bcc4" d="M3230 2727l20-5-21 3-20 6z"/>
<path class="c" fill="#00c0c0" d="M3270 2717l20-5-21 4-19 6z"/>
<path class="c" fill="#00bcb8" d="M3311 2707l20-5-21 5-20 5z"/>
<path class="c" fill="#00b8ac" d="M3352 2697l20-5-21 5-20 5z"/>
<path class="c" fill="#00b4cc" d="M3128 2751l20-6-20 3-21 6z"/>
<path class="c" fill="#008c6c" d="M3393 2686l20-4-22 5-19 5z"/>
<path class="c" fill="#00b8c8" d="M3168 2742l21-6-21 3-20 6z"/>
<path class="c" fill="#009068" d="M3434 2675l20-4-22 6-19 5z"/>
<path class="c" fill="#00bcc4" d="M3209 2733l21-6-21 4-20 5z"/>
<path class="c" fill="#00a8dc" d="M2943 2791l22-7-20 1-21 7z"/>
<path class="c" fill="#00c0c0" d="M3250 2723l20-6-20 5-20 5z"/>
<path class="c" fill="#00b0d4" d="M3025 2775l21-7-20 2-21 7z"/>
<path class="c" fill="#00bcb4" d="M3291 2712l20-5-21 5-20 5z"/>
<path class="c" fill="#008c6c" d="M3332 2702l20-5-21 5-20 5z"/>
<path class="c" fill="#00b4cc" d="M3107 2757l21-6-21 3-20 6z"/>
<path class="c" fill="#008c6c" d="M3374 2691l19-5-21 6-20 5z"/>
<path class="c" fill="#00b8c4" d="M3148 2748l20-6-20 3-20 6z"/>
<path class="c" fill="#009068" d="M3415 2680l19-5-21 7-20 4z"/>
<path class="c" fill="#00bcc0" d="M3189 2738l20-5-20 3-21 6z"/>
<path class="c" fill="#00bcbc" d="M3230 2728l20-5-20 4-21 6z"/>
<path class="c" fill="#00b8b0" d="M3271 2718l20-6-21 5-20 6z"/>
<path class="c" fill="#00b4cc" d="M3045 2772l21-6-20 2-21 7z"/>
<path class="c" fill="#008c6c" d="M3313 2707l19-5-21 5-20 5z"/>
<path class="c" fill="#00b8c8" d="M3086 2763l21-6-20 3-21 6z"/>
<path class="c" fill="#009068" d="M3354 2696l20-5-22 6-20 5z"/>
<path class="c" fill="#00b8c4" d="M3127 2753l21-5-20 3-21 6z"/>
<path class="c" fill="#009064" d="M3395 2684l20-4-22 6-19 5z"/>
<path class="c" fill="#00bcc0" d="M3169 2744l20-6-21 4-20 6z"/>
<path class="c" fill="#00bcb8" d="M3210 2733l20-5-21 5-20 5z"/>
<path class="c" fill="#00b0d0" d="M2983 2788l21-7-20 2-21 7z"/>
<path class="c" fill="#00b8ac" d="M3251 2723l20-5-21 5-20 5z"/>
<path class="c" fill="#00b4cc" d="M3024 2778l21-6-20 3-21 6z"/>
<path class="c" fill="#008c6c" d="M3293 2712l20-5-22 5-20 6z"/>
<path class="c" fill="#00b8c8" d="M3065 2769l21-6-20 3-21 6z"/>
<path class="c" fill="#009068" d="M3334 2700l20-4-22 6-19 5z"/>
<path class="c" fill="#00bcc4" d="M3107 2759l20-6-20 4-21 6z"/>
<path class="c" fill="#009464" d="M3375 2689l20-5-21 7-20 5z"/>
<path class="c" fill="#00bcc0" d="M3148 2749l21-5-21 4-21 5z"/>
<path class="c" fill="#00bcb4" d="M3189 2739l21-6-21 5-20 6z"/>
<path class="c" fill="#008c6c" d="M3231 2728l20-5-21 5-20 5z"/>
<path class="c" fill="#00b4cc" d="M3003 2785l21-7-20 3-21 7z"/>
<path class="c" fill="#008c6c" d="M3272 2716l21-4-22 6-20 5z"/>
<path class="c" fill="#00b8c4" d="M3044 2775l21-6-20 3-21 6z"/>
<path class="c" fill="#009068" d="M3314 2705l20-5-21 7-20 5z"/>
<path class="c" fill="#00bcc0" d="M3086 2765l21-6-21 4-21 6z"/>
<path class="c" fill="#009464" d="M3356 2693l19-4-21 7-20 4z"/>
<path class="c" fill="#00bcbc" d="M3127 2755l21-6-21 4-20 6z"/>
<path class="c" fill="#00b8b0" d="M3169 2744l20-5-20 5-21 5z"/>
<path class="c" fill="#008c6c" d="M3210 2733l21-5-21 5-21 6z"/>
<path class="c" fill="#00b4c8" d="M2982 2791l21-6-20 3-21 6z"/>
<path class="c" fill="#00906c" d="M3252 2721l20-5-21 7-20 5z"/>
<path class="c" fill="#00b8c4" d="M3023 2781l21-6-20 3-21 7z"/>
<path class="c" fill="#009068" d="M3294 2710l20-5-21 7-21 4z"/>
<path class="c" fill="#00bcc0" d="M3065 2771l21-6-21 4-21 6z"/>
<path class="c" fill="#00bcb8" d="M3106 2760l21-5-20 4-21 6z"/>
<path class="c" fill="#009464" d="M3335 2697l21-4-22 7-20 5z"/>
<path class="c" fill="#00b8b0" d="M3148 2749l21-5-21 5-21 6z"/>
<path class="c" fill="#008c6c" d="M3190 2738l20-5-21 6-20 5z"/>
<path class="c" fill="#009068" d="M3232 2726l20-5-21 7-21 5z"/>
<path class="c" fill="#00b8c4" d="M3002 2787l21-6-20 4-21 6z"/>
<path class="c" fill="#00bcc0" d="M3044 2777l21-6-21 4-21 6z"/>
<path class="c" fill="#009464" d="M3273 2714l21-4-22 6-20 5z"/>
<path class="c" fill="#00bcb8" d="M3085 2766l21-6-20 5-21 6z"/>
<path class="c" fill="#009460" d="M3315 2702l20-5-21 8-20 5z"/>
<path class="c" fill="#008c70" d="M3127 2755l21-6-21 6-21 5z"/>
<path class="c" fill="#008c6c" d="M3169 2743l21-5-21 6-21 5z"/>
<path class="c" fill="#009068" d="M3211 2731l21-5-22 7-20 5z"/>
<path class="c" fill="#00bcbc" d="M3022 2782l22-5-21 4-21 6z"/>
<path class="c" fill="#009464" d="M3253 2719l20-5-21 7-20 5z"/>
<path class="c" fill="#00b8b4" d="M3064 2771l21-5-20 5-21 6z"/>
<path class="c" fill="#009860" d="M3295 2706l20-4-21 8-21 4z"/>
<path class="c" fill="#008c70" d="M3106 2760l21-5-21 5-21 6z"/>
<path class="c" fill="#00906c" d="M3148 2748l21-5-21 6-21 6z"/>
<path class="c" fill="#009068" d="M3190 2736l21-5-21 7-21 5z"/>
<path class="c" fill="#009464" d="M3232 2723l21-4-21 7-21 5z"/>
<path class="c" fill="#00b8b0" d="M3043 2777l21-6-20 6-22 5z"/>
<path class="c" fill="#009860" d="M3274 2711l21-5-22 8-20 5z"/>
<path class="c" fill="#008c6c" d="M3085 2765l21-5-21 6-21 5z"/>
<path class="c" fill="#00906c" d="M3127 2753l21-5-21 7-21 5z"/>
<path class="c" fill="#009468" d="M3169 2741l21-5-21 7-21 5z"/>
<path class="c" fill="#009464" d="M3211 2728l21-5-21 8-21 5z"/>
<path class="c" fill="#009860" d="M3254 2715l20-4-21 8-21 4z"/>
<path class="c" fill="#00906c" d="M3064 2771l21-6-21 6-21 6z"/>
<path class="c" fill="#009068" d="M3106 2758l21-5-21 7-21 5z"/>
<path class="c" fill="#009468" d="M3148 2746l21-5-21 7-21 5z"/>
<path class="c" fill="#009860" d="M3190 2733l21-5-21 8-21 5z"/>
<path class="c" fill="#00985c" d="M3233 2719l21-4-22 8-21 5z"/>
<path class="c" fill="#009468" d="M3084 2763l22-5-21 7-21 6z"/>
<path class="c" fill="#009464" d="M3127 2751l21-5-21 7-21 5z"/>
<path class="c" fill="#009860" d="M3169 2737l21-4-21 8-21 5z"/>
<path class="c" fill="#009c5c" d="M3212 2724l21-5-22 9-21 5z"/>
<path class="c" fill="#009464" d="M3105 2755l22-4-21 7-22 5z"/>
<path class="c" fill="#009860" d="M3148 2742l21-5-21 9-21 5z"/>
<path class="c" fill="#009c5c" d="M3191 2728l21-4-22 9-21 4z"/>
<path class="c" fill="#009860" d="M3127 2747l21-5-21 9-22 4z"/>
<path class="c" fill="#009c58" d="M3170 2733l21-5-22 9-21 5zM3148 2737l22-4-22 9-21 5z"/>
</g>
<circle class="dp" cx="1573.9" cy="1246.6" r="7.6"/>
<circle class="dp" cx="1573.9" cy="1280.6" r="7.6"/>
<circle class="dp" cx="1573.9" cy="1292.8" r="7.6"/>
<path class="dl" d="M1573.9 1246.6V1308.8"/>
<path class="tk" d="M1574 1633.4h0M1574 1633.4h0M1665.3 1589.7h0M1482.6 1589.7h0M1756.7 1546h0M1391.2 1545.9h0M1848 1502.2h0M1299.8 1502.2h0M1939.4 1458.5h0M1208.4 1458.5h0M1202.7 1338.9h0M1198 1243.3h0M1193.4 1147.6h0M1188.8 1051.9h0M1184.2 956.2h0"/>
<text class="s" font-size="21.00" transform="matrix(1.0000 0 0 1 110.00 486.51)">2</text>
<text class="s" font-size="20.70" transform="matrix(1.0000 0 0 1 88.17 393.72)">9.5</text>
<text class="s" font-size="21.30" transform="matrix(1.0000 0 0 1 89.05 301.34)">17</text>
<text class="s" font-size="20.70" transform="matrix(1.0000 0 0 1 67.71 208.55)">24.5</text>
<text class="s" font-size="20.70" transform="matrix(1.0000 0 0 1 80.72 115.97)">32</text>
<text class="s" font-size="21.30" transform="matrix(1.0000 0 0 1 1171.03 482.87)">7</text>
<text class="s" font-size="20.70" transform="matrix(1.0000 0 0 1 1126.35 389.21)">30.25</text>
<text class="s" font-size="20.70" transform="matrix(1.0000 0 0 1 1133.34 295.75)">53.5</text>
<text class="s" font-size="20.70" transform="matrix(1.0000 0 0 1 1117.34 202.30)">76.75</text>
<text class="s" font-size="20.70" transform="matrix(1.0000 0 0 1 1130.02 108.84)">100</text>
<text class="s" font-size="20.70" transform="matrix(1.0000 0 0 1 84.08 1339.74)">9.0</text>
<text class="s" font-size="21.00" transform="matrix(1.0000 0 0 1 56.05 1247.23)">14.75</text>
<text class="s" font-size="20.70" transform="matrix(1.0000 0 0 1 63.84 1154.71)">20.5</text>
<text class="s" font-size="20.70" transform="matrix(1.0000 0 0 1 47.93 1062.20)">26.25</text>
<text class="s" font-size="20.70" transform="matrix(1.0000 0 0 1 72.49 969.68)">32</text>
<text class="s" font-size="20.70" transform="matrix(1.0000 0 0 1 1162.60 1357.34)">9.0</text>
<text class="s" font-size="20.70" transform="matrix(1.0000 0 0 1 1135.12 1261.65)">31.75</text>
<text class="s" font-size="21.00" transform="matrix(1.0000 0 0 1 1141.44 1165.95)">54.5</text>
<text class="s" font-size="20.70" transform="matrix(1.0000 0 0 1 1125.92 1070.26)">77.25</text>
<text class="s" font-size="20.70" transform="matrix(1.0000 0 0 1 1138.50 974.56)">100</text>
<text class="s" font-size="19.72" transform="matrix(1.0398 0 0 1 64.38 601.00)">300</text>
<text class="s" font-size="20.28" transform="matrix(1.0204 0 0 1 153.27 644.30)">250</text>
<text class="s" font-size="20.28" transform="matrix(1.0236 0 0 1 256.46 693.10)">200</text>
<text class="s" font-size="19.44" transform="matrix(1.0588 0 0 1 329.46 729.31)">150</text>
<text class="s" font-size="19.44" transform="matrix(1.0389 0 0 1 418.29 765.71)">100</text>
<text class="s" font-size="20.14" transform="matrix(0.9892 0 0 1 499.70 770.40)">3.0</text>
<text class="s" font-size="20.14" transform="matrix(0.9818 0 0 1 595.60 729.10)">4.0</text>
<text class="s" font-size="20.14" transform="matrix(0.9741 0 0 1 682.32 684.40)">5.0</text>
<text class="s" font-size="20.56" transform="matrix(0.9875 0 0 1 766.78 645.89)">6.0</text>
<text class="s" font-size="21.13" transform="matrix(0.9757 0 0 1 852.67 606.59)">7.0</text>
<text class="s" font-size="20.42" transform="matrix(0.9793 0 0 1 1148.40 598.60)">4.00</text>
<text class="s" font-size="20.00" transform="matrix(1.0107 0 0 1 1237.69 642.30)">3.50</text>
<text class="s" font-size="20.14" transform="matrix(1.0089 0 0 1 1326.39 684.50)">3.00</text>
<text class="s" font-size="20.00" transform="matrix(1.0565 0 0 1 1414.74 728.00)">2.50</text>
<text class="s" font-size="19.58" transform="matrix(1.0408 0 0 1 1504.58 769.50)">2.00</text>
<text class="s" font-size="19.58" transform="matrix(1.0434 0 0 1 1555.98 769.50)">3.00</text>
<text class="s" font-size="19.72" transform="matrix(1.0304 0 0 1 1645.49 728.10)">4.00</text>
<text class="s" font-size="18.59" transform="matrix(1.0844 0 0 1 1734.59 684.31)">5.00</text>
<text class="s" font-size="20.70" transform="matrix(0.9842 0 0 1 1823.28 642.69)">6.00</text>
<text class="s" font-size="21.41" transform="matrix(0.9342 0 0 1 1913.60 598.99)">7.00</text>
<text class="s" font-size="19.15" transform="matrix(1.0961 0 0 1 78.65 1455.41)">6.0</text>
<text class="s" font-size="20.99" transform="matrix(0.9385 0 0 1 168.11 1498.49)">5.0</text>
<text class="s" font-size="20.00" transform="matrix(1.0075 0 0 1 256.20 1540.10)">4.0</text>
<text class="s" font-size="20.28" transform="matrix(1.0199 0 0 1 343.67 1583.20)">3.0</text>
<text class="s" font-size="20.99" transform="matrix(0.9581 0 0 1 432.49 1624.79)">2.00</text>
<text class="s" font-size="22.39" transform="matrix(0.9161 0 0 1 482.96 1624.88)">100</text>
<text class="s" font-size="22.39" transform="matrix(0.9275 0 0 1 571.24 1583.18)">150</text>
<text class="s" font-size="22.39" transform="matrix(0.9157 0 0 1 659.47 1540.28)">200</text>
<text class="s" font-size="22.11" transform="matrix(0.9274 0 0 1 747.77 1497.88)">250</text>
<text class="s" font-size="20.70" transform="matrix(0.9842 0 0 1 836.68 1454.49)">300</text>
<text class="s" font-size="20.00" transform="matrix(1.0159 0 0 1 1156.39 1477.10)">4.00</text>
<text class="s" font-size="21.13" transform="matrix(0.9770 0 0 1 1247.37 1521.49)">3.50</text>
<text class="s" font-size="20.99" transform="matrix(0.9836 0 0 1 1338.37 1564.99)">3.00</text>
<text class="s" font-size="20.00" transform="matrix(1.0511 0 0 1 1429.05 1609.10)">2.50</text>
<text class="s" font-size="17.61" transform="matrix(1.1391 0 0 1 1521.30 1651.02)">2.00</text>
<text class="s" font-size="20.70" transform="matrix(0.9505 0 0 1 1575.32 1653.09)">100</text>
<text class="s" font-size="20.70" transform="matrix(1.0281 0 0 1 1664.70 1608.89)">150</text>
<text class="s" font-size="20.70" transform="matrix(1.0088 0 0 1 1755.96 1564.79)">200</text>
<text class="s" font-size="20.70" transform="matrix(1.0118 0 0 1 1846.65 1520.69)">250</text>
<text class="s" font-size="19.01" transform="matrix(1.1015 0 0 1 1939.26 1476.61)">300</text>
<text class="t" font-size="28.79" transform="matrix(1.1249 0 0 1 50.23 761.21)">C: Disperser(µL)</text>
<text class="t" font-size="29.14" transform="matrix(1.0951 0 0 1 712.18 740.73)">A: pH</text>
<text class="t" font-size="30.33" transform="matrix(1.0887 0 0 1 1178.00 741.08)">E: Time (min)</text>
<text class="t" font-size="29.26" transform="matrix(1.1118 0 0 1 1778.17 746.41)">A: pH</text>
<text class="t" font-size="30.11" transform="matrix(1.0796 0 0 1 117.81 1596.13)">D: Salt (%)</text>
<text class="t" font-size="29.67" transform="matrix(1.1012 0 0 1 653.27 1597.92)">C: Disperser (µL)</text>
<text class="t" font-size="30.11" transform="matrix(1.1134 0 0 1 1156.30 1624.83)">E: Time (min)</text>
<text class="t" font-size="29.67" transform="matrix(1.1341 0 0 1 1750.42 1624.82)">C: Disperser (µL)</text>
<text class="t" font-size="44.58" transform="matrix(1.0352 0 0 1 228.92 129.85)">a</text>
<text class="t" font-size="45.39" transform="matrix(1.1168 0 0 1 1288.89 121.55)">b</text>
<text class="t" font-size="44.79" transform="matrix(1.0496 0 0 1 186.35 996.95)">c</text>
<text class="t" font-size="46.67" transform="matrix(1.0990 0 0 1 1279.95 1001.53)">d</text>
<text class="t" font-size="31.49" transform="matrix(0 -1.0464 1 0 38.99 429.79)">Peak Area</text>
<text class="t" font-size="32.06" transform="matrix(0 -0.9894 1 0 1085.58 434.48)">Peak Area</text>
<text class="t" font-size="29.79" transform="matrix(0 -1.0763 1 0 26.90 1318.58)">Peak Area</text>
<text class="t" font-size="31.35" transform="matrix(0 -1.0453 1 0 1078.09 1309.09)">Peak Area</text></svg></body></html>
